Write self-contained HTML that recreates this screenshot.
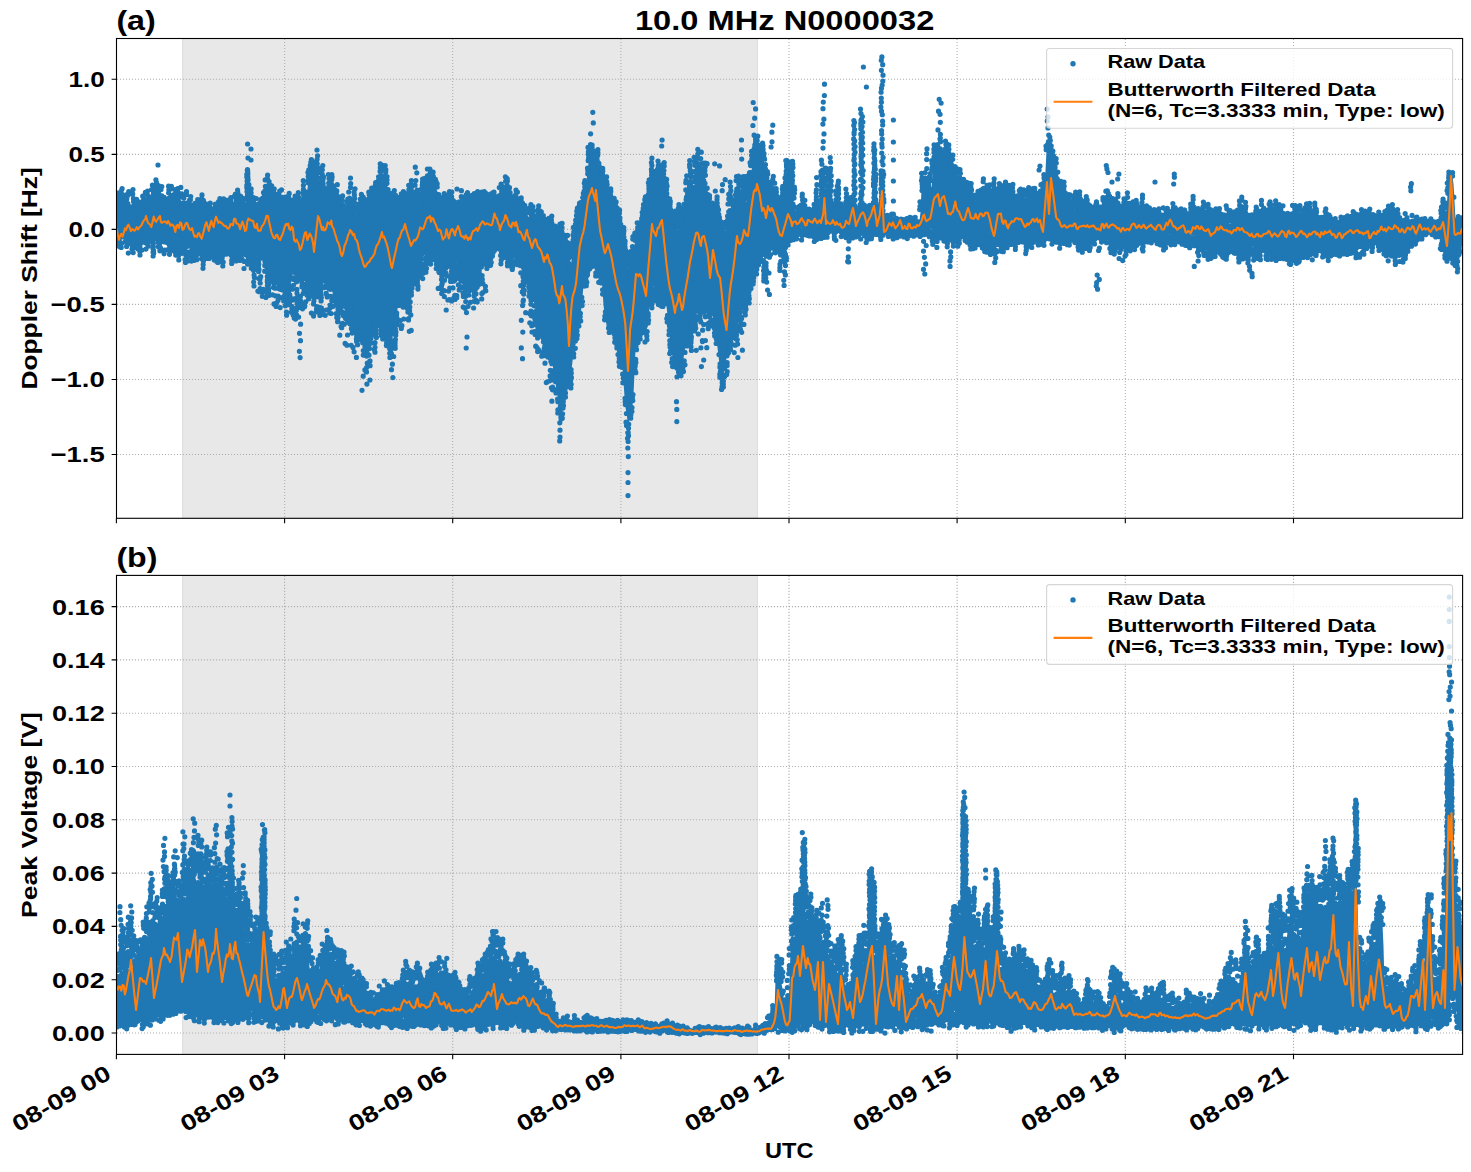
<!DOCTYPE html>
<html lang="en"><head><meta charset="utf-8"><title>10.0 MHz N0000032</title>
<style>html,body{margin:0;padding:0;background:#fff}svg{display:block}svg text{font-family:"Liberation Sans",sans-serif;font-weight:bold;fill:#000}</style>
</head><body>
<svg width="1471" height="1172" viewBox="0 0 1471 1172" font-family="Liberation Sans, sans-serif" font-weight="bold">
<rect width="1471" height="1172" fill="#fff"/>
<defs><clipPath id="c1"><rect x="116.5" y="38.5" width="1346.1" height="479.8"/></clipPath><clipPath id="c2"><rect x="116.5" y="575.4" width="1346.1" height="479"/></clipPath></defs>
<rect x="182.3" y="38.5" width="575.5" height="479.8" fill="#e8e8e8"/>
<path d="M182.7 38.5V518.3M757.4 38.5V518.3" stroke="#dddddd" stroke-width="1" fill="none"/>
<path d="M284.6 38.5V518.3M452.7 38.5V518.3M620.9 38.5V518.3M789 38.5V518.3M957.1 38.5V518.3M1125.3 38.5V518.3M1293.5 38.5V518.3M116.5 79.3H1462.6M116.5 154.4H1462.6M116.5 229.4H1462.6M116.5 304.4H1462.6M116.5 379.5H1462.6M116.5 454.5H1462.6" stroke="#b0b0b0" stroke-width="1.1" stroke-dasharray="1.1 1.9" stroke-dashoffset="-0.45" fill="none"/>
<g clip-path="url(#c1)">
<path d="M116.5 202.2L117.5 203.8L118.5 202.8L119.5 200.6L120.5 200.7L121.5 202L122.5 202.7L123.5 201L124.5 199.4L125.5 202L126.5 204.5L127.5 206.2L128.5 207.6L129.5 207.2L130.5 207.2L131.5 210.4L132.5 211.4L133.5 209.6L134.5 209.9L135.5 211.5L136.5 212.7L137.5 211.6L138.5 210.7L139.5 210.4L140.5 210.2L141.5 210.1L142.5 208.9L143.5 205.7L144.5 205.3L145.5 204.8L146.5 203.2L147.5 202.1L148.5 201.3L149.5 200.9L150.5 200L151.5 202.4L152.5 201.2L153.5 198.2L154.5 196.1L155.5 194.2L156.5 195.8L157.5 197L158.5 197.7L159.5 198.9L160.5 198.8L161.5 200.1L162.5 201.3L163.5 203.4L164.5 204.6L165.5 204.7L166.5 205.5L167.5 205.5L168.5 204.8L169.5 204.6L170.5 204.8L171.5 204.8L172.5 205.3L173.5 204.1L174.5 202.8L175.5 203.1L176.5 204.3L177.5 205.7L178.5 205.5L179.5 205.2L180.5 206.6L181.5 207L182.5 207.3L183.5 207.8L184.5 207.8L185.5 207.4L186.5 207.8L187.5 209.2L188.5 210.7L189.5 211.1L190.5 210.7L191.5 210.5L192.5 210.2L193.5 209.7L194.5 209.8L195.5 211.1L196.5 210.3L197.5 208.5L198.5 210.6L199.5 211.5L200.5 210.9L201.5 211.6L202.5 210.1L203.5 211.6L204.5 214.2L205.5 212.5L206.5 211.9L207.5 212L208.5 210.9L209.5 210.9L210.5 212.1L211.5 213.3L212.5 213.8L213.5 213.1L214.5 213.9L215.5 213.4L216.5 212.8L217.5 214L218.5 212.7L219.5 209.9L220.5 209L221.5 210.2L222.5 211L223.5 211.7L224.5 210.1L225.5 208.4L226.5 209.3L227.5 208.8L228.5 205.9L229.5 206.3L230.5 209.8L231.5 209.6L232.5 206.5L233.5 204.9L234.5 205.4L235.5 207.4L236.5 207.7L237.5 206L238.5 207L239.5 207.1L240.5 207.6L241.5 207.4L242.5 205.7L243.5 207.1L244.5 206.3L245.5 201.2L246.5 195.3L247.5 188.2L248.5 187.4L249.5 193.4L250.5 198.6L251.5 204.5L252.5 207.5L253.5 208.1L254.5 209L255.5 208.5L256.5 208.5L257.5 208.5L258.5 208.4L259.5 207L260.5 205.4L261.5 204L262.5 204.2L263.5 204.5L264.5 201.1L265.5 197.5L266.5 194.6L267.5 193.1L268.5 194.3L269.5 198L270.5 200L271.5 199.6L272.5 198.6L273.5 200.9L274.5 203.6L275.5 201.6L276.5 201.9L277.5 202.1L278.5 205.1L279.5 207.5L280.5 205.3L281.5 204.4L282.5 202.4L283.5 202.6L284.5 203.3L285.5 204.1L286.5 203.8L287.5 202.8L288.5 205.8L289.5 208.1L290.5 206.3L291.5 203.8L292.5 205.8L293.5 207.9L294.5 206.6L295.5 205.5L296.5 205.7L297.5 205.1L298.5 204.9L299.5 206.8L300.5 207.7L301.5 208.2L302.5 207.3L303.5 205.3L304.5 204.4L305.5 204.2L306.5 199.1L307.5 188.4L308.5 180.8L309.5 177.4L310.5 174.9L311.5 172.1L312.5 170.3L313.5 168.6L314.5 168.5L315.5 168.8L316.5 167.8L317.5 166.7L318.5 169.7L319.5 177.8L320.5 185.8L321.5 189.5L322.5 192.2L323.5 194.3L324.5 195.2L325.5 197.7L326.5 196.5L327.5 192.2L328.5 191.8L329.5 191.2L330.5 190L331.5 189.2L332.5 188.9L333.5 190.7L334.5 189.7L335.5 191.1L336.5 194L337.5 194.8L338.5 197L339.5 200.3L340.5 203.4L341.5 205.6L342.5 205.1L343.5 205L344.5 205.7L345.5 207.3L346.5 211L347.5 211.7L348.5 212.7L349.5 214.8L350.5 215.9L351.5 214.8L352.5 213L353.5 212.8L354.5 214.7L355.5 216L356.5 214.2L357.5 213.2L358.5 213L359.5 212.5L360.5 211.7L361.5 210.8L362.5 209.4L363.5 208.7L364.5 210.6L365.5 211.1L366.5 209.1L367.5 207.8L368.5 207L369.5 206.7L370.5 205.4L371.5 204.5L372.5 204.5L373.5 203L374.5 199L375.5 193.3L376.5 187.5L377.5 183.6L378.5 179L379.5 176.6L380.5 176.5L381.5 174.7L382.5 175.1L383.5 177.5L384.5 178.5L385.5 178.4L386.5 181L387.5 186.4L388.5 193L389.5 196.1L390.5 195.7L391.5 196.3L392.5 197.5L393.5 198.4L394.5 201.3L395.5 203.7L396.5 203.6L397.5 205.5L398.5 205.7L399.5 205.1L400.5 206.2L401.5 204.1L402.5 201.9L403.5 202.2L404.5 204.1L405.5 205.7L406.5 203.8L407.5 203.4L408.5 203.9L409.5 202.5L410.5 202.1L411.5 202L412.5 200.7L413.5 200L414.5 200.2L415.5 201.3L416.5 203.8L417.5 205.5L418.5 203.3L419.5 199.4L420.5 197.5L421.5 194.6L422.5 193.1L423.5 190.9L424.5 186.2L425.5 185.2L426.5 184.9L427.5 181.4L428.5 179.2L429.5 179L430.5 179.3L431.5 180.6L432.5 181.3L433.5 182.4L434.5 183.2L435.5 183.3L436.5 188L437.5 194.1L438.5 198.2L439.5 201.5L440.5 203.6L441.5 205.8L442.5 205L443.5 205.4L444.5 206.3L445.5 205.9L446.5 206.3L447.5 206.3L448.5 207.6L449.5 207.2L450.5 207.7L451.5 207.6L452.5 205.6L453.5 206.8L454.5 206.7L455.5 205.8L456.5 207.4L457.5 208.8L458.5 206.5L459.5 205.9L460.5 209L461.5 209.6L462.5 207.8L463.5 206.3L464.5 206.3L465.5 205.8L466.5 205.8L467.5 206.6L468.5 206.6L469.5 207.6L470.5 207.4L471.5 205L472.5 205.9L473.5 206.1L474.5 204.7L475.5 205.3L476.5 205.2L477.5 204.3L478.5 204.2L479.5 206.7L480.5 206.3L481.5 204.4L482.5 205.8L483.5 206.6L484.5 206.3L485.5 206.3L486.5 204.1L487.5 202.7L488.5 204.4L489.5 205.5L490.5 206.5L491.5 206.5L492.5 205.2L493.5 204.8L494.5 204.9L495.5 205L496.5 204.9L497.5 202.8L498.5 199.9L499.5 197.8L500.5 197.7L501.5 197.8L502.5 196.1L503.5 194.3L504.5 192.7L505.5 190.4L506.5 190.3L507.5 190.9L508.5 191.7L509.5 193.5L510.5 195.7L511.5 197.1L512.5 197.8L513.5 199.9L514.5 202.5L515.5 202.8L516.5 202L517.5 204.1L518.5 204.8L519.5 205.4L520.5 206.7L521.5 207L522.5 206.8L523.5 208.3L524.5 210.3L525.5 209.8L526.5 212.7L527.5 214.9L528.5 216.8L529.5 217.2L530.5 214.7L531.5 215.1L532.5 217.4L533.5 218L534.5 217.7L535.5 218.8L536.5 218.3L537.5 218.7L538.5 219.7L539.5 219.2L540.5 221.1L541.5 223.5L542.5 223.7L543.5 223.2L544.5 222.3L545.5 224.3L546.5 226.7L547.5 225.8L548.5 226.6L549.5 227.6L550.5 228.5L551.5 230.7L552.5 231.5L553.5 231.8L554.5 231.9L555.5 231.1L556.5 230.9L557.5 231.6L558.5 232L559.5 232.9L560.5 234.9L561.5 238.4L562.5 238.1L563.5 239.4L564.5 243.7L565.5 247.6L566.5 251.7L567.5 252.4L568.5 259L569.5 269.9L570.5 270.4L571.5 259.9L572.5 249L573.5 241.1L574.5 233.8L575.5 226.1L576.5 218.7L577.5 215.1L578.5 213L579.5 208L580.5 202.4L581.5 199.3L582.5 197.3L583.5 193.7L584.5 189.8L585.5 187.8L586.5 181.2L587.5 171.6L588.5 163L589.5 157.8L590.5 156.8L591.5 154.6L592.5 154L593.5 157.1L594.5 158.3L595.5 157.5L596.5 160.3L597.5 162.4L598.5 162.5L599.5 166.2L600.5 170.6L601.5 175.6L602.5 179.3L603.5 181.5L604.5 184.4L605.5 187.2L606.5 190.1L607.5 192.3L608.5 195.1L609.5 197L610.5 200.6L611.5 204.6L612.5 206.5L613.5 207.6L614.5 209.4L615.5 213L616.5 219L617.5 221.9L618.5 222.7L619.5 226L620.5 229.5L621.5 233.3L622.5 238L623.5 244L624.5 248.2L625.5 250.6L626.5 253.2L627.5 257.8L628.5 263.2L629.5 278L630.5 277.1L631.5 262.1L632.5 257.1L633.5 251.4L634.5 244.7L635.5 237.9L636.5 233.7L637.5 231.5L638.5 230.5L639.5 227.1L640.5 222.4L641.5 221.7L642.5 219.2L643.5 216.6L644.5 214.1L645.5 210.4L646.5 207.5L647.5 203.5L648.5 200.4L649.5 200.7L650.5 199.4L651.5 195.4L652.5 193.7L653.5 192.5L654.5 191.3L655.5 189.4L656.5 187.2L657.5 186.8L658.5 185.1L659.5 181.6L660.5 180.1L661.5 179.2L662.5 181.1L663.5 184.9L664.5 187.5L665.5 191.8L666.5 197.8L667.5 201.5L668.5 203.8L669.5 207.4L670.5 210.8L671.5 214.5L672.5 218.4L673.5 219.3L674.5 221.8L675.5 225.1L676.5 225.7L677.5 229.7L678.5 229.8L679.5 227.5L680.5 226.4L681.5 221.9L682.5 219.1L683.5 217.5L684.5 214L685.5 208.5L686.5 205.8L687.5 205.6L688.5 202.9L689.5 202.6L690.5 202.8L691.5 202L692.5 202.9L693.5 203.6L694.5 204L695.5 205.2L696.5 206.6L697.5 206.6L698.5 206.2L699.5 204.8L700.5 204.6L701.5 204.5L702.5 203.6L703.5 202.8L704.5 202.5L705.5 204.8L706.5 205.5L707.5 208.7L708.5 211L709.5 210.2L710.5 210.8L711.5 213.2L712.5 216L713.5 215.9L714.5 214.8L715.5 215.4L716.5 218.4L717.5 219.8L718.5 219.6L719.5 220.4L720.5 222.1L721.5 224.6L722.5 226.2L723.5 227.7L724.5 230.6L725.5 230.5L726.5 225.9L727.5 223.2L728.5 222.1L729.5 219.2L730.5 217.5L731.5 214.8L732.5 211.5L733.5 209.4L734.5 207.6L735.5 207L736.5 206.7L737.5 204.5L738.5 203.5L739.5 204L740.5 205L741.5 205.9L742.5 205.9L743.5 205.7L744.5 203.4L745.5 203.8L746.5 203.1L747.5 198.1L748.5 191.8L749.5 186.5L750.5 180.2L751.5 170.9L752.5 163.1L753.5 157.6L754.5 152.6L755.5 146.8L756.5 143.8L757.5 145.2L758.5 148.7L759.5 149.6L760.5 148.3L761.5 150.2L762.5 154.9L763.5 159.5L764.5 164.1L765.5 168.5L766.5 173.2L767.5 177.5L768.5 181.2L769.5 184.8L770.5 187.6L771.5 190.9L772.5 193.6L773.5 195.5L774.5 198.6L775.5 200.6L776.5 201.5L777.5 202.3L778.5 202.5L779.5 204.6L780.5 208.4L781.5 209.6L782.5 211.1L783.5 211.6L784.5 210.8L785.5 210.6L786.5 209.2L787.5 211L788.5 210.5L789.5 209L790.5 209.1L791.5 208.5L792.5 208.1L793.5 207.4L794.5 208.7L795.5 210.6L796.5 209L797.5 207.2L798.5 208.6L799.5 207.9L800.5 207.9L801.5 208.2L802.5 208.6L803.5 210.1L804.5 211L805.5 211.4L806.5 209.9L807.5 210.6L808.5 211.1L809.5 211.7L810.5 214.3L811.5 214.6L812.5 213.3L813.5 214.3L814.5 215.1L815.5 213.1L816.5 212.6L817.5 214.8L818.5 214.9L819.5 213.8L820.5 213.7L821.5 212.2L822.5 212L823.5 213.7L824.5 214.3L825.5 213.8L826.5 211.9L827.5 213L828.5 215.4L829.5 215.2L830.5 215.7L831.5 214.4L832.5 212.8L833.5 213.4L834.5 215.3L835.5 213.6L836.5 212L837.5 212.8L838.5 213.5L839.5 215.3L840.5 214.7L841.5 212.5L842.5 212.8L843.5 213.6L844.5 212.3L845.5 213.4L846.5 214.2L847.5 214.1L848.5 213.4L849.5 213.7L850.5 213.5L851.5 213.4L852.5 213L853.5 213.2L854.5 214.3L855.5 211.8L856.5 211.9L857.5 213.3L858.5 212.6L859.5 211.9L860.5 212.8L861.5 213L862.5 210.2L863.5 209.9L864.5 212.7L865.5 213.2L866.5 213.6L867.5 212.7L868.5 213.9L869.5 215.1L870.5 213.1L871.5 213.3L872.5 213.8L873.5 213L874.5 211.7L875.5 212.4L876.5 213.3L877.5 210.9L878.5 209.6L879.5 212.2L880.5 214.5L881.5 215.7L882.5 217.4L883.5 218.7L884.5 220.8L885.5 220.9L886.5 219.3L887.5 220.2L888.5 221.2L889.5 221.7L890.5 222.4L891.5 221.5L892.5 221.3L893.5 222.2L894.5 220.6L895.5 220.2L896.5 222.7L897.5 223.5L898.5 221.7L899.5 219.4L900.5 219.3L901.5 220.5L902.5 221.1L903.5 223.4L904.5 223.9L905.5 222.4L906.5 221.1L907.5 220L908.5 220.6L909.5 221.1L910.5 223.5L911.5 223.5L912.5 220.8L913.5 222L914.5 222.5L915.5 220.7L916.5 221.6L917.5 222.3L918.5 220.4L919.5 220.8L920.5 212.3L921.5 189.1L922.5 189.3L923.5 190.3L924.5 188.9L925.5 186.6L926.5 185.3L927.5 186.9L928.5 189.9L929.5 190.9L930.5 196L931.5 191.7L932.5 170.6L933.5 157.9L934.5 156.6L935.5 156.3L936.5 157.9L937.5 157.2L938.5 156.6L939.5 155.7L940.5 156.2L941.5 158.2L942.5 157.8L943.5 157.1L944.5 156.9L945.5 156.7L946.5 156.4L947.5 156.5L948.5 157.1L949.5 157.1L950.5 160.1L951.5 165.5L952.5 169.8L953.5 175.6L954.5 179.7L955.5 179.5L956.5 179.9L957.5 181.8L958.5 182.6L959.5 181.8L960.5 183L961.5 184.7L962.5 186.6L963.5 189.4L964.5 190.6L965.5 189.4L966.5 191L967.5 195.3L968.5 194.7L969.5 195.3L970.5 196.9L971.5 196.3L972.5 196.1L973.5 195.8L974.5 196.4L975.5 200.2L976.5 201.1L977.5 199.1L978.5 198.3L979.5 197L980.5 196.5L981.5 195.7L982.5 196.3L983.5 196.2L984.5 195.6L985.5 194.3L986.5 193.7L987.5 194L988.5 194L989.5 195L990.5 194.7L991.5 196.8L992.5 198.1L993.5 198L994.5 198L995.5 198.1L996.5 198.2L997.5 198L998.5 198.4L999.5 197.3L1000.5 195.6L1001.5 196.3L1002.5 198.2L1003.5 198.7L1004.5 197.3L1005.5 197.4L1006.5 198.9L1007.5 198.9L1008.5 199.2L1009.5 199L1010.5 199L1011.5 200.3L1012.5 200L1013.5 198.3L1014.5 198.8L1015.5 200.5L1016.5 199.3L1017.5 198.8L1018.5 201L1019.5 201.6L1020.5 201.3L1021.5 200.5L1022.5 201.3L1023.5 203.9L1024.5 203.1L1025.5 201.2L1026.5 200.5L1027.5 202L1028.5 203.1L1029.5 201.9L1030.5 202.9L1031.5 204.3L1032.5 203.9L1033.5 202L1034.5 201.3L1035.5 203.1L1036.5 201.9L1037.5 201.9L1038.5 203.8L1039.5 203.7L1040.5 201.6L1041.5 199.9L1042.5 197.5L1043.5 191.6L1044.5 184.5L1045.5 171L1046.5 149.9L1047.5 144.6L1048.5 142.1L1049.5 145.1L1050.5 150.5L1051.5 155.5L1052.5 163.2L1053.5 170.1L1054.5 172.8L1055.5 173.2L1056.5 174.3L1057.5 176.5L1058.5 181.8L1059.5 186.1L1060.5 189.1L1061.5 195.3L1062.5 199.2L1063.5 200.8L1064.5 202.5L1065.5 202.3L1066.5 202.7L1067.5 205.1L1068.5 206.2L1069.5 209.1L1070.5 208L1071.5 206.4L1072.5 206.9L1073.5 207.6L1074.5 209.8L1075.5 208.4L1076.5 209.1L1077.5 209.7L1078.5 209.2L1079.5 209.5L1080.5 208L1081.5 207.6L1082.5 208L1083.5 209L1084.5 209.3L1085.5 210.8L1086.5 210.6L1087.5 208.4L1088.5 208.4L1089.5 208.9L1090.5 208.9L1091.5 209.3L1092.5 211.8L1093.5 213.3L1094.5 213L1095.5 213.8L1096.5 215.5L1097.5 216.3L1098.5 215.8L1099.5 213.8L1100.5 211.9L1101.5 210.6L1102.5 209.7L1103.5 208.6L1104.5 207L1105.5 205.5L1106.5 203.7L1107.5 201.6L1108.5 201.1L1109.5 203.9L1110.5 205.6L1111.5 205.1L1112.5 206.4L1113.5 206.6L1114.5 205.7L1115.5 206.9L1116.5 206.6L1117.5 204L1118.5 205.9L1119.5 209.6L1120.5 208.2L1121.5 206.8L1122.5 208.9L1123.5 208.2L1124.5 207.3L1125.5 208.2L1126.5 209L1127.5 208.6L1128.5 209.7L1129.5 211.5L1130.5 211.3L1131.5 211.4L1132.5 209.5L1133.5 209.8L1134.5 210.6L1135.5 210.9L1136.5 211.5L1137.5 211.4L1138.5 212.1L1139.5 213.4L1140.5 214.5L1141.5 213.4L1142.5 213L1143.5 215.4L1144.5 216.2L1145.5 214.7L1146.5 214.5L1147.5 215.1L1148.5 216.4L1149.5 217L1150.5 216.9L1151.5 219L1152.5 217.9L1153.5 215.5L1154.5 215.6L1155.5 215.2L1156.5 217.3L1157.5 218.8L1158.5 219.4L1159.5 217.4L1160.5 215.3L1161.5 218.1L1162.5 219.6L1163.5 219.1L1164.5 218.9L1165.5 218.1L1166.5 217.3L1167.5 217.2L1168.5 217.9L1169.5 217.6L1170.5 217.2L1171.5 218.4L1172.5 217.2L1173.5 215.3L1174.5 216.7L1175.5 217.1L1176.5 216.5L1177.5 218.5L1178.5 219L1179.5 216.9L1180.5 217.5L1181.5 219.9L1182.5 218.1L1183.5 215.5L1184.5 216.6L1185.5 216.6L1186.5 218.3L1187.5 219.3L1188.5 217.2L1189.5 217.2L1190.5 215.9L1191.5 213L1192.5 211.8L1193.5 212.3L1194.5 210.4L1195.5 210.9L1196.5 216L1197.5 218.3L1198.5 220L1199.5 220L1200.5 218.8L1201.5 218.6L1202.5 218.1L1203.5 219.8L1204.5 219.8L1205.5 218.6L1206.5 219.5L1207.5 219.2L1208.5 217.9L1209.5 218.3L1210.5 220.2L1211.5 220.7L1212.5 221.3L1213.5 221.1L1214.5 219.9L1215.5 220.3L1216.5 221.4L1217.5 220.4L1218.5 218.6L1219.5 218.5L1220.5 220.7L1221.5 222.4L1222.5 220.8L1223.5 220.1L1224.5 221.5L1225.5 222.5L1226.5 221.3L1227.5 220L1228.5 221.7L1229.5 223.7L1230.5 223.6L1231.5 220.5L1232.5 219.4L1233.5 219.9L1234.5 219.3L1235.5 218.8L1236.5 218.2L1237.5 218.6L1238.5 219.2L1239.5 217.3L1240.5 213.7L1241.5 210.6L1242.5 209.6L1243.5 211.9L1244.5 216.1L1245.5 219.5L1246.5 221.8L1247.5 222.3L1248.5 221.7L1249.5 221.1L1250.5 221.7L1251.5 220.9L1252.5 221.2L1253.5 221.4L1254.5 219.5L1255.5 218.2L1256.5 217.1L1257.5 216.8L1258.5 217.5L1259.5 217.8L1260.5 215.2L1261.5 212.8L1262.5 213.5L1263.5 215.1L1264.5 214.7L1265.5 216L1266.5 217.1L1267.5 217L1268.5 216.8L1269.5 216.3L1270.5 216.5L1271.5 215.7L1272.5 216.7L1273.5 218.5L1274.5 216.7L1275.5 216.5L1276.5 219L1277.5 219.2L1278.5 219.4L1279.5 219.1L1280.5 218.1L1281.5 217.4L1282.5 216.7L1283.5 216.4L1284.5 216.5L1285.5 218.3L1286.5 219.6L1287.5 220.4L1288.5 220L1289.5 218.1L1290.5 218.3L1291.5 218.9L1292.5 219.9L1293.5 221.6L1294.5 220.8L1295.5 218.2L1296.5 216.9L1297.5 217.9L1298.5 217.7L1299.5 217.9L1300.5 219L1301.5 219.1L1302.5 218.7L1303.5 217.2L1304.5 216.2L1305.5 216.8L1306.5 218.5L1307.5 219.8L1308.5 219.5L1309.5 218.4L1310.5 218.1L1311.5 218.4L1312.5 218.8L1313.5 219L1314.5 217.2L1315.5 217.8L1316.5 219.9L1317.5 219.2L1318.5 219.8L1319.5 220.9L1320.5 220.9L1321.5 219.8L1322.5 220.4L1323.5 222.6L1324.5 222.8L1325.5 221.4L1326.5 222.2L1327.5 224.5L1328.5 224.6L1329.5 224.5L1330.5 224.1L1331.5 223.3L1332.5 224L1333.5 224.3L1334.5 224.1L1335.5 227.1L1336.5 227.6L1337.5 225.1L1338.5 223.2L1339.5 223.2L1340.5 225.2L1341.5 224.6L1342.5 223.8L1343.5 222.6L1344.5 223.3L1345.5 224.7L1346.5 224.9L1347.5 226.3L1348.5 225.2L1349.5 224.5L1350.5 224.5L1351.5 223.2L1352.5 222.3L1353.5 221.4L1354.5 222.3L1355.5 223.4L1356.5 221.1L1357.5 220.7L1358.5 220.6L1359.5 218.3L1360.5 219.5L1361.5 219.3L1362.5 218.9L1363.5 220.1L1364.5 220.2L1365.5 220.8L1366.5 221.4L1367.5 221.6L1368.5 221.5L1369.5 221.7L1370.5 222.5L1371.5 222.3L1372.5 222.6L1373.5 224.5L1374.5 223.9L1375.5 223.4L1376.5 223.4L1377.5 222.7L1378.5 223L1379.5 222.6L1380.5 221.3L1381.5 221.2L1382.5 221.7L1383.5 221.6L1384.5 221.7L1385.5 219.6L1386.5 219.8L1387.5 220.5L1388.5 218L1389.5 217.1L1390.5 217.4L1391.5 218.3L1392.5 218.2L1393.5 218.1L1394.5 217.6L1395.5 218.1L1396.5 219.8L1397.5 219.8L1398.5 221.1L1399.5 223.5L1400.5 224.1L1401.5 222.5L1402.5 223.2L1403.5 223.9L1404.5 222.9L1405.5 223L1406.5 223.7L1407.5 225L1408.5 225L1409.5 224.7L1410.5 224.8L1411.5 224.7L1412.5 225.5L1413.5 225.3L1414.5 224.2L1415.5 224.3L1416.5 223.7L1417.5 223.6L1418.5 222.9L1419.5 223.3L1420.5 224.8L1421.5 224.1L1422.5 224.7L1423.5 224.2L1424.5 223.3L1425.5 224.1L1426.5 223.2L1427.5 222.8L1428.5 223.9L1429.5 224.3L1430.5 224.1L1431.5 225.2L1432.5 225.4L1433.5 223.5L1434.5 223.1L1435.5 225L1436.5 225.6L1437.5 224.2L1438.5 222.3L1439.5 222.8L1440.5 220.7L1441.5 210.5L1442.5 202.2L1443.5 203.6L1444.5 205L1445.5 211.3L1446.5 210.5L1447.5 194L1448.5 183.4L1449.5 178.4L1450.5 175.2L1451.5 174.3L1452.5 175.2L1453.5 184.3L1454.5 200.9L1455.5 218.7L1456.5 228.8L1457.5 230.2L1458.5 229.7L1459.5 227.8L1460.5 226.2L1461.5 225.4L1462.5 225.5L1462.5 240.5L1461.5 244.2L1460.5 245.2L1459.5 248.3L1458.5 254.5L1457.5 259.2L1456.5 260.6L1455.5 257.9L1454.5 253.3L1453.5 252.4L1452.5 251.7L1451.5 249L1450.5 249.3L1449.5 249.3L1448.5 247.5L1447.5 247.7L1446.5 248.5L1445.5 245.5L1444.5 245.1L1443.5 245.5L1442.5 242.8L1441.5 238.2L1440.5 237L1439.5 236.7L1438.5 235.3L1437.5 235.4L1436.5 234.8L1435.5 233.3L1434.5 233.9L1433.5 233.4L1432.5 232.9L1431.5 233.2L1430.5 232.6L1429.5 233.3L1428.5 232.9L1427.5 232.1L1426.5 233.9L1425.5 234.9L1424.5 233L1423.5 233.8L1422.5 235.5L1421.5 235.3L1420.5 236.9L1419.5 237.4L1418.5 235.7L1417.5 236.6L1416.5 238.7L1415.5 239L1414.5 239.8L1413.5 240.1L1412.5 238.7L1411.5 240.5L1410.5 243.3L1409.5 243.4L1408.5 244.7L1407.5 244.5L1406.5 244.6L1405.5 246.4L1404.5 248.2L1403.5 249.3L1402.5 248.4L1401.5 248.9L1400.5 248.6L1399.5 247.9L1398.5 249.6L1397.5 250.9L1396.5 251.8L1395.5 250.5L1394.5 248.7L1393.5 247.8L1392.5 248.4L1391.5 247.9L1390.5 247.4L1389.5 248.2L1388.5 248L1387.5 247.3L1386.5 247.7L1385.5 247.1L1384.5 244.2L1383.5 244.9L1382.5 246L1381.5 244.9L1380.5 243.1L1379.5 240.9L1378.5 241.5L1377.5 241.6L1376.5 238.4L1375.5 238.6L1374.5 240.2L1373.5 241L1372.5 242L1371.5 242.7L1370.5 242.7L1369.5 241.6L1368.5 243.6L1367.5 244.9L1366.5 242.9L1365.5 243.2L1364.5 243.3L1363.5 243.3L1362.5 245.6L1361.5 245L1360.5 242.9L1359.5 244.5L1358.5 246.3L1357.5 246.6L1356.5 248L1355.5 247.5L1354.5 247.4L1353.5 244.7L1352.5 242.7L1351.5 244.4L1350.5 244.1L1349.5 244.6L1348.5 245.4L1347.5 246.1L1346.5 247.2L1345.5 245.8L1344.5 244.3L1343.5 242.9L1342.5 245.1L1341.5 247.7L1340.5 246.9L1339.5 245.7L1338.5 244.4L1337.5 245L1336.5 244.1L1335.5 244.7L1334.5 246.1L1333.5 246.6L1332.5 248.1L1331.5 247.3L1330.5 246.5L1329.5 249.2L1328.5 250.7L1327.5 248.1L1326.5 246.4L1325.5 248.4L1324.5 249.4L1323.5 247.9L1322.5 249.1L1321.5 249.8L1320.5 248L1319.5 248.2L1318.5 249.2L1317.5 249.4L1316.5 250.1L1315.5 250.4L1314.5 249.2L1313.5 249.8L1312.5 252.2L1311.5 252.3L1310.5 251.8L1309.5 250.4L1308.5 249.2L1307.5 249.7L1306.5 251.3L1305.5 252.4L1304.5 251.1L1303.5 251.3L1302.5 252.9L1301.5 251.3L1300.5 249.2L1299.5 249L1298.5 248.3L1297.5 250.9L1296.5 251.4L1295.5 249.3L1294.5 249.6L1293.5 250.6L1292.5 250.2L1291.5 249.2L1290.5 249.3L1289.5 249.6L1288.5 249.7L1287.5 250.7L1286.5 249.3L1285.5 247.6L1284.5 249.5L1283.5 249.1L1282.5 247.9L1281.5 247.7L1280.5 249L1279.5 251L1278.5 249.6L1277.5 248.8L1276.5 250L1275.5 251L1274.5 250.7L1273.5 250.4L1272.5 251L1271.5 248.8L1270.5 248.8L1269.5 250.6L1268.5 249.6L1267.5 249.8L1266.5 249.2L1265.5 248.7L1264.5 248.4L1263.5 247.4L1262.5 248.6L1261.5 248.3L1260.5 248.2L1259.5 249.3L1258.5 248.5L1257.5 248.2L1256.5 248.8L1255.5 248.5L1254.5 248.2L1253.5 246.3L1252.5 247L1251.5 250.7L1250.5 249.8L1249.5 247.9L1248.5 247.6L1247.5 248.2L1246.5 249L1245.5 247L1244.5 245.6L1243.5 246.4L1242.5 246.7L1241.5 246.1L1240.5 245.7L1239.5 245.1L1238.5 244.4L1237.5 246.5L1236.5 247.8L1235.5 246.2L1234.5 245.7L1233.5 246.7L1232.5 247.5L1231.5 247.4L1230.5 247.9L1229.5 248.4L1228.5 246.8L1227.5 246.5L1226.5 246.9L1225.5 245.9L1224.5 246.4L1223.5 248.8L1222.5 248.2L1221.5 245.6L1220.5 246.2L1219.5 246.8L1218.5 245.8L1217.5 247.4L1216.5 247.3L1215.5 247L1214.5 246.9L1213.5 246.3L1212.5 248.2L1211.5 246.6L1210.5 243L1209.5 243.1L1208.5 246L1207.5 246.9L1206.5 245.9L1205.5 244.7L1204.5 242.7L1203.5 242.1L1202.5 241.3L1201.5 240.4L1200.5 240.5L1199.5 241L1198.5 241.1L1197.5 240.7L1196.5 240.2L1195.5 238.2L1194.5 236L1193.5 235.6L1192.5 236L1191.5 235.2L1190.5 234.8L1189.5 237.2L1188.5 237.7L1187.5 238.2L1186.5 238.9L1185.5 237.8L1184.5 237.7L1183.5 237.4L1182.5 235.2L1181.5 235.5L1180.5 239L1179.5 239.3L1178.5 237.5L1177.5 237.5L1176.5 239.4L1175.5 240.6L1174.5 239.6L1173.5 238.8L1172.5 237.7L1171.5 237.6L1170.5 236.9L1169.5 234.3L1168.5 236.7L1167.5 237.2L1166.5 236.1L1165.5 237.8L1164.5 239.5L1163.5 238.5L1162.5 235.9L1161.5 236L1160.5 236.1L1159.5 236L1158.5 234.9L1157.5 234.3L1156.5 234.4L1155.5 234.1L1154.5 235.2L1153.5 237.7L1152.5 236.8L1151.5 235.8L1150.5 237.7L1149.5 237.3L1148.5 236.8L1147.5 235.9L1146.5 237.6L1145.5 238L1144.5 236.6L1143.5 236.2L1142.5 235.5L1141.5 234.7L1140.5 235.5L1139.5 236.6L1138.5 238.5L1137.5 239.4L1136.5 236.5L1135.5 237.4L1134.5 238.3L1133.5 237.9L1132.5 238.7L1131.5 238.4L1130.5 238.4L1129.5 239.7L1128.5 240.2L1127.5 238.6L1126.5 239.2L1125.5 241.5L1124.5 240.5L1123.5 239.3L1122.5 241.3L1121.5 241.7L1120.5 240.2L1119.5 240.9L1118.5 240.4L1117.5 238.2L1116.5 237.9L1115.5 236.4L1114.5 236.8L1113.5 237.6L1112.5 237L1111.5 238.3L1110.5 236.9L1109.5 236.1L1108.5 235.6L1107.5 234.3L1106.5 234L1105.5 234.3L1104.5 235.4L1103.5 235.7L1102.5 235.3L1101.5 233.3L1100.5 233.4L1099.5 236.4L1098.5 236.4L1097.5 237.7L1096.5 238L1095.5 237L1094.5 237.5L1093.5 236.3L1092.5 236.6L1091.5 236.4L1090.5 235.2L1089.5 236.9L1088.5 238.4L1087.5 237.4L1086.5 236.9L1085.5 236.1L1084.5 235.3L1083.5 235.9L1082.5 236.6L1081.5 237.8L1080.5 237.7L1079.5 237.8L1078.5 237.8L1077.5 236.6L1076.5 236.5L1075.5 235.8L1074.5 237.3L1073.5 238.7L1072.5 237.4L1071.5 237.2L1070.5 238.2L1069.5 238.8L1068.5 237.8L1067.5 237.3L1066.5 235.7L1065.5 234.7L1064.5 234.9L1063.5 234.5L1062.5 235.7L1061.5 235.7L1060.5 232.5L1059.5 231.7L1058.5 232.1L1057.5 230.4L1056.5 228.4L1055.5 230.4L1054.5 232.7L1053.5 231.9L1052.5 233.2L1051.5 234.6L1050.5 233.9L1049.5 234.8L1048.5 237L1047.5 235.9L1046.5 235L1045.5 235.7L1044.5 235.4L1043.5 235.9L1042.5 235.1L1041.5 235L1040.5 235.9L1039.5 234.9L1038.5 236L1037.5 237.9L1036.5 237.9L1035.5 237.1L1034.5 237L1033.5 237.1L1032.5 237.1L1031.5 237.7L1030.5 239.4L1029.5 238.7L1028.5 237L1027.5 237L1026.5 236.4L1025.5 237.6L1024.5 237L1023.5 237.1L1022.5 238.9L1021.5 238.8L1020.5 237.6L1019.5 237.3L1018.5 238.5L1017.5 239L1016.5 239.8L1015.5 238.2L1014.5 236.4L1013.5 239.5L1012.5 241.9L1011.5 240.7L1010.5 239.1L1009.5 239.3L1008.5 240L1007.5 239.6L1006.5 239.7L1005.5 241.2L1004.5 241.6L1003.5 239.3L1002.5 238.6L1001.5 239.2L1000.5 240.7L999.5 241.6L998.5 242.6L997.5 242.6L996.5 240.2L995.5 241.6L994.5 243.5L993.5 242.8L992.5 240.8L991.5 243L990.5 244.6L989.5 241.5L988.5 241.9L987.5 239.9L986.5 238.8L985.5 240.6L984.5 240.3L983.5 241.1L982.5 239L981.5 237.7L980.5 237L979.5 236.2L978.5 237.7L977.5 237.4L976.5 237L975.5 237.3L974.5 238.2L973.5 237.7L972.5 236.9L971.5 236.6L970.5 236.6L969.5 236.6L968.5 234.5L967.5 234.3L966.5 235.8L965.5 235.4L964.5 234.7L963.5 234.7L962.5 235.8L961.5 235.6L960.5 232.9L959.5 232.1L958.5 232.6L957.5 232L956.5 233L955.5 233.4L954.5 232.2L953.5 233.4L952.5 233.7L951.5 231.6L950.5 230L949.5 230.7L948.5 229.2L947.5 229.4L946.5 231.6L945.5 231.3L944.5 229.8L943.5 229.6L942.5 230.9L941.5 229.8L940.5 228.8L939.5 230.5L938.5 231.6L937.5 231.2L936.5 229.7L935.5 230.9L934.5 232.5L933.5 231.5L932.5 231.1L931.5 228.7L930.5 228.8L929.5 231.2L928.5 230.6L927.5 229.4L926.5 229.4L925.5 229.3L924.5 230.1L923.5 232.1L922.5 230.4L921.5 229.7L920.5 231.3L919.5 233.5L918.5 233.3L917.5 233.5L916.5 235.3L915.5 232.8L914.5 232.3L913.5 233.3L912.5 232.7L911.5 233.2L910.5 233.4L909.5 231.5L908.5 231.5L907.5 232.1L906.5 231.4L905.5 231.4L904.5 232.2L903.5 231.9L902.5 231.8L901.5 231.6L900.5 231.6L899.5 231.8L898.5 231.8L897.5 232L896.5 230.9L895.5 232L894.5 233L893.5 233.3L892.5 233.6L891.5 233.4L890.5 232.9L889.5 231.7L888.5 231.7L887.5 232.1L886.5 232.2L885.5 232.7L884.5 232.4L883.5 231L882.5 230.6L881.5 231L880.5 230.7L879.5 229.9L878.5 231.3L877.5 233.1L876.5 233.9L875.5 232.6L874.5 230.3L873.5 229.5L872.5 229.5L871.5 231.1L870.5 232.5L869.5 230.7L868.5 230.7L867.5 231.8L866.5 232.1L865.5 231.1L864.5 230.7L863.5 233.5L862.5 232.3L861.5 230.6L860.5 229.8L859.5 228.7L858.5 229.3L857.5 230.3L856.5 230.7L855.5 230.1L854.5 229.5L853.5 231.4L852.5 232.4L851.5 231.8L850.5 233.2L849.5 232.7L848.5 232.5L847.5 232.5L846.5 232.4L845.5 233L844.5 232.7L843.5 231.7L842.5 230.8L841.5 230.2L840.5 230.3L839.5 230.8L838.5 229.8L837.5 229.7L836.5 232L835.5 231.7L834.5 229.8L833.5 231.6L832.5 231.3L831.5 229.8L830.5 229.5L829.5 231.4L828.5 231.5L827.5 230.1L826.5 231L825.5 230.6L824.5 232L823.5 232.7L822.5 231.2L821.5 231.1L820.5 231.3L819.5 231.4L818.5 231.4L817.5 232.7L816.5 233.6L815.5 232.1L814.5 231.3L813.5 230.5L812.5 231.2L811.5 233.3L810.5 234.4L809.5 232.4L808.5 230.4L807.5 230.9L806.5 231.2L805.5 230.5L804.5 229.8L803.5 231.1L802.5 230.6L801.5 227.6L800.5 228.8L799.5 229.9L798.5 230.5L797.5 230.8L796.5 230.7L795.5 233.3L794.5 232.5L793.5 230.7L792.5 232.5L791.5 233.2L790.5 231.5L789.5 232.5L788.5 235L787.5 237.9L786.5 240L785.5 240.9L784.5 243.3L783.5 247L782.5 250.9L781.5 250.4L780.5 248.1L779.5 247.1L778.5 247.3L777.5 247.7L776.5 247.1L775.5 246.3L774.5 245.9L773.5 245.5L772.5 244.7L771.5 245.4L770.5 246.5L769.5 245.3L768.5 245.4L767.5 246.3L766.5 245.5L765.5 246.9L764.5 250L763.5 251.3L762.5 252.3L761.5 254.2L760.5 256.6L759.5 259.4L758.5 259.2L757.5 258.6L756.5 262.8L755.5 267.5L754.5 269L753.5 269.9L752.5 275.2L751.5 278.8L750.5 279.8L749.5 283.6L748.5 285.1L747.5 286.8L746.5 291.1L745.5 295.2L744.5 296.3L743.5 297.5L742.5 300.7L741.5 303.6L740.5 305.8L739.5 306.8L738.5 308.1L737.5 311.9L736.5 315.1L735.5 318.6L734.5 322.7L733.5 326.1L732.5 327.5L731.5 330.3L730.5 336.6L729.5 342.6L728.5 348.4L727.5 353.4L726.5 357.9L725.5 364.2L724.5 369.6L723.5 373.3L722.5 377.8L721.5 374.8L720.5 368.3L719.5 363.7L718.5 356.4L717.5 347.8L716.5 336.2L715.5 328.3L714.5 327.1L713.5 322.4L712.5 316.6L711.5 313.8L710.5 312L709.5 309.9L708.5 306.2L707.5 301.4L706.5 298.6L705.5 298.4L704.5 297.2L703.5 297.6L702.5 301.4L701.5 303.5L700.5 305.3L699.5 308L698.5 310L697.5 310.7L696.5 314.3L695.5 317.8L694.5 318.7L693.5 320.7L692.5 324.4L691.5 327.3L690.5 330.1L689.5 332.9L688.5 334.6L687.5 337.2L686.5 342L685.5 347.6L684.5 351.3L683.5 358.4L682.5 366.4L681.5 369.6L680.5 369.9L679.5 368.5L678.5 368.1L677.5 367.4L676.5 365.8L675.5 364.1L674.5 361.3L673.5 358.2L672.5 356.7L671.5 352.3L670.5 342.4L669.5 333.9L668.5 325.5L667.5 314.9L666.5 306.4L665.5 301.6L664.5 300.6L663.5 299.3L662.5 296.5L661.5 295.6L660.5 295.1L659.5 293.1L658.5 291.2L657.5 288.7L656.5 287.3L655.5 289.2L654.5 287.1L653.5 286.3L652.5 292.1L651.5 296.1L650.5 300L649.5 308.6L648.5 317.7L647.5 326.9L646.5 328.5L645.5 322.1L644.5 313.9L643.5 310L642.5 315.8L641.5 318.6L640.5 319.1L639.5 324L638.5 329.7L637.5 334.9L636.5 337.8L635.5 349.6L634.5 372.6L633.5 394.6L632.5 406.1L631.5 409.6L630.5 412.3L629.5 418.2L628.5 424.8L627.5 421L626.5 412.9L625.5 407.5L624.5 396.6L623.5 381.9L622.5 368L621.5 359L620.5 355.3L619.5 350.4L618.5 347.9L617.5 345.2L616.5 340.7L615.5 336.5L614.5 332L613.5 329.5L612.5 328.1L611.5 325.3L610.5 323.6L609.5 322.5L608.5 321L607.5 319.5L606.5 317.7L605.5 314.6L604.5 312.6L603.5 305.6L602.5 289.4L601.5 278.5L600.5 276.4L599.5 275.3L598.5 271.3L597.5 268.9L596.5 266.5L595.5 263.6L594.5 261.5L593.5 258.1L592.5 253.5L591.5 252.4L590.5 257.3L589.5 259.5L588.5 259L587.5 261.6L586.5 268.6L585.5 275.1L584.5 278.8L583.5 285.6L582.5 296.6L581.5 307.2L580.5 317.3L579.5 323.6L578.5 328.7L577.5 332.3L576.5 333.9L575.5 335.7L574.5 338.7L573.5 349.7L572.5 361.6L571.5 369.4L570.5 375.1L569.5 379.7L568.5 383.1L567.5 385.8L566.5 387.8L565.5 391.6L564.5 394L563.5 394.9L562.5 399.6L561.5 403.1L560.5 406.6L559.5 405.5L558.5 399.8L557.5 396L556.5 388.8L555.5 383.3L554.5 377.6L553.5 369.3L552.5 364.7L551.5 359.6L550.5 356.2L549.5 354.9L548.5 352.7L547.5 350.6L546.5 346.2L545.5 341L544.5 337.2L543.5 335.9L542.5 334.9L541.5 330.7L540.5 327.1L539.5 325.4L538.5 323.2L537.5 318.4L536.5 312.6L535.5 307.7L534.5 304.4L533.5 299.4L532.5 293.9L531.5 288.6L530.5 285.7L529.5 284.5L528.5 281.8L527.5 279.6L526.5 276.1L525.5 274L524.5 272.5L523.5 270.9L522.5 268.1L521.5 264.8L520.5 265.2L519.5 263.2L518.5 261.3L517.5 259.3L516.5 256.7L515.5 255.9L514.5 255.3L513.5 253.8L512.5 252.1L511.5 250.2L510.5 250.2L509.5 250.8L508.5 250.4L507.5 249.2L506.5 248.9L505.5 250.3L504.5 249.6L503.5 248L502.5 245.8L501.5 245.4L500.5 245.6L499.5 246.3L498.5 246.2L497.5 244L496.5 242.5L495.5 244.3L494.5 246.2L493.5 246.7L492.5 246.8L491.5 247.4L490.5 249.9L489.5 251.7L488.5 251.8L487.5 252.1L486.5 254.1L485.5 256.4L484.5 259.3L483.5 261.1L482.5 262.3L481.5 264.3L480.5 267.2L479.5 269.7L478.5 270L477.5 272.9L476.5 277.3L475.5 278.9L474.5 281.2L473.5 283.5L472.5 279.5L471.5 274.3L470.5 274.9L469.5 273.3L468.5 270.9L467.5 271.5L466.5 269.5L465.5 269.6L464.5 270.5L463.5 269.7L462.5 269.3L461.5 267.8L460.5 266.5L459.5 266.4L458.5 265.8L457.5 263.5L456.5 262.4L455.5 264.5L454.5 266.6L453.5 265.3L452.5 262.4L451.5 262.2L450.5 263.4L449.5 264L448.5 264.5L447.5 263.2L446.5 261.5L445.5 261.9L444.5 262.4L443.5 260.9L442.5 261.9L441.5 262.8L440.5 260.1L439.5 259.9L438.5 258.9L437.5 256.3L436.5 253.4L435.5 251.3L434.5 249.7L433.5 249.1L432.5 247.2L431.5 244.9L430.5 244.4L429.5 243.7L428.5 247.9L427.5 252.8L426.5 254.5L425.5 254.1L424.5 253.6L423.5 257.8L422.5 262.6L421.5 265.7L420.5 270L419.5 269.5L418.5 270L417.5 274.2L416.5 275L415.5 274.9L414.5 276L413.5 277.5L412.5 279.3L411.5 281L410.5 281.5L409.5 283.7L408.5 289.3L407.5 294.2L406.5 297.6L405.5 299L404.5 297.2L403.5 295.6L402.5 295.9L401.5 295.7L400.5 293L399.5 293.6L398.5 300.3L397.5 309.6L396.5 316.8L395.5 321L394.5 326.8L393.5 332.7L392.5 337.5L391.5 338.6L390.5 336.7L389.5 335.2L388.5 333.4L387.5 330.4L386.5 326.1L385.5 323.1L384.5 321.3L383.5 317.1L382.5 312L381.5 310.6L380.5 312.4L379.5 313.2L378.5 313.8L377.5 313.5L376.5 317.1L375.5 324L374.5 326.7L373.5 327.2L372.5 330.5L371.5 334.5L370.5 335L369.5 335.2L368.5 338.8L367.5 342.8L366.5 345.1L365.5 346.7L364.5 344.6L363.5 340.3L362.5 337.1L361.5 335.3L360.5 331.8L359.5 328.4L358.5 325.1L357.5 322.7L356.5 320.6L355.5 318.1L354.5 316.6L353.5 314.8L352.5 311.5L351.5 308.9L350.5 307.4L349.5 304.6L348.5 303.8L347.5 302.3L346.5 299L345.5 297.8L344.5 298.4L343.5 297.5L342.5 295.5L341.5 294.5L340.5 293.5L339.5 293.1L338.5 291.4L337.5 289.9L336.5 289.1L335.5 289L334.5 288.3L333.5 286.8L332.5 284.6L331.5 283.9L330.5 285.1L329.5 282.2L328.5 279L327.5 279.5L326.5 279.6L325.5 277.2L324.5 277.5L323.5 279.1L322.5 279.2L321.5 279.6L320.5 280.5L319.5 279.6L318.5 279.7L317.5 279.2L316.5 278.3L315.5 279.5L314.5 279.3L313.5 279.6L312.5 279L311.5 278.2L310.5 278.7L309.5 276.8L308.5 273.8L307.5 276.5L306.5 280L305.5 277.4L304.5 273.9L303.5 273.1L302.5 274L301.5 275.1L300.5 273.5L299.5 272.3L298.5 272.6L297.5 271L296.5 272L295.5 272.9L294.5 271.2L293.5 267.5L292.5 267L291.5 269.9L290.5 268.8L289.5 268.5L288.5 268.7L287.5 268L286.5 268L285.5 266.9L284.5 266.9L283.5 267.1L282.5 265.3L281.5 264.3L280.5 264.1L279.5 263.8L278.5 263.7L277.5 263.7L276.5 263.2L275.5 262.2L274.5 261.2L273.5 261.4L272.5 261.3L271.5 260.2L270.5 258.6L269.5 257.8L268.5 256.5L267.5 255.5L266.5 256L265.5 256.9L264.5 255.7L263.5 253.5L262.5 254.9L261.5 255.5L260.5 252.8L259.5 253.2L258.5 254.8L257.5 253.5L256.5 252.4L255.5 251.7L254.5 251.9L253.5 252.6L252.5 252.2L251.5 252.5L250.5 253.6L249.5 252.7L248.5 251.4L247.5 251.6L246.5 251.7L245.5 252.6L244.5 250.9L243.5 251.8L242.5 252L241.5 248.9L240.5 248.5L239.5 248.6L238.5 249.1L237.5 249.7L236.5 248.5L235.5 246.2L234.5 247.3L233.5 248.9L232.5 248.2L231.5 247.7L230.5 248.7L229.5 249.5L228.5 247.5L227.5 247.6L226.5 247.7L225.5 246.5L224.5 247.2L223.5 246.6L222.5 245.6L221.5 247.1L220.5 249.5L219.5 247.9L218.5 245.8L217.5 246.3L216.5 246.3L215.5 246.3L214.5 246.2L213.5 246.7L212.5 248.6L211.5 248.4L210.5 247.3L209.5 247.6L208.5 249.4L207.5 250.1L206.5 247.9L205.5 247.2L204.5 248.9L203.5 249.5L202.5 249.8L201.5 250.3L200.5 249.7L199.5 249.1L198.5 249L197.5 248.4L196.5 249L195.5 248.9L194.5 248.5L193.5 248.2L192.5 245.9L191.5 245.3L190.5 246.2L189.5 245.1L188.5 244.1L187.5 242.9L186.5 243.2L185.5 244.4L184.5 242.7L183.5 243.2L182.5 241.9L181.5 239.6L180.5 241.6L179.5 241.1L178.5 240.9L177.5 240L176.5 238.1L175.5 239.5L174.5 239L173.5 236.7L172.5 236.8L171.5 237.1L170.5 237.4L169.5 237.2L168.5 237.4L167.5 238L166.5 237.6L165.5 239L164.5 238.3L163.5 236.9L162.5 238L161.5 238.3L160.5 237.6L159.5 237.8L158.5 238.5L157.5 237.6L156.5 237.5L155.5 238.4L154.5 237.7L153.5 237.3L152.5 237L151.5 237.5L150.5 239.7L149.5 238.9L148.5 238L147.5 237.6L146.5 236.4L145.5 236.4L144.5 236.8L143.5 239.1L142.5 240.5L141.5 238.6L140.5 236.5L139.5 235.7L138.5 238.1L137.5 240.1L136.5 240.7L135.5 240.2L134.5 237.9L133.5 238.7L132.5 239.2L131.5 239L130.5 239.2L129.5 238L128.5 236.7L127.5 236L126.5 236.6L125.5 238.1L124.5 237.9L123.5 237.6L122.5 237.6L121.5 236L120.5 235.1L119.5 235.5L118.5 234.4L117.5 234L116.5 235.7Z" fill="#1f77b4"/>
<path d="M116 235h0m0.2 2.9h0m0 6.6h0m0.1 -3.6h0m0.4 -40.8h0m0.2 3.9h0m0.4 -10.9h0m0.3 42.3h0m0.5 7.1h0m0 3.4h0m0.3 -7.6h0m0.3 -43.5h0m0.1 7.6h0m0.3 -4.1h0m0.2 0.7h0m0 39.1h0m0.5 8.6h0m0.1 -43.4h0m0.3 31.8h0m0 7.2h0m0.6 -8.1h0m0.3 -43h0m0.1 56.2h0m0.1 -3.6h0m0.1 -6.7h0m0.3 -33.4h0m0.1 -9.7h0m0.1 6h0m0.2 -11.3h0m0 7.9h0m0.3 40.1h0m0.5 -41.5h0m0.1 7h0m0.1 -4h0m1.1 4.6h0m0.6 -4.5h0m0.2 -2.8h0m0 46.5h0m0.1 -6.4h0m0.7 3h0m0.3 -43.8h0m0.2 42.5h0m0.2 -34.3h0m0.1 37.5h0m0 6h0m0.2 -47.4h0m1.1 4.5h0m0.2 -8.3h0m0.2 57.8h0m0.1 -46.6h0m0.2 37.2h0m0.1 -52h0m0.1 45.1h0m0.5 -30.3h0m0.2 31h0m0.2 3.5h0m0.1 -31.6h0m1.3 -1h0m0.9 33.4h0m0 7.2h0m0.2 -10.3h0m0.1 7h0m0.4 -51.8h0m0.3 -4.3h0m0.2 63h0m0.1 -11.6h0m0.1 -42.6h0m0 7.6h0m0 4.6h0m0 34.1h0m0.1 -43.1h0m0.4 36h0m0.7 -31.2h0m0 4.8h0m0.5 -7.6h0m0.2 10.6h0m0.1 25.6h0m0.5 7.9h0m0.1 -10.3h0m0.4 -28.5h0m0.1 35.3h0m0.1 -44.9h0m0.1 12.1h0m0 29.2h0m0.2 -37.2h0m0.1 10.8h0m0.2 -8.1h0m0.5 4.8h0m0.3 38.2h0m0.5 -7.5h0m0.1 -4.3h0m0.2 7.9h0m1 -43.2h0m0.1 9.5h0m0 29.6h0m0 6h0m0 4.4h0m0.1 3.5h0m0.2 -16.5h0m0.1 -29.5h0m0.1 -3.5h0m0.1 38.1h0m0.5 -5.2h0m0.4 3.7h0m0.5 8h0m0.2 -39.6h0m0.1 -4.3h0m0.1 -3.1h0m0.4 -6.9h0m0.2 8h0m0.4 2.5h0m0.2 35.4h0m0.1 -42.1h0m0.7 37.7h0m1.1 -45.3h0m0.1 13.2h0m0 30.8h0m0.3 3.2h0m0.1 -37.1h0m0 46.6h0m0.1 -6h0m0.2 -43.6h0m0.9 39.5h0m0.1 4.2h0m0.1 -44.1h0m0 3.8h0m0.2 -11.9h0m0 3.8h0m0.5 41.3h0m0 10.1h0m0.1 -49.1h0m0.1 41.8h0m0.2 -34.6h0m0.2 37.8h0m0.4 -40.9h0m0.6 35.6h0m0.2 3.7h0m0.6 -40.3h0m0.6 -3.1h0m0.6 -7.6h0m0 7.8h0m0.3 2.6h0m0.5 -14.7h0m0 51.7h0m0.5 3.5h0m0 7.9h0m0.1 -10.6h0m0.1 3.4h0m0 3.9h0m0 7.2h0m0 3.8h0m0.1 -9.1h0m0.1 -3.5h0m0.1 -50.5h0m0.1 4.1h0m0.1 -7.5h0m0 61.1h0m0.1 2.6h0m2 -63.4h0m0.1 2.7h0m0.1 -12.7h0m0.1 58.8h0m0.2 -0.8h0m0.2 -52.5h0m0.1 -2.8h0m0 14.4h0m0.6 -7.2h0m0.1 7h0m0.1 -3.1h0m0.7 -28.6h0m0.3 30.2h0m0.1 44.1h0m0 3.3h0m0 4.1h0m0.2 -61.1h0m0 6.8h0m0.3 43.4h0m0.1 -38.2h0m0.6 40.6h0m0 5.9h0m0.3 -3h0m0 9.7h0m0.1 -15.1h0m0.5 12.1h0m0.5 -58.4h0m0.3 7.2h0m0.2 4.3h0m0 1.4h0m0.2 -3.2h0m0 36.6h0m0 5.6h0m0.1 -54.7h0m0.1 9.3h0m0.2 43h0m1.5 -1.5h0m0.5 4.4h0m0 12h0m0.1 -56.5h0m0.2 3.2h0m0 49.6h0m0.1 -46.1h0m1 -4h0m0.1 41.8h0m0.1 -4.4h0m0.2 -33.4h0m0.5 -1.3h0m0.3 3.5h0m0.5 43.6h0m0.1 -50.6h0m0.1 43.6h0m0.1 -3.4h0m1.1 -53.2h0m0 6.6h0m0 7.8h0m0.3 -11h0m0.2 54.5h0m0.1 -46h0m0 6.6h0m0 34.9h0m0.3 10.6h0m0 4.1h0m0.2 -7.1h0m0.3 -10.5h0m1.3 -41.1h0m0 4.4h0m0.1 -13.7h0m0 52.7h0m0.1 -35.1h0m0.1 -7.5h0m0.1 -7.6h0m0 54.3h0m0.1 -43.5h0m0.2 2.9h0m0.7 37.1h0m0.3 7h0m0.2 4h0m1 -46.9h0m0.4 37.5h0m0.1 -47.4h0m0 42.8h0m0.1 -36.1h0m0.1 -4.3h0m0.2 55.9h0m0.1 -62.5h0m0 57.9h0m0.1 -10.5h0m0.2 -43.2h0m0 55.2h0m0.2 2.5h0m0 3.6h0m0.2 -51.6h0m0 41.3h0m0.2 -3.7h0m0.1 -43.6h0m0.1 3.1h0m1.4 -11.9h0m0.1 11.9h0m0.1 2.9h0m0 38.6h0m0 4.1h0m0.1 -48.1h0m0 52.1h0m0 2.6h0m0.1 -57.7h0m0.1 -2.7h0m0.2 5.8h0m0.3 39.5h0m0 17.7h0m0.1 -61.6h0m0 46.1h0m0 20h0m0.2 -57.7h0m0 3.1h0m0.4 37.8h0m0.1 3.2h0m0.7 -2.7h0m0.4 8.3h0m0.2 -64.5h0m0 52.3h0m0.1 -42.8h0m0.2 6.2h0m0.6 -9.2h0m0 12.5h0m0.5 40.9h0m0.1 6h0m0.5 -3.4h0m0.1 -8.9h0m0 2.9h0m0.3 -36.5h0m0.5 34.5h0m0.1 -43.8h0m0 6.8h0m0.4 42.9h0m0.2 -2.6h0m0.2 -42.1h0m0.4 4h0m0.2 37.4h0m0 15.1h0m0.2 -12h0m0.1 14.8h0m0.2 -53h0m0.3 -5.3h0m0 47.8h0m0 3.4h0m0.2 -48.6h0m0.3 -15.1h0m0 2.8h0m0.4 62.2h0m0.6 4.5h0m0.1 -18.9h0m0 4h0m0.5 -39h0m0.1 -4.5h0m0.7 53.8h0m0.2 -10.9h0m0.2 -42.7h0m0 6h0m0 43.3h0m0.3 -52h0m0.6 7.6h0m0.2 -8h0m0.3 -3.3h0m0.3 8.6h0m0.4 41.2h0m0 14.8h0m0.4 -6.7h0m0.1 2.9h0m0.2 -7.3h0m0.8 -44.8h0m0.3 44.2h0m0.1 3.7h0m0.1 -45.3h0m0 2.7h0m0.2 46.3h0m0.2 -11.2h0m0.1 14.9h0m0.1 -9.1h0m0.1 4.3h0m0.1 -8h0m0.4 -40.7h0m0.1 3.7h0m0.3 -7.3h0m0.7 6.5h0m0.1 -2.9h0m0.5 45.8h0m0 3.4h0m0.3 -7.4h0m0.1 10.9h0m1 -60.1h0m0.3 3.4h0m0.3 2.8h0m0 3.5h0m0.1 44.3h0m0.1 -7.1h0m0 3.4h0m1 -49.6h0m0.3 3.9h0m0 46.4h0m0.1 -41.9h0m0 2.8h0m0.7 35.6h0m1 11.7h0m0.1 -60.1h0m0.1 56.3h0m0.1 -43.1h0m0.1 -17h0m0 9.6h0m0 47.7h0m0.1 -3.3h0m0.3 -47h0m0 6.3h0m0.2 38.2h0m0 2.8h0m0 9.2h0m0.3 -2.5h0m0.1 12.4h0m0.1 -14.9h0m0.1 11.2h0m0.2 -64.2h0m0 60.6h0m0.1 -56h0m0.3 2.9h0m0 3.4h0m0.5 35.7h0m0.2 4.1h0m0.5 -40.9h0m0.3 -2.9h0m0.2 -3.7h0m1.3 6.6h0m0 2.9h0m0.1 35.5h0m0 6.3h0m0.4 3.6h0m0.6 -51.1h0m0.5 48.1h0m0.1 -2.7h0m0.1 -3.6h0m0.1 -37.9h0m0.4 47.2h0m0.4 -12.1h0m0.1 -39.7h0m0.2 43.3h0m0.3 2.4h0m0.1 -49.2h0m0.2 7.3h0m0.7 36.1h0m0.1 9.9h0m0.3 -7.2h0m0.1 2.7h0m0.2 -43h0m0 3.9h0m0.9 -3.7h0m0.7 4h0m0.1 35.2h0m0 2.5h0m0.6 3.7h0m0 2.9h0m0.2 2.4h0m0.3 -10.4h0m0.1 2.9h0m0.2 3.6h0m0.2 -10.5h0m0.1 -38.2h0m0.1 -3.3h0m0.4 7.7h0m0.8 41.9h0m0.3 7.8h0m0.3 -4.2h0m0.1 -48.8h0m0.1 4.1h0m0.1 35.4h0m0.1 2.7h0m0.3 -1.5h0m0 13.3h0m0.3 -16.9h0m0 14.4h0m0.3 -8h0m0 4h0m0.2 -54.2h0m0.3 12.6h0m0.1 -2.6h0m0.2 -7h0m0.2 4.2h0m0.4 4.5h0m0.1 -14.8h0m0.1 11.1h0m0.1 -3.4h0m0.2 41.4h0m0.1 4.2h0m0 7.4h0m0.1 -56.6h0m0.2 52.2h0m0.3 -48.7h0m0.3 -6h0m0 3.2h0m0 6.9h0m0.8 35.8h0m0 11.9h0m0.2 -6.9h0m0.1 -2.4h0m0.1 13.7h0m0.1 -9.6h0m0.1 -6.5h0m0.1 9.3h0m0 10.4h0m0.2 -15.7h0m0.2 11.7h0m0.4 -63.1h0m0 7.2h0m0.1 4.5h0m0.6 -7.9h0m0.1 49h0m0.4 -44.6h0m0.3 -7.3h0m0.1 11.5h0m0.1 -7.4h0m0 43.4h0m1.3 -46.7h0m0 53.5h0m0.2 -47.2h0m0.3 -2.4h0m0.1 5.1h0m0 39.6h0m1.1 3h0m0.3 -52h0m0.1 46.3h0m0.1 -39.1h0m0.1 -3.8h0m0.1 45.7h0m1.5 -1.6h0m0.1 -46.9h0m0 50.4h0m0.2 -47h0m0.1 -6.7h0m0.2 57.5h0m0.2 -47.1h0m0.3 -4.3h0m0 4.2h0m0.1 52.7h0m0 3h0m0.3 -15.6h0m0 7.2h0m0.2 3h0m0.3 -6.4h0m0.3 -2.1h0m0 6.2h0m0.6 -3.3h0m0.4 -48.5h0m0.4 4.1h0m0.2 -11.9h0m1 -2.1h0m0.2 9.3h0m0.2 48.7h0m0 4.6h0m0.2 4.2h0m0.1 -61.5h0m0 48.9h0m0.1 -42.3h0m0.1 -9.1h0m1.1 7.6h0m0 45.1h0m0.2 -59.5h0m0 17.4h0m0.1 -3h0m0.1 -11.9h0m0.1 8.6h0m0 50.9h0m0 4.3h0m0.1 -59.3h0m0.2 4.9h0m0.4 52.3h0m0.3 -3.4h0m0.1 6.5h0m0.7 -9.6h0m0.1 12.7h0m0.1 -10.2h0m0.1 7.6h0m0.1 -4.5h0m0.2 -50.1h0m0.2 -7.1h0m0 2.9h0m0.2 8.6h0m1 -6.3h0m0.1 53.2h0m0.2 -6.1h0m0 3.5h0m0 7.1h0m0.3 -54.3h0m0.1 -6.8h0m0.1 9.3h0m0.5 -4.6h0m0 4.1h0m0.3 -7.1h0m0.5 50.4h0m0.2 18.4h0m0.2 -7.1h0m0.4 -7.5h0m0.6 -55.2h0m0.3 55.9h0m0.4 -4.3h0m0.9 -75.9h0m0 2.7h0m0 8.2h0m0 2.4h0m0.2 3.9h0m0 6.4h0m0.1 -16.9h0m0.1 69.2h0m0.1 -80h0m0.1 19h0m0 6.1h0m0.1 -25.7h0m0 13.3h0m0 6.7h0m0.1 -45.7h0m0 25.9h0m0 28.1h0m0 63.5h0m0 2.7h0m0.1 -77.8h0m0 4.1h0m0 7.5h0m0.1 -25.6h0m0 1.8h0m0 2.7h0m0 16.9h0m0 0.3h0m0 60.5h0m0.1 -76.2h0m0 5.6h0m0 69.8h0m0.1 -95.8h0m0 98.8h0m0.1 -76.7h0m0.2 79.9h0m0.1 -72.2h0m0 62.6h0m0.5 -65.7h0m0.4 5.5h0m0.3 2.6h0m1.1 59.2h0m0.1 -51.7h0m0.1 -3.3h0m0.1 -48h0m0 11h0m0 96.5h0m0 3.8h0m0.1 -71.4h0m0 4h0m0.1 71.4h0m0.1 4h0m0.9 -69.2h0m0.4 2.9h0m0.1 3.9h0m0 53.8h0m0.2 -51.2h0m0.1 44.3h0m0 3.4h0m0.4 -4.7h0m0.1 -53.9h0m0 4.2h0m0.1 62.4h0m0.1 3.6h0m0 2.7h0m0 11.5h0m0.2 -72.8h0m0 46.5h0m0.1 30.3h0m0.1 -11h0m0.1 -69.8h0m0 56.4h0m0.2 -2.7h0m0 18.7h0m0.9 -23.9h0m0.2 -48.8h0m0.1 55.4h0m0.2 -52.6h0m0.5 -9.2h0m0.9 70.6h0m0.6 -5.2h0m0 4.9h0m0.1 -58.6h0m0 80.8h0m0.3 -83.4h0m0 47h0m0.1 -50.8h0m0.1 61.3h0m0 1.8h0m0.1 -14.8h0m0.1 19.4h0m0.2 -11.5h0m0 4.1h0m0 14.4h0m0.1 -73h0m0.1 47.5h0m0 4.2h0m0 12.4h0m0.1 22.1h0m0.2 -83.2h0m0.7 70.6h0m0.1 9.6h0m0.1 -5.6h0m0.4 -81.2h0m0.1 3.1h0m0 71.7h0m0.2 -68.9h0m0.2 -8.5h0m0 54.2h0m0.6 4.3h0m0.2 32h0m0.4 -32.5h0m0 39h0m0.1 -3.7h0m0.3 -94.5h0m0.1 3.1h0m0 88.3h0m0.1 -83.9h0m0.2 48.8h0m0.3 34.9h0m0.1 -96.8h0m1.1 3.1h0m0.1 75.6h0m0.1 -80.2h0m0 74.4h0m0.1 -11.8h0m0.1 7.8h0m0.2 -81.5h0m0.1 110.6h0m0.1 -104.1h0m0 7.8h0m0 63.6h0m0.1 -59.4h0m0.4 -1.8h0m0 100.9h0m0.4 -34.1h0m0.1 -5.3h0m0.2 2.7h0m0.1 -6.3h0m0 35.5h0m0.1 -34.1h0m0.3 -68.4h0m0 7.8h0m0 73.9h0m0 2.9h0m0.2 4.4h0m0 5h0m0 12.4h0m0.1 -102.2h0m0 68.2h0m0 9.2h0m0 10.8h0m0 5.7h0m0.1 -106.8h0m0 85.7h0m0 18h0m0.1 -107.3h0m0.9 80.7h0m0 27h0m0.1 -21.2h0m0 27.1h0m0 2.6h0m0.1 -24.2h0m0 8.4h0m0 9.1h0m0.1 10.7h0m0.2 -36.6h0m0 9.9h0m0.1 -87.2h0m0 87.7h0m0 9.5h0m0 2.6h0m0.1 -97.2h0m0.1 4.5h0m0.1 6.6h0m0.6 85.9h0m0.1 -1.4h0m0.4 2.1h0m0.3 -9.5h0m0.4 -82.2h0m0 8.3h0m0 2.6h0m0.1 76.2h0m0.2 -82.6h0m0.1 72.4h0m0.1 -81.2h0m0 85.3h0m0.2 -12h0m0.1 3.7h0m0.3 6.8h0m0.3 25.2h0m0.1 -91.5h0m0.1 -3.4h0m0 64.8h0m0.2 4.6h0m0.1 -73.1h0m0.1 65.9h0m0.2 1.7h0m0.2 23.6h0m0.1 -96.2h0m0.1 8.4h0m0.1 -2.6h0m0.1 106.9h0m0.1 -33.1h0m0.1 -82h0m0 90.6h0m0.1 -19h0m0 23.2h0m0.1 -16.1h0m0 7.4h0m0.3 -70.8h0m0.3 67.8h0m0.1 16.3h0m0.6 7.7h0m0.1 -92.9h0m0.2 74.5h0m0.1 -83.2h0m0 70.2h0m0 42h0m0.4 -3.5h0m0.2 -24h0m0.9 -84h0m0.1 8.4h0m0.3 97.1h0m0.2 -101.4h0m0 71.7h0m0 5.4h0m0 4.3h0m0 15.7h0m0.2 -13.5h0m0.2 -9.2h0m0 1.7h0m0.1 -11.3h0m0 7.6h0m0 17.1h0m0.1 -15.7h0m0 14.3h0m0.1 -93h0m0 72.3h0m0.5 -60.8h0m0.2 59.7h0m0.1 -74.3h0m0 79.5h0m0.1 -68h0m0 81.1h0m0.2 -21.5h0m0.1 26.9h0m0.1 18.5h0m0.1 -18.3h0m0.1 -21.4h0m0.7 -67.1h0m0 86.2h0m0.1 -89.8h0m0.3 -7.3h0m0 14.5h0m0.4 64.2h0m0.1 29h0m0.1 -20.3h0m0.2 1.9h0m0.1 -13.8h0m0.1 -1.1h0m0.1 25.6h0m0.1 -21.7h0m0 4.5h0m0 4.5h0m0 9.7h0m0.3 -3.4h0m0.4 -77.2h0m0.3 -7.6h0m0 102.3h0m0.2 -98.5h0m0.5 1.7h0m0.3 86.8h0m0 4.3h0m0.2 -98.3h0m0.1 101.3h0m0.2 -32.2h0m0 21.5h0m0 5.5h0m0.1 12.7h0m0.1 -25.4h0m0.1 -10.1h0m0 24.3h0m0.1 -17.8h0m0 7h0m0.3 9.4h0m0.1 6.1h0m0.5 12.8h0m0.1 -28.7h0m0 15h0m0 5.3h0m0 11.5h0m0.1 -38.1h0m0 19.1h0m0.1 3.1h0m0.1 -33.1h0m0 21.2h0m0.1 -86.8h0m0.1 69.7h0m0 9.6h0m0.1 15.3h0m0.1 -90h0m0 68.9h0m0.1 17.6h0m0.9 -17.2h0m0 25.2h0m0.1 -33.3h0m0 17.5h0m0.1 -88h0m0.1 2.7h0m0 71.5h0m0 21h0m0 2.1h0m0.2 -91.8h0m0 3.6h0m0 72.7h0m0 9.2h0m0.3 -16h0m0 9.6h0m0 24.2h0m0.1 -111.3h0m0.2 74.6h0m0.2 34.5h0m0.2 -97.8h0m0 90.2h0m0.2 -20.8h0m1 -5.5h0m0.2 -68.5h0m0 71.8h0m0.2 40.3h0m0.2 -108.5h0m0 96.6h0m0.2 -93h0m0 99h0m0.1 2.7h0m0.2 -19.8h0m0.6 -88.8h0m0 98.4h0m0 1.2h0m0.3 -96.9h0m0.2 4.2h0m0 107.7h0m0.2 -29.7h0m0 23h0m0.1 -30.4h0m0.4 1h0m0.1 0.5h0m0.1 -8.1h0m0.1 46.6h0m0.4 -109.5h0m0.3 60.6h0m0 3.6h0m0.2 -76.5h0m0.1 8h0m0.3 109h0m0 6h0m0.6 -113h0m0.1 -7.9h0m0.1 73h0m0 39.2h0m0.1 -101.3h0m0.1 68.6h0m0.1 -76.2h0m0 80.3h0m0 15.7h0m0.1 17.5h0m0.2 -25.6h0m0 11.6h0m0.1 -7.9h0m0.1 14.7h0m0.1 -34h0m0 30h0m0.9 -99.8h0m0.2 -11.3h0m0 84.5h0m0.2 -80.1h0m0 3.4h0m0 72.3h0m0.1 44.3h0m0.1 -110h0m0.7 70.5h0m0 73.7h0m0.1 -18h0m0.2 -58.2h0m0.2 -2.6h0m0 34.9h0m0.1 -99.8h0m0.1 -8h0m0 158h0m0.1 -153.5h0m0.3 92.2h0m0 44.4h0m0.1 -40.1h0m0 23.6h0m0.7 -20.4h0m0.1 -23.1h0m0.3 -74.5h0m0.1 73.1h0m0.1 -77.6h0m0 85h0m0.1 -3.5h0m0.1 -7.5h0m0.4 33.1h0m0.7 -115.6h0m0 100.1h0m0.1 -112.6h0m0.1 4.6h0m0 4.1h0m0.2 10.3h0m0.1 -4.1h0m0 9.3h0m0.1 -2.6h0m0.1 70.8h0m0 5.4h0m0.2 11.2h0m0.1 -13.6h0m0.3 30.6h0m0.3 -0.9h0m0.3 -108.5h0m0 86.9h0m0.1 2.6h0m0.2 -86.3h0m0.3 2.8h0m0 72.6h0m0 25.9h0m0.1 -95.4h0m0.8 -14.2h0m0.1 83.4h0m0.2 3.2h0m0.1 4.1h0m0.1 -84.3h0m0 96.6h0m0.1 -100.3h0m0.5 96h0m0 0.9h0m0.3 -119.4h0m0.1 10.4h0m0.1 -6.2h0m0.1 3.8h0m0.4 99.1h0m0 19.3h0m0.1 -128.9h0m0 117.5h0m0.1 -3.5h0m0.3 11.6h0m0.2 -19.3h0m0.4 5.9h0m0.2 3.4h0m0.2 -119.9h0m0 112.2h0m0.1 10.9h0m0.1 -0.6h0m0.2 4.4h0m0.2 -130.1h0m0 7.5h0m0 5.9h0m0.1 -2.5h0m0 106.9h0m0.4 3.7h0m0.1 -124.3h0m0 133.9h0m0 19.6h0m0.1 -22.8h0m0.2 -126.3h0m0 3.9h0m0 109.2h0m1 0.4h0m0.2 4h0m0.1 10h0m0.1 -6.9h0m0.1 9.4h0m0.3 9.9h0m0.1 -7.1h0m0 19.3h0m0.1 -28.7h0m0.2 13.6h0m0.2 -138.6h0m0.3 126.6h0m0.2 -123.5h0m0.1 4.4h0m0.4 115h0m0.1 -7.6h0m0 3.6h0m0.6 -113.5h0m0.5 144.4h0m0.2 -2.5h0m0.2 -22.3h0m0 3.1h0m0 1.4h0m0 15.1h0m0.1 -25.4h0m0.2 -131.2h0m0 133.8h0m0 13h0m0.1 -137.5h0m0.1 4.4h0m0 3.7h0m0 109.3h0m0.4 -120.9h0m0 138.3h0m0.1 14.5h0m0.1 3.5h0m0.2 -23.3h0m0.5 -116.4h0m0.1 -4.4h0m0 113.8h0m0.1 -3.5h0m0.2 14.2h0m0.3 18h0m0.1 -1.4h0m0.1 -19.2h0m0.2 17.5h0m0 5.6h0m0.3 2.5h0m0.5 -6.3h0m0.1 -13.3h0m0 1.9h0m0.1 -5.5h0m0.1 -109.4h0m0.1 2.8h0m0.1 96.5h0m0.1 -104.4h0m0 100.9h0m0 6.6h0m0.1 10.2h0m0 5.4h0m0.1 10.5h0m0.1 -13.8h0m0.3 10.5h0m0.2 2.5h0m0.4 -136.6h0m0 114.1h0m0.1 -118.3h0m0 11.2h0m0 100.1h0m0.4 -92.6h0m0.1 -22.9h0m0.1 19.7h0m0 7.1h0m0.1 -12.7h0m0 134.6h0m0.1 -130.6h0m0 94.2h0m0.3 -91.1h0m0 94.1h0m0.1 -104h0m0 16.3h0m0.1 84.8h0m0.1 9.7h0m1.5 27.6h0m0.6 -123.2h0m0.1 93.7h0m0.2 7.5h0m0.2 -103.9h0m0.1 91.9h0m0 12.7h0m0 16h0m0.1 -31.3h0m0.1 -82.7h0m0.2 -5.4h0m0.2 4.5h0m0 88.9h0m0.2 12.9h0m0.2 -17.1h0m0 16.6h0m0.2 -8.8h0m0.7 -94.4h0m0.1 -18.6h0m0 135.2h0m0.2 -120.4h0m0.1 -6.4h0m0.2 3h0m0.1 -7.6h0m0.2 108h0m0.1 2.7h0m0.2 -5.7h0m0.3 29.7h0m0.1 -4.8h0m0.2 -3.3h0m0.3 -117.7h0m0.1 102h0m0 7h0m0.3 -105.2h0m0.1 91.7h0m0.1 30.7h0m0.2 -27.1h0m0.2 -98.5h0m0.3 -8.1h0m0.1 -5.1h0m0 9.6h0m0 116.3h0m0.3 -123.5h0m0 122.2h0m0.4 1.5h0m0.4 -16.7h0m0.1 3.1h0m0.2 19.1h0m0.4 -119.6h0m0 110.2h0m0.1 -104.7h0m0.5 -3h0m0.6 97.3h0m0 4.6h0m0 8.8h0m0.1 -2.5h0m0.2 -3.4h0m0.6 5.8h0m0.4 -108.9h0m0 122.7h0m0.2 -119.8h0m0 109h0m0.1 -15.5h0m0 11.6h0m0.1 -7.8h0m0.1 -96.3h0m0.1 1.7h0m0 101.3h0m0.1 -106.9h0m0 126.7h0m0.5 -132.9h0m0.3 137h0m0.1 -16.1h0m0.2 15.6h0m0.1 -30.8h0m0 18.9h0m0.1 8h0m0.3 -15.8h0m0 9.4h0m0.1 -19.6h0m0 22.5h0m0.1 -9.4h0m0.2 -102.7h0m0 96.9h0m0.2 4.4h0m0.1 -8.2h0m0.1 -97.6h0m0.6 138h0m0.2 -30.6h0m0.5 -101.7h0m0.3 93.4h0m0 7h0m0 6.2h0m0.2 -10.5h0m0.1 -100.2h0m0 127.8h0m0.2 -13.8h0m0.1 -7h0m0.2 -12.3h0m0.1 34.2h0m0.3 -24.5h0m0.1 21.1h0m0.1 -124.2h0m0 8h0m0 88.1h0m0.3 -91.6h0m0.1 -8.7h0m0 117.2h0m0 10.2h0m0.9 -25.9h0m0 18.3h0m0.1 -3h0m0.2 -11.8h0m0 2.8h0m0.4 -97.2h0m0 117.7h0m0.5 -114.7h0m0.4 133.9h0m0.2 -39h0m0.3 14h0m0.1 -11.5h0m0.1 -5.9h0m0.1 -90.7h0m0.2 -3.5h0m0.8 138.4h0m0.1 -143.5h0m0 106.4h0m0.3 7.4h0m0.1 -103.2h0m0.1 122.7h0m0.1 -126.3h0m0 102.9h0m0 10.5h0m0.1 -17.5h0m0.1 -105.6h0m0 6.9h0m0 94.7h0m0.1 18.2h0m0.8 -126.8h0m0.8 6h0m0.2 106.2h0m0 7.1h0m0.2 -110.5h0m0 122.7h0m0 0.2h0m0.1 -15.9h0m0.1 -92.4h0m0 96.9h0m0.1 -3.6h0m0.1 -103.5h0m0 6.7h0m0.2 -33.8h0m0 9.3h0m0 127.8h0m0.2 -131.6h0m0.1 122.2h0m0.4 39.5h0m0.2 -16.6h0m0.1 -118.8h0m0.2 115.3h0m0.3 -112.4h0m0 116.6h0m0.1 3.7h0m0.3 -14.8h0m0 3.5h0m0.2 -9.6h0m0.3 -108.6h0m0 111.6h0m0.1 -108.9h0m0 141.1h0m0.4 -134.2h0m0.3 -4.2h0m0.2 -8h0m0.2 -9h0m0 14.9h0m0 144.9h0m0.1 -138.2h0m0 118.4h0m0.1 -129.7h0m0 7.9h0m0 109.6h0m0 9.1h0m0.1 -134h0m0.1 133.2h0m0.1 -129.7h0m0.4 -9.6h0m0.1 127h0m0 8.1h0m1 -2h0m0.1 3.8h0m0.2 3.7h0m0 9.5h0m0 18.5h0m0.1 -23.7h0m0.1 7.9h0m0.1 -5.3h0m0.1 -123.1h0m0.6 127.1h0m0.2 4.4h0m0.2 -134h0m0 124.8h0m0.1 -127.2h0m0.1 119.2h0m0.1 3.6h0m0.1 -117.9h0m0 111.5h0m0.1 9.9h0m0.2 -130.5h0m1.3 128.9h0m0 3.8h0m0.2 2.8h0m0.2 -128.1h0m0.1 -12.4h0m0 129.4h0m0.1 -125.3h0m0 5.4h0m0.2 -2.4h0m0.1 128.2h0m0.1 5h0m0.3 -7.6h0m0 5.2h0m0.3 -142.6h0m0 17.8h0m0.2 -5.7h0m0.2 -4.5h0m0.2 -4.5h0m0 192.8h0m0.2 -180.8h0m0.1 -1.6h0m0.4 3.1h0m0 131.7h0m0.1 -140.3h0m0 3.1h0m0.3 -5.6h0m0 138.8h0m0.1 -141.6h0m0 179.1h0m0.1 -25.6h0m0 4.5h0m1.6 -8.5h0m0 23.3h0m0.2 -26.1h0m0.2 -136.4h0m0.1 4h0m0.1 -8.4h0m0.1 -3.3h0m0.7 10.9h0m0.2 161.3h0m0.1 -15.8h0m0 11.5h0m0.1 -163.8h0m0.2 -3.8h0m0 6.2h0m0 177.9h0m0.1 -39.1h0m0.1 4.6h0m0.1 3.3h0m0.1 10.3h0m0.5 -23.2h0m0.3 -137.7h0m0.2 145.9h0m0.2 -141.9h0m0.1 137.5h0m0.2 -151.6h0m0 11.8h0m0 140.8h0m0.1 -7.8h0m0.1 18.2h0m0.2 -160.5h0m0.1 3.8h0m0.1 149.9h0m0.1 -147.3h0m0.2 6.7h0m0.2 172.2h0m0.1 -19.1h0m0.1 4.8h0m0.6 -30.4h0m0.2 3.2h0m0.1 -7h0m0.2 11.6h0m0.5 -155.1h0m0.1 7.6h0m0.1 -3.8h0m0 14.9h0m0.3 -2.6h0m0.2 -4.5h0m0.7 128.3h0m0.1 2.7h0m0.3 3.2h0m0.4 -136.6h0m0.1 125.4h0m0.2 -118.5h0m0 130.9h0m0.1 -133.4h0m0 127h0m0 2.4h0m0 18.7h0m0.6 -153.6h0m0.1 -7.6h0m0 154.2h0m0 4.6h0m0 4.9h0m0.2 -166.3h0m0 5.8h0m0.1 7.1h0m0.3 -16.2h0m0.2 148h0m0.1 -9.3h0m0.1 5.6h0m0.2 -9.1h0m0.1 15.5h0m0.1 4.1h0m0.3 -151.8h0m0.2 2.5h0m1.2 124.3h0m0.1 3.6h0m0 4.1h0m0.2 -139.6h0m0.2 -3.7h0m0 146.9h0m1.5 -152.3h0m0.1 -7.6h0m0 146.1h0m0.1 -142.2h0m0.2 10.2h0m0 136.3h0m0 3.9h0m0.1 3.8h0m0.1 -150.5h0m0.1 4.3h0m0 142.3h0m0 8.2h0m0.1 -3.8h0m0 7.6h0m0.1 -14.5h0m0.2 -4.3h0m0.1 -142.9h0m0 167.1h0m0.2 -2.5h0m0.2 -167.7h0m0.8 0.5h0m0.1 10.4h0m0 138.6h0m0 11.4h0m0.1 -8.5h0m0 21.4h0m0.1 -169.9h0m0 163.5h0m0.7 -3.2h0m0 6.1h0m1.2 -16.4h0m0.4 8.7h0m0.1 -162.3h0m0.2 157.9h0m0.1 -147.2h0m0.1 2.6h0m0.1 -6.8h0m0.1 -2.5h0m0.3 155.7h0m0 3.8h0m0.3 16.6h0m0.1 -10h0m0.1 7.2h0m0.1 -10.3h0m0.2 6.6h0m0.1 -162.6h0m0 3.3h0m0 3.5h0m0.9 9.1h0m0.1 139.6h0m0.1 -142.3h0m0.3 145.5h0m1.3 6.6h0m0 7h0m0 4.5h0m0.1 -157.3h0m0.1 149.3h0m0 12.2h0m0.2 -19h0m0.1 -145.1h0m0.9 155.9h0m0.2 -149.8h0m0.1 141.5h0m0 4.1h0m0 8.5h0m0.1 16.1h0m0.1 -174.7h0m0.8 169.2h0m0.5 13.4h0m0.6 -44.1h0m0.2 23h0m0.4 -25.5h0m0.1 -133.3h0m0.1 -7.1h0m0.1 10.9h0m0.4 -3h0m0.3 144h0m0 3.1h0m0.1 2.7h0m0.2 -153.2h0m0 7.3h0m0 126.7h0m0 10.5h0m0.1 -14h0m0.2 9.6h0m0.2 -3.3h0m0.5 -8.6h0m0.1 -123.2h0m0.1 -3h0m0 118.7h0m0.1 -112.8h0m0 110.1h0m0.4 5.6h0m0.8 -115.3h0m0.2 95.3h0m0.6 -100.8h0m0 2.7h0m0 104.8h0m0.1 -2.4h0m0.7 -6h0m0 2.8h0m0.8 25.7h0m0.1 -33h0m0 28h0m0.1 -122.1h0m0.8 -4.5h0m0 10.1h0m0 124.5h0m0.5 -125.3h0m0.1 94.9h0m0 27.6h0m0.2 -127h0m0 102.3h0m0.1 -6.5h0m0.2 -100.3h0m0.7 112.9h0m0.1 -108.3h0m0 2.9h0m0 98h0m0.1 -94.5h0m0 99h0m0.1 -112.7h0m0.1 3.6h0m0 101.6h0m0.3 22.3h0m0.2 -22.6h0m0.2 3.6h0m0.2 4.8h0m0.6 -4.2h0m0.5 4.2h0m0.2 -105.6h0m0.2 99h0m0.1 -94.5h0m0.2 -6.9h0m0.1 99.6h0m0.1 -93.1h0m0.1 101.3h0m0.1 -9.7h0m0.1 -94.4h0m0.1 107.3h0m0.2 -114.1h0m0.1 107.7h0m0.1 -3.2h0m0.5 1.9h0m0.2 12h0m0.2 -2.1h0m0.2 -114.3h0m0.2 122.8h0m0 1.5h0m0.1 -120.5h0m0 103.4h0m0.1 -117.6h0m0 18.3h0m0.2 -14.1h0m0 2.7h0m0 105.6h0m0.4 -11.1h0m0 14.7h0m0 29.9h0m0.1 -41.7h0m0.2 20.9h0m0.2 -3.4h0m0.1 -22h0m0 2.7h0m0 3.5h0m0.2 -8.9h0m0.1 19.5h0m0.6 13h0m0.1 -130.7h0m0.3 146.2h0m0.1 -38.2h0m0.1 -111.6h0m0 10.3h0m0 104.1h0m0.1 -95.9h0m0 3.2h0m0.1 -8.5h0m0 91h0m0.1 -98.1h0m0 17.6h0m0 76.6h0m0.2 -79.3h0m0.2 86.5h0m1.1 -93h0m0.3 8.6h0m0.1 -11.5h0m0.2 6.2h0m0.1 2.6h0m0.9 77.9h0m0.2 -93.7h0m0.1 94.3h0m0.2 -112.3h0m0 116.6h0m0.1 -8.2h0m0.1 -72.1h0m0.1 -11h0m0.2 -12h0m0.3 14.8h0m0.1 4.5h0m0.6 -27h0m0.4 17.4h0m0 83.4h0m0.2 6.8h0m0 3h0m0.4 -86.4h0m0 81h0m0.1 -84.7h0m0 8.1h0m0 87.7h0m0.1 -2.8h0m0.1 -15.1h0m0.5 -76.2h0m0.1 3.9h0m0 3.5h0m0.3 71.8h0m2 1.3h0m0.1 -78.9h0m0.1 -3.3h0m0 79.5h0m0.1 -72.4h0m0.1 68.8h0m0.2 -80.4h0m0.7 -3.9h0m0.2 -3h0m0 5.6h0m0.1 -8.4h0m0.1 99.5h0m0.1 -86.9h0m0.1 76.1h0m0.1 -3.7h0m0.5 9h0m0.3 -88h0m0.1 -2.5h0m0.4 -4.1h0m0.2 10.2h0m0.1 78.2h0m0.2 3.8h0m0.5 -11.5h0m0.6 13h0m0.1 -85.9h0m0.1 78h0m0.2 -11.2h0m0.1 -73.8h0m0 77.8h0m0.1 11.3h0m0.2 -85.3h0m0 75h0m0 3h0m0.5 -5.5h0m0.1 -5.3h0m0.1 -81.3h0m0 6.8h0m0 6.9h0m0 70.1h0m0.1 -74.2h0m1.1 64.8h0m0 8.1h0m0.4 -4h0m0.5 -66.5h0m0.4 -11.8h0m0.2 8.3h0m0.2 -4.6h0m0 80.9h0m0 7.7h0m0.2 -3.9h0m0.1 -12.6h0m0 19.1h0m0.1 -82.9h0m0 61.1h0m0.3 7.1h0m0.1 -70.9h0m1.2 66.8h0m0.4 3.8h0m0 2.8h0m0 6.5h0m0.4 -86.2h0m0 3.8h0m0.1 4.1h0m0.2 -3.4h0m0.6 8.2h0m0.1 -3.8h0m0 75.9h0m0.2 -6.4h0m0 9h0m0.5 -5.8h0m0.6 -74.5h0m0.3 6.7h0m0 72h0m0.3 2.8h0m0.1 -9.8h0m0.1 -69.2h0m0 71.8h0m0 14.9h0m0.2 -3.9h0m0.4 -70.5h0m0.4 -10.3h0m0 3.2h0m1 101.4h0m0.3 -87.2h0m0.1 55.5h0m0.2 -62.1h0m0 76.9h0m0.1 -73.4h0m0.3 71.2h0m0 3.1h0m0.2 -13.1h0m0 7.6h0m0.1 -3.2h0m1.3 -56.7h0m0.2 -4h0m0.2 -4.2h0m0.3 80.7h0m0 6.8h0m0 2.7h0m0.2 -26.1h0m0 30.5h0m0.1 -23.4h0m0 6h0m0.1 -74.3h0m0 3.3h0m0 56.4h0m0 10.6h0m0 12.2h0m0.1 -19.8h0m0 1.9h0m0 6.7h0m0.2 2.3h0m0 8.3h0m0.2 -3.9h0m0.1 -82.1h0m0 70.2h0m0.7 3.8h0m0.7 -0.2h0m0.1 0.5h0m0.2 -75.4h0m0.1 -2.9h0m0 10.7h0m0 86.4h0m0 5.9h0m0.1 -96.5h0m0 7.9h0m0 53.6h0m0.1 2.6h0m0 16h0m1 -81.1h0m0.2 8.1h0m0.3 60.7h0m0 5.3h0m0.1 -13.2h0m0 4.4h0m0.1 45.6h0m0.3 -34.9h0m0.8 -12.6h0m0.1 13.5h0m0.1 -71.9h0m0.2 -2.7h0m0.1 64.2h0m0.1 34.4h0m0.4 -92.1h0m0.3 83.2h0m0.1 -85.6h0m0 3.1h0m0.3 -13.8h0m0.1 2.9h0m0.1 3.6h0m0.2 64.8h0m0.1 -74.6h0m0.2 96.5h0m0 11.5h0m0.1 -36.5h0m0.8 18.4h0m0.1 -1.7h0m0.1 -3.6h0m0.4 -11.9h0m0.3 7.1h0m0.1 -74.8h0m0 3.6h0m0 74.3h0m0 26.6h0m0.1 -96.6h0m0 4.2h0m0 69.8h0m0.1 -86.4h0m0 75.8h0m0.8 13.5h0m0.4 -77.4h0m0 84h0m0.1 -26.3h0m0.2 -61h0m0.1 7.3h0m0 56.9h0m0.2 16.4h0m0.4 -72.4h0m0 88.9h0m0.2 -29.8h0m0.1 3.9h0m0.2 -66.8h0m0 59.5h0m0.1 9.8h0m0 6.1h0m0.1 -78.1h0m0.2 93.1h0m0.1 4.1h0m0.6 -22.2h0m0.5 -12.1h0m0.3 -57.6h0m0.1 -4.6h0m0.2 94.7h0m0.1 -2h0m0.2 -106.7h0m1.4 13h0m0 82.9h0m0.1 -78.3h0m0 63.8h0m0.3 -2.9h0m0.3 7.2h0m0 0.5h0m0.1 3.6h0m0 11.1h0m0.1 -24.2h0m0.4 3.5h0m0.3 17.2h0m0.3 -79h0m0.3 -4.6h0m0.2 73.7h0m0.2 -8.4h0m0.2 -63.5h0m0 72.5h0m0 3.9h0m0.1 -84.3h0m0.1 -6h0m0.2 10.2h0m0 7.4h0m0 63.8h0m0.4 2.6h0m0.2 13h0m0.5 -17h0m0.2 -4h0m0.2 6.8h0m0.1 -68.4h0m0 88.1h0m0 13.8h0m0.2 -12.7h0m0 2.1h0m0.3 -95.4h0m0.2 80.9h0m0.4 12.7h0m0.1 -92.8h0m0.3 3h0m0.1 75.9h0m0.1 -82.8h0m0 87.9h0m0.1 -76.7h0m0 60.2h0m0 7.9h0m0 31h0m0.3 -21.4h0m0 1.7h0m0 1.6h0m0.1 -17.1h0m0.2 8.1h0m0 13h0m0.1 2.2h0m0 5.2h0m0.4 -106.6h0m0.1 2.7h0m0 150.4h0m0.1 -72.1h0m0.1 4.1h0m0.1 -77.8h0m0 110.4h0m0.1 -107.2h0m0.2 2.5h0m0 64.4h0m0.2 -3.8h0m0 68.5h0m0.4 -132.5h0m0 3.6h0m0.1 -15.6h0m0 2.9h0m0.2 86.9h0m0.2 -83.6h0m0.1 2.6h0m0.1 105h0m0.2 -35h0m0 3.2h0m0 3.5h0m0.6 17h0m0.3 -18.4h0m0.3 7.5h0m0.1 -88.6h0m0.1 80.1h0m0 4.2h0m0 10.8h0m0.6 -88.3h0m0 85.6h0m0.1 -89.3h0m0 8.3h0m0 95.4h0m0.6 -99.5h0m0 83.4h0m0.4 -90.7h0m0 11.4h0m0 70.1h0m0.4 -78.6h0m0.4 79.9h0m0.5 4.5h0m0 7.2h0m0.1 -2.6h0m0.8 20.6h0m0.2 -104.9h0m0.1 75.9h0m0 10h0m0.1 -88.3h0m0.1 84.4h0m0 16.2h0m0.1 -107.8h0m0 102.7h0m0.1 -98.3h0m0 83.9h0m0.2 -74.4h0m0 86.2h0m0.8 -8.3h0m0.1 -7.1h0m0.1 -76.3h0m0.1 2.7h0m0.1 3h0m0.2 73.1h0m0 7.7h0m0.1 5.3h0m0 6.6h0m0.3 -28.2h0m0 11.6h0m0.2 -9.1h0m0 6.7h0m0 19.4h0m0.2 -22.6h0m0.2 2.2h0m0.2 -84.2h0m0 2.6h0m0.1 88.3h0m0 14.9h0m0.4 -110.2h0m0.1 14.6h0m0.2 -3.2h0m0.3 1h0m0.2 -9.9h0m0 6h0m0.1 80h0m0.1 -73h0m0.2 70h0m0.2 -4.5h0m0.2 -2.5h0m0 2.3h0m0 6.2h0m0.1 -10.5h0m0 16.1h0m0.4 -2.9h0m0 1.2h0m0.1 -17.3h0m0 10.6h0m0.5 -72.6h0m0.6 -7.5h0m0.5 71.1h0m0.3 -68.1h0m0 83.5h0m0 16.6h0m0.1 -5.3h0m0.1 -101.6h0m0 10.2h0m0 60.9h0m0.2 12.4h0m0.2 3.9h0m0.1 -83.2h0m0.1 9.5h0m0.3 86.8h0m0.2 -8.8h0m0.2 -22.7h0m0.2 2.7h0m0.5 -65h0m0.3 8h0m0.1 -15h0m0 11h0m0.3 -7.9h0m0.3 9.2h0m0.2 54.6h0m0.2 31.6h0m0.1 -88.8h0m0 84.9h0m0.1 -90.9h0m0 60h0m0.1 -62.4h0m0.2 97.8h0m0.3 -87.9h0m0.3 3.3h0m0.1 -12h0m0.2 5.1h0m0 59.5h0m0 6.8h0m0.2 -69h0m0 71.9h0m0.5 -13.7h0m0 7h0m0.8 -7.5h0m0.3 -56.3h0m0 7.8h0m0.1 45.7h0m0.2 -49.2h0m1 0.7h0m0.5 3.5h0m0 48.1h0m0.1 -60.5h0m0.1 71.2h0m0.1 -65.3h0m0.2 -2.8h0m0 53.4h0m0 7.5h0m0.4 4.3h0m1.2 -12.6h0m0 6.2h0m0.2 -63.1h0m0.1 10.2h0m0.1 43.9h0m0.2 5.7h0m0.1 -56.1h0m0 9.9h0m0.9 -14.3h0m0.2 11h0m0.1 -4.6h0m0.1 -2.9h0m0 51.7h0m0 3h0m0.2 -44.1h0m0.9 42.8h0m0.2 -44.3h0m0 40.8h0m0.3 -45.2h0m0.3 41.4h0m0.4 -43.3h0m0.3 3.9h0m0.6 42.2h0m0.3 3.3h0m1.2 -46.5h0m0.1 41.4h0m0.1 -55.2h0m0 10.6h0m0.1 -2.7h0m0.2 51.3h0m0.4 2.4h0m0.6 6.4h0m0.3 -67.5h0m0 60.8h0m0 14.9h0m0.2 -79.7h0m0 60.9h0m0.1 15.1h0m0.2 -8.1h0m0.1 -57.8h0m0 2.4h0m0.2 -5h0m0.4 -1h0m0.2 -4h0m0.1 67h0m0.1 -7.1h0m0 3.8h0m0.2 -55.2h0m0.1 62.9h0m1.1 -12.3h0m0.2 3.5h0m0.1 6.1h0m0.2 -63.4h0m0.1 60h0m0.4 1.1h0m0.2 -3h0m0.3 -73.2h0m0 11.2h0m0.2 -6.7h0m1.5 3.7h0m0 3.3h0m0 59.5h0m0 3.8h0m0.2 -72.9h0m0 79.6h0m0.2 -77.2h0m0 73.4h0m0 8.2h0m0 3.1h0m0.4 -74.9h0m1.4 1.4h0m0 61.2h0m0.2 -65.8h0m0.1 69.8h0m0.1 -7.3h0m0.4 -57.6h0m0.4 3.6h0m0.5 59.5h0m0.4 2.5h0m0 6.3h0m0.3 -66.6h0m0 63.2h0m0 0.3h0m0.1 -8.5h0m0.1 0.1h0m0 2.4h0m0 12.5h0m0.4 1.5h0m0.3 -5h0m0 2.6h0m1.2 -70.4h0m0.1 4.3h0m0.5 54.3h0m1.2 0.8h0m0.2 -61.6h0m0.2 -4.3h0m0.1 7.5h0m0.1 55.9h0m0 10.7h0m0.1 -60.6h0m0.1 56.8h0m0.4 -60.2h0m0.3 4.4h0m0.3 -12.6h0m0 66.7h0m0.2 -60h0m0.1 3.4h0m0.1 62.6h0m0.3 -2.8h0m1.3 -54.4h0m0.3 54.2h0m0.2 3.4h0m0.2 -61.4h0m0.1 -3.8h0m0.1 65.7h0m0.5 7.2h0m0 12.9h0m0.1 -81.1h0m0.2 -4h0m0.1 -2.7h0m0.1 122.4h0m0 27.6h0m0.1 -138.8h0m0.7 1.7h0m0.2 81.1h0m0.2 -88.8h0m0 155.6h0m0.1 -53.3h0m0.2 26.7h0m0.1 -125.2h0m0.1 69.8h0m0.1 24.6h0m0.2 -20.1h0m0.1 18.9h0m0.1 -14.6h0m0 4.1h0m0.2 -21.7h0m0 4.4h0m0 21.8h0m0.6 -3.8h0m0.3 -19.6h0m0.1 -65.4h0m0 67.9h0m0.5 -64.5h0m0 2.7h0m0 70.8h0m0.1 -73.7h0m0.2 3.7h0m0.1 62.7h0m0.1 37.8h0m0.2 -32.2h0m0.7 -2.6h0m0.8 -65.6h0m1 70.1h0m0.1 -3.1h0m0.2 7.5h0m0.3 9.2h0m0.1 0.3h0m0.2 -88.1h0m0 79.9h0m0.1 -4.1h0m0 8h0m0.1 -79.2h0m0.3 100.9h0m0 9.1h0m1.1 -118.1h0m0 86.5h0m0 20h0m0.1 -11h0m0 4h0m0.2 -92.1h0m0.1 75.6h0m0 28.1h0m0.1 7.7h0m0.1 -9.1h0m0.1 -98.7h0m0 81.9h0m0.1 -4h0m0.1 32.1h0m0.1 -12.6h0m0.1 18.9h0m0.1 -17h0m0.2 -18.4h0m0.2 2.8h0m0.3 -84.5h0m0.1 -8.2h0m0.1 11.1h0m0.3 -7h0m0.3 102h0m0.5 -7h0m0.1 -86.3h0m0.2 -3.3h0m0.1 115.5h0m0.1 -19.6h0m0.3 7h0m0 5.6h0m0.2 9.7h0m0.4 -11.7h0m0.2 -1.9h0m0 11h0m0 14.4h0m0.2 -127.9h0m0.3 99.6h0m0 7.2h0m0.2 -11.3h0m0 8.7h0m0.2 -11.8h0m0.4 10.8h0m0 26.1h0m0.2 -22.6h0m0.4 12.9h0m0 13.7h0m0.2 -16.5h0m0.1 -5.1h0m0.1 -8.8h0m0 7.8h0m0 4.4h0m0.1 -123.7h0m0 3.2h0m0 4.4h0m0.4 132.5h0m0.1 -26.4h0m0.1 -117.5h0m0.1 14.8h0m0 130.6h0m0.4 -23.6h0m0.4 -114.1h0m0 4.3h0m0 115.9h0m0.3 -123h0m0 120.3h0m0.1 -6.5h0m0.6 -102.1h0m0.7 -10.7h0m0.4 7.2h0m0 137.2h0m0.1 -134h0m0 107.2h0m0.2 6.9h0m0.1 -4h0m0.2 -117h0m0.2 136.7h0m0.6 -14.3h0m0.2 -122.2h0m0.1 9.1h0m0 117.2h0m0.2 -8h0m0.2 -113.8h0m0.1 135.6h0m0.3 -7h0m0.1 -7h0m0.5 -122.6h0m0 126.9h0m0.1 -120.6h0m0.1 137.9h0m0.5 -141h0m0.4 126.8h0m0.1 3.4h0m0.1 -6.4h0m0.1 -117.7h0m0.1 154.3h0m0.2 -158.3h0m0.4 157.7h0m0.9 -25h0m0.5 -7.3h0m0.1 -127.2h0m0.1 4.4h0m0.1 126.1h0m0.3 -134.7h0m0.2 11.2h0m0.5 -8h0m0 159.3h0m0.4 -151.6h0m0.1 125.9h0m0 20.8h0m0.1 -17.6h0m0.1 12h0m0.6 -8.7h0m0.5 -141.8h0m0 7.2h0m0 160.8h0m0.2 -156.9h0m0.2 -14.9h0m0 7h0m0 157h0m0.1 -16.3h0m0 37.5h0m0.1 -24.4h0m0.5 12.9h0m0.1 -15.7h0m0 13.2h0m0.1 -27.8h0m0 12.1h0m0.1 -143.8h0m0.4 4.4h0m0.4 157.8h0m0.9 -19.8h0m0.3 8h0m0.2 -146.1h0m0.1 -6h0m0.2 3.4h0m0.3 152.3h0m0.4 11.2h0m0.4 -162.9h0m0.2 3.3h0m0 156.2h0m1 9.5h0m0.2 14h0m0.1 -11.3h0m0 8.1h0m0.5 -178.4h0m0.2 -4h0m0.2 6.9h0m0.9 206.6h0m0.1 -209.1h0m0 191h0m0.1 -194.5h0m0.1 -4.3h0m0 206.2h0m0 6.9h0m0.4 -30.9h0m0.1 6.6h0m0.1 -177.9h0m0.1 174.2h0m0.2 8.2h0m0.2 1.6h0m0.1 -3.4h0m0.7 -183.6h0m0.1 -4.4h0m0 172.9h0m0.1 -177.1h0m0.1 15.9h0m0 163.8h0m0.1 15.2h0m0.2 -181.9h0m0 170.7h0m0.1 6.8h0m0.4 -175.2h0m0 3.3h0m0 166.2h0m0.3 -6.3h0m0.1 -2.8h0m0.1 6.5h0m0.4 -11h0m1.1 -159.2h0m0 154.4h0m0.2 -147.4h0m0.1 -2.9h0m0 6.9h0m0.2 146.8h0m0 3.9h0m1 -10.2h0m0.6 -141.5h0m0.1 4.5h0m0.2 3.3h0m0.1 -17.7h0m0 7.1h0m0.6 19.7h0m0.1 121h0m0.1 -136.7h0m0 133.8h0m0.1 -126.5h0m0.5 -10.2h0m0.1 14.2h0m0.1 -8.1h0m0.3 23.3h0m0.1 -8.8h0m0.7 2.9h0m0.1 3.4h0m0.3 110.2h0m0.3 7.3h0m0.2 -18.4h0m0.1 14.7h0m0.1 -11.2h0m0.1 4.3h0m0.7 -127.7h0m0.1 -3.7h0m0 10.2h0m0.3 -3.2h0m0.1 -10.5h0m0.3 108.4h0m0.1 -116h0m0.1 5.2h0m0 103.7h0m0.3 -116.4h0m0.2 10.2h0m0.1 116.2h0m0 3.2h0m0.1 -125.1h0m1.1 106.4h0m0.2 -3.7h0m0.2 13.7h0m0.1 -123.9h0m0 116.6h0m0.3 -120.8h0m0.1 8h0m0.7 -12.8h0m0.3 -4.2h0m0.1 127.4h0m0.1 -7.8h0m0.2 -110.9h0m0.1 115.3h0m0.1 -127h0m0.9 114.5h0m0.6 -111.8h0m0 115.2h0m0.2 -119.7h0m0.4 -3h0m0.7 113.1h0m0.2 -3.2h0m0.1 -110.6h0m0.2 118.2h0m1.1 -23.6h0m0.3 8.3h0m0.4 -4.1h0m0.2 -103.9h0m0.6 -4.3h0m0.9 -2.2h0m0 90.6h0m0.1 -98.7h0m0 103.1h0m0.5 -99.2h0m0.1 -6.4h0m1 99.3h0m0.1 -95.3h0m0.2 2.5h0m0.1 98.7h0m0.1 -13.6h0m0.2 4h0m0.2 6.1h0m0.7 -114.1h0m0 106.6h0m0.1 -7.8h0m0.1 -93.1h0m0.1 -3.2h0m0 91.9h0m0 8.7h0m0.2 -123.8h0m0.2 13.3h0m0.2 -8.9h0m0 2.7h0m0.2 3.5h0m0.7 101.1h0m0 2.5h0m0.4 -109.8h0m0 104.8h0m0 9.2h0m0.1 2.9h0m0.1 -110.6h0m0.3 -2.4h0m0.3 -11h0m0.1 -10.9h0m0.2 125.7h0m0.1 -3.5h0m0.5 6h0m0.3 -105.7h0m0.1 -6.9h0m0 3.3h0m0.3 -7.5h0m0 2.8h0m0.5 109h0m0.1 9.3h0m0.1 -154h0m0.2 142h0m0.3 -131.4h0m0 140.5h0m0.5 -109.3h0m0 107.1h0m0.3 -104.2h0m0 107h0m0.2 -5.7h0m0.2 -107h0m1.2 4.9h0m0 119.8h0m0.1 -123.1h0m0 112.6h0m0 7.4h0m0.2 -113.2h0m0.4 101.8h0m0.6 -102.6h0m0.2 109.7h0m0 7.2h0m0.1 -3h0m0.4 -117.6h0m0.1 6.9h0m0.1 -12.6h0m0 3.1h0m0.8 129.7h0m0.1 -7.5h0m0.1 -111.5h0m0.4 3.3h0m0.1 104.9h0m1.5 8h0m0.3 3.4h0m0.1 -5.9h0m0.4 -105.3h0m0.2 2.5h0m0.1 3.6h0m0 3.4h0m0.5 -7h0m0.1 115.6h0m0 4.3h0m0.1 -125.7h0m0.1 2.6h0m1.1 15.3h0m0.4 -2.5h0m0.2 -3.4h0m0.1 139.4h0m0.3 -3.6h0m0.5 -4.4h0m0.6 1.9h0m0.1 4.3h0m0.4 -131.1h0m0 2.5h0m0.1 -12.5h0m0 18h0m0.1 -13.4h0m0 6.4h0m0.3 -4h0m0.1 0.6h0m0.2 6.7h0m0.7 128.1h0m0.5 2.7h0m0 6h0m0.3 -132h0m0.2 128.9h0m0.1 -5.1h0m0 2.6h0m0.1 10.1h0m0.1 -132.3h0m0.1 -8.6h0m1 10h0m0.2 -6.2h0m0.1 -6.6h0m0 9.3h0m0 132.8h0m0.1 -139.3h0m0.4 132.4h0m0 3.3h0m1 -121.8h0m0.3 -6.9h0m0.1 2.8h0m0.6 127.4h0m0.7 3.5h0m0.2 1.5h0m0.1 -135.4h0m0 7.8h0m0.5 136h0m0.2 -4.5h0m0.1 -134.9h0m0 7.6h0m0.3 -5.7h0m0.1 7.4h0m0 3h0m0.1 -6.9h0m0.6 -6.3h0m0.5 139.9h0m0.1 -3.2h0m0.2 6.7h0m0 2.7h0m0.1 -140.1h0m0 12.3h0m0.4 -2.9h0m0.1 -6.5h0m0.1 12.9h0m0 122.9h0m0.3 -132.5h0m0.1 140.5h0m0.9 -0.4h0m0.1 7.7h0m0.3 -3.6h0m0.1 -145.1h0m0 153.1h0m0.1 -15h0m0.1 -141.1h0m0.1 16.5h0m0.1 -6.2h0m0.1 -2.7h0m0.3 6.4h0m0 5.8h0m0.4 -2h0m0.1 -3.7h0m0 7.3h0m0.5 125.1h0m0 2.6h0m0.2 -123.2h0m0.3 127.3h0m0.3 3.9h0m0.7 6.9h0m0.2 8.6h0m0.3 -141.6h0m0.2 137h0m0.2 -144.8h0m0.2 -5.8h0m0.1 3.3h0m0 6.2h0m1 6.6h0m0.1 3.2h0m0 151.4h0m0.1 -157.1h0m0.1 160.2h0m0.1 3.2h0m0.2 -154.5h0m0.5 172.1h0m0.4 -8.7h0m0.1 12h0m0.1 -173.7h0m0.3 3.9h0m0.6 182.6h0m0.3 -181.7h0m0 176h0m0 15.4h0m0.1 -188.1h0m0.1 212.7h0m0 9.9h0m0 13.1h0m0.1 -54.1h0m0.1 -8.9h0m0.1 24h0m0.1 -203.1h0m0.1 10.2h0m0 164.5h0m0 7.5h0m0.2 -11.5h0m1.2 -138.7h0m0.1 -4.2h0m0.1 -22.7h0m0 14.1h0m0.4 -3.4h0m0.1 -17.6h0m0 13.9h0m0.1 11.3h0m0 141.3h0m0.1 -156.9h0m0 153.7h0m0.9 -153h0m0.2 149.5h0m0.1 -4h0m0.1 -155.7h0m0.1 7h0m0.2 138.5h0m0.1 -150.7h0m0.1 6.7h0m0 2.1h0m0.2 -16.3h0m0 161.5h0m0.1 -164h0m0 12.6h0m0.1 145.4h0m1.4 -157h0m0.4 -4.4h0m0.2 7h0m0.1 130h0m0.1 -4.3h0m0.5 -6.5h0m0.1 13.3h0m0.1 -10.2h0m0.1 -16.3h0m0.2 -10.9h0m0.2 3.3h0m0 3.8h0m0.1 7.3h0m0.7 -126.9h0m0 8.4h0m0.5 -3.8h0m0.2 0.9h0m0.2 114.3h0m0.2 -5.4h0m0.2 -7.9h0m0 10.5h0m0.4 -6.7h0m1.2 -110.6h0m0 4.2h0m0.1 97.7h0m0 10.7h0m0 3.9h0m0.1 -8.3h0m0.3 -2.9h0m0.4 -7.1h0m0.1 7.4h0m0.2 -4.1h0m0.3 -9.8h0m0 2.7h0m0.1 -98.4h0m0.2 102.2h0m0.3 -108.4h0m0.2 3.5h0m0.1 5.5h0m0.2 93.2h0m0.3 -96.7h0m0.2 -9.4h0m0 111.3h0m0.1 -108.4h0m0 111.3h0m0.1 -11.6h0m0 15.4h0m0.1 -121.9h0m0 10.4h0m0.1 102.3h0m0.6 15.4h0m0.1 -12.4h0m0.2 -112h0m0.1 -4.4h0m0 125.8h0m0.2 -129.9h0m0.2 12.7h0m0 129.6h0m0.1 -18.9h0m0 2.6h0m0.3 -128.8h0m1.4 139h0m0.1 3.9h0m0.3 -8.3h0m0.4 -132.7h0m0.1 7.9h0m0.5 106.8h0m0 9.4h0m0.1 -128.2h0m0 121.3h0m0.1 -133.2h0m0.2 137.2h0m0.3 -133.9h0m0 2.8h0m0 12.7h0m0.1 -3.2h0m0.1 -6.8h0m0.1 -11.8h0m0.7 14.9h0m0.1 -15h0m0.2 19.1h0m0 102.9h0m0.3 -118.5h0m0.2 121.3h0m0.1 -114.3h0m0.1 -2.5h0m0.1 104.8h0m0.2 -113.8h0m0 10h0m0.1 109.4h0m0.1 -135.5h0m0 6.7h0m0.1 125.6h0m0.1 -123h0m0 3.2h0m0.1 10.2h0m0 7.5h0m0 111.9h0m0.2 -146.5h0m0 7.2h0m0 142.4h0m1.1 -130.4h0m0.1 6.1h0m0.3 3.7h0m0.3 3.9h0m0 110h0m0.1 -7.3h0m0.1 -113.2h0m0.2 116.1h0m0.3 -7.3h0m0.3 -115.2h0m0.5 -2.9h0m0 7.4h0m0.1 4.4h0m0 4.3h0m0.4 108h0m0.2 4.1h0m0.3 -13.4h0m0 6.5h0m0.1 -3h0m0.7 -103.1h0m0.5 -11.5h0m0 5.9h0m0 116h0m0.2 -115.1h0m0 109h0m0 9h0m0.1 -130.9h0m0 8.6h0m0.2 -16.5h0m0 132.8h0m0 0.3h0m0.1 8.8h0m0.1 -118.4h0m0 115.5h0m0.1 -134.6h0m0 7.7h0m0.1 131.4h0m0.3 -13.1h0m0.1 5.5h0m0.8 2.4h0m0.3 5.7h0m0.1 -10.2h0m0.1 7h0m0.5 -126h0m0.1 -4.1h0m0.1 7h0m0.1 -10.5h0m0.2 13.1h0m0.4 -16.1h0m0.1 141h0m0.1 -160.2h0m0.3 25.1h0m0 124.5h0m0.1 -155.6h0m0.1 34.7h0m0.1 7.4h0m0 117.2h0m0.2 -120.5h0m0 124.4h0m0.4 3.2h0m0.5 -8.9h0m0.2 -123.5h0m0 128h0m0.3 -131.5h0m0.3 -7.8h0m0 3.3h0m0 12h0m0.2 8.5h0m0.5 0.7h0m0.2 6.9h0m0.2 109.6h0m0.2 -119h0m0 6.7h0m0.3 109.5h0m0.6 -117.5h0m0.1 6.3h0m0.1 -10.3h0m0 21.6h0m0.2 -7.5h0m0 3.5h0m0 121.6h0m0.3 -132.5h0m0.1 136h0m0.3 -6.8h0m1.1 -113.9h0m0.1 3h0m0.3 130.3h0m0.2 -4.3h0m0.3 -4.3h0m0.2 -127.3h0m0 154.8h0m0.1 -12.9h0m0.1 -134.3h0m0 138.1h0m0.2 -140.7h0m0 143.2h0m0.2 -145.6h0m0.2 8h0m0 141.6h0m1.2 11.4h0m0.3 -147.8h0m0.2 -2.6h0m0 6.5h0m0 140h0m0.4 8.1h0m1 -154.7h0m0.1 6.3h0m0.4 3.7h0m0 140.9h0m0.1 -147.1h0m0.1 144.6h0m0.9 -149.1h0m0.2 9.9h0m0.2 -6.6h0m0.3 152.5h0m0.1 -141.5h0m0.5 176.2h0m0.1 -39h0m0.2 5.4h0m0 41.3h0m0 12.2h0m0.2 -56.5h0m0 11.7h0m1 -163.8h0m0 6.2h0m0 8h0m0.2 -11.1h0m0.2 -8h0m0.1 12.6h0m0 151.4h0m0.3 -155.5h0m0 152.9h0m0.1 -165h0m0.1 9.4h0m0 12.9h0m0.1 -2.8h0m1.5 148.1h0m0.2 -158.7h0m0.2 162.4h0m0.1 -158.3h0m0 4h0m0.3 -13.4h0m0 161.5h0m0.1 -159h0m0.3 9.4h0m0.2 -3h0m0.8 146.3h0m0 5.7h0m0.5 -3.1h0m0.2 5.7h0m0.1 -161.7h0m0.1 4h0m0.5 -9.9h0m0 156.8h0m0.8 -8.4h0m0 12.4h0m0.8 -182.1h0m0 7.2h0m0 14.1h0m0.3 -23.7h0m0 19.2h0m0 11.6h0m0.3 -3.5h0m0.1 -10.6h0m0.2 -21.2h0m0.3 170.1h0m0.2 -143h0m0.2 -5.9h0m0.2 -3.2h0m0 6.2h0m0.2 3.4h0m0.2 142.3h0m0.2 -139h0m0.1 135.9h0m0.2 -10.5h0m0.1 3.3h0m0.1 4.1h0m0 3.8h0m0.2 -3.9h0m0.4 -150h0m0.1 2.8h0m0.1 -5.8h0m0 12.5h0m0.1 -34.2h0m0.1 -4.1h0m0 6.5h0m0 29.3h0m0.1 -3.7h0m0 9.1h0m0 2.2h0m0.2 -18.3h0m0 12.6h0m0.1 -1.2h0m0.1 -15.2h0m0 10.9h0m0.1 -22.1h0m0 15.4h0m0.2 -15.8h0m0.1 3.6h0m0.1 26.9h0m0.1 -23.9h0m0 5.4h0m0 7.8h0m0 142.8h0m0.1 -139.3h0m0.1 149h0m0 4.1h0m0.1 -147.3h0m0 140h0m0.1 -153.2h0m0 144.1h0m0.1 -140.5h0m0.1 147.1h0m0 13.6h0m0.3 -146.5h0m0.4 121.3h0m0.1 3.3h0m0.6 -127.6h0m0.3 2.7h0m0.2 -12.2h0m0.1 6.4h0m0.7 -40.6h0m0 24h0m0.1 -9.6h0m0 32.3h0m0.2 -42.2h0m0.1 165.7h0m0.1 -128.4h0m0 5.9h0m0 114.5h0m0 11.4h0m0.1 -133.2h0m0.1 -32.5h0m0 36.6h0m0.1 -14.1h0m0 19.7h0m0.1 -30.6h0m0.1 16.7h0m0 130.6h0m0.3 1.1h0m0.1 -132.2h0m0.1 127.7h0m0.1 7.5h0m0.1 -11.7h0m0.2 -117.1h0m0 0.1h0m0.1 -6h0m0 9h0m0.1 147.8h0m0.2 -144.5h0m0.4 -26.1h0m0 3.8h0m0 20.5h0m0.1 -20.1h0m0.1 -9.3h0m0 15h0m0 14.4h0m0.1 -45.7h0m0 15.2h0m0.1 -5.7h0m0.1 -4.5h0m0.1 26.4h0m0 4.3h0m0.1 3.8h0m0.3 -48.4h0m0 4.6h0m0 23.7h0m0.4 20.6h0m0.1 135.7h0m0.2 -148h0m0 10.2h0m0 4.5h0m0 3.2h0m0 2.6h0m0 104.7h0m0.1 -140.8h0m0.2 7.5h0m0 23.4h0m0.2 -27.2h0m0 24.5h0m0.4 -29.9h0m0 21.5h0m0 5.7h0m0 8.9h0m0.1 -31.8h0m0 135.3h0m0.2 -107.9h0m0.1 -21.7h0m0.2 126.9h0m0 7.2h0m0.1 -108.8h0m0 111.2h0m0 3.9h0m0.1 -160.3h0m0.1 5.6h0m0.2 20.2h0m0.1 -4.6h0m0 10.4h0m0 12.6h0m0.1 -44.5h0m0 9.7h0m0.1 31.8h0m0 121.9h0m0.1 -136.4h0m0 162.3h0m0.1 -160.8h0m0 125.7h0m0.1 -123.3h0m0 17.2h0m0.1 -20.3h0m0.1 -34.1h0m0 44.8h0m0 108h0m0.1 -109.1h0m0 4.1h0m0 166.6h0m0.1 -192.2h0m0 19.4h0m0.1 -30h0m0 31.4h0m0 113.9h0m0.3 -118.1h0m0.5 149.7h0m0.1 0.9h0m0.1 -11.4h0m0.6 -127.2h0m0.1 -31h0m0 16.4h0m0 120.8h0m0.1 -110.6h0m0.1 101.3h0m0.2 -123.8h0m0 4.5h0m0 13.9h0m0 108.8h0m0 21.2h0m0 35.5h0m0.1 -196.8h0m0 148.9h0m0.1 -127.3h0m0 121.4h0m0.7 -4.1h0m0.3 -131.4h0m0 29.2h0m0.1 -16.6h0m0 122.6h0m0.1 -7.5h0m0.1 -102.6h0m0 8h0m0 106.3h0m0.1 -143.3h0m0 26.6h0m0.1 -30.2h0m0 12h0m0 141.5h0m0 23.8h0m0.1 -150.6h0m0 6.3h0m0.2 7.8h0m0.6 101.3h0m0.1 -6.8h0m0 3.3h0m0.2 -94.1h0m0.2 140h0m0.3 -184h0m0 37.2h0m0 3.6h0m0.1 -16.3h0m0 9.3h0m0.1 126.7h0m0.2 -124.2h0m0.2 8.3h0m0.3 -13.8h0m0.2 134.2h0m0.4 -25.9h0m0.1 12h0m0.2 -110.5h0m0 108.4h0m0.2 -111.8h0m0 98.7h0m0 7.7h0m0 15.5h0m0.1 -11.3h0m0.1 -1.2h0m0.1 -102.7h0m0 4.6h0m0.1 -16.5h0m0 121.1h0m0.1 -118.5h0m0 108.9h0m1.3 13.7h0m0.3 -7.7h0m0.1 12.1h0m0.1 -1.8h0m0.1 -111.4h0m0.1 113.9h0m0.6 -118.8h0m0 2.5h0m0.2 -6.5h0m0.5 6.9h0m0.1 3h0m0 107.3h0m0.2 -104.2h0m1.1 108.8h0m0.2 3.5h0m0 4.6h0m0.1 -125.1h0m0.1 -44.2h0m0 172.1h0m0.2 -120.2h0m0.2 -4.1h0m0.2 -20.6h0m0.1 14.6h0m0.6 -2h0m0.2 139.8h0m0.2 -4.3h0m0.6 -139.5h0m0.1 -2.8h0m0.1 6.2h0m0 6.9h0m0.1 6.7h0m0.1 -10h0m0.1 12.8h0m0.2 -6h0m0.5 4.3h0m0.3 -8h0m0 10.7h0m0.3 -6.1h0m0.2 140.2h0m0.4 -137.1h0m0.2 -51.5h0m0 54.1h0m0.2 154.3h0m0.1 -7.1h0m0 10h0m0.2 -154.1h0m0 140.8h0m0.3 7.6h0m1.2 -149.5h0m0 4.6h0m0 162.8h0m0.2 -10.7h0m0.3 7.6h0m0.1 -195.6h0m0 192h0m0.3 -198.1h0m0 40.8h0m0.3 149.3h0m0.2 -145.7h0m0.3 154.9h0m0.1 -2.9h0m0 5.9h0m1.1 -22.7h0m0.1 12.4h0m0.1 -8.1h0m0.5 -188.8h0m0.3 44.9h0m0.4 -2.5h0m0 5.6h0m0.8 146.7h0m0.3 -18.6h0m0.1 6.9h0m0 2.7h0m0.1 6.2h0m0.3 -151.3h0m0.1 -4.2h0m0 7.4h0m0 2.9h0m0.4 -22.4h0m0.3 15.5h0m0.1 133.6h0m0.3 -158.8h0m0 17.5h0m0.1 -12.9h0m0.2 16.1h0m0.1 132.2h0m0 3h0m0.2 -126.9h0m0.4 -19.9h0m0 14.8h0m0.2 -24.7h0m0 17.2h0m0.1 3.2h0m0.1 -31.8h0m0 155.7h0m0.3 -141.4h0m0.1 -9.9h0m0.1 17.5h0m0 145.6h0m0.2 -7.7h0m0.1 -151.2h0m0 154.9h0m0.1 -145h0m0.7 10.4h0m0.1 133.4h0m0.1 -130h0m0.2 119.5h0m0.1 -129.9h0m0.3 -4.3h0m0.1 130.5h0m0 7.2h0m0.5 -127.2h0m0.3 -2.6h0m0.4 -4.5h0m0.1 121.4h0m0 4.5h0m0.2 8h0m0.1 15.6h0m0.1 -19.5h0m0.1 -127.7h0m0 113.4h0m0 6.6h0m0.6 1.8h0m0.1 4.5h0m0.1 13.5h0m0.2 -25.7h0m0 14.9h0m0.1 -139.5h0m0 143.7h0m0.1 -15.6h0m0.5 -142.4h0m0 25.4h0m0.3 122.9h0m0.1 -152.3h0m0 15.3h0m0 2.7h0m0 130.8h0m0 9.8h0m0.3 -146.1h0m0 8.1h0m0 2.1h0m0 2.5h0m0 129.6h0m0.1 -19.1h0m0.2 -116.6h0m0 8.3h0m0.1 135.7h0m0.1 -20.9h0m0.1 -2.4h0m0.2 27.7h0m0.3 13.4h0m0.2 -165.2h0m0 10.8h0m0.1 -15h0m0 121.7h0m0.3 -133.8h0m0 30.4h0m0.1 -6.5h0m0 119.9h0m0.1 -6.9h0m0.1 -128.9h0m0 133.3h0m0.2 -137.4h0m0 16.2h0m1 130.1h0m0.3 -22.5h0m0 8.6h0m0 7.3h0m0.2 10.1h0m0.1 -12.9h0m0.3 -112.8h0m0.1 -5.1h0m0 124.2h0m0.1 -14.9h0m0.1 -116.3h0m0 5h0m0 8.4h0m0 0.9h0m0.1 -20.3h0m0 12h0m0.1 2.2h0m0 1.6h0m0.1 -61.7h0m0 9.8h0m0 46.3h0m0.1 122.4h0m0.1 -159.4h0m0 173.2h0m0.1 -129.9h0m0.1 -8.7h0m0.2 113.7h0m0.1 -3.8h0m0.2 46.6h0m0.5 -166.7h0m0 117.4h0m0.3 -107h0m0 11h0m0.1 -28.2h0m0 13.8h0m0.1 -10.4h0m0 10.8h0m0.1 5.4h0m0 6.2h0m0.1 -14.9h0m0 13h0m0.2 -13.4h0m0 9.4h0m0.1 104.6h0m0 23.2h0m0.2 -124.1h0m0.1 3.7h0m0.1 94.6h0m0.9 13.2h0m0.1 -18.6h0m0 9h0m0 12.7h0m0.2 -8.4h0m0.1 -129.9h0m0.2 120.3h0m0.1 -92.5h0m0.1 104.8h0m0.5 -15.1h0m0.4 4h0m0.1 -8.2h0m0.3 -111.1h0m0 12.9h0m0.3 -8.9h0m0 2.4h0m0 3.2h0m0.3 10.3h0m0.1 -22.8h0m0.1 18.9h0m0.2 -1.5h0m0 10.7h0m0.1 -6h0m0.1 -3.3h0m0.1 9.3h0m0.1 -19.9h0m0 4.9h0m0 9.8h0m0.2 -7.3h0m0 104.2h0m0.1 -115h0m0 104.6h0m0 6.4h0m0.1 -104.3h0m0 101h0m0.1 14.6h0m0.1 -4.3h0m0.1 -121.9h0m0.2 -4.1h0m0 6.6h0m0 4.8h0m0 6.3h0m0.1 -5.8h0m0.1 19.4h0m0.1 -23.2h0m0.1 13.7h0m0.1 -31.8h0m0.1 15.2h0m0.1 101.4h0m0.1 -80.2h0m0.2 -33.5h0m0 9.5h0m0.3 -2.5h0m0 112.7h0m0.1 -2.4h0m0 5.7h0m0.3 -125.8h0m0.3 -11.4h0m0 3.9h0m0 10.2h0m0.2 -6.2h0m0.1 121.5h0m0.1 -5h0m0 2.5h0m0.9 -152.8h0m0.2 158.4h0m0.1 -181.4h0m0 169.1h0m0.2 9.7h0m0.3 -3.5h0m0.2 -3h0m0.2 -139.6h0m0.2 13.2h0m0.3 4.3h0m0.1 -34.5h0m0.1 26.9h0m0.1 10.8h0m0.6 -12.9h0m0.1 -34.1h0m0 28.7h0m0 2.5h0m0.2 6.8h0m0.7 112.2h0m0 4h0m0 3.8h0m0.1 7.1h0m0.2 -4.6h0m0.4 -128.8h0m0.2 4.5h0m0 120.6h0m0.4 -129.5h0m0.2 11.7h0m0.6 116.9h0m0.1 -2.7h0m0.1 -112.8h0m0.2 108.2h0m0.2 -112.1h0m1.1 116.1h0m0.1 -7.6h0m0 3.8h0m0.4 -107.3h0m1.7 104.1h0m0.1 -111.3h0m0.2 13.2h0m0.2 -10.7h0m0.1 3.6h0m0 2.9h0m0.3 108.4h0m0.1 -11.6h0m0.1 21.7h0m0.2 -114h0m0 124.2h0m0.1 -13.9h0m0 7.9h0m0 3h0m0.1 -124.3h0m0 98.8h0m0.2 10.9h0m0.4 -104.1h0m0 107.2h0m0.8 -97.5h0m0.1 -4.4h0m0.1 113.2h0m0.2 0.4h0m0.2 -31h0m0 19h0m0 7.9h0m0.1 -10.9h0m0.2 6.6h0m0.1 -13.5h0m0.1 -6.2h0m0.2 2.9h0m0 29.2h0m0.2 -104.4h0m0 76.8h0m0.5 -83h0m0.2 118.6h0m0.2 -116.1h0m0 74.7h0m0.1 -3.2h0m1 -63.3h0m0 67.7h0m0.1 23.1h0m0.3 -26.1h0m0 7.4h0m0.1 2.9h0m0 37.2h0m0.3 -109.8h0m0.4 -1.3h0m0.5 3.4h0m0 67.9h0m0.1 -63.9h0m0 56.2h0m0.4 -99.9h0m0 96.1h0m0.5 4.9h0m0.3 -115.8h0m0.1 9.6h0m0.4 102.7h0m0.4 -119.3h0m0 54.3h0m0.1 15.8h0m0.2 -6.9h0m0 2.6h0m0.2 -14.6h0m1.1 14.1h0m0.3 -7.3h0m0.1 69.4h0m0.1 -7.9h0m0 5h0m0.1 -55.6h0m0 2.5h0m0 49.9h0m0.4 -2.6h0m0.1 8.9h0m0.7 -64.2h0m0.2 3.2h0m0 3.2h0m0.1 4.2h0m0.8 46h0m0.6 3.8h0m0.1 -49.1h0m0.3 4.3h0m0.4 0.5h0m0.2 -6.8h0m0.2 10.3h0m0.1 -7.6h0m0.6 47.2h0m0.1 4.2h0m0 15.5h0m0 2.9h0m0.1 -6.2h0m0.6 -9.2h0m0.2 -6.9h0m0 13.3h0m0.5 -10.1h0m0.3 -44.5h0m0.1 -3.3h0m0.1 -7.2h0m0 14.3h0m0.1 -0.3h0m0.2 -9.9h0m0.2 -11.4h0m0.1 6.7h0m0.2 3.5h0m0.1 -12.8h0m0 6.2h0m0.1 56.1h0m0.8 -6.7h0m0.1 15.1h0m0.1 23.2h0m0.3 -28.9h0m0 34h0m0.1 -39.8h0m0.3 6.3h0m0 20h0m0.1 -13.9h0m0.1 -47.4h0m0.1 51.5h0m0.1 -68.1h0m0.1 -16.1h0m0.1 8.3h0m0.2 4.3h0m0 12h0m0.1 3.5h0m0 68.9h0m0.1 -92.4h0m0 65.1h0m0 6.7h0m0 11.3h0m0.2 -81h0m0 21.2h0m0 6.9h0m0.1 -52.1h0m0 76.5h0m0 7.8h0m0.1 -51.9h0m0 3.1h0m0 0.2h0m0 13.2h0m0.1 -33.2h0m0.1 -1.6h0m0 14.2h0m0 4h0m0 6.7h0m0.1 -28.6h0m0 8.6h0m0 1.4h0m0 14.8h0m0 4h0m0 1.9h0m0.1 -22.1h0m0 8.9h0m0 10.6h0m0 40.8h0m0.1 -75.6h0m0 32h0m0 3h0m0 58.2h0m0 2.6h0m0.1 -93.3h0m0 21.5h0m0.2 -28h0m0 14.2h0m0 16.8h0m0.1 -27.2h0m0 6.4h0m0 12.8h0m0 1.1h0m0 5h0m0 14.6h0m0.1 -26.5h0m0 14.4h0m0 12.1h0m0.1 -35.8h0m0 15h0m0 1.2h0m0.2 14.8h0m0.1 -19.6h0m0 16.7h0m0.2 -19.7h0m0.1 10.2h0m0 13.3h0m0 3.9h0m0.1 -10.5h0m0.1 -21.6h0m0 5.1h0m0 65.2h0m0.1 -51.7h0m0 6.8h0m0 2.9h0m0 3.8h0m0 6.8h0m0 28.9h0m0.1 -48.6h0m0 3.3h0m0.1 -16h0m0 2.6h0m0 4.9h0m0 50.3h0m0 8.7h0m0.3 -62.7h0m0 9h0m0.1 -7.6h0m0 3h0m0 17.7h0m0.1 -8.3h0m0.1 8h0m0.9 -26.8h0m0 4h0m0.2 25.1h0m0.1 -3.3h0m0 7.5h0m0.1 -25.6h0m0 14.7h0m0.1 -11.5h0m0 44.2h0m0.1 -37.1h0m0.1 36.3h0m0.1 -62.3h0m0 31.3h0m0 34.4h0m0.1 -72.7h0m0 12h0m0 17.3h0m0 46h0m0.1 -71.3h0m0 19.5h0m0 7.3h0m0 4.2h0m0.2 -3.7h0m0.2 -16h0m0 3.7h0m0 6.3h0m0 2.8h0m0 50h0m0.1 -39.8h0m0 2.4h0m0.1 -29.3h0m0 62.2h0m0.1 -28.7h0m0 3.3h0m0.1 -19.9h0m0.1 6.6h0m0 6.9h0m0.7 -31.8h0m0 10.7h0m0 16.1h0m0.2 -18.8h0m0.1 -18.9h0m0.1 25.9h0m0 4.1h0m0 43.8h0m0.2 -71h0m0 11.6h0m0 31.6h0m0.1 -3.3h0m0.1 -36.5h0m0 28.8h0m0 7.9h0m0.4 27.6h0m0 7.9h0m0.6 -41.8h0m0.1 33.5h0m0.3 -44.4h0m0 6.3h0m0.1 42.4h0m0.1 -28.5h0m0.1 -17.5h0m1.4 41.7h0m0.6 3.9h0m0 3.5h0m0.4 -31.1h0m0.5 23.4h0m0.2 3.5h0m1.3 -0.9h0m0.2 -27.4h0m0.5 24.9h0m0.6 -22h0m0.4 -3.8h0m0.8 24.9h0m0 9.6h0m0.2 -7.1h0m0.4 -36.3h0m0 39.1h0m0.1 -41.6h0m0.2 12.9h0m0.1 -6.8h0m0.1 10h0m0.3 -8.3h0m0.4 2.4h0m0 2.8h0m0 23.7h0m0.2 -20.1h0m1 1.2h0m0.2 -6.3h0m0.1 -5.2h0m0.4 7.8h0m0.4 26.7h0m0.2 -3.7h0m0.4 -0.4h0m0 3.3h0m0.6 -23.4h0m0.9 21.4h0m0.2 3.6h0m1.1 -26.6h0m0.3 3.7h0m0 19h0m0 4.2h0m0.4 -26.2h0m0.1 2.8h0m2.1 0.7h0m0 22.7h0m0.2 -25.4h0m0 21h0m1.4 -19.4h0m0.5 -7.7h0m0 10.1h0m0 22.6h0m0.1 -28.8h0m0.1 33.2h0m0.2 -8.7h0m0.5 -1.4h0m0.1 -16.3h0m0.2 -8.4h0m0.2 0.6h0m0.1 2.3h0m0.2 2.4h0m0 21.9h0m0.2 -21.5h0m0 20.5h0m0.1 -40.1h0m0.2 7h0m0.1 -9.9h0m0 6.9h0m0 6h0m0.1 32.6h0m0.1 -57.8h0m0.1 33h0m0 29h0m0.2 -54.9h0m0 45h0m0.1 -24.8h0m0 7.1h0m0.2 -9.8h0m0 5.2h0m0.1 6h0m0.4 17.7h0m0.2 2.7h0m0.4 -23.2h0m0 27.1h0m0.3 -24.4h0m0.3 -6.5h0m1.4 25.1h0m0.1 -26h0m0.2 -20.4h0m0.2 28.5h0m0.1 -38.6h0m0 35h0m0 27.3h0m0.1 -66h0m0 28.3h0m0.1 34.7h0m0 3.7h0m0.3 -78.2h0m0 20.2h0m0 2.7h0m0 10.5h0m0 2.1h0m0.1 -5.6h0m0.1 21.9h0m0.1 -38.4h0m0 32.6h0m0.1 -27h0m0 52.4h0m0.1 -67.4h0m0 14.5h0m0 21.3h0m0 7.8h0m0 0.1h0m0 2.7h0m0.2 -23.1h0m0 6h0m0.1 11.5h0m0 7h0m0.1 -24.1h0m0 14.8h0m0 11.4h0m0.1 -16.3h0m0.1 -27.7h0m0 12.8h0m0 17h0m0.1 -25.4h0m0.3 -50.4h0m0.1 -15.4h0m0 39.4h0m0.3 -46h0m0 39.5h0m0.3 71.5h0m0.2 -10.4h0m0 3.5h0m0.1 -87h0m0 71.2h0m0.1 -56.5h0m0 65.6h0m0.2 -20.3h0m0 4.6h0m0 11.5h0m0 9.4h0m0 5.8h0m0.1 1.5h0m0 25.3h0m0.1 -141.8h0m0 135.1h0m0.1 -146.4h0m0 150.2h0m0.2 -5h0m0.4 5.4h0m0.1 -2.6h0m0.2 -22h0m0 2.8h0m0.2 -44.8h0m0.2 4.3h0m0 12.9h0m0.2 6.4h0m0 12.7h0m0.1 -7.1h0m0.2 17.1h0m0.1 -36.4h0m0 33.9h0m0 18.1h0m0 3.1h0m0.1 -32.1h0m0 4.7h0m0.3 -24.7h0m0 30.9h0m0.1 -15.1h0m0.2 13.3h0m0 27h0m0.2 -46.6h0m0.1 -20.7h0m0.1 30.1h0m0.2 -13.7h0m0.1 16h0m0 9.7h0m0.1 -34.9h0m0 30.9h0m0.1 -13h0m0.1 -19.6h0m0 5.4h0m0 5.4h0m0.1 -17.1h0m0 22.5h0m0 0.4h0m0 3.6h0m0 36.8h0m0.1 -46.3h0m0.1 -5.3h0m0.2 -5.8h0m0.1 25h0m0.3 13.7h0m0.1 -5.4h0m0.1 -3.1h0m0.2 6.1h0m0.4 -14.8h0m0.2 11.5h0m0.1 -12.1h0m0.1 -38.3h0m0 44.2h0m0.1 -30.8h0m0.1 5.2h0m0 35.8h0m0 18.9h0m0.1 -47.7h0m0 24h0m0.1 -45h0m0 6.1h0m0 21.7h0m0 10.2h0m0 1.9h0m0 9.9h0m0 1.8h0m0.6 -38.1h0m0 5.4h0m0 4.5h0m0 5.6h0m0 14.8h0m1.3 1.7h0m0.4 3.5h0m0.1 -7.5h0m0 11.1h0m0.1 16.6h0m0.7 -0.6h0m0.2 -14.8h0m0.3 -6.1h0m0 23.5h0m0 3.1h0m0.2 2.5h0m0.3 -25.8h0m0.8 18.8h0m0.3 8.3h0m0.1 -49.5h0m0 3.8h0m0 5h0m0.1 8.4h0m0.1 -2.6h0m0 7.1h0m0.3 18.4h0m0.5 -28.3h0m0.3 -16.6h0m0.3 25.2h0m0.1 -14.5h0m0 4.4h0m0.1 2.2h0m0 0.9h0m0.2 -11.6h0m0.2 -9.4h0m0.2 -2.2h0m0 8.4h0m0 18.6h0m0 7.7h0m0.1 -28.1h0m0 2.7h0m0.1 3.4h0m0 4.7h0m0.4 13.6h0m0.1 -4.1h0m0.1 22.9h0m1.2 -15.2h0m0.1 -9.1h0m0.3 6.6h0m0.2 -9.3h0m0.2 26.2h0m0 6.6h0m0.4 -4.1h0m0.3 -2.3h0m0.9 -14.5h0m0.2 -3.1h0m0.2 -3.5h0m0.3 -2.6h0m0.2 27.6h0m0.1 -4.1h0m0.1 -15.8h0m0.4 -3h0m1 4.8h0m0.1 -3.2h0m0.4 -5.8h0m0.1 -17.9h0m0 13.1h0m0 35.4h0m0.4 -39.9h0m0.2 -4.2h0m0 40.2h0m0.1 -23.7h0m0 19.4h0m0.6 8.1h0m0.1 -7.6h0m0 3.9h0m0.4 27.6h0m0.1 -58.7h0m0 6.8h0m0 2.7h0m0 3.8h0m0.1 -18.3h0m0 8h0m0.1 26.7h0m0.1 -2.7h0m0.2 19.1h0m0 8.1h0m0.1 -56h0m0 9.1h0m0.1 26.7h0m0.1 25.3h0m0.4 -20.9h0m0.4 -30.4h0m0.2 4.5h0m0.3 -5.2h0m0.1 -12.1h0m0 7.8h0m0 1.3h0m0.2 3h0m0.1 -7.3h0m0.1 -0.1h0m0.3 -4.9h0m0.1 32.1h0m0 3.4h0m0.2 -20.2h0m0.8 -0.1h0m0.6 21.7h0m0.1 -2.4h0m0.2 5.8h0m0.7 -38.9h0m0.3 -60.2h0m0 75.5h0m0.1 -89h0m0 59.8h0m0 24.8h0m0 25.7h0m0.1 -115.1h0m0 23.4h0m0 16.4h0m0 34.5h0m0 8.4h0m0 7.4h0m0.2 -78.2h0m0 1.5h0m0 14.9h0m0 32.1h0m0 52.1h0m0.1 -78.5h0m0 4.1h0m0 11.5h0m0 1.2h0m0 5.1h0m0.1 12.8h0m0.1 -24.1h0m0.1 -42.6h0m0.1 6.9h0m0 76.2h0m0.1 -64.8h0m0.1 40.4h0m0.1 -17.4h0m0 29.3h0m0 16.8h0m0.1 -35.4h0m0.1 -28.1h0m0 5.8h0m0 47.8h0m0.1 -12.2h0m0.6 49.1h0m0.4 -26.1h0m0 4.5h0m0 15.6h0m0.3 3.2h0m1.2 -26.4h0m0.1 3.3h0m0.4 2.7h0m0.1 15.7h0m0.3 2.5h0m0 1.7h0m0.1 2h0m0.1 -6.3h0m0.9 -21h0m0.1 4.5h0m0.3 -8.3h0m0.3 6.7h0m0.1 -102.3h0m0 89.8h0m0 30.6h0m0 3.3h0m0.1 -53.3h0m0.1 -7.4h0m0 38h0m0 29h0m0.1 -115.6h0m0 5.4h0m0 5.3h0m0 30.7h0m0.1 -39.1h0m0 8.9h0m0 8.8h0m0 42.6h0m0 7.5h0m0.1 -79.9h0m0 6.7h0m0 36.5h0m0 23.3h0m0 6.1h0m0 13.2h0m0 4.1h0m0.1 -64.4h0m0 8.2h0m0 49.8h0m0 8.1h0m0 4.8h0m0.1 -81h0m0 29.3h0m0 3.5h0m0 43.6h0m0 4.6h0m0.1 -59.9h0m0 4.9h0m0 16.7h0m0.1 -52.3h0m0 17.8h0m0 29.1h0m0 27.8h0m0.1 -42.1h0m0 27.8h0m0.1 -31.9h0m0 43.4h0m0.1 -4.8h0m0.1 -46.6h0m0 22.2h0m0 5.8h0m0 6.3h0m0.2 20.4h0m0.1 -68h0m0.1 76.2h0m0 7.2h0m0.1 -72.8h0m0.1 -20.6h0m0.1 15.7h0m0 30.2h0m0.1 12.4h0m0 37h0m0.1 -68.9h0m0 6.1h0m0.1 6.1h0m0.1 -33.1h0m0 66h0m0 42h0m0.1 -22.4h0m0 7.3h0m0.1 -33.3h0m0.1 -11.2h0m0 62.9h0m0.2 -166.4h0m1 138.1h0m0 26.5h0m0.2 -19.6h0m0 23.7h0m1.1 -29h0m0.5 35.8h0m0.2 -155.5h0m0 123.8h0m0 3.8h0m0.3 17.7h0m0.2 6.2h0m0.1 -9.4h0m0.4 1.8h0m0.6 -18.3h0m0.2 21.7h0m0.4 -24.3h0m0.6 28.9h0m0.2 -29.8h0m0.1 23.1h0m0.1 -26.8h0m0.4 8.2h0m1.4 15h0m0 10.1h0m0.1 -32.7h0m0.1 3.3h0m0.2 3.7h0m0.1 23.1h0m0.2 -3.4h0m0.5 -0.2h0m0.2 -19.3h0m0.6 -10.7h0m0 27.3h0m0.1 -46.4h0m0 2.6h0m0.1 -6.7h0m0 27.6h0m0 2.1h0m0.1 -58.5h0m0.1 26.2h0m0.1 -29.5h0m0 16h0m0 9.1h0m0 25.3h0m0.1 -53.8h0m0.1 49.5h0m0.1 -35.5h0m0.1 -4.9h0m0.1 1h0m0 16h0m0 4.7h0m0 4.7h0m0 11.8h0m0 21.3h0m0.1 -53.8h0m0 9.3h0m0 32.9h0m0 9.2h0m0.1 -47.6h0m0 27.8h0m0 4.8h0m0 15h0m0.1 -22.7h0m0.1 -37.2h0m0 15.3h0m0 0.9h0m0 17.3h0m0 4.6h0m0 7.6h0m0 2.2h0m0 35.8h0m0.1 -73h0m0.2 69.2h0m0.1 -44.9h0m0 20.2h0m0.1 -36.3h0m0 40.2h0m0 0.2h0m0.1 -3.7h0m0.1 -13.3h0m0 10.4h0m0 7.2h0m0.1 -29h0m0.2 -7h0m0 3.9h0m0 21.8h0m0.1 6.6h0m0 5.5h0m0.4 19.7h0m0.1 3h0m0.4 -5.6h0m0.7 -15.5h0m0.5 15.3h0m0.1 -19.6h0m0 24h0m0.7 -26.7h0m0 8.9h0m0.3 -2.6h0m1 19.8h0m0.4 -3.8h0m0 7.8h0m0.3 -47.3h0m0 14h0m0 7.9h0m0 28.3h0m0.1 -132.4h0m0 125.8h0m0.1 -62h0m0 3.7h0m0.1 -82.3h0m0.1 119h0m0.1 -150.9h0m0 37.7h0m0 86.2h0m0 8.5h0m0.1 -122.4h0m0 31.9h0m0 76.8h0m0 2.6h0m0 32.4h0m0.1 -125.8h0m0 23h0m0 60.5h0m0 11.4h0m0 17.6h0m0.1 -70h0m0 43.6h0m0 22.2h0m0 9.7h0m0 23.5h0m0.1 -95.7h0m0 37h0m0 6.3h0m0 3.2h0m0 16.6h0m0 0.8h0m0.1 -54h0m0 9.1h0m0 39.4h0m0 7.6h0m0 4.6h0m0 0.4h0m0 2.8h0m0.1 -150.9h0m0 132.4h0m0 24.7h0m0 1.4h0m0.1 -54.1h0m0 25.3h0m0 23.1h0m0.1 -62.6h0m0 38.9h0m0 4.4h0m0 2.6h0m0.1 -107.9h0m0 54.1h0m0 44.3h0m0.1 -68.8h0m0.1 87.3h0m0.2 -80.8h0m0 92.8h0m0.1 -149.3h0m0 60.3h0m0 56.8h0m0 8.4h0m0 16.1h0m0.1 -125.3h0m0 104.7h0m0 46.4h0m0.2 -156.9h0m0 89.6h0m0 6.6h0m0 39.1h0m0 24.7h0m0.1 -77.8h0m0 19.8h0m0 36.8h0m0.1 -19.1h0m0.5 -20.5h0m0.1 24.8h0m0 18.5h0m0.1 -15.5h0m0.4 14.4h0m0.5 16.2h0m0.1 -12.1h0m1.8 10.6h0m0.1 -11.4h0m0.5 -4.5h0m0.4 15.1h0m0.3 2.4h0m0.3 -12.1h0m0.1 15.6h0m0.5 -19.7h0m0.6 1.1h0m0.1 14.7h0m0.1 -10.3h0m0.4 13.2h0m0.9 -17.1h0m0.4 4h0m0 13.5h0m0.3 -21.8h0m0.2 18.7h0m0.7 -13.7h0m0.2 4h0m0.4 16h0m0.2 -119h0m0 22h0m0 18h0m0 21h0m0 20h0m0 13h0m0.2 17.6h0m0 3.1h0m2.1 -13.5h0m0.1 -3h0m0 12.3h0m0 3.9h0m0.6 0.4h0m0.1 -3.6h0m0.3 -12.5h0m0.1 3.2h0m0 15.8h0m0.7 -3.2h0m0.2 -2.7h0m0.1 -10.4h0m2.2 14.7h0m0.4 -4h0m0.1 -10.2h0m0.4 -2.7h0m0.5 1.6h0m1.3 10.4h0m0.3 -8.2h0m0.1 -3.4h0m0.3 12.9h0m0.5 4.5h0m1.5 -14.6h0m0.3 -2.6h0m0.2 11.6h0m0.5 -9.7h0m0.3 -3.2h0m0.5 20.1h0m0.1 -2.9h0m0.2 -4h0m0.6 -12.3h0m0.1 2.9h0m1 13.2h0m0.4 -3.8h0m0.2 -14.4h0m0 6.5h0m0.1 7.6h0m0.1 -10.1h0m0.7 13.5h0m0.9 -14h0m0.4 -2.8h0m0.4 13.9h0m0.6 3.4h0m0.3 -15.7h0m0.2 16.6h0m0.2 -3.9h0m0.1 -9.9h0m1.3 -5h0m0.2 3h0m0.4 11.7h0m0.2 2.8h0m1.4 -4.4h0m0.2 -8.3h0m0.5 11.9h0m0.8 -12.3h0m0.5 12.1h0m0.3 -24.3h0m0.2 22.9h0m0.1 -30.7h0m0 4.5h0m0.1 30.2h0m0.5 -7.2h0m0.9 -48.8h0m0.1 -7.2h0m0.4 17.2h0m0.1 -13h0m0 6.6h0m0.1 48.7h0m0.1 -45.7h0m0.5 42.3h0m0.7 21.7h0m0 18.2h0m0.1 -28h0m0.1 -56h0m0.2 3.5h0m0.1 45.9h0m0.1 -4.1h0m0.3 26.7h0m0.4 16.7h0m0.3 -101.4h0m0.3 5.6h0m0 9.9h0m0.3 75.8h0m0.1 -29.7h0m0.1 -55h0m0 6h0m0.3 -3.1h0m0 63.5h0m0.1 -15.4h0m0.3 -76.5h0m0.1 5.9h0m0 29.1h0m0.1 -20.2h0m0.2 -19.6h0m0 33.1h0m0.2 2.7h0m0.3 48.2h0m0.1 -3.6h0m0.9 1h0m0.3 -44.8h0m0.1 48h0m0.1 -51.6h0m0.1 -2.7h0m0.2 57.5h0m0.1 -59.9h0m0 13.2h0m0.4 -12.7h0m0 14.2h0m0 3h0m0.1 -5.7h0m0.2 10.3h0m0.1 -25.4h0m0.4 6.9h0m0.4 54.6h0m0.5 -3h0m0.3 -71.6h0m0.1 9.6h0m0.1 -7h0m0.2 4.2h0m0.1 73.6h0m0.3 -6.7h0m0.2 3h0m0 7h0m0.1 -12.7h0m0.9 -2.1h0m0.1 -80.3h0m0.1 3.3h0m0 4.5h0m0.1 -12.2h0m0 89.1h0m0.2 2.7h0m0.2 3.3h0m1.4 -84h0m0 73.3h0m0.3 -77.8h0m0.6 80.9h0m0 1.2h0m0.1 13.9h0m0.2 -6h0m0.2 -11.1h0m0.1 7.8h0m0.3 -89.6h0m0 10.4h0m0.1 -14.4h0m0.1 11.1h0m0.1 -25.7h0m0 17.7h0m0.5 -36.4h0m0.1 41.1h0m0.4 4.6h0m0.2 -57.6h0m0 134.8h0m0.1 -2.8h0m0.1 5.6h0m0.6 -97.8h0m0.1 -24.8h0m0 42.4h0m0.2 -34.4h0m0 15.9h0m0 10.6h0m0.1 -14.5h0m0.2 7.4h0m0.2 11.6h0m0.3 -50.2h0m0 127.6h0m0.1 3h0m0 4.2h0m0.9 -3.2h0m0.1 -82.4h0m0 6.1h0m0.1 -3h0m0.1 74.8h0m0.2 7.6h0m1.3 0.7h0m0.1 -80.6h0m0 83h0m0.1 -86.7h0m0 76.3h0m0.8 4.1h0m0.1 -5.2h0m0 11.8h0m0.4 -92.3h0m0 84.1h0m0.1 -92h0m0.1 14.7h0m0.2 -2.8h0m0.1 -8.6h0m0 93.2h0m0.9 -85.6h0m0.3 2.8h0m0.1 -10.5h0m0 102.6h0m0.2 -14.9h0m0 11.5h0m0.1 -85.7h0m0.1 -10.4h0m0 87.1h0m0.1 -5h0m0.2 10.7h0m0.9 -95.2h0m0 8.2h0m0.1 -3.9h0m0.3 8h0m0.6 82.3h0m0.1 -8.5h0m0.1 29.9h0m0.1 5.5h0m0.4 -31h0m0.1 16.5h0m0.2 5h0m0.2 -100.1h0m0.1 3.6h0m0.1 73.1h0m0.1 -69.5h0m0.1 76.1h0m0.2 -10.1h0m0.5 6.2h0m0.6 -76.9h0m0.2 -4.2h0m0 16h0m0.2 58.6h0m0.2 -61.2h0m0 65.7h0m0 8.3h0m0.1 3.6h0m0.1 -8.1h0m0.9 -65.1h0m0.2 -3.4h0m0.4 -2.9h0m0 64.4h0m0 6.4h0m0 2.6h0m0.3 -64.2h0m0 58.3h0m0.6 -60.1h0m0 4.4h0m0 2.8h0m0.2 -11.5h0m0 67.6h0m0.1 4.2h0m0.4 -8.4h0m1 1.2h0m0.2 11.9h0m0.1 -14.3h0m0.1 -62.8h0m0 72.7h0m0.1 -69.3h0m0.3 66h0m0.1 -59.5h0m0.2 3.3h0m0.5 57.4h0m0.1 3.5h0m0.4 -65.6h0m0.2 54.8h0m0 3.7h0m0.1 -66.6h0m0.3 12.2h0m0.1 -8.4h0m1.2 60.2h0m0.1 -52.1h0m0.4 54.9h0m0.1 -51.4h0m1.2 -0.2h0m0.1 2.6h0m0.1 -8h0m0 2.8h0m0 51.5h0m0.3 2.6h0m0.3 -3.5h0m0.1 3.8h0m0.4 -47.3h0m0.4 51.2h0m0.1 -55.5h0m0.7 1.6h0m0.5 7.3h0m0.4 -11.5h0m0 8.2h0m0.2 43.7h0m0 4.4h0m0.1 0.3h0m0.2 -2.7h0m0 6h0m0.8 -48.4h0m0.6 -6.3h0m0.4 5.3h0m0.1 -7h0m0.2 2.9h0m0.1 -5.3h0m0.2 14h0m0.4 47.9h0m0.1 -7.4h0m0.6 -3.7h0m0 14.8h0m0.1 -61.7h0m0 53.2h0m0 0.6h0m0.1 -3.6h0m0.2 -54h0m0 10.7h0m0 50.4h0m0.4 -54.7h0m0 7h0m1.3 48h0m0 3.8h0m0.2 -50.6h0m0 43.5h0m0.1 -46.4h0m0 44h0m0.4 -3.6h0m1.3 -40.3h0m0 2.7h0m0.2 50h0m0.4 -3.8h0m0.2 -3.8h0m0.1 -3.3h0m0 2.2h0m0.5 -4.1h0m0.7 -37.2h0m1 -6.6h0m0.1 9.1h0m0.2 -6.5h0m0.1 3.5h0m0.3 40.7h0m0.2 3.5h0m0 2.9h0m1.4 -44.6h0m0 43.9h0m0.3 -2.8h0m0.1 -3.9h0m0.2 -39.8h0m0.1 -7.2h0m0 4.3h0m0.8 -0.3h0m0.2 4.2h0m0.3 38.6h0m0 2.8h0m0.1 8.2h0m0.6 -56.3h0m0 4.4h0m0.2 -14.4h0m0.2 -2.9h0m0.2 9.6h0m0 51.3h0m0.4 6h0m0.3 -3.1h0m0.1 -3h0m0.1 -43h0m0.2 55h0m0.4 -58.5h0m0 55.4h0m1.6 -8.2h0m0.2 -51h0m0.2 -4h0m0 58.8h0m0 8.1h0m0.1 -4.3h0m0.1 -54.3h0m0.7 2h0m0.3 46.5h0m0.2 -50.6h0m0.2 -4.5h0m0.1 58.4h0m0.9 -60.6h0m0.1 11.8h0m0.2 43.8h0m0.1 6.7h0m0.3 -56.4h0m0.1 3.3h0m0 60.4h0m0.2 -3.7h0m0.1 -7.3h0m0.6 -48.1h0m0 50.1h0m0 4.5h0m0.1 3h0m0.1 -11.6h0m2.1 -55.6h0m0.2 -2.8h0m0 10.2h0m0.2 7.4h0m0 42.4h0m0 3.1h0m0.1 -67.2h0m0 10.2h0m0.1 8.2h0m0.4 53.2h0m0.1 12h0m0.2 -8.5h0m0.4 -59h0m0.1 48.6h0m0.2 -2.6h0m0 9.3h0m0 7.7h0m0.2 -68.5h0m0 2.7h0m0.1 8.5h0m0.2 -3.3h0m1 54.2h0m0.1 -52.5h0m0.1 41h0m0.4 -50h0m0 6.5h0m0.1 -3.8h0m0 51.8h0m0.5 -4h0m0.6 -43.6h0m0.2 -9.5h0m0 56.2h0m0.2 -60h0m0 6.5h0m0 4.2h0m0.1 5.6h0m0.6 -4.2h0m0.7 47.1h0m0.3 5.7h0m0.1 -9.1h0m0.1 11.9h0m0.2 -5.6h0m0.3 -5.6h0m0.1 8.3h0m0.4 -3.8h0m0.4 -52.6h0m0 2.7h0m0.2 -5.8h0m0 10.2h0m0.2 -13.4h0m0.1 63.1h0m0.1 2.9h0m0.2 -9.6h0m0.1 3.8h0m0.1 -57.8h0m0 51h0m0.1 -47.5h0m0.1 3.8h0m0.1 4.3h0m1.4 39.2h0m0 4.4h0m0.1 -61.1h0m0 6.6h0m0 3.8h0m0 2.8h0m0.2 3h0m0.2 47.9h0m0.2 -61.5h0m0.2 55.6h0m0.1 3.1h0m0.7 4.2h0m0.2 -49.4h0m0.1 -3.7h0m0.9 -1.6h0m0.1 7.7h0m0.3 -11.7h0m0.3 -3.7h0m0 52.5h0m0.2 -41.3h0m0 45.5h0m1 -45.1h0m0.8 3.5h0m0.1 44.1h0m0.2 -3.6h0m0.1 -3.6h0m0.4 2h0m0.7 -51.5h0m0 10.9h0m0.4 -14.3h0m0 7.1h0m0 2.6h0m0 7.5h0m0.4 -5.5h0m0.2 3.7h0m0.8 36.5h0m0.2 3h0m0.2 3.8h0m0.7 6.3h0m0.1 -13.9h0m0 11.2h0m0.1 -46.2h0m0.2 -3.6h0m0 41.3h0m0.2 4.4h0m1.3 -43.3h0m0.2 38.9h0m0.6 -42.7h0m0.3 46.9h0m0.2 -2.5h0m0.2 -3.5h0m0.5 -45.7h0m0 7.4h0m0 3.3h0m0.2 -6.1h0m1.1 -6.2h0m0.1 7.5h0m0 44.5h0m0.1 -47.6h0m0 6.7h0m0.1 38h0m0.1 -3.5h0m0.9 -35h0m0.7 -5.8h0m0 2.7h0m0.1 7.1h0m0.1 38.2h0m0.3 -4.4h0m0.3 0.8h0m0.1 -35.7h0m0.3 -12.7h0m0 51.1h0m0.2 -47.8h0m0.2 6.7h0m1 -5.6h0m0.4 48.8h0m0.1 -40.7h0m0 34.8h0m0 3h0m0 13.4h0m0.5 -6.9h0m0 3.7h0m0.6 -11.9h0m0 9.2h0m0.1 -2.9h0m0.8 -54.1h0m0 2.6h0m0.2 7.5h0m0.1 -4.1h0m0 6.8h0m0.7 -15.8h0m0.4 10.3h0m0.1 47.6h0m0.1 -10.2h0m0.1 4.2h0m0 3h0m0.5 -40.8h0m0.9 -3.9h0m0 2.6h0m0.2 36.6h0m0.4 -43.5h0m0.1 10.3h0m0 39.8h0m0.2 -52.8h0m0 50.1h0m0.1 6.5h0m0.4 -48.6h0m0.2 -3.1h0m0.4 -3.4h0m0 10.2h0m0.2 -14h0m0 53.2h0m0.1 -36.7h0m0.2 33.7h0m0.8 3.3h0m0.1 -43.3h0m0.2 -3.4h0m0 44h0m0.2 -3.5h0m0.1 -44.7h0m0.1 -2.9h0m0 14.1h0m0.3 2.6h0m1 29.5h0m0.6 4.3h0m0.1 -45.5h0m0 11.5h0m0.1 -5.8h0m0.2 -2.5h0m0.1 5.3h0m1 -5.6h0m0.1 48.7h0m0.2 -10.4h0m0.2 2.5h0m0.2 -36.4h0m0.1 40.7h0m0.1 -71.3h0m0.1 64.3h0m0.4 3.5h0m0 3.7h0m0.1 -46.3h0m0 49.2h0m0.3 -78.4h0m0.3 33.8h0m0 3.9h0m0.1 -12.5h0m0 10.4h0m0 38.8h0m0.1 -41.5h0m0.3 -4.1h0m0 43.1h0m0.2 -53.2h0m0 49.1h0m1.5 0.5h0m0 4.2h0m0.3 2.9h0m0.1 -46.2h0m0.1 -7.9h0m0 3.5h0m0.9 -16.1h0m0 8h0m0 50.7h0m0 7.9h0m0.1 -63.2h0m0 58.8h0m0 8.4h0m2 -99.3h0m0.2 3.7h0m0.4 84.5h0m0.4 4.2h0m0.2 -129.4h0m0.1 11.9h0m0.2 23.7h0m0.4 92.3h0m0.1 -120h0m0 11h0m0.5 13.6h0m0 91.2h0m0.2 -97.7h0m0.4 100.7h0m0.6 -88.4h0m0.1 -10.3h0m0.1 7.8h0m0 94.1h0m0.4 -98.5h0m0.3 13.4h0m0.5 -4.5h0m0.1 -3.4h0m0.8 98.2h0m0.3 -10.5h0m0 6.3h0m0.1 -3h0m0.1 -1.9h0m0.4 -83.9h0m0 11h0m0 69.7h0m0.1 -62.1h0m0.1 -10.3h0m0.3 -3.8h0m0 11.1h0m0.4 66.8h0m0.7 3.3h0m0.1 -76.1h0m0.1 10.8h0m0 59.4h0m0.3 -56.7h0m0.1 -6.6h0m0.1 -4h0m0.9 -4.9h0m0 14.9h0m0.1 3.7h0m0.1 -14.2h0m0 73.9h0m0 2.5h0m0.3 -9.5h0m0.1 12.2h0m0.4 -8.1h0m0.3 -55h0m0 3.1h0m0.1 58.3h0m0.3 -68.5h0m0.2 57.8h0m0 4.2h0m0.3 3.7h0m1.2 -0.1h0m0.2 10.6h0m0.1 -18.1h0m0.1 10.2h0m0.3 -52.1h0m0 45.7h0m0.1 9.8h0m0.2 -59h0m0.3 3.8h0m0.1 -7.1h0m0.1 10.4h0m0.1 -6.8h0m0.4 9.4h0m0.2 43.3h0m0.3 3.5h0m0.2 -6.9h0m1.1 -35h0m0.4 -6h0m0 39.3h0m0 6.8h0m0.1 -49.8h0m0.2 -7.5h0m0.1 14.3h0m0 40.1h0m0.1 -50.4h0m0.1 57.3h0m0.6 -46.9h0m0 38.8h0m0.2 -34.3h0m0.3 -7.9h0m0.3 49.9h0m1.6 -45.5h0m0 43.5h0m0 3.7h0m0.1 -44.8h0m0 4.3h0m0.1 -9.7h0m0 42.5h0m0.9 -36.1h0m0 4.5h0m0.1 -7.8h0m0.1 11.2h0m0.3 28.8h0m0.1 3.9h0m0.1 -47h0m0.2 11.6h0m0 36.2h0m0 2.8h0m0.4 -41.6h0m0 34.4h0m0.4 -43.1h0m1.4 12.9h0m0.1 32.2h0m0.4 -35.6h0m0 32.7h0m0.9 1.3h0m0.1 -38.3h0m0.2 -4h0m0 11h0m0 27.9h0m0.1 -32.5h0m1.5 33.6h0m0.1 6.6h0m0.1 -4h0m0.2 -39.5h0m0.4 8.1h0m0.1 -15h0m0.1 2.6h0m0.1 9.2h0m0.1 -2.5h0m1.1 6h0m0.1 -3.2h0m0.1 -4.4h0m0.5 5.2h0m0.1 31.7h0m0.1 3.2h0m0.1 7h0m0.1 -52.2h0m0 45.7h0m0.2 -3.8h0m0.1 -38.7h0m0 46.5h0m0.1 -42.1h0m0 5.7h0m0 42h0m1 -54.9h0m0.1 -3.4h0m0 18.3h0m0.3 -4.2h0m0.3 32.3h0m0.1 -35.1h0m0.1 -4h0m0.4 41.7h0m0.9 -30.1h0m0.1 -3.2h0m0.1 33.7h0m0.2 -3.2h0m0 10.6h0m0.1 -4.3h0m0 7.9h0m1.6 -12.5h0m0.4 -38.5h0m0 3.1h0m0 31.6h0m0.1 -27.5h0m0.1 35.4h0m0.8 -8.3h0m0.2 6h0m0 6.9h0m0.1 -40.9h0m0.4 30.9h0m0 6.9h0m0.3 -48.7h0m0.6 38.7h0m0 3.9h0m0 3.4h0m0.1 -32.6h0m0.1 -7.4h0m0.1 -2.7h0m0 7h0m0.9 31.4h0m0.3 -3.3h0m0.1 -30.4h0m0.5 6.8h0m0.4 -2.8h0m0.1 41.8h0m0.4 -44.9h0m0 30.8h0m0.3 3.4h0m0 7.7h0m0.1 -4.5h0m0.2 -34.2h0m1.6 1.6h0m0.2 -3.2h0m0.2 29.3h0m0.2 -23.6h0m0.1 27.5h0m0.8 -32h0m0.2 28.8h0m0.2 -25.1h0m0.5 31.9h0m0.1 -4.3h0m0.5 -1.6h0m0.3 -2.7h0m0.2 -19.3h0m0.1 -2.8h0m0.2 -8.5h0m0.1 4.4h0m0.3 0.8h0m0 76.1h0m0.2 -84.1h0m0.2 80.8h0m0.1 -78.1h0m0 2.8h0m0 6.8h0m0.4 60.9h0m0.4 -37.5h0m0 51.6h0m1 -38.7h0m0.6 -14.8h0m0.1 43.7h0m0.1 -66.6h0m0 35.2h0m0.4 -39.2h0m0.6 5.3h0m0.1 -7.1h0m0 3.7h0m0.5 28.1h0m0.1 -3.6h0m0.5 -0.6h0m0 7.5h0m0.7 -3.3h0m0.1 -27.9h0m0.2 -3h0m0.4 -10.3h0m0 2.4h0m1.2 1.9h0m0 3h0m0 34.2h0m0.4 -4.6h0m0.2 -26.6h0m0 2.6h0m0.5 -7.4h0m0.4 -2.5h0m0.2 -9.4h0m0 6.5h0m0.2 8.3h0m0.2 -40.4h0m0 68.9h0m0 3.6h0m0.3 4.6h0m0.3 -73.8h0m0.5 21.9h0m0.3 46.2h0m0.2 -36.5h0m0.1 -28h0m0.2 61.3h0m0.1 -40.5h0m0 3.6h0m0.9 39h0m0.3 -39.8h0m0.1 2.5h0m0.2 4.4h0m0.1 45.4h0m0.6 -6.6h0m0.2 -5.2h0m0 2.4h0m0.2 10.7h0m0.1 3h0m0.1 -6.8h0m0.3 -39.2h0m0.5 -3.5h0m0.1 -21.2h0m0 55.9h0m0.1 10.4h0m0.4 -4.4h0m0.2 -38.6h0m0.1 -6.6h0m0.6 10.6h0m0.1 -8.2h0m0.7 41.6h0m0.1 -33.4h0m0 44.8h0m0.1 -48.6h0m0.2 -6.1h0m0.1 3.2h0m0.1 36.3h0m0.1 11.9h0m0.8 -9.3h0m0.1 -31.5h0m0.1 27.9h0m0.1 -36.9h0m0.3 4.4h0m0 38.5h0m0.1 4h0m1 -41.7h0m0 36.2h0m0.1 -2.8h0m0.2 -60.6h0m0.2 14.6h0m0 9.6h0m0.1 -6.6h0m0 12.8h0m0.1 36.3h0m0.8 -71.7h0m0.2 84.5h0m0.6 -15.8h0m0 3h0m0 6.8h0m0.7 -44.7h0m0 31.4h0m0.1 -32.8h0m0.3 2.9h0m0.3 39.9h0m0.9 -8.1h0m0.7 19.5h0m0.1 -14.1h0m0.1 -3.6h0m0.2 -33.2h0m0.1 29.2h0m0.1 -33.1h0m0.6 -3.3h0m0.1 -3.7h0m0.1 8.6h0m0 2.9h0m0.1 -5.3h0m0.1 33.7h0m0.5 3.3h0m0.2 14.1h0m0.5 -54h0m0 44.3h0m0.1 -37.2h0m0.1 30.8h0m0.3 -34.2h0m0 48.7h0m0.1 -10.8h0m0 7.3h0m1.1 -39.3h0m0.2 -18.9h0m0 46.7h0m0.2 -42.2h0m0 10h0m0 40.9h0m0.3 -4.5h0m1 -36.2h0m0.1 2.8h0m0.1 -7h0m1.1 47.5h0m0.2 -5.9h0m0.2 -39.3h0m0 33h0m0.1 2.9h0m0 6.6h0m0.2 -39.1h0m0.3 2.9h0m0.2 33.9h0m0.1 -3.7h0m0.1 -4h0m0.8 -33.1h0m0.3 2.9h0m0.2 4h0m0.1 -10.1h0m0.5 37.3h0m0.2 3.9h0m0.2 -6.7h0m0.3 -28.2h0m0.1 2.6h0m0.1 29.1h0m0.2 -3.2h0m0 13h0m0.1 -4.3h0m1.4 -34.7h0m0.1 -10.3h0m0.4 7.7h0m0.1 28.6h0m0.1 -32.9h0m0 9.8h0m0.1 25.6h0m0 6.2h0m0.2 -3h0m0 2.5h0m0.2 -2.6h0m0.3 -2.3h0m0.3 -4h0m0.5 -25.1h0m0.9 25.9h0m0.5 6.1h0m0.1 -35.6h0m0 32.3h0m0.4 -25.5h0m0.3 -4.2h0m1.1 -1.9h0m0.2 35.6h0m0.1 -41.2h0m0.1 3h0m0.2 6h0m0 4.6h0m0 20.8h0m0 2.8h0m0 9.4h0m0.1 -13.3h0m0.1 -40.4h0m0 3.1h0m0 41h0m0.3 -27.1h0m0 3.1h0m0.2 35.7h0m0.1 -4.3h0m0.9 -33.4h0m0.4 -2.8h0m0 25.3h0m0.3 2.8h0m0.2 3.3h0m1.2 -33.2h0m0.1 3.9h0m0 3.6h0m0.4 -10.3h0m0 28.6h0m0.2 4.3h0m1.3 3.1h0m0.1 -3.2h0m0.1 -3.8h0m0.5 -22.7h0m0.4 3.9h0m0.1 -2.7h0m0.1 -5.6h0m0.5 27h0m0.1 -17h0m0 19.9h0m0.1 -28.1h0m0.4 32.3h0m0.8 0.9h0m0.2 -6.3h0m0.1 -22.4h0m0 26h0m0.2 -28.6h0m0.5 5.9h0m0.2 16.8h0m0.8 4.5h0m0.3 -20.4h0m0.6 -8.8h0m0 4.2h0m0.1 1.2h0m0 25.2h0m0.4 -4.4h0m0.1 -16.7h0m0.2 -37h0m1.3 35.5h0m0.2 23.4h0m0.6 2.7h0m0.1 -30.6h0m0.2 24.4h0m1 -22.1h0m0.3 23.3h0m0 2.4h0m0.2 -32.2h0m0.1 3.7h0m0.2 6.9h0m0.2 -1.4h0m0 17.1h0m0.1 -20.6h0m0.4 23.5h0m0 3.7h0m0.2 3.1h0m1.8 -25.7h0m0.4 -3.7h0m0.6 0h0m0 19.1h0m0.1 3.5h0m0.3 -30.1h0m0 11.6h0m0 20.8h0m0 3.1h0m0.1 -5.9h0m0.2 8.7h0m0 3.7h0m1.5 -13.8h0m0.5 3.6h0m0 8.1h0m0.3 -37.9h0m0.1 3.8h0m0 3.4h0m0.9 26h0m0.3 -3h0m0.2 -31.8h0m0 3.4h0m0.3 3.9h0m0 21.5h0m0.6 0.6h0m0.7 2.7h0m0.1 -27.9h0m0 6.3h0m0.7 -3.3h0m0.9 25.1h0m0.1 -25.4h0m0.2 29.6h0m0.3 -30.4h0m0 22.3h0m0.3 -25.4h0m0.1 6.6h0m0.8 16.8h0m0.1 3.1h0m0 4.3h0m0.3 -38.5h0m0.1 14.6h0m0.1 -2.5h0m0.3 -7.8h0m0.3 -23.9h0m0.1 27.7h0m0.4 27.2h0m0.1 -64.9h0m0.1 3.2h0m0.4 67.4h0m0.2 -4.2h0m0.1 -32.9h0m0.2 7.1h0m0.1 -3.5h0m0 6.1h0m0.3 20.6h0m1.4 -0.6h0m0.1 -24.3h0m0.2 4h0m0.1 23.9h0m0.8 -30.8h0m0 2.7h0m0.3 3.9h0m0.5 19.8h0m0.1 2.9h0m0.3 2.6h0m1.1 -6.1h0m0.1 -19.9h0m0 2.9h0m0.1 20.8h0m0.2 -26.8h0m0.2 -4h0m0.1 32.1h0m0.4 -4h0m0.3 -20.6h0m0.1 27.9h0m0.3 -32.2h0m1.7 0.9h0m0 28.3h0m0.1 -3.8h0m0.1 6.2h0m0.2 -26.7h0m0.2 -6.8h0m0.1 -0.1h0m0.2 7h0m0.2 22.6h0m0.2 5.7h0m0.4 -2.5h0m0.9 -1.7h0m0.3 -27.4h0m0 23.1h0m0 8.6h0m0.2 -28.7h0m2.1 19.8h0m0.4 -21.2h0m0 32.4h0m0.1 -3.9h0m0.3 -3.9h0m0.6 -35.9h0m0.1 3.7h0m0.2 2.6h0m0.1 3.2h0m0.1 3.1h0m0.2 23.2h0m1.1 -27h0m0 25h0m0.2 -34.3h0m0 2.6h0m0.4 -9.7h0m0.1 3.2h0m0.1 9.4h0m0.4 29.1h0m0.3 -31.1h0m0.2 35.6h0m0.1 3.1h0m0 20.7h0m0.3 -56h0m1.3 1h0m0.4 2.8h0m0.1 25.6h0m0.2 5.9h0m1 6.6h0m0.1 -9.5h0m0.1 -29.9h0m0.2 3.7h0m0.1 44.4h0m0.1 -52.5h0m0.3 36.8h0m0.1 -6.7h0m0 10.8h0m0.2 6.2h0m0.6 -42.4h0m0.4 33.6h0m0.1 -5.7h0m0.1 -23.8h0m0 2.7h0m0.1 29.7h0m0.4 -32h0m0 26h0m0 0.3h0m0 2.4h0m0.1 -35.8h0m0.3 9.9h0m0.2 19.7h0m0.3 -26.7h0m1.6 -4.5h0m0 41.1h0m0.1 -43.5h0m0 10.8h0m0 25.8h0m0.3 -41.1h0m0.2 11.3h0m0 7.5h0m0.1 31.9h0m0.1 -41.2h0m0.1 6h0m0.1 -3.2h0m0.1 38.1h0m0.1 -45.4h0m0 37.4h0m0.1 -40h0m0 51h0m0.1 -7.2h0m0.2 -6.6h0m0.9 -23.6h0m0.3 26.7h0m0.3 -22.9h0m0.2 26.1h0m1.3 -25.9h0m0.1 -10.2h0m0 2.7h0m0.2 3.1h0m0.2 -13.3h0m0 48.1h0m0 6.8h0m0.2 -14.2h0m0 3.3h0m0.1 -40.4h0m0.1 48.1h0m0.6 -42.6h0m0.1 7.8h0m0.3 -3.9h0m0 26.8h0m0 7.5h0m0.2 -4.5h0m0.9 11.3h0m0.1 -45.3h0m0 4.3h0m0 3.8h0m0 32.2h0m0.2 -8.1h0m0 10.5h0m0.1 -46.1h0m0.1 39.7h0m1.3 7.6h0m0.3 -4.5h0m0.3 -7.3h0m0 2.9h0m0.7 -35.2h0m0 9.2h0m0.1 -3h0m0.1 -5.8h0m0.4 33.3h0m0.2 -26h0m0.1 -2.8h0m0.3 32.9h0m0 3h0m0.2 2.6h0m0.1 -44h0m0.5 10.2h0m0.1 -4.2h0m0.1 -9.5h0m0.2 6.3h0m0 31.7h0m0.1 4.3h0m1.6 -39.8h0m0.1 34.4h0m0.2 -26.8h0m0 2.4h0m0 27.3h0m0.9 -26.7h0m0.1 -10.5h0m0.1 35.7h0m0.3 -38.6h0m0.2 6.7h0m0 3h0m0.4 31.4h0m0 3.7h0m1.6 -38.7h0m0 40.2h0m0.5 -33.3h0m0 27.8h0m0 3.1h0m0.1 -6.9h0m0.2 -26.6h0m0 2.8h0m0.3 35.2h0m0.1 -7.3h0m0.1 -34.8h0m0.1 31.7h0m0.1 -28.9h0m0.7 0.2h0m0.1 4.4h0m0.4 26.9h0m0 8.8h0m0.1 -13.4h0m0.2 7.3h0m0.1 -36.9h0m1.4 -9.2h0m0.1 53.4h0m0.3 -36.5h0m0 33.1h0m0.1 -4.1h0m0.1 -42.9h0m0.1 10.9h0m0.1 27.6h0m1.4 -27.1h0m0 26.1h0m0 2.7h0m0.1 3.6h0m0.2 -37.8h0m0.4 -3.2h0m0.6 9.2h0m0.5 -10.3h0m0 7.7h0m0.1 -3.7h0m0.3 33h0m0 4h0m0.5 -4.5h0m0.8 -26.8h0m0.3 -2.6h0m0.5 0.1h0m0.3 -3.8h0m0.5 35.7h0m0.4 -3.5h0m0.3 6.9h0m0.2 -34.7h0m0.2 -6.5h0m0.1 2.4h0m0.1 39.1h0m0.3 -4.1h0m0.6 -2.9h0m0.2 -25.7h0m0.2 -7.3h0m0 2.7h0m0.1 29.5h0m0 4.1h0m1.3 -39.4h0m0.4 6.3h0m0.8 32h0m0 2.8h0m0 7h0m0.1 -13.4h0m0.1 10.3h0m0 6.7h0m0.6 -61h0m0.2 4.3h0m0 7.3h0m0.4 -3.7h0m0 40.7h0m0.2 -5.4h0m0.2 2.7h0m1.2 -40.3h0m0.1 -9.4h0m0 13.9h0m0.1 -10.8h0m0.5 52.9h0m0.3 5.8h0m0.1 -10.2h0m0.1 -2.4h0m0.2 -1.6h0m0 11.1h0m0.3 -40.7h0m0.4 -4.2h0m0.9 35.4h0m0.2 7.7h0m0 4.1h0m0.4 -7.2h0m0.1 -38.5h0m0.1 -10.1h0m0 6.5h0m0.3 9.9h0m0.1 -12.4h0m0 9.2h0m0.3 41.8h0m0.3 -3h0m0.1 -4h0m0.3 -29.5h0m0.1 -2.8h0m0.3 -2.9h0m0.6 48h0m0.3 -13.8h0m0.1 7.9h0m0 3h0m0.4 -7.3h0m0.2 -32.1h0m0.1 -5.4h0m0.5 51h0m0.2 3.8h0m0.5 -16h0m0.1 -33.2h0m0.2 -3.8h0m0.2 6.4h0m0.1 27.3h0m0.4 -28.5h0m0.7 -7.5h0m0.1 58.5h0m0.1 -54.9h0m0.1 33.6h0m0 24.6h0m0.7 -27.2h0m0.5 -34.7h0m0.1 3h0m0.2 3.1h0m0 39.2h0m0.1 -5.4h0m0.2 -5.3h0m0.1 2.8h0m0.1 5.2h0m0.5 -8.7h0m0 3.1h0m0.8 -33h0m0.2 -3.9h0m0.1 -3.8h0m0 10.2h0m0.4 -14.2h0m0.4 1.6h0m0.2 8h0m0.4 -4.1h0m0 42.2h0m0.1 -6.7h0m0.2 4.1h0m0.4 6.2h0m0.7 -5.7h0m0.4 -4.5h0m0.5 -30h0m0.2 29.8h0m0.1 3.9h0m0.1 -38.1h0m0.3 41.8h0m0.2 4.1h0m0.3 -45.6h0m0.4 -3h0m0.2 6.1h0m0.2 -16.8h0m0 4.2h0m0.3 41.3h0m0.1 4.6h0m0.1 -38.1h0m0.8 3.3h0m1 -7.6h0m0.2 4.5h0m0.2 35.8h0m0.2 -31.7h0m1.3 -6.7h0m0.1 41.3h0m0.2 4.5h0m0.1 -37.1h0m0.1 -2.5h0m0 42.6h0m0.1 -10.5h0m0.2 -35.1h0m0.6 41.9h0m0.1 -43.7h0m0 3.5h0m0.3 4.3h0m0 32.1h0m0.1 -2.4h0m0 10.5h0m1.6 -55.2h0m0.4 6.8h0m0.2 2.5h0m0.1 -5.4h0m0 40.8h0m0 3h0m0.1 -34.5h0m0.1 -15.6h0m0.4 9h0m0.1 -6.5h0m0.2 46.6h0m0.2 -32.5h0m0.1 -10.6h0m0.3 6.1h0m0 41.3h0m0.1 4.1h0m0.4 -39.9h0m0.1 -3.8h0m0.2 38.4h0m0.2 -3.4h0m0.2 7.2h0m1.7 -47.6h0m0.1 42.8h0m0.2 -35.9h0m0.1 33.1h0m0.5 -36.1h0m0 41.1h0m0 0.9h0m0.2 -51.6h0m0.1 3.9h0m0.2 -7.6h0m0 14.7h0m0.2 2.5h0m0 33.4h0m0.2 6.3h0m0 2.7h0m1 -42.1h0m0.1 -3h0m0.2 34.4h0m0.2 -40.2h0m0.1 43.7h0m0.1 -41.2h0m0.8 1.1h0m0.1 -4.1h0m0.2 7.2h0m0.3 -11.5h0m0.2 14h0m0.5 39.8h0m0.2 -10.6h0m0 4.2h0m0 2.5h0m0.4 -5.7h0m0.3 -39.5h0m0.1 9.5h0m0.1 33.7h0m0.7 -36.1h0m1.1 33.4h0m0.2 -44.1h0m0 10.4h0m0.3 30.9h0m0.1 -33.7h0m0.2 5.9h0m0.3 39.4h0m0.4 -44.3h0m0 34.7h0m0.1 6.8h0m0.3 -2.6h0m0.2 -36h0m0.7 0.3h0m0.1 2.8h0m0.5 33.5h0m0.4 -2.7h0m0.1 -3h0m0.5 11.2h0m0.2 -43.2h0m0.1 4.4h0m0.2 -7.3h0m0.1 34.3h0m0 3.2h0m0.2 4.2h0m1 -39.8h0m0 3h0m0.4 45.6h0m0.1 -16.8h0m0.4 13.1h0m0.3 -9.6h0m0 3.7h0m0.1 3.2h0m0.1 0.5h0m0.1 6.6h0m0.2 -16.8h0m0 5.9h0m0.3 -33.6h0m0 31.1h0m0.5 -37.1h0m0 2.6h0m0.3 0.8h0m0.4 -3.5h0m0.2 38.2h0m0.2 -46.7h0m0.5 42.3h0m0.9 7.3h0m0.1 3.4h0m0.3 2.5h0m0.1 -12.5h0m0.3 -39.8h0m0 3.3h0m0 40.5h0m0.1 -33h0m0.3 -4.6h0m0.1 -9.2h0m0.5 54.4h0m0.5 -7.6h0m0.2 -44.4h0m0 40.5h0m0 7.8h0m0.1 7h0m0.3 -49h0m0.1 -2.5h0m0.1 5.1h0m0 2.8h0m0.2 -9.4h0m0.4 6.9h0m0.1 -2.6h0m0.8 40.4h0m0.1 3.5h0m0 3.6h0m0.1 -11.4h0m0.2 3.2h0m0.3 7.2h0m0.1 -10.5h0m0.2 6.4h0m0.3 -51.4h0m0.5 11.8h0m0.2 -7.8h0m0.4 43.9h0m0.3 -4.4h0m0.2 -31h0m0.2 -2.8h0m0.6 -3.2h0m0.9 45.3h0m0.3 -2.6h0m0.1 -5.9h0m0.3 3.1h0m0.2 -38.3h0m0 4h0m0 36.1h0m0.2 -4.6h0m0.5 -29.7h0m0.2 -11.7h0m0 7.2h0m0.3 -3.4h0m1.3 -7.7h0m0.3 46.5h0m0.2 -34.9h0m0 2.7h0m0 36.7h0m0.1 -47.1h0m0 4.5h0m0.3 45.3h0m0.1 -2.6h0m0.4 -3.5h0m0.8 -39h0m0.1 2.7h0m0.1 2.6h0m0.5 -10.9h0m0.1 -3.6h0m0 6.3h0m0.1 42.1h0m0.2 -35.2h0m0.2 38.3h0m0.5 -6.3h0m0.4 -30.1h0m0.6 -6.5h0m0 3.1h0m0.1 38.1h0m0.6 6.7h0m0.3 -45h0m0 34.9h0m0.3 -31.2h0m0.2 31h0m0 4.3h0m0.3 -41.5h0m1.4 -9.1h0m0 2.4h0m0 3.4h0m0 7.4h0m0.2 3.4h0m0.2 -6.6h0m0.5 39.5h0m0.2 -34h0m0.1 29.5h0m0 7.3h0m0.2 -1.3h0m0.1 -44.8h0m0 6.2h0m0.2 -3.7h0m0 38.7h0m1.4 -33h0m0.7 3.7h0m0.1 29.1h0m0.3 -3.1h0m1 -29.7h0m0.4 3.7h0m0.5 29.4h0m0.1 -3.1h0m0.7 -30.3h0m0.1 6.1h0m0.2 26.2h0m0.2 -28.9h0m0.4 -0.9h0m0 29.1h0m0.1 8h0m0.2 -33.3h0m0.2 29.1h0m2.1 -41.1h0m0.3 12.7h0m0.1 -8.5h0m0 36.1h0m0.1 -32.2h0m0 28.4h0m0.1 -39.2h0m0.5 4.5h0m0.1 8.8h0m0 3h0m0.4 -5.5h0m0.3 36.6h0m0.1 -7.1h0m0.4 3.2h0m0.7 8.2h0m0.1 -37.2h0m0 28.8h0m0.2 -3h0m0.5 -34.2h0m0.1 4.2h0m0.3 1.8h0m0.5 -4.4h0m0.3 8.8h0m0.1 21.9h0m0.3 8.7h0m0.1 -4.1h0m1.3 -27h0m0.2 23.3h0m0.2 -25.9h0m0.1 -2.6h0m0.2 34.7h0m0.2 -3.8h0m0.4 0.8h0m0.4 -27.7h0m0 21.4h0m0 2.5h0m0.7 0.7h0m0.8 -29.7h0m0 3h0m0.1 4.4h0m0 19h0m1.2 9.6h0m0.1 -8.3h0m0.1 -19.7h0m0.1 -4.2h0m0.2 28.1h0m1.3 -26.3h0m0.5 24.8h0m0.2 -3.1h0m0.5 10h0m0.6 -34.3h0m0 25.3h0m0.2 -22h0m0 26.5h0m0.6 -34.2h0m0.5 1.5h0m0.1 6.9h0m0.2 22.2h0m0.2 2.8h0m0.3 -28.8h0m0.2 23h0m0.4 -0.2h0m0.4 9.4h0m0.1 -6.8h0m0 2.9h0m0.7 -30.1h0m0.4 -2.4h0m0.1 5.8h0m0.1 25.1h0m0.2 -4.1h0m0 6.6h0m1 -28.5h0m0.1 2.7h0m0.3 -6.2h0m0.6 3.2h0m0.1 -2.6h0m0.2 24.1h0m0 10.7h0m0.1 -29.2h0m0.1 21.4h0m0.1 -30.8h0m0.1 34.9h0m0.9 0.4h0m0.1 -3.8h0m0.2 6.3h0m0.2 -9h0m0.4 -28.1h0m0.5 3.8h0m0 2.7h0m0.1 2.6h0m0.1 19.6h0m0.4 -25.3h0m0.2 29.3h0m0.2 4.2h0m0.1 -29.7h0m0.4 -7.3h0m0.1 2.7h0m0 3.3h0m0.3 2.5h0m0.1 24.5h0m0.1 3.6h0m0.1 -7.8h0m1.1 -33.5h0m0.4 4.4h0m0.2 27.8h0m0.1 -20.3h0m0.2 -3h0m0 25.9h0m1.6 -29h0m0 34.5h0m0.1 -30.6h0m0.1 -7.4h0m0.1 43.7h0m0.3 -2.9h0m0.1 -11h0m0 3.9h0m1 -33h0m0.2 32.2h0m0.1 -23.9h0m0.1 -4.2h0m0 24.7h0m0.8 -21.1h0m0.2 -6.4h0m0 3.4h0m0.8 37.8h0m0.7 -10.8h0m0 7.6h0m0.5 -35h0m0.3 -2.4h0m0.4 -7h0m0.1 4h0m0.2 30.6h0m0.1 0.8h0m0.6 7.4h0m0.7 -37.7h0m0.1 3.3h0m0.6 36.2h0m0.1 -4.1h0m0.4 -28.7h0m0 24.6h0m0.1 -2.6h0m0.4 -25.6h0m0.2 -6.6h0m0 3h0m0.8 6.6h0m0 23.3h0m0.2 -27.5h0m0.6 31.8h0m0.8 -29.8h0m0.2 -4.2h0m0.3 27.7h0m0.4 4.1h0m0.3 -3.7h0m0 2.4h0m0.4 -32.7h0m0.4 7.4h0m0.3 -10.6h0m1.1 7h0m0 7.5h0m0.6 -4.2h0m0 25.1h0m0.1 -3.2h0m0.5 6.1h0m0 4.1h0m0.4 -3.7h0m0.2 -6.5h0m0.1 -23.9h0m0.1 26.8h0m0.2 -29.6h0m0.3 7.4h0m1 -3.3h0m0 4.3h0m0.8 17.7h0m0.2 -24.8h0m0.5 5.2h0m0.3 -2.8h0m0.1 5.9h0m0.1 18.2h0m0.5 -3.8h0m0.4 0.7h0m0.4 4.4h0m0.2 -19.2h0m0.2 -4.3h0m0.4 26.3h0m0.1 -5.3h0m0.2 -29h0m0.2 7.1h0m0 31.3h0m0.1 -35.7h0m0.1 29.1h0m0.5 -21.9h0m1.7 25.9h0m0.1 -25.8h0m0.3 19.6h0m0.1 3.8h0m0.2 -23.1h0m0.4 -7h0m0.2 4.2h0m0.8 23.1h0m0.4 7.7h0m0.1 3.6h0m0.1 -7.1h0m0.1 -0.6h0m0.2 4.1h0m0.2 -27.3h0m0.3 -11.6h0m0 8.1h0m0.3 -5.3h0m0 2.7h0m1 31.5h0m0 7.2h0m0.4 -10h0m0.2 6.4h0m0.1 -41.7h0m0.3 6h0m0.3 -2.9h0m0 6.9h0m0.4 26.7h0m0.2 6.4h0m0.1 -2.7h0m0 10h0m0.2 -47.3h0m0.1 -7.4h0m0.2 2.8h0m0.1 8.5h0m0.5 -5.3h0m0.1 4.2h0m0.6 33.3h0m0 5.5h0m0.5 -2.6h0m1.1 -40.4h0m0 43.9h0m0.1 -47.3h0m0.4 42h0m0.1 -34.5h0m0.2 -11.7h0m0 48.7h0m0.2 -44.7h0m0 45h0m0.2 -34.3h0m0.2 30h0m0.2 -32.9h0m0.4 -4.3h0m1.2 6.8h0m0.1 -3.2h0m0.2 38.5h0m0 3.4h0m0.1 3.2h0m0.2 3.7h0m0.2 -14.1h0m0 3.7h0m0.1 -35.1h0m0.3 2.7h0m0.4 29.3h0m0.9 -34.3h0m0.3 -7h0m0.4 3.9h0m0.1 7.3h0m0.1 28.9h0m0.6 3.6h0m0.2 -31.3h0m0 27h0m0.2 6.3h0m0.4 6.2h0m0.1 -43.8h0m2 36.3h0m0.5 -3.1h0m0.2 -28.8h0m0 26h0m0.1 6.5h0m0.1 -3.1h0m0.3 -2.6h0m0.1 13.2h0m0.4 -3h0m0.6 -38.8h0m0.1 3.9h0m0.7 -4.2h0m0.4 -6.5h0m0 9.4h0m0.1 35.5h0m0.2 -3.3h0m0.6 -4.6h0m0.1 -3h0m0.5 -1.2h0m0.3 -28.6h0m0.3 25.6h0m0.2 -22.1h0m0.2 2.6h0m0.2 27.5h0m0.3 -4.1h0m0.4 -22.9h0m0.5 -2.8h0m0.2 24h0m0.6 -2.5h0m0.1 -2.5h0m0.3 -18.2h0m0.3 -35.2h0m0.3 3.7h0m0.1 34.7h0m0.3 15h0m0.1 -56.8h0m0.1 62.5h0m0.3 -2.8h0m0.3 -28h0m0.2 9h0m0.2 -3.2h0m1 4h0m0.2 -4h0m0.1 17.6h0m0.2 3.1h0m1.4 2.2h0m0.2 -17.2h0m0.2 13h0m0.2 -17h0m0 13.8h0m0.2 -17.9h0m0.2 2.5h0m0.1 19.3h0m0.3 -16h0m0.1 -7.6h0m0.1 19.1h0m1.9 -13h0m0.3 2.9h0m0.1 10.8h0m0.1 -16.9h0m0.6 19.1h0m0.1 -4.5h0m1.1 -12.6h0m0 3.6h0m0.2 -0.1h0m0.1 -6h0m0.2 15.6h0m0.2 3.9h0m0.1 -16.4h0m0.1 -3.4h0m1.8 2.6h0m0 12.2h0m0.3 -9.5h0m0.4 -1.5h0m0.3 -4.4h0m0.6 16.2h0m0.3 -2.6h0m0.5 -1.4h0m0.2 2.7h0m0.3 -9.7h0m1.2 2.2h0m0.6 -4.6h0m0.3 10.8h0m1.1 0.1h0m0.9 -13.3h0m0.2 3.4h0m0.2 2.6h0m0.8 9.7h0m0.8 -12.8h0m0.1 3.4h0m0.2 -3.5h0m0.6 3.6h0m0.6 9.6h0m0.1 -2.6h0m1.2 -10.3h0m0.1 14.9h0m0.2 -4.3h0m0.4 -6.6h0m0.7 -1.7h0m0.5 9.9h0m0.6 -9.3h0m0.2 -3.6h0m1.1 15.4h0m0.9 11.8h0m0.2 -13.6h0m0.3 -24.3h0m0.2 7.2h0m0.1 -4.4h0m0 31.8h0m0.1 1.2h0m0.2 -39.3h0m0.1 36.6h0m0 5.7h0m0.7 -8.5h0m0.6 -39.2h0m0.1 3.6h0m0.1 -6.2h0m1.3 46.5h0m0.1 -42.9h0m0.4 44.6h0m0 8h0m0.1 -49h0m0 51.8h0m0.6 -43.4h0m0 36.8h0m0.3 -43.5h0m0.1 -5h0m0.1 2.4h0m0.1 11.9h0m0.6 37.4h0m0.2 6.5h0m0.1 -70.8h0m0.1 61.3h0m0.1 -68.6h0m0.1 64.7h0m0 9.8h0m0.5 -70h0m0 5.7h0m0.8 -15.7h0m0 2.9h0m0.2 -8.3h0m0 2.8h0m0.1 79.7h0m0.3 -3.9h0m0.2 -3.1h0m1.2 -71.2h0m0.6 -3.4h0m0.2 85.5h0m0.6 -7.4h0m0.1 -2.6h0m0.4 -75.9h0m0 3.3h0m0.2 87.1h0m0.2 -8.9h0m0.2 -4h0m0 8.6h0m0.7 -61.6h0m0.7 57.3h0m0.4 3.4h0m0.2 7.6h0m0.2 -3.5h0m0.2 -3.1h0m0.7 -38.7h0m0.1 7.3h0m0.2 2.9h0m0.1 -7.3h0m0.4 42.7h0m0.1 -8.7h0m0.2 14.7h0m0.2 -10.4h0m0.1 -6.9h0m0 14h0m0.4 -40.8h0m0.2 -11h0m0.1 4h0m0.3 2.4h0m0.1 21.9h0m0.2 9.5h0m0.3 -7h0m0.6 -27.4h0m0 3.7h0m0.1 3.5h0m1.2 16.3h0m0.1 -18.7h0m0 26.6h0m0.2 -30.9h0m0.1 -2.8h0" fill="none" stroke="#1f77b4" stroke-width="5.2" stroke-linecap="round"/>
<path d="M116.5 228.7L117.7 234L118.9 239.7L120.1 235.8L121.3 233.8L122.5 236.7L123.7 232.9L124.9 228.4L126.1 230.2L127.3 226.1L128.5 224.7L129.7 227.5L130.9 231.2L132.1 229.1L133.3 229.9L134.5 230.7L135.7 229.3L136.9 227.1L138.1 229.5L139.3 227.5L140.5 226.3L141.7 224.9L142.9 222L144.1 220.2L145.3 219L146 216L147.7 222.2L148.9 223.7L150.1 224.5L151.3 227L152.5 222.2L153.7 216.6L154.9 220.2L156.1 221.8L157.3 219.8L158.5 217.9L160 216L160.9 222.1L162.1 222.8L163.3 221.9L164.5 221.4L165.7 221.8L166.9 223.5L168.1 221L169.3 223.1L170.5 225.9L171.7 224.4L172.9 225L174.1 227.1L175.3 232L176.5 225.6L177.7 224.9L178.9 228L180.1 222.4L181.3 223.2L182.5 229.8L183.7 229.1L184.9 225.7L186.1 222.9L187.3 223.2L188.5 227.3L189.7 229.5L190.9 230L192.1 228.2L193.3 232.7L194.5 236.7L195.7 235.8L196.9 237.1L198.1 233.2L199.3 233.3L200 236L201.7 238.6L202.9 234.3L204.1 229.9L205.3 224.6L206.5 222.2L207.7 226.7L208.9 230.9L210.1 225L211.3 220.7L212.5 224.7L213.7 227.1L214.9 220.3L216.1 216.7L217.3 220L218.5 222.8L219.7 221.5L220.9 222.8L222.1 223.3L223.3 225L224.5 226L225.7 225.8L226.9 227.6L228.1 228.8L229.3 227.8L230.5 224.1L231.7 224.2L232.9 225.3L234.1 218.7L235.3 218.8L236.5 223.5L237.7 223.5L238.9 224.8L240.1 229.3L241.3 225.1L242.5 221.7L243.7 225.4L244.9 230.9L246.1 230.3L247.3 221.6L248.5 218.5L250 220L250.9 220.2L252.1 220.8L253.3 221.3L254.5 227.1L256 228L256.9 223.9L258.1 230.6L259.3 230.5L260.5 230.8L261.7 226.6L262.9 225.3L264.1 223.4L265.3 220.1L266.5 215.9L268 216L268.9 220.9L270.1 226.2L271.3 232L272.5 235.3L273.7 237.8L274.9 238.3L276.1 235L277.3 234.8L278.5 238.7L280 240L280.9 237.7L282.1 235.3L283.3 232L284.5 227.4L286 224L286.9 225L288.1 223.6L289.3 228.7L290.5 230.1L291.7 226.6L292.9 228.3L294.1 240L295.3 241.6L296.5 239.7L297.7 241.9L298.9 244.7L300 250L301.3 248.1L302.5 243.6L303.7 237.5L304.9 232.8L306 232L307.3 240L308.5 237.2L309.7 233.6L310.9 235.6L312.1 238.8L313.3 244.9L314 252L315.7 236.7L316.9 225.8L318 216L319.3 218.6L320.5 223.9L322 230L322.9 226.8L324.1 230.4L325.3 230.1L326.5 227.1L327.7 222.4L328.9 223.1L330.1 224.1L331.3 220.6L332 226L333.7 228.8L334.9 233.2L336.1 237L337.3 241.1L338.5 243.3L339.7 247.3L340.9 253.8L342 256L343.3 252.4L344.5 245.8L345.7 243.2L346.9 239.8L348.1 235L349.3 233.2L350 230L351.7 231.8L352.9 235.2L354.1 233.8L355.3 239.1L356.5 240L357.7 242.9L358.9 249.2L360.1 253.7L361.3 256.9L362.5 260.8L364 266L364.9 266.9L366.1 265.7L367.3 263.1L368.5 262.5L369.7 261.3L370.9 258.5L372.1 257.8L373.3 255.8L374.5 253.8L375.7 248.5L376.9 245.2L378.1 244L379.3 240.8L380.5 237.2L382 232L382.9 237.4L384.1 236.5L385.3 240.2L386.5 243.4L387.7 247.6L388.9 253.4L390.1 259.8L391.3 266.2L392 268L393.7 259.7L394.9 254.4L396.1 249.3L397.3 243.5L398.5 238.9L399.7 237.9L400.9 233.4L402.1 230.4L403.3 229.7L405 224L406.9 231.8L408.1 235.8L409.3 239.5L411 246L412.9 242.3L414.1 240L415.3 240.6L416.5 238.9L417.7 236.8L418.9 233.1L420.1 227.5L421.3 228.1L422.5 229.4L423.7 227.9L424.9 224.1L426.1 220.3L427.3 217.5L428.5 217.8L430 216L430.9 221.8L432.1 217.9L433.3 218.6L434.5 222.4L435.7 224.3L436.9 227.7L438.1 231.1L439.3 229.7L440.5 230.6L441.7 235.3L442.9 239.6L444 238L445.3 236.9L446.5 229.2L447.7 234.2L448.9 238.4L450.1 233L451.3 229.7L452.5 229L453.7 231.7L454.9 235.4L456.1 230.2L457.3 228.3L458 226L459.7 230.4L460.9 235.7L462.1 236.8L463.3 236.4L464.5 238.7L465.7 235.3L466.9 237.3L468 240L469.3 237.5L470.5 239.4L471.7 234.3L472.9 231.3L474.1 230.7L475.3 229.6L476.5 228.2L477.7 231L478.9 228.7L480.1 224.7L481.3 223.3L482.5 221.4L483.7 222.3L484.9 224.6L486.1 223.7L487.3 223.4L488.5 224.1L489.7 224.7L490.9 225.3L492.1 224.8L493.3 219.2L494.5 213.5L496 218L496.9 218.5L498.1 223.3L499.3 225.6L500 230L501.7 224.1L502.9 222.2L504.1 220.7L505.3 215.1L506 216L507.7 220.1L508.9 225.1L510 226L511.3 227.4L512.5 222.7L513.7 222.9L514.9 225.9L516 222L517.3 226.1L518.5 232.1L519.7 231.3L520.9 232.8L522.1 235.6L523.3 238.8L524.5 240.3L525.7 233.8L526.9 229.9L528 236L529.3 238.4L530.5 242.6L532 248L532.9 244.9L534.1 240.8L535.3 239L536 240L537.7 246.6L538.9 248L540.1 249.5L541.3 251.7L542.5 255.9L544 262L544.9 257.4L546.1 258.5L547.3 254.4L548 256L549.7 262.9L550.9 264.3L552.1 268.3L553.3 275.3L554.5 282.7L555.7 291.4L556.9 295.5L558.1 296.2L559.3 303.3L560 300L562 286L562.9 294.3L564.1 296.3L565.3 298.7L566.5 308.8L567.7 321.8L569 346L570.1 325.5L571.3 308.2L572.5 297.1L573.7 293.1L574.9 289.4L576.1 282.8L577.3 270.7L578.5 258.4L579.7 246.3L580.9 240.7L582.1 236L583.3 232.3L584.5 226.4L585.7 217.2L586.9 208.5L588.1 199.7L589.3 195.2L590.5 193L592 188L592.9 192.1L594 196L595.3 200.9L596 190L597.7 207.1L598.9 219.5L600.1 231L601.3 236.3L602.5 242.2L604 250L604.9 253.3L606.1 250.5L608 244L609.7 250.2L610.9 254.6L612.1 260.2L613.3 267.3L614.5 273.6L615.7 280L616.9 285.2L618.1 289.5L619.3 292.4L620.5 296.4L621.7 301.6L622.9 307.9L624.1 314.7L625.3 324.4L626.5 343.8L628 371L628.9 353.9L630.1 329.3L631.3 321.3L632.5 313.5L633.7 301.5L634.9 287.1L636 274L637.3 274.4L638.5 276.3L639.7 274.1L640.9 275.6L642.1 280L643.3 285L644.5 289.6L646 296L646.9 285L648.1 270.6L649.3 256.2L650.5 241.8L652 224L652.9 230.1L654.1 232.1L656 236L657.7 227.9L658.9 227.9L660.1 223.8L662 220L663.7 236.9L664.9 248.5L666.1 260.5L667.3 270.4L668.5 279.7L669.7 287.6L670.9 292.1L672.1 296.8L673.3 303.2L675 313L675.7 306.9L676.9 304.5L678.1 300.2L679 294L680.5 302.2L682 310L682.9 307.6L684.1 298.6L685.3 290.9L686.5 283.9L687.7 277.5L688.9 269.4L690.1 261.2L691.3 255.9L692.5 250.1L693.7 243.1L694.9 238.1L696.1 233L697.3 232.6L698.5 234.6L699.7 241.6L700.9 246L702.1 236.9L704 236L705.7 243.2L706.9 248.5L708.1 256.1L710 278L711.7 262.6L713 250L714.1 255.9L715.3 262.1L716.5 268.8L717.7 274L718.9 276.1L720.1 278L721.3 288.9L722.5 301.1L723.7 313.4L724.9 321L726.5 330L727.3 320.6L728.5 306.4L729.7 293.1L730.9 283.6L732.1 276.7L733.3 268.7L734.5 259.2L735.7 247.8L737 236L738.1 242.3L740 244L741.7 240.6L742.9 236.2L744 230L745.3 232.8L746.5 235.5L748 236L748.9 229.2L750.1 218.4L751.3 208.2L752.5 200.2L753.7 192.2L754.9 189.8L756.1 190.8L757 184L758.5 189.7L759.7 194.2L760.9 202.7L762.1 210.8L763.3 208L764.5 210.3L766 218L766.9 212.7L768 206L769.3 209.5L770.5 211.1L771.7 208L772.9 209.9L774.1 213.7L775.3 216.3L776.5 220.3L777.7 226.9L778.9 231.9L780.1 234.8L782 236L783.7 229.2L784.9 225.4L786.1 220.9L788 214L789.7 217.7L790.9 220.5L792 226L793.3 221.8L794.5 221.8L795.7 221.3L796.9 224.1L798.1 223.6L799.3 222.5L800.5 219.8L801.7 218.1L802.9 220.6L804.1 222L805.3 225.4L806.5 225.3L807.7 220.1L808.9 220.1L810.1 221.7L811.3 221.7L812.5 222.8L813.7 219.8L814.9 218.6L816.1 221.3L817.3 223.2L818.5 221.3L819.7 220.3L820.9 223L822.1 218.2L823.3 213.5L824.4 198L826 224L826.9 221L828.1 223L829.3 223.6L830.5 223.6L831.7 223L832.9 220.1L834.1 222.8L835.3 224.9L836.5 222L837.7 224.2L838.9 224.9L840.1 223.7L841.3 227L842.5 227.8L843.7 227.1L844.9 225.6L846.1 220.8L847.3 222.8L849 224L849.7 221.2L850.9 215.7L852.1 210.8L853 208L854.5 216.7L856 226L856.9 222.9L858.1 220.6L859.3 218.1L860.5 215.1L861.7 213.4L862.9 212.3L864 214L865.3 218.1L867 226L867.7 221.5L868.9 219.3L870.1 217.1L871.3 214.3L872.5 210L874 206L874.9 211.4L876.1 218.7L877 226L878.5 219.6L879.7 215.2L880.9 203.6L882 191L884 232L885.7 230.9L886.9 229L888.1 225.7L889.3 223.2L890.5 224.6L891.7 225.8L892.9 222.4L894.1 225.2L895.3 228.4L896.5 226.8L897.7 225.7L898.9 222.9L900.1 220.2L901.3 224L902.5 228.9L903.7 228.1L904.9 225.9L906.1 228.7L907.3 229.1L908.5 223.9L909.7 224.1L910.9 228.1L912.1 228.6L913.3 227.4L914.5 226.8L915.7 227.6L916.9 225L918.1 226L919.3 225.4L920.5 223.3L921.7 220.6L922.9 216.2L924.1 214.6L925.3 219.3L926.5 221.1L927.7 220.3L928.9 219.2L930.1 218.9L931.3 213.4L932.5 206.6L933.7 200L934.9 197.3L936.1 196.4L938 194L940 206L940.9 201.5L942.1 197.8L944 196L945.7 202.9L946.9 208L948 214L949.3 213.4L950.5 214.6L951.7 212.4L952.9 212L954.1 206.4L955.3 201.5L956.5 208.1L957.7 210.6L958.9 211.4L960.1 214.7L961.3 218L962.5 220.1L964 220L964.9 218.7L966.1 214.4L968 208L969.7 212.9L970.9 218.2L972 218L973.3 218.9L974.5 217.7L975.7 213.9L976.9 217.7L978.1 219.1L979.3 215.3L980.5 213.4L981.7 213.9L982.9 216.2L984.1 215.5L985.3 212.8L986.5 212.8L987.7 212.7L988.9 216L990.1 220.6L991.3 226.9L992.5 231.3L994 236L994.9 232.2L996.1 224.6L998 214L999.7 213.9L1000.9 213.5L1002.1 221.5L1003.3 223.8L1004.5 220.4L1005.7 220.9L1006.9 226.1L1008.1 228.3L1009.3 224.4L1010.5 223.5L1011.7 221.2L1012.9 221.7L1014.1 221.4L1015.3 218.8L1016.5 218.3L1017.7 218.6L1018.9 219.4L1020.1 219.1L1021.3 219.3L1022.5 222.1L1023.7 224.7L1024.9 226.9L1026.1 225.9L1027.3 223.5L1028.5 224.8L1029.7 223.2L1030.9 222.2L1032.1 219.6L1033.3 218.8L1034.5 221.6L1035.7 220.6L1036.9 218.5L1038.1 222.2L1040 220L1041.7 228.4L1043 232L1044.1 217.8L1045.3 202.5L1047 182L1047.7 193.3L1049 214L1050.1 194.2L1051 178L1052.5 189.3L1053.7 198L1054.9 207.5L1056.1 217L1057.3 219.4L1058.5 219.5L1059.7 222L1060.9 225.7L1062.1 226.9L1063.3 225.8L1064.5 225L1065.7 226.7L1066.9 227.6L1068.1 227.1L1069.3 225.8L1070.5 225.4L1071.7 226.2L1072.9 226L1074.1 223.5L1075.3 223.7L1076.5 228.3L1077.7 229.2L1078.9 226.9L1080.1 226.5L1081.3 226.3L1082.5 226.1L1083.7 225.5L1084.9 226.3L1086.1 226.7L1087.3 225.2L1088.5 226.9L1089.7 227.1L1090.9 225.9L1092.1 226.4L1093.3 225.4L1094.5 226.7L1095.7 228.2L1096.9 229.5L1098.1 228.6L1099.3 229.8L1100.5 230.3L1101.7 224.2L1102.9 224L1104.1 228.1L1105.3 225.4L1106.5 223.5L1107.7 227L1108.9 227.7L1110.1 225.5L1111.3 225.1L1112.5 224.4L1113.7 225L1114.9 225.9L1116.1 226.9L1117.3 228.7L1118.5 228L1119.7 229.5L1120.9 231.7L1122.1 228.3L1123.3 228.1L1124.5 230.3L1125.7 230.2L1126.9 229L1128.1 228.9L1129.3 230.2L1130.5 227.9L1131.7 224.9L1132.9 223.7L1134.1 223.5L1135.3 225.8L1136.5 227.9L1137.7 226.9L1138.9 225L1140.1 226.7L1141.3 228L1142.5 226.2L1143.7 224.7L1144.9 227L1146.1 228.6L1147.3 227.6L1148.5 226.5L1149.7 226L1150.9 224.7L1152.1 226.5L1153.3 227.6L1154.5 229.2L1155.7 230L1156.9 226.4L1158.1 225.1L1159.3 224.9L1160.5 225.9L1161.7 229.3L1162.9 229.6L1164.1 229.2L1165.3 225.7L1166.5 222.9L1167.7 225.4L1168.9 221.6L1170.1 219.7L1171.3 221.3L1172.5 224.9L1173.7 226.6L1174.9 226.5L1176.1 228.3L1177.3 229.8L1178.5 228L1179.7 228.1L1180.9 226.7L1182.1 225.7L1183.3 225.4L1184.5 228L1185.7 232.4L1186.9 232.6L1188.1 230.9L1189.3 231.4L1190.5 233.4L1191.7 231.1L1192.9 227.2L1194.1 227.7L1195.3 229L1196.5 226L1197.7 226L1198.9 228.8L1200.1 229L1201.3 226.4L1202.5 228.1L1203.7 230.1L1204.9 230.7L1206.1 231.1L1207.3 229.5L1208.5 229.2L1209.7 233L1210.9 235.8L1212.1 234.2L1213.3 233.2L1214.5 232.9L1215.7 230.5L1216.9 227.2L1218.1 229.7L1219.3 229.3L1220.5 226.4L1221.7 227.2L1222.9 229.3L1224.1 229.9L1225.3 230.2L1226.5 230L1227.7 231.5L1228.9 231.3L1230.1 231.4L1231.3 233.4L1232.5 232.4L1233.7 230L1234.9 230L1236.1 230.7L1237.3 227.8L1238.5 228L1239.7 230.2L1240.9 229.3L1242 228L1243.3 230.5L1244.5 232L1245.7 232.3L1246.9 232.5L1248.1 233.8L1250 236L1251.7 233.6L1252.9 236.6L1254.1 237.1L1255.3 236.1L1256.5 234.3L1257.7 233.8L1258.9 236.3L1260.1 235.8L1261.3 236.7L1262.5 235.6L1263.7 234L1264.9 233.8L1266.1 233.4L1267.3 233.3L1268.5 231.1L1269.7 231.5L1270.9 234.9L1272.1 236.7L1273.3 234.6L1274.5 233.3L1275.7 234.5L1276.9 235.9L1278.1 236.5L1279.3 234.9L1280.5 232.9L1281.7 231L1282.9 231.5L1284.1 232.6L1285.3 236.2L1286.5 237.2L1287.7 232.2L1288.9 230.6L1290.1 234.1L1291.3 232.5L1292.5 232.8L1293.7 233.1L1294.9 234.6L1296.1 237.1L1297.3 235.9L1298.5 234.2L1299.7 232.7L1300.9 230.9L1302.1 231.7L1303.3 234L1304.5 233.5L1305.7 235.1L1306.9 237.2L1308.1 235.9L1309.3 233.6L1310.5 234.7L1311.7 233.8L1312.9 232.1L1314.1 231.6L1315.3 231.6L1316.5 234.5L1317.7 233.2L1318.9 235.3L1320.1 237.2L1321.3 232.1L1322.5 234L1323.7 234.6L1324.9 231.4L1326.1 232.9L1327.3 232.5L1328.5 232.1L1329.7 230.7L1330.9 232.5L1332.1 235.1L1333.3 233.9L1334.5 234.9L1335.7 237.8L1336.9 237.3L1338.1 234.3L1339.3 232.8L1340.5 233.9L1341.7 238.2L1342.9 237.2L1344.1 234.3L1345.3 234.2L1346.5 232.9L1347.7 232.2L1348.9 231.3L1350.1 230.3L1351.3 230.6L1352.5 232.8L1353.7 233.2L1354.9 231.2L1356.1 230.9L1357.3 230.1L1358.5 231.1L1359.7 233L1360.9 232.3L1362.1 232.8L1363.3 234.4L1364.5 232.8L1365.7 233.2L1366.9 231.6L1368.1 231.2L1369.3 238.1L1370.5 237.9L1371.7 234.8L1372.9 233.5L1374.1 231.9L1375.3 234L1376.5 234.2L1377.7 230.9L1378.9 231.8L1380.1 229.5L1381.3 226.5L1382.5 229.6L1383.7 230.3L1384.9 228.6L1386.1 231.4L1387.3 229.7L1388.5 227.1L1389.7 228L1390.9 229L1392.1 229.1L1393.3 228.5L1394.5 225.3L1395.7 226L1396.9 228.1L1398.1 227.9L1399.3 231.6L1400.5 231.8L1401.7 228.9L1402.9 229.8L1404.1 232.6L1405.3 232.2L1406.5 229.1L1407.7 227.5L1408.9 228.3L1410.1 229.7L1411.3 228.7L1412.5 226.2L1413.7 227L1414.9 231.6L1416.1 233.6L1417.3 230.5L1418.5 227.2L1419.7 224.4L1420.9 227L1422.1 229.9L1423.3 229L1424.5 228.2L1425.7 229.7L1426.9 228.8L1428.1 228.2L1429.3 231L1430.5 231.9L1431.7 229.8L1432.9 228.4L1434.1 225.8L1435.3 227L1436.5 230.4L1437.7 229.7L1438.9 228.2L1440.1 229.2L1441.3 226.7L1443 222L1443.7 225.3L1444.9 233.6L1446.1 241.6L1447 246L1448.5 226.5L1449.7 204.6L1451 176L1452.1 194.7L1453.3 214.8L1454.5 233.9L1455.7 235L1456.9 234.2L1458.1 232.8L1459.3 233.5L1460.5 233.6L1461.7 229.1L1462.6 229" fill="none" stroke="#ff7f0e" stroke-width="2.1" stroke-linejoin="round"/>
</g>
<rect x="1046.6" y="48.5" width="406" height="79.8" rx="3" ry="3" fill="#fff" fill-opacity="0.8" stroke="#ccc" stroke-opacity="0.8" stroke-width="1.1"/>
<circle cx="1073" cy="63.8" r="2.7" fill="#1f77b4"/>
<path d="M1053.6 101.8h38.8" stroke="#ff7f0e" stroke-width="2.1" fill="none"/>
<text x="1107.5" y="68.4" font-size="18.6" text-anchor="start" textLength="97.6" lengthAdjust="spacingAndGlyphs" >Raw Data</text>
<text x="1107.5" y="96" font-size="18.6" text-anchor="start" textLength="268.2" lengthAdjust="spacingAndGlyphs" >Butterworth Filtered Data</text>
<text x="1107.5" y="117" font-size="18.6" text-anchor="start" textLength="337.2" lengthAdjust="spacingAndGlyphs" >(N=6, Tc=3.3333 min, Type: low)</text>
<path d="M116.4 518.3v4.9M284.6 518.3v4.9M452.7 518.3v4.9M620.9 518.3v4.9M789 518.3v4.9M957.1 518.3v4.9M1125.3 518.3v4.9M1293.5 518.3v4.9M116.5 79.3h-4.9M116.5 154.4h-4.9M116.5 229.4h-4.9M116.5 304.4h-4.9M116.5 379.5h-4.9M116.5 454.5h-4.9" stroke="#000" stroke-width="1.1" fill="none"/>
<rect x="116.5" y="38.5" width="1346.1" height="479.8" fill="none" stroke="#000" stroke-width="1.1"/>
<text x="104.7" y="87.2" font-size="22.4" text-anchor="end" textLength="36.2" lengthAdjust="spacingAndGlyphs" >1.0</text>
<text x="104.7" y="162.3" font-size="22.4" text-anchor="end" textLength="36.2" lengthAdjust="spacingAndGlyphs" >0.5</text>
<text x="104.7" y="237.3" font-size="22.4" text-anchor="end" textLength="36.2" lengthAdjust="spacingAndGlyphs" >0.0</text>
<text x="104.7" y="312.3" font-size="22.4" text-anchor="end" textLength="54.2" lengthAdjust="spacingAndGlyphs" >−0.5</text>
<text x="104.7" y="387.4" font-size="22.4" text-anchor="end" textLength="54.2" lengthAdjust="spacingAndGlyphs" >−1.0</text>
<text x="104.7" y="462.4" font-size="22.4" text-anchor="end" textLength="54.2" lengthAdjust="spacingAndGlyphs" >−1.5</text>
<rect x="182.3" y="575.4" width="575.5" height="479" fill="#e8e8e8"/>
<path d="M182.7 575.4V1054.4M757.4 575.4V1054.4" stroke="#dddddd" stroke-width="1" fill="none"/>
<path d="M284.6 575.4V1054.4M452.7 575.4V1054.4M620.9 575.4V1054.4M789 575.4V1054.4M957.1 575.4V1054.4M1125.3 575.4V1054.4M1293.5 575.4V1054.4M116.5 606.6H1462.6M116.5 659.9H1462.6M116.5 713.2H1462.6M116.5 766.5H1462.6M116.5 819.8H1462.6M116.5 873.1H1462.6M116.5 926.4H1462.6M116.5 979.7H1462.6M116.5 1033H1462.6" stroke="#b0b0b0" stroke-width="1.1" stroke-dasharray="1.1 1.9" stroke-dashoffset="-0.45" fill="none"/>
<g clip-path="url(#c2)">
<path d="M116.5 979.3L117.5 977.3L118.5 977.6L119.5 972L120.5 961.8L121.5 962.1L122.5 972.5L123.5 977.6L124.5 978.6L125.5 978.4L126.5 978.5L127.5 978.6L128.5 973.9L129.5 964.3L130.5 962.2L131.5 967.7L132.5 975L133.5 977.1L134.5 974L135.5 970.5L136.5 967.1L137.5 966.2L138.5 966.4L139.5 967.8L140.5 967.1L141.5 963.4L142.5 959.7L143.5 955.6L144.5 952.8L145.5 950.8L146.5 948.8L147.5 944.8L148.5 941.9L149.5 939.6L150.5 936.1L151.5 934.8L152.5 934L153.5 933.9L154.5 934.2L155.5 933.3L156.5 931.2L157.5 930.3L158.5 930L159.5 929.4L160.5 928.3L161.5 925.2L162.5 923.4L163.5 923.4L164.5 923.3L165.5 921.5L166.5 919.5L167.5 917.9L168.5 914.1L169.5 911.9L170.5 911.4L171.5 909.7L172.5 906.5L173.5 905.5L174.5 905.2L175.5 902.1L176.5 902.6L177.5 904.7L178.5 906.1L179.5 911L180.5 915.9L181.5 917.1L182.5 916.9L183.5 919.1L184.5 917.5L185.5 910.6L186.5 903.7L187.5 900.8L188.5 897.5L189.5 891.8L190.5 890.7L191.5 890.6L192.5 888.9L193.5 889L194.5 889L195.5 887.8L196.5 887.8L197.5 886.8L198.5 886.2L199.5 888.2L200.5 887.3L201.5 886L202.5 887.7L203.5 887.6L204.5 887.9L205.5 887.9L206.5 888.6L207.5 891.1L208.5 893.4L209.5 895.1L210.5 894.7L211.5 894L212.5 896.5L213.5 898.2L214.5 895L215.5 894L216.5 894.8L217.5 895L218.5 895.1L219.5 896.1L220.5 897.9L221.5 898.9L222.5 900.6L223.5 901L224.5 899.1L225.5 897.4L226.5 898.5L227.5 901.9L228.5 904.2L229.5 903.7L230.5 905.1L231.5 907.3L232.5 907.1L233.5 908.4L234.5 910.2L235.5 910.2L236.5 912.1L237.5 916.2L238.5 920.7L239.5 922.7L240.5 924.8L241.5 928.7L242.5 931.4L243.5 933.4L244.5 936.8L245.5 940.6L246.5 942.6L247.5 943.5L248.5 945.1L249.5 946.8L250.5 948.1L251.5 949L252.5 950L253.5 951.7L254.5 952.3L255.5 953.8L256.5 954.6L257.5 954L258.5 954.7L259.5 955.1L260.5 957.3L261.5 959.7L262.5 959.1L263.5 958.6L264.5 957.2L265.5 957L266.5 956.8L267.5 959.2L268.5 966L269.5 972.2L270.5 977.5L271.5 981.1L272.5 984.3L273.5 984.4L274.5 983L275.5 981.9L276.5 981.8L277.5 981.9L278.5 981.1L279.5 981.9L280.5 982.3L281.5 982.6L282.5 982L283.5 981.1L284.5 981.9L285.5 980.7L286.5 978L287.5 976.9L288.5 975.9L289.5 974.4L290.5 972.9L291.5 972.8L292.5 970.7L293.5 968.3L294.5 965.9L295.5 964.3L296.5 962.3L297.5 962.2L298.5 964.3L299.5 964.3L300.5 966.3L301.5 969L302.5 968.6L303.5 965.5L304.5 961.6L305.5 957.1L306.5 955.8L307.5 955.4L308.5 958.2L309.5 967.4L310.5 973.8L311.5 978.1L312.5 984.1L313.5 986.7L314.5 987.7L315.5 991.8L316.5 992.6L317.5 989.8L318.5 988.1L319.5 983.3L320.5 979.6L321.5 976.1L322.5 971.8L323.5 970.9L324.5 968.5L325.5 965.3L326.5 965.7L327.5 968.1L328.5 970.3L329.5 971.9L330.5 972.3L331.5 971.9L332.5 973.3L333.5 973.9L334.5 973.5L335.5 975.5L336.5 976.2L337.5 975.7L338.5 978.2L339.5 979.8L340.5 977.8L341.5 978L342.5 982.4L343.5 986.3L344.5 985.2L345.5 984.1L346.5 985.8L347.5 986.3L348.5 984.9L349.5 986.3L350.5 988.8L351.5 988.4L352.5 987.4L353.5 987.7L354.5 989.6L355.5 990.6L356.5 991.6L357.5 992.2L358.5 993.6L359.5 995.2L360.5 994.1L361.5 993.8L362.5 996.2L363.5 997.6L364.5 999.9L365.5 1001.2L366.5 1001.6L367.5 1004L368.5 1004.2L369.5 1006.1L370.5 1007.4L371.5 1005.2L372.5 1004.3L373.5 1003L374.5 1001.9L375.5 1004.2L376.5 1004.8L377.5 1002.8L378.5 1002.6L379.5 1002.9L380.5 1001.6L381.5 1000.5L382.5 1001L383.5 1001.6L384.5 1001.5L385.5 1002.3L386.5 1002.1L387.5 1000.6L388.5 999.8L389.5 1000.3L390.5 1001.9L391.5 1001.3L392.5 1000.2L393.5 999.1L394.5 998.3L395.5 998.4L396.5 997.9L397.5 998L398.5 997.2L399.5 995.8L400.5 994.9L401.5 992.1L402.5 990.7L403.5 989.5L404.5 986L405.5 984.4L406.5 984.5L407.5 982.8L408.5 985L409.5 987.5L410.5 987.6L411.5 987.8L412.5 987.9L413.5 989.5L414.5 989L415.5 989.3L416.5 990.2L417.5 990.6L418.5 989.9L419.5 990.3L420.5 991.5L421.5 991L422.5 990L423.5 991.3L424.5 993.5L425.5 996.3L426.5 995.4L427.5 993.6L428.5 994.7L429.5 992.7L430.5 990.8L431.5 989.8L432.5 987.2L433.5 986.7L434.5 986.5L435.5 983.4L436.5 983.3L437.5 982.3L438.5 981.8L439.5 983.8L440.5 984.2L441.5 986.2L442.5 989.5L443.5 989.5L444.5 988.4L445.5 989.2L446.5 989.7L447.5 990.1L448.5 991.5L449.5 991.8L450.5 991.6L451.5 992.5L452.5 993.5L453.5 994.6L454.5 993.9L455.5 993.1L456.5 994.6L457.5 996.7L458.5 996.7L459.5 998L460.5 1001.1L461.5 1000.1L462.5 1000.6L463.5 1000.1L464.5 999.1L465.5 999L466.5 999.5L467.5 1001.1L468.5 1000L469.5 998.3L470.5 996.4L471.5 996.8L472.5 996.9L473.5 996.3L474.5 994.1L475.5 992.6L476.5 993.1L477.5 989.5L478.5 986.7L479.5 986.8L480.5 985.4L481.5 982L482.5 979.9L483.5 977.9L484.5 976L485.5 974L486.5 971.5L487.5 972.2L488.5 970L489.5 967.3L490.5 968L491.5 967.1L492.5 963.4L493.5 963.3L494.5 964.5L495.5 965.9L496.5 969.7L497.5 971.1L498.5 972.8L499.5 972.3L500.5 973.3L501.5 977.3L502.5 978L503.5 979.3L504.5 981.8L505.5 983.7L506.5 983.2L507.5 983.8L508.5 985.9L509.5 986L510.5 986L511.5 984.4L512.5 982.9L513.5 985.1L514.5 985L515.5 985.2L516.5 987.2L517.5 985.5L518.5 983.4L519.5 984L520.5 985.2L521.5 986.2L522.5 985.8L523.5 985.2L524.5 984.9L525.5 985.8L526.5 986.7L527.5 988L528.5 989.9L529.5 988.4L530.5 988.9L531.5 990.4L532.5 991.9L533.5 993L534.5 994.1L535.5 996.6L536.5 997.8L537.5 997.9L538.5 996.9L539.5 998.4L540.5 998.2L541.5 998.1L542.5 999.9L543.5 1000.9L544.5 1000.8L545.5 1000.4L546.5 1001.3L547.5 1005L548.5 1007.3L549.5 1007.9L550.5 1009.5L551.5 1010L552.5 1012.6L553.5 1012.1L554.5 1012.6L555.5 1016.2L556.5 1017.9L557.5 1019.5L558.5 1020.1L559.5 1020.5L560.5 1022.7L561.5 1023.1L562.5 1021.8L563.5 1022.2L564.5 1023.1L565.5 1024.1L566.5 1023.8L567.5 1022.9L568.5 1023.1L569.5 1022.4L570.5 1022.2L571.5 1024.3L572.5 1023.5L573.5 1021.3L574.5 1020.6L575.5 1021.3L576.5 1023.2L577.5 1022.7L578.5 1021.9L579.5 1023.3L580.5 1023.6L581.5 1023.2L582.5 1022.9L583.5 1023.5L584.5 1024.6L585.5 1023.4L586.5 1022.1L587.5 1024.5L588.5 1024.1L589.5 1021.1L590.5 1020L591.5 1021.4L592.5 1023.6L593.5 1023L594.5 1021.7L595.5 1021.8L596.5 1022.5L597.5 1021.5L598.5 1022L599.5 1023.3L600.5 1023.4L601.5 1022.9L602.5 1023.8L603.5 1024.6L604.5 1023.8L605.5 1024.2L606.5 1024.9L607.5 1025.3L608.5 1025.9L609.5 1025.9L610.5 1024.8L611.5 1025.5L612.5 1027L613.5 1025.5L614.5 1025.9L615.5 1026.6L616.5 1024.8L617.5 1024.8L618.5 1024.6L619.5 1025.4L620.5 1025.3L621.5 1025.4L622.5 1025.6L623.5 1024.1L624.5 1025.8L625.5 1026L626.5 1023.4L627.5 1022.8L628.5 1022.5L629.5 1023.1L630.5 1023.6L631.5 1022.8L632.5 1023.5L633.5 1022.5L634.5 1023L635.5 1026L636.5 1025.1L637.5 1023.3L638.5 1024.5L639.5 1026.2L640.5 1025.3L641.5 1024.6L642.5 1025.8L643.5 1026.7L644.5 1025.8L645.5 1027.2L646.5 1029.7L647.5 1026.7L648.5 1024.4L649.5 1026L650.5 1026.3L651.5 1025.8L652.5 1026.3L653.5 1026.1L654.5 1025.5L655.5 1026.2L656.5 1026.3L657.5 1026.3L658.5 1027.5L659.5 1028L660.5 1027.2L661.5 1027.9L662.5 1027.4L663.5 1026.3L664.5 1028.1L665.5 1027.4L666.5 1026.5L667.5 1025.9L668.5 1024.8L669.5 1025.7L670.5 1026.9L671.5 1027.3L672.5 1027.8L673.5 1028L674.5 1027.7L675.5 1027.2L676.5 1027.5L677.5 1028.4L678.5 1028.7L679.5 1028.2L680.5 1029.3L681.5 1030.8L682.5 1030.2L683.5 1029.2L684.5 1029.9L685.5 1030.1L686.5 1029.2L687.5 1029.9L688.5 1029.7L689.5 1029.5L690.5 1029.6L691.5 1030L692.5 1030.6L693.5 1030.7L694.5 1030.8L695.5 1030.5L696.5 1030.5L697.5 1030.8L698.5 1029.9L699.5 1028.6L700.5 1029.2L701.5 1030.1L702.5 1029.9L703.5 1030.7L704.5 1031.2L705.5 1031L706.5 1030.8L707.5 1029L708.5 1028L709.5 1029.6L710.5 1030.6L711.5 1029.5L712.5 1030.3L713.5 1031.6L714.5 1031.2L715.5 1030.9L716.5 1030.4L717.5 1028.9L718.5 1028L719.5 1029.3L720.5 1029.4L721.5 1028.4L722.5 1029.4L723.5 1030.1L724.5 1028.8L725.5 1028.2L726.5 1028.9L727.5 1030.1L728.5 1030.5L729.5 1029L730.5 1030.3L731.5 1030.9L732.5 1030.2L733.5 1030.3L734.5 1029.7L735.5 1030L736.5 1029.6L737.5 1028.1L738.5 1028.1L739.5 1029.5L740.5 1029.7L741.5 1030L742.5 1030.7L743.5 1030.1L744.5 1030.4L745.5 1030.5L746.5 1029.9L747.5 1029.5L748.5 1029.2L749.5 1029.3L750.5 1030.1L751.5 1031.2L752.5 1031.2L753.5 1030.3L754.5 1029.5L755.5 1029.5L756.5 1029.1L757.5 1028.9L758.5 1028.9L759.5 1028.6L760.5 1026.9L761.5 1026.6L762.5 1028.5L763.5 1027.4L764.5 1027.7L765.5 1028L766.5 1025.4L767.5 1025.7L768.5 1024.7L769.5 1025.1L770.5 1024.5L771.5 1022.4L772.5 1021.7L773.5 1017.3L774.5 1012.1L775.5 979.6L776.5 979.8L777.5 980.9L778.5 982.1L779.5 980.4L780.5 980.4L781.5 984.1L782.5 988.3L783.5 996.6L784.5 1006.2L785.5 1012.7L786.5 1013.8L787.5 1012.1L788.5 1007.2L789.5 982.6L790.5 950.1L791.5 946.2L792.5 943.6L793.5 943.5L794.5 936.7L795.5 925.2L796.5 922.2L797.5 923.8L798.5 920.4L799.5 918.2L800.5 919L801.5 919.4L802.5 920L803.5 919L804.5 918.7L805.5 920.5L806.5 922.4L807.5 926.4L808.5 932.3L809.5 937.2L810.5 939.7L811.5 941.2L812.5 941.9L813.5 942.9L814.5 945.8L815.5 946.9L816.5 947.8L817.5 948.1L818.5 948.7L819.5 949.9L820.5 949.5L821.5 949.9L822.5 952.1L823.5 953.7L824.5 953.3L825.5 953.3L826.5 956.7L827.5 961.2L828.5 966.2L829.5 970.8L830.5 972.7L831.5 975.7L832.5 977.7L833.5 978.5L834.5 979.9L835.5 981.4L836.5 980.3L837.5 975L838.5 969.4L839.5 966.2L840.5 962.6L841.5 961.4L842.5 969.3L843.5 976.8L844.5 982L845.5 988.5L846.5 994.8L847.5 998.7L848.5 1000.3L849.5 1001.4L850.5 1000L851.5 995.3L852.5 991L853.5 984.2L854.5 981.6L855.5 979.2L856.5 970.4L857.5 968.6L858.5 969.8L859.5 970.2L860.5 971.1L861.5 968.3L862.5 965.9L863.5 963L864.5 957.8L865.5 956.2L866.5 956.2L867.5 953.5L868.5 953.6L869.5 957.4L870.5 960.3L871.5 962.2L872.5 964.4L873.5 967.7L874.5 969.7L875.5 970.7L876.5 969.8L877.5 969.2L878.5 965L879.5 958.9L880.5 954.1L881.5 949.4L882.5 946.1L883.5 943.5L884.5 943.8L885.5 944.6L886.5 943.6L887.5 945.2L888.5 951.9L889.5 959.9L890.5 965.1L891.5 968.5L892.5 973.1L893.5 976.8L894.5 979.3L895.5 976.8L896.5 974.2L897.5 975.4L898.5 973.9L899.5 971.6L900.5 974.3L901.5 976.5L902.5 978.5L903.5 983L904.5 985.9L905.5 987.4L906.5 992.1L907.5 995.7L908.5 995.6L909.5 998L910.5 1001.6L911.5 1000.1L912.5 996.7L913.5 995L914.5 995.5L915.5 996.6L916.5 995.2L917.5 993.5L918.5 992.4L919.5 991L920.5 990.1L921.5 991.4L922.5 991.9L923.5 991.6L924.5 990.5L925.5 990L926.5 993.1L927.5 994.7L928.5 994.9L929.5 993.2L930.5 992.5L931.5 994.1L932.5 995.6L933.5 997.6L934.5 998.8L935.5 1000.4L936.5 1002.9L937.5 1006.6L938.5 1005.4L939.5 1001.4L940.5 998.9L941.5 996.1L942.5 994.4L943.5 991.2L944.5 986.2L945.5 983.6L946.5 980.6L947.5 975.6L948.5 968.8L949.5 961.1L950.5 954.8L951.5 948.1L952.5 940.9L953.5 938.6L954.5 940L955.5 940.4L956.5 939.5L957.5 936.2L958.5 933.6L959.5 933.2L960.5 930.7L961.5 925.8L962.5 924.6L963.5 925.3L964.5 923.6L965.5 924.9L966.5 927.5L967.5 932L968.5 935.8L969.5 940.6L970.5 945.7L971.5 947.4L972.5 948.4L973.5 950.4L974.5 952.4L975.5 953.9L976.5 954.3L977.5 952.5L978.5 954.5L979.5 955.6L980.5 955.1L981.5 957.1L982.5 959.2L983.5 959.6L984.5 959.8L985.5 961L986.5 962L987.5 963.3L988.5 964.8L989.5 965.5L990.5 966.7L991.5 968.6L992.5 967.6L993.5 965.5L994.5 965L995.5 964.7L996.5 965.5L997.5 969.7L998.5 972.1L999.5 972.5L1000.5 973.5L1001.5 974.3L1002.5 975.2L1003.5 977.1L1004.5 980.4L1005.5 981.6L1006.5 981.5L1007.5 980.7L1008.5 979.5L1009.5 979.4L1010.5 981.3L1011.5 980.9L1012.5 977.5L1013.5 978L1014.5 978.5L1015.5 978L1016.5 977.8L1017.5 979.1L1018.5 980.2L1019.5 980.8L1020.5 982.1L1021.5 977.8L1022.5 973.9L1023.5 974.8L1024.5 972.7L1025.5 972.9L1026.5 986.5L1027.5 986.3L1028.5 986L1029.5 986.3L1030.5 986.4L1031.5 986.1L1032.5 986.8L1033.5 988.3L1034.5 988L1035.5 989.2L1036.5 991.4L1037.5 993.2L1038.5 996.6L1039.5 998.2L1040.5 998.9L1041.5 999.9L1042.5 1001.6L1043.5 1001.6L1044.5 998.7L1045.5 996.7L1046.5 996.5L1047.5 994.4L1048.5 988.6L1049.5 982.9L1050.5 981.7L1051.5 983L1052.5 985.3L1053.5 993.2L1054.5 999.4L1055.5 998.8L1056.5 997.6L1057.5 998.1L1058.5 998.8L1059.5 996.5L1060.5 995.3L1061.5 994.3L1062.5 995.1L1063.5 996.9L1064.5 997.3L1065.5 997.1L1066.5 997.7L1067.5 999.3L1068.5 999.8L1069.5 997.3L1070.5 998L1071.5 1001.6L1072.5 1002.6L1073.5 1003.5L1074.5 1006.3L1075.5 1006.2L1076.5 1006.8L1077.5 1008.8L1078.5 1010.4L1079.5 1012.5L1080.5 1011.7L1081.5 1009L1082.5 1008.5L1083.5 1009.4L1084.5 1008.8L1085.5 1008.6L1086.5 1002.9L1087.5 998L1088.5 999.6L1089.5 1000.8L1090.5 1005.2L1091.5 1009.5L1092.5 1008.9L1093.5 1007.3L1094.5 1007.1L1095.5 1007.5L1096.5 1006.9L1097.5 1005.4L1098.5 1008.2L1099.5 1009.3L1100.5 1007.8L1101.5 1009.1L1102.5 1009.6L1103.5 1010.1L1104.5 1012.3L1105.5 1013.5L1106.5 1013.5L1107.5 1011.3L1108.5 1009.9L1109.5 1009.2L1110.5 998.3L1111.5 990.7L1112.5 992.1L1113.5 992.2L1114.5 992.7L1115.5 990.7L1116.5 990.7L1117.5 994L1118.5 993.9L1119.5 993.2L1120.5 994.4L1121.5 1002.2L1122.5 1005.6L1123.5 1003.2L1124.5 1004.3L1125.5 1003.6L1126.5 1003.9L1127.5 1003.2L1128.5 1001.3L1129.5 1003.6L1130.5 1006.4L1131.5 1008.1L1132.5 1009.9L1133.5 1009.8L1134.5 1010.4L1135.5 1009.5L1136.5 1008.8L1137.5 1009.2L1138.5 1010.7L1139.5 1010.9L1140.5 1009.5L1141.5 1009.5L1142.5 1008.7L1143.5 1008.5L1144.5 1008.1L1145.5 1007.1L1146.5 1005.5L1147.5 1004.7L1148.5 1002.9L1149.5 1002.1L1150.5 1005.4L1151.5 1007.1L1152.5 1005.3L1153.5 1004.4L1154.5 1004.5L1155.5 1004.6L1156.5 1005.6L1157.5 1005.3L1158.5 1004.7L1159.5 1003.3L1160.5 1002.2L1161.5 1003L1162.5 1003L1163.5 1003.8L1164.5 1004.4L1165.5 1005.4L1166.5 1007.2L1167.5 1007.8L1168.5 1006.6L1169.5 1006.3L1170.5 1007.3L1171.5 1009.7L1172.5 1011.5L1173.5 1010.6L1174.5 1009.7L1175.5 1009.4L1176.5 1011.4L1177.5 1011.6L1178.5 1009.5L1179.5 1008.6L1180.5 1009.2L1181.5 1007.9L1182.5 1006.4L1183.5 1008L1184.5 1008.6L1185.5 1008L1186.5 1006.6L1187.5 1006.3L1188.5 1008.1L1189.5 1007.7L1190.5 1006.6L1191.5 1008L1192.5 1009.1L1193.5 1008.9L1194.5 1008.1L1195.5 1006.6L1196.5 1007.7L1197.5 1008.7L1198.5 1008.2L1199.5 1008.8L1200.5 1009.5L1201.5 1009.1L1202.5 1007.8L1203.5 1009.1L1204.5 1010.2L1205.5 1010L1206.5 1010.4L1207.5 1010.3L1208.5 1009.2L1209.5 1008.2L1210.5 1008.1L1211.5 1009.4L1212.5 1008.8L1213.5 1007.6L1214.5 1008.1L1215.5 1007.4L1216.5 1005.8L1217.5 1005.8L1218.5 1006.6L1219.5 1004.6L1220.5 1001.5L1221.5 1000.4L1222.5 998.4L1223.5 995.9L1224.5 995L1225.5 991.7L1226.5 988.8L1227.5 989.4L1228.5 989L1229.5 987.5L1230.5 985.9L1231.5 983.9L1232.5 980.5L1233.5 980.1L1234.5 985.1L1235.5 988.7L1236.5 991.7L1237.5 994.3L1238.5 994.5L1239.5 992.5L1240.5 988.9L1241.5 984.3L1242.5 980.3L1243.5 977.2L1244.5 973.4L1245.5 970.4L1246.5 976.7L1247.5 982.2L1248.5 984.8L1249.5 985.3L1250.5 985.8L1251.5 986.3L1252.5 986.3L1253.5 982.3L1254.5 977.6L1255.5 970.8L1256.5 966.4L1257.5 967.7L1258.5 971.8L1259.5 977L1260.5 979.1L1261.5 978.3L1262.5 979.3L1263.5 981.9L1264.5 982.8L1265.5 978.1L1266.5 970.1L1267.5 963.2L1268.5 956.9L1269.5 948.7L1270.5 940.2L1271.5 939.7L1272.5 944.4L1273.5 947.1L1274.5 943L1275.5 933.7L1276.5 925.9L1277.5 923.5L1278.5 922L1279.5 925.8L1280.5 934.2L1281.5 940.8L1282.5 943.9L1283.5 946.1L1284.5 949.2L1285.5 948.5L1286.5 940.4L1287.5 932.3L1288.5 926.2L1289.5 922.2L1290.5 917.4L1291.5 916.4L1292.5 924.3L1293.5 928.9L1294.5 934.4L1295.5 937.6L1296.5 939.2L1297.5 944.4L1298.5 947.7L1299.5 942.1L1300.5 935.9L1301.5 931.5L1302.5 926.3L1303.5 922.4L1304.5 918.9L1305.5 915.9L1306.5 911.2L1307.5 908.4L1308.5 911.7L1309.5 914.9L1310.5 915.8L1311.5 916.4L1312.5 918.1L1313.5 918.3L1314.5 917.5L1315.5 917.1L1316.5 915.8L1317.5 915.1L1318.5 915.8L1319.5 916.7L1320.5 916.5L1321.5 916.8L1322.5 917.1L1323.5 915.9L1324.5 913.3L1325.5 911.4L1326.5 913.4L1327.5 915.1L1328.5 913.9L1329.5 911.4L1330.5 911L1331.5 909.6L1332.5 909.6L1333.5 909.6L1334.5 909.7L1335.5 909.4L1336.5 910L1337.5 912.3L1338.5 910.9L1339.5 912.3L1340.5 913.6L1341.5 913.1L1342.5 914.4L1343.5 915.7L1344.5 918L1345.5 915.4L1346.5 908.2L1347.5 901.5L1348.5 898.2L1349.5 897.3L1350.5 898.2L1351.5 899.3L1352.5 895.4L1353.5 892.3L1354.5 886.1L1355.5 874.5L1356.5 882.7L1357.5 901.2L1358.5 939.5L1359.5 963.6L1360.5 970.2L1361.5 976.9L1362.5 982.9L1363.5 982.6L1364.5 980.3L1365.5 979.9L1366.5 976.4L1367.5 971.8L1368.5 967.6L1369.5 965.2L1370.5 962L1371.5 958L1372.5 954.5L1373.5 951.1L1374.5 947.8L1375.5 939.9L1376.5 929.9L1377.5 923.3L1378.5 921.1L1379.5 920.7L1380.5 921.5L1381.5 922.5L1382.5 924.4L1383.5 946.2L1384.5 984.5L1385.5 989.5L1386.5 993.2L1387.5 995.2L1388.5 995.6L1389.5 993.9L1390.5 995.4L1391.5 995.6L1392.5 995.2L1393.5 996.2L1394.5 993.4L1395.5 993L1396.5 993.2L1397.5 995.2L1398.5 997.8L1399.5 1001L1400.5 1002.5L1401.5 1000.7L1402.5 1002.8L1403.5 1007L1404.5 1006.4L1405.5 1003L1406.5 1002L1407.5 1000.1L1408.5 998L1409.5 998.8L1410.5 998.9L1411.5 997L1412.5 994.7L1413.5 993.4L1414.5 990.2L1415.5 988.3L1416.5 986.6L1417.5 982.7L1418.5 982.3L1419.5 980L1420.5 977.7L1421.5 975.6L1422.5 972.7L1423.5 967L1424.5 958.9L1425.5 951.4L1426.5 936.9L1427.5 915.6L1428.5 914.6L1429.5 914.5L1430.5 917.3L1431.5 919L1432.5 955.6L1433.5 976.6L1434.5 979.8L1435.5 980.9L1436.5 985.1L1437.5 983.5L1438.5 979.4L1439.5 978.6L1440.5 969L1441.5 950.4L1442.5 938.8L1443.5 938L1444.5 935.5L1445.5 896.7L1446.5 827.8L1447.5 799.3L1448.5 783.1L1449.5 781.1L1450.5 779.5L1451.5 781.9L1452.5 818.4L1453.5 887.4L1454.5 905.2L1455.5 913.1L1456.5 913.3L1457.5 915.7L1458.5 923.1L1459.5 930.6L1460.5 932.2L1461.5 931.3L1462.5 930.2L1462.5 1020L1461.5 1017L1460.5 1017.2L1459.5 1019.7L1458.5 1019L1457.5 1016.6L1456.5 1012.2L1455.5 1000.8L1454.5 993.4L1453.5 993.4L1452.5 994L1451.5 995.2L1450.5 999.4L1449.5 1005.1L1448.5 1010.7L1447.5 1016L1446.5 1017.5L1445.5 1017.7L1444.5 1019.2L1443.5 1018.7L1442.5 1018.2L1441.5 1018.1L1440.5 1018.7L1439.5 1021L1438.5 1020.4L1437.5 1020.9L1436.5 1021.3L1435.5 1021.1L1434.5 1021.6L1433.5 1021.2L1432.5 1019.7L1431.5 1019.6L1430.5 1020.8L1429.5 1020.3L1428.5 1021.4L1427.5 1024.1L1426.5 1025.4L1425.5 1022.3L1424.5 1020.7L1423.5 1022.4L1422.5 1021.9L1421.5 1020.3L1420.5 1020.7L1419.5 1022.8L1418.5 1023.2L1417.5 1021.6L1416.5 1021.1L1415.5 1020.9L1414.5 1022.4L1413.5 1025L1412.5 1023.9L1411.5 1023L1410.5 1024.6L1409.5 1025L1408.5 1023.7L1407.5 1023.9L1406.5 1023.9L1405.5 1025.1L1404.5 1026.3L1403.5 1024.3L1402.5 1024.1L1401.5 1025.5L1400.5 1025L1399.5 1026.3L1398.5 1025.6L1397.5 1025.3L1396.5 1026.5L1395.5 1023.2L1394.5 1023L1393.5 1025.6L1392.5 1026.6L1391.5 1027.2L1390.5 1026.3L1389.5 1023.4L1388.5 1022.4L1387.5 1026.8L1386.5 1026L1385.5 1020.6L1384.5 1020.8L1383.5 1021.8L1382.5 1022.9L1381.5 1022.8L1380.5 1022L1379.5 1020.8L1378.5 1019.1L1377.5 1021L1376.5 1021.6L1375.5 1021.1L1374.5 1020.8L1373.5 1020.4L1372.5 1021.5L1371.5 1023.1L1370.5 1022.2L1369.5 1021.3L1368.5 1022L1367.5 1021.2L1366.5 1020.4L1365.5 1020.7L1364.5 1021.8L1363.5 1021.8L1362.5 1021.4L1361.5 1021.6L1360.5 1020.7L1359.5 1021.1L1358.5 1023.6L1357.5 1023.8L1356.5 1022.8L1355.5 1023.8L1354.5 1022.2L1353.5 1020.9L1352.5 1021.2L1351.5 1020.9L1350.5 1021.5L1349.5 1021.3L1348.5 1021.2L1347.5 1021.3L1346.5 1021.3L1345.5 1021.3L1344.5 1022.3L1343.5 1021L1342.5 1019.4L1341.5 1021.4L1340.5 1022.8L1339.5 1021.2L1338.5 1020.2L1337.5 1020.9L1336.5 1019.1L1335.5 1019.5L1334.5 1021.4L1333.5 1020L1332.5 1021.1L1331.5 1022.4L1330.5 1023.6L1329.5 1023.1L1328.5 1021.6L1327.5 1022.3L1326.5 1021.8L1325.5 1020.9L1324.5 1020.7L1323.5 1021.4L1322.5 1021.7L1321.5 1020.7L1320.5 1019.7L1319.5 1021.6L1318.5 1021.4L1317.5 1020.7L1316.5 1021L1315.5 1023.4L1314.5 1024.8L1313.5 1022.9L1312.5 1021.7L1311.5 1021.8L1310.5 1021.4L1309.5 1020L1308.5 1021.1L1307.5 1021.6L1306.5 1021.3L1305.5 1021.8L1304.5 1022.3L1303.5 1021.2L1302.5 1020.2L1301.5 1019.2L1300.5 1019.9L1299.5 1020.4L1298.5 1021.1L1297.5 1022.2L1296.5 1021.8L1295.5 1022L1294.5 1022L1293.5 1021.7L1292.5 1022.8L1291.5 1021.4L1290.5 1019.8L1289.5 1021.4L1288.5 1020.8L1287.5 1019.7L1286.5 1021.5L1285.5 1021.9L1284.5 1021.1L1283.5 1020.2L1282.5 1020.1L1281.5 1021L1280.5 1022.2L1279.5 1021.6L1278.5 1020.6L1277.5 1022.8L1276.5 1023.2L1275.5 1021.3L1274.5 1021.8L1273.5 1023.2L1272.5 1023.1L1271.5 1022.9L1270.5 1021.4L1269.5 1021.4L1268.5 1022.3L1267.5 1021.2L1266.5 1021.6L1265.5 1021.4L1264.5 1022.3L1263.5 1023.7L1262.5 1023.1L1261.5 1022.1L1260.5 1020.7L1259.5 1021.2L1258.5 1023.1L1257.5 1024.8L1256.5 1025L1255.5 1023.5L1254.5 1024.9L1253.5 1024.1L1252.5 1021L1251.5 1021.9L1250.5 1023.1L1249.5 1024.4L1248.5 1024.3L1247.5 1022.7L1246.5 1022.5L1245.5 1021.9L1244.5 1020L1243.5 1021L1242.5 1022.9L1241.5 1023L1240.5 1023.6L1239.5 1025L1238.5 1023.2L1237.5 1023.4L1236.5 1024.6L1235.5 1021.3L1234.5 1021.1L1233.5 1023.6L1232.5 1024.8L1231.5 1024.6L1230.5 1023.9L1229.5 1021.5L1228.5 1020.6L1227.5 1023.3L1226.5 1023.2L1225.5 1022.8L1224.5 1025.3L1223.5 1025.6L1222.5 1026L1221.5 1027.3L1220.5 1026.5L1219.5 1026.6L1218.5 1025.9L1217.5 1025.9L1216.5 1026.5L1215.5 1024.8L1214.5 1024.7L1213.5 1025.2L1212.5 1025.9L1211.5 1027L1210.5 1026.8L1209.5 1025.8L1208.5 1025.9L1207.5 1025.7L1206.5 1026.3L1205.5 1026.3L1204.5 1024.8L1203.5 1025.4L1202.5 1027.1L1201.5 1027.4L1200.5 1025.4L1199.5 1025.9L1198.5 1026.5L1197.5 1024.7L1196.5 1025.6L1195.5 1026.3L1194.5 1025.7L1193.5 1026.3L1192.5 1027L1191.5 1026.9L1190.5 1025.9L1189.5 1025.4L1188.5 1026.4L1187.5 1027.3L1186.5 1027.1L1185.5 1026.4L1184.5 1026.7L1183.5 1028.3L1182.5 1029L1181.5 1027.3L1180.5 1026.4L1179.5 1027.4L1178.5 1027.7L1177.5 1027.6L1176.5 1027.5L1175.5 1028L1174.5 1028L1173.5 1027L1172.5 1026.8L1171.5 1026.9L1170.5 1026.5L1169.5 1027.2L1168.5 1026.6L1167.5 1025.9L1166.5 1026.3L1165.5 1027L1164.5 1025.7L1163.5 1024.6L1162.5 1027.2L1161.5 1028.2L1160.5 1025.5L1159.5 1024.4L1158.5 1025L1157.5 1025L1156.5 1025.7L1155.5 1026L1154.5 1026.1L1153.5 1025.5L1152.5 1026.3L1151.5 1025.4L1150.5 1026L1149.5 1027.5L1148.5 1027.9L1147.5 1027.7L1146.5 1024.5L1145.5 1023.5L1144.5 1026.5L1143.5 1027.7L1142.5 1025.9L1141.5 1025.6L1140.5 1025.9L1139.5 1027.2L1138.5 1026.8L1137.5 1026.8L1136.5 1027.5L1135.5 1025.9L1134.5 1026.1L1133.5 1025.6L1132.5 1025.5L1131.5 1026.4L1130.5 1025.5L1129.5 1024.4L1128.5 1023.7L1127.5 1023.9L1126.5 1024.2L1125.5 1025.6L1124.5 1026L1123.5 1025L1122.5 1026L1121.5 1025.7L1120.5 1024.4L1119.5 1025.5L1118.5 1024.5L1117.5 1023.4L1116.5 1024L1115.5 1024L1114.5 1023.5L1113.5 1023.6L1112.5 1023.5L1111.5 1022.8L1110.5 1024.7L1109.5 1026.7L1108.5 1026.9L1107.5 1026L1106.5 1026.4L1105.5 1026.6L1104.5 1025.9L1103.5 1025.5L1102.5 1025.9L1101.5 1026.1L1100.5 1025.3L1099.5 1024.7L1098.5 1024.5L1097.5 1025.6L1096.5 1025.4L1095.5 1025.8L1094.5 1025.6L1093.5 1024.9L1092.5 1025.9L1091.5 1025.3L1090.5 1023.1L1089.5 1023.3L1088.5 1023.9L1087.5 1025.2L1086.5 1026.5L1085.5 1024.9L1084.5 1025.4L1083.5 1027.2L1082.5 1026.9L1081.5 1026.4L1080.5 1026.5L1079.5 1025.6L1078.5 1024.4L1077.5 1025.3L1076.5 1025.6L1075.5 1024.6L1074.5 1024.8L1073.5 1024.5L1072.5 1023.1L1071.5 1022.7L1070.5 1023.2L1069.5 1020.7L1068.5 1020.7L1067.5 1023.8L1066.5 1024.2L1065.5 1023.4L1064.5 1023L1063.5 1021.9L1062.5 1021.9L1061.5 1022.6L1060.5 1023.2L1059.5 1024L1058.5 1021.7L1057.5 1021.9L1056.5 1025.8L1055.5 1024.3L1054.5 1022.7L1053.5 1023.2L1052.5 1021.1L1051.5 1019.9L1050.5 1019.2L1049.5 1020L1048.5 1021.5L1047.5 1022.1L1046.5 1023.2L1045.5 1024.3L1044.5 1024.4L1043.5 1022.4L1042.5 1021.4L1041.5 1022.2L1040.5 1023.4L1039.5 1023.6L1038.5 1022.6L1037.5 1022.5L1036.5 1022.2L1035.5 1021.9L1034.5 1021.3L1033.5 1020.8L1032.5 1019.2L1031.5 1018.3L1030.5 1021.6L1029.5 1022L1028.5 1022.1L1027.5 1022.6L1026.5 1021.6L1025.5 1021.2L1024.5 1020.7L1023.5 1020.9L1022.5 1021.5L1021.5 1021.5L1020.5 1022.2L1019.5 1023.3L1018.5 1021.3L1017.5 1019.7L1016.5 1019.2L1015.5 1020.3L1014.5 1020.2L1013.5 1018.1L1012.5 1018.2L1011.5 1020.2L1010.5 1022.1L1009.5 1021.6L1008.5 1020.2L1007.5 1020.8L1006.5 1021.6L1005.5 1020.7L1004.5 1021L1003.5 1020.5L1002.5 1019.8L1001.5 1021.3L1000.5 1022.4L999.5 1020.3L998.5 1018.4L997.5 1019.1L996.5 1019.2L995.5 1019.5L994.5 1018.7L993.5 1019.5L992.5 1021.4L991.5 1021.3L990.5 1021.1L989.5 1019.7L988.5 1019.1L987.5 1019.2L986.5 1017.7L985.5 1017.5L984.5 1019.3L983.5 1019.6L982.5 1019.8L981.5 1019.4L980.5 1017.8L979.5 1017.9L978.5 1019.5L977.5 1018.8L976.5 1017.2L975.5 1018.2L974.5 1019.6L973.5 1018.3L972.5 1017.4L971.5 1019.3L970.5 1019.8L969.5 1017.6L968.5 1018.1L967.5 1018.8L966.5 1018.3L965.5 1018.3L964.5 1018.6L963.5 1017.6L962.5 1016.1L961.5 1017.6L960.5 1019.2L959.5 1016.6L958.5 1014.4L957.5 1016.6L956.5 1018.1L955.5 1014L954.5 1010.5L953.5 1013.5L952.5 1014.8L951.5 1014.7L950.5 1015.9L949.5 1017.7L948.5 1018.9L947.5 1018.6L946.5 1018.4L945.5 1019L944.5 1019.7L943.5 1019.2L942.5 1019.1L941.5 1021.1L940.5 1023.3L939.5 1024.3L938.5 1024.2L937.5 1023.4L936.5 1022.4L935.5 1022.1L934.5 1021.8L933.5 1022.4L932.5 1023.8L931.5 1024.1L930.5 1022.8L929.5 1022.2L928.5 1023.2L927.5 1021.4L926.5 1020.2L925.5 1020.7L924.5 1020.7L923.5 1021.9L922.5 1021.9L921.5 1020L920.5 1018.7L919.5 1018.7L918.5 1020.3L917.5 1020.6L916.5 1018L915.5 1018.7L914.5 1020.9L913.5 1022.6L912.5 1025.6L911.5 1025.2L910.5 1024.4L909.5 1023.3L908.5 1022L907.5 1021.7L906.5 1021.9L905.5 1021.8L904.5 1020.3L903.5 1022.1L902.5 1022L901.5 1019.7L900.5 1020.7L899.5 1022.6L898.5 1023.6L897.5 1023.8L896.5 1025L895.5 1026.5L894.5 1025.4L893.5 1023.3L892.5 1023.6L891.5 1023.4L890.5 1022.7L889.5 1023.5L888.5 1023.3L887.5 1023.2L886.5 1023.4L885.5 1022.7L884.5 1022.9L883.5 1022.1L882.5 1022.1L881.5 1025.7L880.5 1025.7L879.5 1024.2L878.5 1024.5L877.5 1025.1L876.5 1025.2L875.5 1026.1L874.5 1026L873.5 1023L872.5 1022.7L871.5 1024.9L870.5 1025L869.5 1023.1L868.5 1022.7L867.5 1023.7L866.5 1023.1L865.5 1021.8L864.5 1021.8L863.5 1021.6L862.5 1023.2L861.5 1024.1L860.5 1023.3L859.5 1024.2L858.5 1026.4L857.5 1027.4L856.5 1025.4L855.5 1023.6L854.5 1023.6L853.5 1024.8L852.5 1025.7L851.5 1026.3L850.5 1027.2L849.5 1028.3L848.5 1026.8L847.5 1025L846.5 1024.7L845.5 1024.7L844.5 1023.7L843.5 1022.6L842.5 1024.4L841.5 1025.2L840.5 1024L839.5 1024.6L838.5 1024.5L837.5 1023.6L836.5 1024.2L835.5 1025.6L834.5 1025.6L833.5 1024.2L832.5 1025.5L831.5 1026.1L830.5 1023.9L829.5 1023.3L828.5 1025.8L827.5 1025L826.5 1021.4L825.5 1020.7L824.5 1021.9L823.5 1023.1L822.5 1024L821.5 1024.8L820.5 1023.7L819.5 1022.4L818.5 1021.4L817.5 1021.6L816.5 1023.4L815.5 1022.2L814.5 1020.3L813.5 1018.8L812.5 1018.9L811.5 1020.5L810.5 1020.1L809.5 1020.2L808.5 1021.8L807.5 1021.8L806.5 1021.1L805.5 1022.5L804.5 1021.7L803.5 1021.6L802.5 1022.3L801.5 1022.1L800.5 1023.6L799.5 1022.3L798.5 1021.9L797.5 1023.7L796.5 1022.9L795.5 1023.8L794.5 1024.2L793.5 1023.5L792.5 1025L791.5 1025.9L790.5 1025.7L789.5 1026.7L788.5 1030.4L787.5 1032.1L786.5 1031.5L785.5 1030L784.5 1029.6L783.5 1028.3L782.5 1027.2L781.5 1027.3L780.5 1027.3L779.5 1024.5L778.5 1023.7L777.5 1023.8L776.5 1024.8L775.5 1027L774.5 1029.4L773.5 1030L772.5 1030.9L771.5 1031.1L770.5 1031.2L769.5 1031.4L768.5 1030.9L767.5 1030.5L766.5 1030.9L765.5 1031.6L764.5 1031.9L763.5 1032.2L762.5 1032.3L761.5 1031.9L760.5 1032.8L759.5 1033.7L758.5 1032.6L757.5 1032.8L756.5 1032.8L755.5 1031.9L754.5 1032.8L753.5 1033.5L752.5 1032.3L751.5 1032.3L750.5 1033.3L749.5 1033.1L748.5 1032.3L747.5 1031.5L746.5 1032.2L745.5 1033.4L744.5 1033.4L743.5 1032.6L742.5 1031.8L741.5 1032.6L740.5 1032.8L739.5 1032.5L738.5 1033.1L737.5 1032.3L736.5 1032.3L735.5 1032.6L734.5 1033.2L733.5 1034.2L732.5 1034.1L731.5 1032.5L730.5 1032L729.5 1032.7L728.5 1032.3L727.5 1033.1L726.5 1033.7L725.5 1033.2L724.5 1034.4L723.5 1034.4L722.5 1033.5L721.5 1034L720.5 1034.2L719.5 1033.1L718.5 1031.8L717.5 1032.9L716.5 1033.5L715.5 1032.7L714.5 1032.5L713.5 1032.6L712.5 1032.3L711.5 1032.3L710.5 1032.5L709.5 1032.7L708.5 1033L707.5 1033.3L706.5 1033.8L705.5 1034.2L704.5 1033.4L703.5 1033.7L702.5 1033.8L701.5 1033.2L700.5 1033.6L699.5 1032.7L698.5 1032.5L697.5 1033.7L696.5 1033.8L695.5 1033.2L694.5 1032.8L693.5 1033.1L692.5 1032.2L691.5 1032.4L690.5 1033.7L689.5 1032.4L688.5 1032L687.5 1033L686.5 1033.7L685.5 1032.9L684.5 1032.5L683.5 1033.2L682.5 1033.2L681.5 1031.9L680.5 1031.3L679.5 1032.1L678.5 1032.7L677.5 1032.4L676.5 1031.9L675.5 1032.4L674.5 1032.9L673.5 1032.5L672.5 1031.2L671.5 1032.1L670.5 1032.9L669.5 1031.3L668.5 1030.3L667.5 1030.4L666.5 1031.3L665.5 1032.2L664.5 1032.1L663.5 1030.5L662.5 1030.1L661.5 1031.5L660.5 1031.5L659.5 1030.7L658.5 1031.7L657.5 1031.7L656.5 1032L655.5 1032.2L654.5 1031.5L653.5 1031.6L652.5 1030.7L651.5 1030L650.5 1031.2L649.5 1031.6L648.5 1031.7L647.5 1031.8L646.5 1032L645.5 1031.5L644.5 1029.6L643.5 1030.8L642.5 1031.5L641.5 1030.9L640.5 1030.2L639.5 1030L638.5 1031L637.5 1031L636.5 1031.1L635.5 1031.1L634.5 1030.6L633.5 1031.8L632.5 1031.7L631.5 1029.4L630.5 1030L629.5 1031.3L628.5 1030.2L627.5 1029.5L626.5 1030L625.5 1030L624.5 1030.6L623.5 1030.6L622.5 1030.2L621.5 1030.9L620.5 1031.1L619.5 1031.8L618.5 1031.3L617.5 1029.9L616.5 1029.5L615.5 1029.7L614.5 1028.9L613.5 1028.7L612.5 1030.2L611.5 1031.9L610.5 1031.9L609.5 1031.5L608.5 1031.3L607.5 1029.8L606.5 1028.7L605.5 1029.7L604.5 1029.7L603.5 1028.9L602.5 1028.2L601.5 1029.1L600.5 1029.9L599.5 1030.2L598.5 1030.2L597.5 1029.8L596.5 1030.2L595.5 1030.4L594.5 1030.5L593.5 1030.3L592.5 1030.9L591.5 1030.4L590.5 1029.1L589.5 1029.1L588.5 1029.8L587.5 1030.8L586.5 1031.4L585.5 1030.6L584.5 1030.1L583.5 1030.8L582.5 1030.6L581.5 1030.8L580.5 1031.2L579.5 1030.4L578.5 1030.4L577.5 1031.4L576.5 1031.4L575.5 1030L574.5 1029.1L573.5 1029.2L572.5 1029.5L571.5 1030.7L570.5 1031.1L569.5 1030.3L568.5 1030.2L567.5 1029.7L566.5 1028.7L565.5 1028.6L564.5 1028.7L563.5 1028.6L562.5 1029.9L561.5 1031.1L560.5 1030.9L559.5 1029.9L558.5 1029.7L557.5 1030L556.5 1028.9L555.5 1028.8L554.5 1028.6L553.5 1027.9L552.5 1028.1L551.5 1027.1L550.5 1026.7L549.5 1027.9L548.5 1028.6L547.5 1027.4L546.5 1024.8L545.5 1025.9L544.5 1027.6L543.5 1026.7L542.5 1025L541.5 1024.2L540.5 1026L539.5 1025.8L538.5 1024.7L537.5 1026L536.5 1025L535.5 1023.1L534.5 1022.9L533.5 1023.7L532.5 1023.4L531.5 1022.7L530.5 1023.2L529.5 1023.3L528.5 1023.3L527.5 1021.4L526.5 1021.1L525.5 1021.8L524.5 1021.6L523.5 1022.9L522.5 1022.3L521.5 1022.3L520.5 1022.1L519.5 1020.4L518.5 1020.9L517.5 1020.5L516.5 1021.8L515.5 1021.7L514.5 1019L513.5 1019.9L512.5 1022.3L511.5 1023.1L510.5 1022.5L509.5 1022.4L508.5 1023L507.5 1022.7L506.5 1021L505.5 1021L504.5 1022.6L503.5 1021.2L502.5 1020.4L501.5 1021L500.5 1021.9L499.5 1022L498.5 1023.4L497.5 1022.2L496.5 1018.8L495.5 1019.4L494.5 1021.3L493.5 1021.4L492.5 1021.5L491.5 1021.7L490.5 1020.1L489.5 1020.2L488.5 1019.9L487.5 1021.1L486.5 1021.9L485.5 1020.7L484.5 1020.9L483.5 1022.3L482.5 1022.4L481.5 1021.4L480.5 1020.6L479.5 1020L478.5 1019.6L477.5 1021.9L476.5 1024.2L475.5 1021.5L474.5 1022.1L473.5 1023.6L472.5 1021L471.5 1021.4L470.5 1024.1L469.5 1023.1L468.5 1021.6L467.5 1021.9L466.5 1022.3L465.5 1023.7L464.5 1025.5L463.5 1025.3L462.5 1023.9L461.5 1023.1L460.5 1022.6L459.5 1021.8L458.5 1021.1L457.5 1022.2L456.5 1023.9L455.5 1022.7L454.5 1021.4L453.5 1023.2L452.5 1024.2L451.5 1022.6L450.5 1021.7L449.5 1022.2L448.5 1021.9L447.5 1020L446.5 1020.2L445.5 1020.6L444.5 1020.4L443.5 1020.4L442.5 1019.3L441.5 1020.8L440.5 1022.2L439.5 1020.9L438.5 1020.6L437.5 1021.4L436.5 1020.9L435.5 1021.2L434.5 1023L433.5 1021.2L432.5 1019.1L431.5 1021.5L430.5 1022.4L429.5 1022.3L428.5 1023.1L427.5 1021.4L426.5 1018.3L425.5 1019.7L424.5 1021.1L423.5 1020L422.5 1020.9L421.5 1021.6L420.5 1019.5L419.5 1018.7L418.5 1021L417.5 1019.8L416.5 1019.4L415.5 1020.3L414.5 1018.1L413.5 1018.6L412.5 1021.7L411.5 1022.1L410.5 1022.5L409.5 1021.7L408.5 1020L407.5 1019.8L406.5 1019.3L405.5 1019.7L404.5 1019.8L403.5 1017.7L402.5 1017.9L401.5 1020.8L400.5 1022.6L399.5 1021L398.5 1021L397.5 1021.6L396.5 1019.7L395.5 1020.4L394.5 1021.2L393.5 1020.7L392.5 1020.1L391.5 1022.6L390.5 1023.1L389.5 1021.4L388.5 1021.5L387.5 1022.2L386.5 1023.4L385.5 1023.8L384.5 1024.5L383.5 1023.7L382.5 1022.5L381.5 1022.5L380.5 1023.2L379.5 1023.4L378.5 1022.9L377.5 1022.5L376.5 1023.8L375.5 1023.5L374.5 1022.8L373.5 1023.7L372.5 1024.3L371.5 1024.6L370.5 1024L369.5 1022.9L368.5 1022.1L367.5 1023L366.5 1021.7L365.5 1019.9L364.5 1020.4L363.5 1019.7L362.5 1019.3L361.5 1018.9L360.5 1018.3L359.5 1018.6L358.5 1018.5L357.5 1017.4L356.5 1017.5L355.5 1016.3L354.5 1017.4L353.5 1018.6L352.5 1017.5L351.5 1017.7L350.5 1016.5L349.5 1016.9L348.5 1016.7L347.5 1015.4L346.5 1015.1L345.5 1014.9L344.5 1015.9L343.5 1017.6L342.5 1018L341.5 1017L340.5 1016.1L339.5 1015.9L338.5 1014.9L337.5 1015.2L336.5 1017.5L335.5 1016L334.5 1014.5L333.5 1015.2L332.5 1016.5L331.5 1017.2L330.5 1017.4L329.5 1015.9L328.5 1015.2L327.5 1016.5L326.5 1016.7L325.5 1015.6L324.5 1014.6L323.5 1015.4L322.5 1015.4L321.5 1015.1L320.5 1017.5L319.5 1016.7L318.5 1014L317.5 1015.2L316.5 1017.2L315.5 1017.5L314.5 1016.9L313.5 1017.8L312.5 1015.8L311.5 1016.1L310.5 1017.9L309.5 1016.2L308.5 1015.2L307.5 1016.1L306.5 1018L305.5 1015.2L304.5 1014L303.5 1015.6L302.5 1014.8L301.5 1015.2L300.5 1016.9L299.5 1017.1L298.5 1016.7L297.5 1017.1L296.5 1016.4L295.5 1014.9L294.5 1015.3L293.5 1017.1L292.5 1016.6L291.5 1015.6L290.5 1016.7L289.5 1016.8L288.5 1016.8L287.5 1017.6L286.5 1018.2L285.5 1017.8L284.5 1019.2L283.5 1020L282.5 1019.4L281.5 1019.4L280.5 1016.6L279.5 1017.9L278.5 1020L277.5 1018.9L276.5 1019.4L275.5 1018.6L274.5 1017.3L273.5 1018.4L272.5 1018.8L271.5 1017.9L270.5 1018.7L269.5 1019.2L268.5 1018.9L267.5 1018.4L266.5 1017.1L265.5 1015.4L264.5 1015.9L263.5 1017.4L262.5 1014.9L261.5 1014.7L260.5 1016.4L259.5 1016.3L258.5 1016.5L257.5 1015.8L256.5 1014.6L255.5 1014.4L254.5 1015.5L253.5 1015.6L252.5 1012.7L251.5 1011.3L250.5 1013.3L249.5 1014.3L248.5 1014.3L247.5 1014.9L246.5 1015.2L245.5 1014.8L244.5 1016.2L243.5 1014.6L242.5 1012.4L241.5 1013L240.5 1013.3L239.5 1013.9L238.5 1014.6L237.5 1014.5L236.5 1013L235.5 1013.2L234.5 1014L233.5 1013.6L232.5 1013.7L231.5 1013L230.5 1012.7L229.5 1013.4L228.5 1013.3L227.5 1012.9L226.5 1013.7L225.5 1014L224.5 1013.6L223.5 1013.1L222.5 1012.9L221.5 1013.6L220.5 1015.8L219.5 1015.3L218.5 1013.9L217.5 1013.7L216.5 1012.8L215.5 1013.9L214.5 1015.5L213.5 1015.3L212.5 1014.4L211.5 1013.3L210.5 1013L209.5 1012.9L208.5 1011.5L207.5 1012.4L206.5 1013.1L205.5 1013.3L204.5 1014.1L203.5 1012.5L202.5 1014.2L201.5 1015.2L200.5 1014.1L199.5 1014.5L198.5 1013L197.5 1011.7L196.5 1012.6L195.5 1012.4L194.5 1013.5L193.5 1015.1L192.5 1013.1L191.5 1011.9L190.5 1010.8L189.5 1009.9L188.5 1010.3L187.5 1008.7L186.5 1008.1L185.5 1011.7L184.5 1011.5L183.5 1007.9L182.5 1007.6L181.5 1008L180.5 1007.8L179.5 1008.6L178.5 1009.2L177.5 1009.4L176.5 1009L175.5 1009.4L174.5 1011.6L173.5 1010.8L172.5 1009.6L171.5 1010.1L170.5 1009.5L169.5 1008.6L168.5 1010.3L167.5 1010.4L166.5 1010.3L165.5 1010.7L164.5 1011.7L163.5 1012.7L162.5 1009.8L161.5 1009.9L160.5 1012.1L159.5 1011.9L158.5 1012.3L157.5 1012.8L156.5 1012.1L155.5 1012.7L154.5 1015.5L153.5 1015.7L152.5 1015.7L151.5 1016.9L150.5 1016.6L149.5 1017.4L148.5 1017.5L147.5 1018L146.5 1019.7L145.5 1020.4L144.5 1020.6L143.5 1020.9L142.5 1021.1L141.5 1021.6L140.5 1020.2L139.5 1021.4L138.5 1021.4L137.5 1020.2L136.5 1023.1L135.5 1022.1L134.5 1020.3L133.5 1020.8L132.5 1021.4L131.5 1020.4L130.5 1020.6L129.5 1020.8L128.5 1021.4L127.5 1022.1L126.5 1020.6L125.5 1022.2L124.5 1022.2L123.5 1021.6L122.5 1021L121.5 1019.3L120.5 1019.1L119.5 1019.1L118.5 1019.2L117.5 1018.6L116.5 1020Z" fill="#1f77b4"/>
<path d="M115.7 968.1h0m0.1 -13.6h0m0 3h0m0.2 3.3h0m0.1 10.1h0m0 5.4h0m0 3.6h0m0.8 47.1h0m0.3 -5.6h0m0 3h0m0.1 -6h0m0.3 1.9h0m0.2 -50h0m0.6 -16.3h0m0.1 22.7h0m0.1 -13.1h0m0.1 -6.6h0m0.6 68.9h0m0.5 -7.5h0m0 3h0m0.1 -108.8h0m0 55.8h0m0.1 -61.7h0m0.2 49.9h0m0.1 3.6h0m0 4.2h0m0.2 -28h0m0.2 -16.7h0m0 20.4h0m0 4.4h0m0.1 8.3h0m0.4 -27.5h0m0 38.4h0m0.1 -13.9h0m0.2 -14.2h0m0 10.3h0m0.1 10.5h0m0 65.4h0m0.1 -68.8h0m0.1 -12.8h0m0 2.5h0m0 7.8h0m0 68.1h0m0.3 -88.3h0m1 1.4h0m0 3.6h0m0.1 42.5h0m0.3 -39h0m0.1 87.3h0m0.1 -78.3h0m0.1 -6h0m0 76.8h0m0.1 -90.1h0m0 25.3h0m0 9.8h0m0 4.2h0m0 7.4h0m0.1 -2.4h0m0.1 2.9h0m0 2.4h0m0.3 -17.5h0m0 61.3h0m0 5.1h0m0.1 -8.8h0m0.1 -49.8h0m0.1 -15.9h0m0.1 70h0m1.4 -53.3h0m0 48.5h0m0.1 -59.5h0m0 17.5h0m0.1 -21h0m0 67.1h0m0 4.4h0m0.3 2.6h0m0.1 -83.1h0m0 16.5h0m0 4.1h0m0.1 6.3h0m0 5.9h0m0.1 -37.3h0m0.6 78.4h0m0.1 2.7h0m0.2 -85.6h0m0 21.3h0m0 18.6h0m0.1 -52.3h0m0.2 27.4h0m0 73.6h0m0.1 -108.1h0m0.1 25.5h0m0 21.7h0m0.1 -31.7h0m0.1 6.9h0m0 14.7h0m0.1 -25.6h0m0.1 43.6h0m0.7 46.4h0m0.4 3.2h0m0.4 -92.2h0m0.3 -8h0m0 23.8h0m0.1 -39.7h0m0 14h0m0.1 33.3h0m0 4h0m0 4.3h0m0.1 -35.1h0m0.2 8.4h0m0 5.4h0m0.1 -17.6h0m0.4 -4.6h0m0 29.7h0m0.2 -35.6h0m0 106.6h0m0.1 3.2h0m0.1 2.6h0m0.1 -79.2h0m0.1 -14.9h0m0 20.7h0m0.1 -8.7h0m0.2 28.1h0m0.3 -17h0m0.9 -17.6h0m0 85h0m0.1 -65.6h0m0 7.6h0m0.2 8.8h0m0.1 -31.6h0m0 7h0m0.2 29.2h0m0 2.8h0m0 45.8h0m0.1 -75.2h0m0.1 14.7h0m0 8.9h0m0.2 -3.1h0m0.2 49h0m0.1 -79.1h0m0 20.7h0m0 6.1h0m0.1 57.7h0m0.1 -80.9h0m0.1 3.3h0m0 74.9h0m1.4 -79.1h0m0 18.9h0m0 7.5h0m0.2 -22.4h0m0 10.5h0m0 64.3h0m0.3 -71.4h0m0.1 68.3h0m0.2 -53.2h0m0.3 55.7h0m0.4 -80.1h0m0.2 77h0m0.1 -59.2h0m0 8.4h0m0.1 -14.8h0m0.2 10.5h0m0.1 -7.3h0m0.8 10h0m0.2 -7.4h0m0.6 -4.4h0m0.1 -13.7h0m0 9.3h0m0 70.1h0m0.6 -63h0m0.1 6.2h0m0.2 -20.2h0m0.2 6.7h0m0.1 10.3h0m0.2 -6.2h0m0.1 75.5h0m0.1 -83.2h0m0.2 78.9h0m0.2 -4.6h0m0.6 -97.7h0m0 20.7h0m0 16.3h0m0.1 -33.7h0m0 94.1h0m0 7.4h0m0.1 -73.9h0m0.2 2.6h0m0.1 -27.2h0m0 20.7h0m0.1 -3.9h0m0 77.8h0m0.3 -84.4h0m0.3 2.1h0m0.2 -3.3h0m0.1 16.8h0m0.1 -2.7h0m0.2 -25.4h0m0 3.1h0m0.2 18.1h0m0.2 73h0m0.7 -71h0m0.1 -25.3h0m0.1 -6h0m0 9h0m0.1 -13.4h0m0 31.3h0m0.1 -13.4h0m0.1 -10.2h0m0 18h0m0.2 -32.4h0m0 34.9h0m0.7 79.2h0m0.2 -3.2h0m0.1 6.3h0m0.2 -2.1h0m0.6 -4.4h0m0.4 -114.5h0m0 39.2h0m0.1 -30.2h0m0 18.5h0m0 2.9h0m0.1 -27.9h0m0 2.8h0m0 18.8h0m0.4 10.5h0m0.5 -37h0m0.1 -11h0m0 13.6h0m0 29.7h0m0 2.8h0m0.2 -29.4h0m0 118.9h0m0.2 -128.8h0m0 2.7h0m0.2 -16.4h0m0 9.3h0m0 37.6h0m0.1 -7.6h0m0 3.1h0m0 92.8h0m0.1 -131.2h0m0 20.3h0m0 108.4h0m0.1 -142.1h0m0.9 12.9h0m0.2 50.4h0m0 83.3h0m0.1 -140.5h0m0 137.5h0m0.1 -124.7h0m0 39.9h0m0.4 -19.6h0m0 15.8h0m0.1 -7.7h0m0.2 90.9h0m0.6 2.9h0m0 4.4h0m0.4 -84.2h0m0.1 -6.9h0m0.2 2.9h0m0.4 -27h0m0.1 14h0m0 6.5h0m0.1 -9.9h0m0.2 97.9h0m0 6.9h0m0.2 -111.5h0m0.1 107.5h0m0.1 -86.1h0m0.2 -24.3h0m0 9.1h0m0 11.3h0m0.5 7.2h0m0.1 -16h0m0.1 11.2h0m0 3.1h0m0.3 -29.4h0m0 12.1h0m0.3 -5.8h0m0.1 -9.7h0m0 12.2h0m0.3 105.2h0m0.2 -4.4h0m1.2 -1h0m0 10.6h0m0.3 -102.4h0m0.1 -8h0m0.2 15.4h0m0.1 88.7h0m0.2 -100.1h0m0.2 14.5h0m0.1 -6.3h0m0 4.5h0m0.1 -8.9h0m0.1 91.9h0m0.1 -89.1h0m0.2 100.8h0m0.1 -110.7h0m0.2 -2.9h0m0.1 109.2h0m0.1 -3.5h0m1.1 -104.7h0m0 17.9h0m0.1 -33.1h0m0 121.6h0m0.1 -125h0m0 21.1h0m0.1 -14.8h0m0 7.8h0m0.1 18.7h0m0.4 -62.8h0m0.1 151.2h0m0 7.6h0m0.3 -152.3h0m0.1 -21.2h0m0.2 167.6h0m0.4 -141.3h0m0 17.5h0m0 121.2h0m0.1 -115.7h0m0 1.8h0m0.1 -3.3h0m0.2 -41.3h0m0 4.5h0m0.1 22.6h0m0 9.7h0m0 24.9h0m0 9.4h0m0.3 -84.7h0m0 30.3h0m0 8.6h0m0 6h0m0 26.6h0m0.1 9.3h0m0.1 -47.2h0m0 34.6h0m0 9.9h0m0.5 94h0m0.2 4.4h0m0.3 -147.6h0m0 6.9h0m0 37.4h0m0.1 -41.3h0m0.1 37.1h0m0.1 -12h0m0 23.2h0m0.1 -4.2h0m0.1 -36.4h0m0 44.2h0m0.1 -34.8h0m0.7 28.5h0m0.1 -36.5h0m0 2.6h0m0 3.2h0m0 130.4h0m0.5 -116.8h0m0 112.4h0m0.1 -92.8h0m0.1 -42.8h0m0 26.4h0m0.1 -14.4h0m0.3 17h0m0.1 -13.2h0m0 16.6h0m0.4 4.4h0m0 2.9h0m0.1 -13.2h0m0.1 -2.7h0m0.2 111.2h0m0 2.5h0m0.2 2.5h0m0.9 -120.1h0m0.2 -6.3h0m0 21.8h0m0.2 -18.9h0m0.1 6h0m0 2.7h0m0.2 109.4h0m0.1 -102.1h0m0.8 -2.5h0m0.1 -21.3h0m0.1 -7.8h0m0 4.6h0m0 6.7h0m0 9.8h0m0.1 113.7h0m0.1 -3.7h0m0.2 -117.1h0m0.2 -17.7h0m0 141.5h0m0.1 -105.4h0m0.5 -29.1h0m0.1 -22.8h0m0 19.5h0m0.1 -3.9h0m0.3 16.9h0m0 15.2h0m0.1 -7.6h0m0.2 -32.8h0m0 145.5h0m0.1 -140.5h0m0 13.6h0m0 10.2h0m0 7.3h0m0 112.8h0m0.1 -147.8h0m0.1 9.7h0m0.1 -6.6h0m0.3 24.7h0m0.1 -42.3h0m0 21.1h0m0 12.3h0m0 15.4h0m0.3 -18.3h0m0.1 9.3h0m0 11.5h0m0.2 111.4h0m0.8 -3.8h0m0.7 -152.1h0m0.2 50h0m0.1 -24.5h0m0.1 127.8h0m0.2 -110.7h0m0.1 2.9h0m0.2 104.4h0m0.1 -121.3h0m0.4 21.2h0m0.2 -15.8h0m0.1 -10.7h0m0 23.6h0m0.1 -3.6h0m0.1 -5.6h0m0 16.5h0m0.6 98.9h0m0.2 -3h0m0.5 0.7h0m0.2 2.8h0m0.1 -106.4h0m0.1 -19.6h0m0.3 10.1h0m0.1 15.8h0m0.2 -3.5h0m0.1 -18.5h0m0 12.5h0m0 11.9h0m0.1 -21.6h0m0.6 -19.5h0m0 38.2h0m0.1 -20.4h0m0 24.3h0m0.1 -15.5h0m0.1 19h0m0.1 -11.5h0m0.1 -55.7h0m0 14.1h0m0.1 -33.1h0m0.1 12.3h0m0.1 58.2h0m0.1 -25.6h0m0 3.4h0m0.1 126h0m0.2 3.9h0m0.2 -146.5h0m0 22.5h0m0 17.6h0m0.1 -55.1h0m0 40.7h0m0 17.1h0m0.1 6.5h0m0 3.3h0m0.1 -72h0m0 41h0m0.1 -15.3h0m0 1.9h0m0 3.7h0m0 0.6h0m0.1 -16.6h0m0 22.9h0m0 10.7h0m0.3 -36.9h0m0 13.2h0m0.1 30.5h0m0.2 -63h0m0.1 171.9h0m0.6 -117.5h0m0.1 18.1h0m0.1 -15.4h0m0 117.6h0m0.2 -128h0m0 23.2h0m0.2 100.8h0m0 10.1h0m0.1 -139.5h0m0.1 11.8h0m0 10.6h0m0.1 -14.4h0m0.1 17.4h0m1.1 -34.4h0m0 16.3h0m0.1 -24.2h0m0.2 12.1h0m0 18.5h0m0.2 -3.7h0m0.1 -12.1h0m0 22.6h0m0 2.8h0m0.1 -35.8h0m0.1 17.3h0m0.2 133.6h0m0.2 -6.3h0m0.2 2.7h0m0.8 -116.6h0m0.1 118.1h0m0.1 -137.4h0m0 4h0m0 130.2h0m0.3 -158h0m0.1 17.4h0m0 19.6h0m0.1 -30.6h0m0 14h0m0.1 -10.5h0m0 23.5h0m0 6.4h0m0.5 -39h0m0.3 6.8h0m0 16.6h0m0 4h0m0.1 -31.9h0m0.2 40.5h0m0 122h0m0 4.5h0m0.1 -153h0m0.1 -5.9h0m0.6 153.2h0m0 5.9h0m0.1 -166.7h0m0.4 36.6h0m0.1 -9.3h0m0 136h0m0.1 -194.5h0m0.1 64.9h0m0 5.7h0m0.1 -46.7h0m0 23.9h0m0.1 -15.4h0m0 11.2h0m0 18h0m0.1 -22.2h0m0 160h0m0.2 -143.6h0m0.1 -3.9h0m0.1 -33.3h0m0 177.3h0m0.3 -140.4h0m0 12.8h0m0.1 -24.4h0m0 148.5h0m0 9.5h0m0.1 -189.8h0m0.1 39.2h0m0.1 -46.9h0m0 43.8h0m0 22.6h0m0.2 -36.1h0m0.2 6.3h0m0.2 154.3h0m1.3 -143.5h0m0.2 -14.5h0m0.1 33h0m0.2 -27.3h0m0 4.4h0m0.4 20.4h0m0.4 -3.9h0m0.1 -47.4h0m0.1 18.6h0m0.1 13.2h0m0.1 -27.9h0m0 6.3h0m0.1 170.1h0m0.1 -152.4h0m0.1 7.7h0m0.1 15.7h0m0.1 -43.9h0m0.3 179h0m0.2 -9.6h0m0.2 2.4h0m0 3.7h0m0.4 -151.8h0m0.1 10.9h0m0.1 -14.6h0m0 11.8h0m0 8.7h0m0.2 -24h0m0.1 27.4h0m0.4 -43.4h0m0 10.7h0m0 30.8h0m0.1 -24.5h0m0.3 -5.4h0m0.3 8.9h0m0 10.1h0m0 15.2h0m0.1 -7.2h0m0.1 -41.6h0m0 6.7h0m0 10.3h0m0 157.8h0m0.1 -137h0m0.3 -12h0m0.1 3.4h0m0 17.8h0m0.3 125.1h0m0.1 -132.8h0m0.3 -7.6h0m1 142h0m0.4 5.5h0m0 3.7h0m0.2 -154.8h0m0 146.6h0m0.2 -132.9h0m0 5.7h0m0.3 -22.8h0m0.1 -2.9h0m0 17.5h0m0.2 -7.4h0m0.7 6.9h0m0.1 -21.1h0m0.2 10.5h0m0 17.9h0m0.1 -32.1h0m0.1 36.2h0m0 122.7h0m0.2 -162.9h0m0 15.1h0m0.1 -18.3h0m1.2 170.1h0m0.2 -151.9h0m0 9.9h0m0 3.6h0m0.2 -10.1h0m0 14.1h0m0 10.9h0m0.1 -3.3h0m0.1 -3h0m0 126.7h0m0.1 -152.7h0m0.7 155.7h0m0.2 -3.2h0m0.3 -145.9h0m0.2 11.3h0m0.1 8.6h0m0.1 -27.2h0m0 30h0m0.1 -38.8h0m0.1 42.2h0m0.1 -38.9h0m0.3 30.6h0m0 10.4h0m0.3 116.6h0m0.2 -140.1h0m0 20.3h0m0.1 -17.1h0m0.1 12.9h0m0.1 -19.3h0m0.2 146.3h0m0.8 -147.8h0m0.2 3.7h0m0.3 25.2h0m0.1 -19.1h0m0.1 136.6h0m0.1 -132.8h0m0 4h0m0.1 3.1h0m0.1 129.6h0m0.3 -122.3h0m0 126.7h0m0.1 -150h0m0 14.3h0m0 6.4h0m0.2 118.4h0m0.1 -164h0m0 30.5h0m0 141.6h0m0.4 -166.1h0m0 27.2h0m0 3.5h0m0.1 -22.2h0m0 13.3h0m0.3 138.2h0m0.1 -184.5h0m0.3 13.9h0m0.7 -17.7h0m0.2 42h0m0.1 -32.6h0m0.2 32.4h0m0 6.8h0m0 21.4h0m0.3 123.2h0m0.1 -160.1h0m0 27.1h0m0.4 -14.4h0m0 20.2h0m0.2 131.2h0m0.1 -7h0m0.2 -128.8h0m0.1 -27.8h0m0.3 20.3h0m0.2 19.6h0m0.1 -2.7h0m0 124.5h0m0.1 -6.6h0m0.2 2.9h0m0.4 -131.4h0m0 15.2h0m0.2 -18.6h0m0.2 5.9h0m0.1 -23.9h0m0 27.8h0m0 4.4h0m0.1 -18.4h0m0.2 142.3h0m0.1 -4.6h0m0.7 -120.4h0m0.2 -25.7h0m0 15.3h0m0 7h0m0.1 7.3h0m0.2 -22.9h0m0.2 5.5h0m0 137.9h0m0.1 -140.4h0m0.1 -5.5h0m0 14.8h0m0.2 127.9h0m0.1 -4.3h0m1 4.4h0m0.3 -146.3h0m0 2.7h0m0 16.9h0m0.3 133h0m0.1 -10.8h0m0.1 -134.7h0m0 5.8h0m0 18.9h0m0.1 -34.5h0m0 31.2h0m0.4 -4.2h0m0.1 -2.9h0m0.3 -8h0m0.1 15.2h0m0 3.3h0m0.1 -25.3h0m0.1 -7.1h0m0 147.6h0m0.2 -3.2h0m0.8 -1.1h0m0.7 -161.4h0m0 36.1h0m0.1 -32.6h0m0.1 -22.3h0m0.1 50.4h0m0.1 -22.1h0m0 38.7h0m0.1 -63.2h0m0.1 39.4h0m0 14.3h0m0.1 -32.7h0m0 36.4h0m0.2 -25.9h0m0 148.9h0m0.1 -168.2h0m0.1 2.3h0m0 162.8h0m0.3 6.8h0m0.1 -193.5h0m0 64.9h0m0.2 -30.2h0m0.1 -4.4h0m0.1 11.9h0m0.1 29.1h0m0.1 -3h0m0.1 -21.5h0m0 28.7h0m0.1 -17.4h0m0.4 11.7h0m0.1 -18.5h0m0.1 -7.2h0m0 33.1h0m0.1 -109.5h0m0 11h0m0 49.4h0m0 33.4h0m0.1 -56.9h0m0.1 43.9h0m0.1 7h0m0.1 -17.6h0m0.1 28.1h0m0.1 -30.1h0m0.2 152.1h0m0.2 -140.9h0m0.3 -27.3h0m0 172.6h0m0 3.9h0m0.4 -188.1h0m0.1 5.4h0m0 25.6h0m0 32.3h0m0.1 -81.3h0m0 34.7h0m0.1 -26.2h0m0 81h0m0 111.4h0m0.1 -196.9h0m0.1 49.2h0m0 4.2h0m0 137.8h0m0.1 -127.7h0m0 130.4h0m0.1 -132.9h0m0.1 -39.3h0m0 16.2h0m0 18.6h0m0 10.7h0m0 7.5h0m0.1 -67.2h0m0 193.5h0m0.1 -131.9h0m0.5 11.5h0m0 3.1h0m0 3.1h0m0.1 112.3h0m0.2 -142.5h0m0.2 17.1h0m0 121h0m0.8 -118.2h0m0 3.1h0m0.8 -12.6h0m0 124.9h0m0.2 -103h0m0.4 107h0m0.1 2.6h0m1 -4.4h0m0.1 -111.1h0m0 10.9h0m0.1 -4.4h0m0.1 -17.4h0m0 2.8h0m0.3 3.8h0m0.3 122.2h0m0.7 -142.1h0m0.1 39h0m0 93.9h0m0.1 -117.6h0m0 20.1h0m0 103.9h0m0.2 -134.4h0m0 15h0m0.1 -17.4h0m0 40.2h0m0 92.8h0m0.1 -127h0m0.2 20.3h0m0 4.2h0m0.9 0.7h0m0 100.8h0m0.1 -117.4h0m0 114.3h0m0.1 -107.8h0m0.1 6.4h0m0.1 -3.2h0m0.2 -13.8h0m0.1 32.8h0m0.2 -8.3h0m0.5 6.5h0m0.4 -20.6h0m0 3.2h0m0.2 3.9h0m0 19.2h0m0.1 -10.2h0m0.1 -41.7h0m0.4 136.2h0m0 5h0m0.3 -7.4h0m0.1 -146.3h0m0 7.3h0m0.2 142.1h0m0.1 -127.4h0m0 22.6h0m0.1 5.7h0m0.2 -2.9h0m0 22.1h0m0.1 -2.5h0m0.1 -23.7h0m0 9.8h0m0.1 19.5h0m0.2 -30.6h0m0.6 19.2h0m0.2 -33.9h0m0 1.3h0m0 11h0m0 35.1h0m0.1 -6.9h0m0.1 -31.6h0m0 12.7h0m0.1 4.2h0m0 4.3h0m0 14.1h0m0.2 -38.8h0m0.3 118.4h0m0.1 -2.7h0m0.6 3.8h0m0.1 -4.1h0m0.5 -80.6h0m0.3 -32.7h0m0 14.4h0m0 7h0m0 7.2h0m0 11.1h0m0.1 -36.4h0m0.1 7.8h0m0.1 -4.6h0m0 29.4h0m0.2 75.4h0m0.3 3.7h0m0.2 -100.5h0m0 6.5h0m0.1 14.3h0m0 87h0m0.1 -77.5h0m0.1 -20.3h0m0 8.3h0m0 85h0m0.1 -79.8h0m0.9 7.7h0m0.1 -34.4h0m0.3 7.8h0m0 17.1h0m0 2.8h0m0.1 -16.7h0m0.2 26h0m0.1 -32.7h0m0.5 98.5h0m0.6 -67.5h0m0.2 67.5h0m0.1 -89.1h0m0 18.7h0m0.2 -6.9h0m0.1 -3.3h0m0 7.4h0m0.3 9.3h0m0.8 64.3h0m0.4 7.4h0m0.3 -4h0m0.1 -70.4h0m0.4 -19.9h0m0 22.8h0m0.3 -21.9h0m0 0.5h0m0 7.3h0m0.1 17.7h0m0.1 -21.1h0m0.1 -9.7h0m0.1 17.1h0m0 3.1h0m0 4h0m0.2 6.8h0m0.1 -3.6h0m0.1 -34h0m0.3 104.3h0m0.4 -3.4h0m0.2 -3.8h0m0.9 -1.7h0m0.2 -94.5h0m0 2.6h0m0 96.4h0m0.1 -72.1h0m0.2 -13.2h0m0 18.7h0m0 4.2h0m0.3 -6.6h0m0.2 -9.5h0m0.1 3.7h0m0.1 75.4h0m0.2 3.5h0m0.1 -7.4h0m0.1 -79.5h0m0.1 6.8h0m0 3.3h0m0 13.7h0m0.1 -27.2h0m0.1 17.4h0m0 2.9h0m0.1 -27h0m0.2 31.2h0m0.1 -17.2h0m0.1 -10.9h0m0.2 6.5h0m0 21.1h0m0.1 58.5h0m0.2 -54.6h0m0.1 58.2h0m0.1 -66.7h0m0.2 -11h0m0.1 7.4h0m0.1 -59.4h0m0.1 -37.7h0m0 41.2h0m0.2 17.1h0m0.1 -36.2h0m0 59.6h0m0.1 -51.8h0m0 38.9h0m0.1 -66.2h0m0 22.9h0m0 2.4h0m0 19.1h0m0 26.8h0m0 3.8h0m0 9.4h0m0 3.6h0m0.1 -73.5h0m0 1.3h0m0 8.1h0m0 16.4h0m0 5.3h0m0 0.1h0m0 7.7h0m0 18.6h0m0 6.6h0m0 18.4h0m0 73.6h0m0.1 -171.8h0m0 51.7h0m0 8.5h0m0 4.1h0m0.1 -67.3h0m0 11.6h0m0 3.3h0m0 34.5h0m0 6.2h0m0 5.8h0m0 0.2h0m0 10.9h0m0 13.7h0m0.1 -89.5h0m0 19.7h0m0 12.8h0m0 8.2h0m0 14.9h0m0 18.8h0m0 3.2h0m0 0.3h0m0 3.9h0m0 31.7h0m0 58.3h0m0.1 -153h0m0 8h0m0 12.6h0m0 5.8h0m0 3.9h0m0 0.2h0m0 0.3h0m0 19.3h0m0 17.3h0m0.1 -91h0m0 15h0m0 3.1h0m0 9.5h0m0 21.6h0m0 45.1h0m0.1 -62.1h0m0 9.9h0m0 4.8h0m0 14.5h0m0 4.6h0m0 22.6h0m0 3.7h0m0.1 -107.4h0m0 50.1h0m0 3.3h0m0 11.6h0m0 10.9h0m0 12.1h0m0 32h0m0 8.9h0m0.1 -71.7h0m0 2.9h0m0 42.1h0m0.1 -57.5h0m0 5.5h0m0 38.8h0m0.1 -41.1h0m0 45h0m0.1 -62.1h0m0.2 62.4h0m0.1 -47.6h0m0 6.9h0m0 11.4h0m0 4.2h0m0 7.3h0m0.1 -63h0m0 2.7h0m0 87.5h0m0.1 -68.2h0m0.1 25.7h0m0 12.1h0m0.2 33.5h0m0.1 -78.4h0m0 17.2h0m0 11.8h0m0.1 -10.3h0m0 2.3h0m0 4h0m0 4.6h0m0 52.5h0m0.1 -88.8h0m0 28.1h0m0 38.5h0m0.1 -75h0m0 2.6h0m0 7.3h0m0 19.4h0m0 22.3h0m0 25.5h0m0 8.6h0m0.1 -79.9h0m0 62.1h0m0 3.9h0m0 2.7h0m0.1 -55.7h0m0 5.9h0m0 31.7h0m0 16.4h0m0 4.2h0m0.1 -83.7h0m0 24h0m0 21.2h0m0 24.4h0m0 115.1h0m0 2.7h0m0.1 -95.6h0m0 12.5h0m0 4.3h0m0.1 -73.8h0m0 4.7h0m0 26.4h0m0 7.1h0m0.1 -73.5h0m0 89.5h0m0 5.7h0m0 17.1h0m0 10.8h0m0 6.5h0m0.1 -50.5h0m0.1 -76h0m0 17.2h0m0 34.7h0m0 17.6h0m0 3.7h0m0 0.6h0m0 22.2h0m0 2.7h0m0 2.6h0m0.1 -76.3h0m0 6.7h0m0 15.1h0m0 3.9h0m0 14.6h0m0 20.3h0m0.1 -38.1h0m0 36h0m0 7.6h0m0 31.9h0m0 64.4h0m0.1 -133.1h0m0 6.9h0m0 55.1h0m0.1 -59h0m0 41.5h0m0.8 -1.5h0m0.1 -6.9h0m0 3.3h0m0 8.6h0m0.2 -2.4h0m0 83h0m0.1 3.9h0m0.4 -91.3h0m0 17.1h0m0 4.2h0m0 7.2h0m0 7.5h0m0.2 -15.7h0m0.2 -14.4h0m0.1 7.3h0m0 3h0m0 15.9h0m0.1 -23.3h0m0 14.3h0m0 5.9h0m0.1 61.7h0m0.2 -2.7h0m1.1 9.9h0m0.1 -7.1h0m0.3 -3.6h0m0.1 -73.5h0m0.1 26.5h0m0.1 -22.6h0m0.1 28.9h0m0.3 -20.4h0m0 6.8h0m0 3.2h0m0.1 -29.9h0m0.1 22.7h0m0 62.7h0m0 2.9h0m0.1 -90.8h0m0 18.1h0m0 21.3h0m0.6 44.7h0m0.7 -38.3h0m0.1 -18.7h0m0.1 14.4h0m0.1 7.5h0m0.2 -17.3h0m0.9 54.9h0m0.1 4.3h0m0.1 4.2h0m0.1 -58.7h0m0.1 -10.9h0m0.3 -3.4h0m0 25.9h0m0.1 -19.8h0m0 11.3h0m0.1 -6.9h0m0 18.3h0m0.1 -7.3h0m0.2 -6.7h0m0 52.4h0m0.1 -59.1h0m0.3 -2.6h0m0 58.4h0m0.2 -35.5h0m0.4 38h0m0.2 -39.7h0m0.1 -17.3h0m0.4 -3h0m0.2 56.9h0m0.1 -61.1h0m1.7 5.6h0m0 58.9h0m0.3 -56.2h0m0.2 53.2h0m0 11.2h0m0.1 -46.7h0m0.3 -6.9h0m0 2.7h0m0.3 -16.8h0m0 7.7h0m0.1 -14.6h0m0.1 11.1h0m0.5 13.6h0m0 41.5h0m0 2.7h0m0.1 -40.7h0m0.1 34.9h0m1.4 -63.4h0m0 21.1h0m0 6.1h0m0 37.7h0m0.4 -67.9h0m0.1 7.2h0m0 10.1h0m0 54.5h0m0.3 -61h0m0.1 16.9h0m0.1 41.9h0m0 5.3h0m0.5 -63.3h0m0 10.4h0m0.3 55.1h0m0.1 -69.8h0m0.1 22.3h0m0.1 -4.4h0m1 3h0m0.3 40.8h0m0.1 -37.9h0m0.3 -5.9h0m0.1 -25.8h0m0.1 17.7h0m0.9 -26h0m0 31.2h0m0 49.7h0m0.1 -72.3h0m0.1 3.9h0m0 4h0m0 11.6h0m0 9.5h0m0 40.6h0m0.1 -43.2h0m0.2 -14.5h0m0.1 55.1h0m0.1 8.7h0m0.5 1.3h0m0.3 -11.6h0m0.1 7h0m0.1 -2.9h0m0.3 -53.1h0m0 7.6h0m0.3 -26h0m0.1 -2.8h0m0 10.2h0m0 21h0m0.1 -14.3h0m0.2 9.5h0m0 4.4h0m0.1 -18h0m0.1 -7.1h0m0 2.7h0m0.4 13.4h0m0.3 -9.8h0m0 2.8h0m0.2 58.7h0m0.3 3.6h0m0.2 -7.3h0m0.1 -56.7h0m0.1 -20h0m0.1 35h0m0.1 -10.5h0m0.1 6.6h0m0 47h0m0.3 -60.9h0m0 11.3h0m1.6 -19h0m0.1 17.3h0m0 59.3h0m0.4 -68.3h0m0 2.8h0m0 55h0m0.1 -45.5h0m0.2 49.4h0m0.1 -87.8h0m0 15.2h0m0 10.2h0m0 10h0m0 55.2h0m0.1 -94.8h0m0 21.7h0m0 15h0m0.2 -44.2h0m0 24.6h0m0.2 -20.3h0m0.2 28.7h0m1 63.6h0m0.3 3.5h0m0.1 -108.9h0m0.6 17.6h0m0.1 -29.3h0m0.1 35.6h0m0 7.9h0m0 15.4h0m0 58.4h0m0.1 2.8h0m0.3 -65.1h0m0.2 -4.5h0m0.1 -26.3h0m0 37.8h0m0.3 59.6h0m0.5 -83.6h0m0 80.3h0m0.1 -70.2h0m0.5 2.8h0m0.1 10.1h0m0 3.4h0m0.1 -15.4h0m0.1 6.5h0m0.1 -13.5h0m0.1 26.1h0m0.1 -9.4h0m0.2 -3.3h0m0 10h0m0.1 -27.1h0m0.2 13.1h0m0.5 65.7h0m0 4.4h0m0 5.7h0m0.1 -3.2h0m0.9 -6.8h0m0.1 -62.2h0m0.2 3.8h0m0.1 61.3h0m0.2 -55h0m0.1 -16.1h0m0.1 3.5h0m0.2 15.6h0m0.1 -12.8h0m0 66.6h0m0.1 -74.3h0m0 17h0m0.2 52.9h0m0.2 -92.2h0m0 11.4h0m0 3.2h0m0.1 4.4h0m0.3 17h0m0.1 -9.8h0m0 7.1h0m0.9 -13.7h0m0 3.4h0m0 75.5h0m0.2 -85.7h0m0.2 88.4h0m0.3 -6.7h0m0.1 -91.4h0m0 31.9h0m0.1 -25.1h0m0 5.5h0m0 11.7h0m0 64.3h0m1.4 -69.2h0m0.1 -9.4h0m0.2 79.1h0m0.1 -87.4h0m0 12.7h0m0 15.6h0m0.1 -2.7h0m0 72.6h0m0.1 -102.7h0m0 26.7h0m0.2 72.1h0m0.1 -101.7h0m0.4 29.8h0m0.1 -11.3h0m0.3 7h0m0 7.7h0m0 65.1h0m0.1 -82.8h0m0.5 20.9h0m0 57.3h0m0.3 8.9h0m0.8 -8.7h0m0.2 -54.2h0m0.2 -9.9h0m0.2 71.1h0m0.2 -64.2h0m0 13h0m0.3 2.4h0m0.2 8.5h0m0.2 -5.6h0m0.2 39.4h0m0.1 -51.9h0m0 9.7h0m0.1 5.5h0m0.4 -20.7h0m0.4 20.7h0m0.1 -3.3h0m0.1 8.9h0m0 32.2h0m0.1 -44.4h0m0.2 -3.9h0m0.1 51h0m0.9 -49.3h0m0 11.6h0m0 4.5h0m0.1 2.7h0m0.1 4.3h0m0.4 -13.9h0m0.1 -5.4h0m0.9 44.1h0m0.7 0.6h0m0.1 -51.1h0m0 21h0m0 33.5h0m0.1 -50.9h0m0.1 14.7h0m0.1 -8.5h0m0.2 14.9h0m0.1 -18.5h0m0.7 -13.7h0m0.1 62.8h0m0.1 -59.2h0m0.1 14.1h0m0 7.7h0m0.3 32h0m0.2 -35.3h0m0.1 37.8h0m1.1 -55.5h0m0.1 -8.7h0m0 26.7h0m0.1 -11h0m0.2 45.2h0m0.2 -56.7h0m0 63.9h0m0.1 -45.2h0m1 36.7h0m0.3 -55.5h0m0 15.8h0m0.1 -31.3h0m0 73.7h0m0.1 -49.6h0m0.2 4.5h0m0.3 -22.2h0m1.1 2h0m0 18.4h0m0.1 -21h0m0.1 10h0m0 3.5h0m0.1 3.2h0m0.1 -10.7h0m0.2 63.7h0m0.1 -73.9h0m0 70.1h0m0.4 -0.1h0m0.7 3.4h0m0.2 -73.7h0m0.1 22.7h0m0.2 -13.7h0m0.1 2.5h0m0.1 -8.6h0m0.1 72.6h0m0.2 -61.2h0m0.1 -29.1h0m0 87.2h0m0.1 -66.6h0m0 4.6h0m0 3.2h0m0 10.9h0m0.4 -28.7h0m0.1 3h0m0 2.4h0m0 19.9h0m0.1 -29h0m0.1 25.3h0m0.5 51.7h0m0.2 4h0m0.1 -50.7h0m0.4 -5.7h0m0.2 -5.4h0m0 2.7h0m0.1 5.6h0m0.2 -16.2h0m0 22.3h0m1.1 -31.6h0m0 32.8h0m0.5 -30.1h0m0 76.6h0m0.1 -70.7h0m0 20.7h0m0.1 -14.3h0m0 2.8h0m0 58.9h0m0.5 4.7h0m0.2 -2.9h0m0.4 -72.5h0m0 16.3h0m0 12.4h0m0.2 -8.1h0m0.1 -17.9h0m0 7.1h0m0 15.1h0m0 44.8h0m0.1 -56.8h0m1.1 -4.5h0m0.1 9.9h0m0 10.6h0m0 40.9h0m0.1 -57.4h0m0 12.3h0m0.2 -22.6h0m0.2 19.9h0m0.3 -16.1h0m0.5 65.6h0m0.1 -65h0m0 13.9h0m0 8.3h0m0 2.9h0m0.1 47.7h0m0.8 -61.5h0m0.8 55.4h0m0.4 -3.9h0m0.1 -51.1h0m0.2 -10.9h0m0 20.7h0m0.1 50.5h0m0.1 -74.1h0m0.1 28h0m0.2 -21.5h0m0.1 67.6h0m0.1 -47.7h0m0.1 -11.3h0m0 55.8h0m0.1 -59.9h0m0.1 -3.3h0m0 15h0m0.2 -3.2h0m0 45.6h0m0.1 -35.7h0m0.1 38.3h0m0.1 -63.5h0m1.8 15.5h0m0 11.5h0m0.3 38.8h0m0.1 -69.2h0m0 27.2h0m0.1 -18.4h0m0.1 -6.1h0m0 2.7h0m0 6.3h0m0.1 2.9h0m0 8.2h0m0.3 43.2h0m0.6 -50.1h0m0.1 13h0m0.1 -3h0m0.1 6.1h0m0.3 -9.4h0m0 42.7h0m0.1 -52.1h0m0.1 -4.5h0m0.1 59.8h0m0.1 -47.1h0m0.2 50.1h0m0.1 -59.1h0m0.1 12.1h0m0.1 -22.9h0m0 26.6h0m0.1 3.2h0m0.1 -12.8h0m0.1 -13.3h0m0.4 60h0m0 6.2h0m0.7 -3.8h0m0.5 -40.5h0m0.1 -3.3h0m0.2 -2.7h0m0 12.5h0m0.2 -15.6h0m0.1 48.8h0m0.1 -50.6h0m0.2 19.6h0m0.2 -7.1h0m0.5 -7.1h0m0 11.6h0m0.2 32.8h0m0.8 4.1h0m0.2 -3.7h0m1 -46.7h0m0 12.8h0m0.1 -9.8h0m0.2 3.1h0m0.1 -9.6h0m0 20.4h0m1 30.4h0m0.2 -51.6h0m0 15.1h0m0.1 3.2h0m0.4 35.1h0m0.1 -46.8h0m0.2 14.2h0m0.5 29.8h0m0.1 -28.3h0m0 34.3h0m0.4 -50.9h0m0.1 8h0m0 2.5h0m0.7 34.6h0m0.7 -35.5h0m0.3 -3.2h0m0 6h0m0.4 4h0m0 2.8h0m0.4 29.3h0m0.2 -2.5h0m0.1 7h0m0.4 -39.9h0m0.1 8.3h0m0.2 -4.1h0m0.2 -6.8h0m0.5 10.8h0m0.2 -18.6h0m0.5 7.7h0m0.2 -10.3h0m0 48.8h0m0.1 -34.3h0m0.2 32.4h0m0 4.4h0m0.4 -6h0m0 4.4h0m0.2 -46.9h0m0.1 13.6h0m0 7.8h0m0.1 -3.9h0m0 33.3h0m0.4 -48.4h0m0.2 7.2h0m0.1 -3.6h0m0.9 0.1h0m0.6 11.3h0m0.1 -4.3h0m0.1 8.2h0m0 24.5h0m0.1 -42.3h0m0.9 15.3h0m0.1 25.8h0m0.1 -32.5h0m0.1 -7.2h0m0 2.8h0m0 15.6h0m0.9 -9.1h0m0.2 -3h0m0 8.6h0m0.1 -3.1h0m0.2 -8.3h0m0 15.7h0m0.6 22h0m0.2 2.7h0m0.2 -26.4h0m0.4 24.7h0m0.1 -20.8h0m0.2 -7.4h0m0.2 -6.9h0m0.1 -3.1h0m0.3 41.4h0m0.3 -31.7h0m0.1 3.8h0m0.1 5.7h0m0.1 3.2h0m0.1 -6.4h0m0.8 22.9h0m1.6 -16.4h0m0.1 -5.6h0m0.1 3.1h0m0.3 18.2h0m0.1 -17.4h0m0 21.7h0m0.2 -26.9h0m0.2 -6.9h0m0 2.9h0m0.2 12.3h0m0.1 -5.8h0m1.1 21.8h0m0.7 0.4h0m0.4 -31.1h0m0 12.2h0m1.6 1.3h0m0.1 18.5h0m0.2 -22.7h0m0.2 -3.6h0m0.3 22.3h0m0.6 2.9h0m0.5 -26.4h0m0 3.9h0m0 25h0m0.4 -31.7h0m0 9.9h0m1 22.7h0m0.2 -2.4h0m0.6 -22.3h0m0.2 -16.4h0m1 11.8h0m0 24.1h0m0.1 -17.6h0m0.3 -10.5h0m0 1.8h0m0.1 7.2h0m0.1 -2.2h0m1.2 22.1h0m0.3 -32.8h0m0.5 11h0m0.1 -8.2h0m1 28.6h0m0.4 -40.4h0m0.3 8.9h0m0 6.8h0m0.1 -2.6h0m0.2 6.1h0m0.7 23h0m1.2 -0.2h0m0.5 -38.3h0m0 10.8h0m0.1 -3.4h0m0.1 -3.3h0m0 3.1h0m0 7.9h0m0.1 0.2h0m0.5 -14h0m0 8.9h0m0.6 29.4h0m1.2 1.4h0m0.3 -35.3h0m0 6.7h0m0 3.6h0m0.2 21.8h0m0.1 -19.1h0m0.5 18.6h0m0.4 2.5h0m0 3.2h0m0.4 -40.8h0m0.1 14.9h0m0.3 -8.5h0m0.1 4.3h0m1.2 28.1h0m0.3 -3.6h0m0.1 -29.9h0m0 7h0m0.4 2.4h0m0.1 -13.3h0m1 -1.1h0m0.4 38.1h0m0.2 -33.7h0m0 7.7h0m0 22.5h0m0.1 -26.8h0m0.1 -11.6h0m0.3 39.2h0m0.2 -35.9h0m0 6.8h0m0.1 6.1h0m0.6 -2.5h0m0.6 23h0m0.3 -33h0m0.1 36.5h0m0.1 -30.2h0m0.2 -10.7h0m0 14.1h0m0.6 26.4h0m0 3.2h0m0.1 -40.7h0m0.1 -2.7h0m0.2 8.8h0m0.3 -3.3h0m1.7 35.1h0m0.1 -2.9h0m0.3 -30.7h0m0.2 -11.5h0m0 48.9h0m0.3 -41.2h0m0.1 -11.3h0m0.2 7.8h0m0.3 -12.4h0m0.2 10.9h0m0 41.5h0m0.4 -48.9h0m0 13.5h0m0 38h0m0.1 -40.7h0m0.9 39h0m0.1 -2.7h0m0 6.4h0m0.3 -50.9h0m0.2 12h0m0.1 -4.5h0m0.1 -22.5h0m0.2 3.1h0m0 8.1h0m0.4 5.2h0m0.3 8.1h0m0.1 33.8h0m0.1 -45.5h0m0.1 -7.8h0m0.3 62.1h0m0.3 -2.8h0m0.1 -3.5h0m0.9 0.2h0m0.2 -3.9h0m0.3 -41.5h0m0.1 49.1h0m0.2 -55.9h0m0.1 14.1h0m0.3 -10.7h0m0.2 -2.3h0m0.1 2.9h0m0.4 4.1h0m0.3 4.4h0m0 4.5h0m0.2 33.9h0m1 -42.8h0m0.2 8.2h0m0.2 4.5h0m0 35.4h0m0.1 -54.5h0m0.1 10.2h0m0 37.3h0m0 3.6h0m0.8 -43.3h0m0.1 7.2h0m0.2 35.3h0m0.1 4.3h0m0.3 -49.8h0m0 14.2h0m0.3 27.6h0m0.7 3.6h0m0.1 3.2h0m0.3 -34.3h0m0.1 -13h0m0 8.9h0m0 32.3h0m0.2 -45.4h0m0.6 -6.8h0m0.5 7h0m0.1 -7.1h0m0.1 4.4h0m0.2 5.9h0m0 46.8h0m0.1 -35.3h0m0.1 -25.4h0m0.2 29.3h0m0.1 27.3h0m1 1.2h0m0.2 3.2h0m0.1 -52.6h0m0.3 14.2h0m0.2 -7.4h0m0.2 -10.2h0m0.1 21.4h0m0.2 -15.2h0m0.1 10.1h0m0.1 7.2h0m0.3 -10.8h0m0.2 44.1h0m0.1 -48.1h0m0.4 41.1h0m0.3 4h0m0.6 0.3h0m0.2 -3.8h0m0.2 -38.9h0m0 7h0m0.1 4.5h0m0.1 -9.1h0m1.1 36.8h0m0.3 -31.7h0m0.1 35.1h0m0 3.4h0m0.1 -35.1h0m0 4.1h0m0.2 -11.1h0m0.6 3.1h0m0.1 -6.2h0m0.1 16.7h0m0.4 28.2h0m0.1 -31.6h0m0 28.6h0m0.5 -3h0m1.3 -43.1h0m0 46.7h0m0.1 -50.8h0m0 7.1h0m0 4.3h0m0.1 10.4h0m0.1 26.6h0m0.3 -32.6h0m0.1 3h0m0.1 34.9h0m0.5 -47.5h0m0.3 3h0m0.1 -6.6h0m0 9.2h0m0.1 34.7h0m0.1 -31.7h0m0 5.5h0m0.1 -2.5h0m0.2 32.2h0m0.8 -43.4h0m0.1 12.2h0m0 31.2h0m0.2 -52h0m0 16.3h0m0.3 39.2h0m0.1 2.4h0m0.1 -63.8h0m0.5 20.9h0m0.2 -16.8h0m0.6 3.7h0m0 10.2h0m0.1 6.8h0m0.2 33.3h0m0.8 3.8h0m0.2 -57h0m0 5.3h0m0.1 49.1h0m0.1 -44.9h0m0 7.1h0m0.1 -3.3h0m0 36.8h0m0.1 -47.5h0m1.2 0.6h0m0 7.6h0m0.2 41.3h0m0.1 -55.5h0m0 3.3h0m0 14.9h0m0.1 -20.7h0m0.1 61.6h0m0.2 -49.3h0m0.8 8.4h0m0.1 3.1h0m0.4 -22.1h0m0 14.6h0m0.1 -11h0m0.5 50.5h0m0.2 2.7h0m0.4 -1.2h0m0.1 -45.4h0m0.2 -17.6h0m0.1 21.7h0m0 6.8h0m0.2 -25h0m0 7h0m0.1 14.9h0m0.9 3.4h0m0.1 -9.6h0m0.2 6.9h0m0.4 -10.5h0m0.1 -11.4h0m0 57h0m0.5 3h0m0 3.9h0m0.8 -44.9h0m0 4.2h0m0.4 -11.8h0m0 15.7h0m0.4 39.7h0m0.2 -7.7h0m0.2 -33.6h0m0.1 -4.3h0m0.1 -9.7h0m0 2.5h0m0.3 4h0m0.4 -16.8h0m0 3.5h0m0.1 53h0m0.2 3.3h0m0.2 3h0m0.8 -5h0m0 7.4h0m0.1 -58.3h0m0.1 4.1h0m0.1 10.5h0m0 4.2h0m0.5 35h0m0.1 -65.3h0m0.5 32.6h0m0.4 -9.3h0m0.2 6.4h0m0 33.3h0m0.1 -43.7h0m0.8 -2.3h0m0.2 15.7h0m0.2 -11.5h0m0.3 6.2h0m0 37.4h0m0.5 -3h0m0.8 4.8h0m0.7 -3.8h0m0.1 -37.5h0m0.1 -2.7h0m0.2 6h0m0 6.2h0m0.1 -16.1h0m0 12.5h0m0.8 31.7h0m0.2 -38.3h0m0.1 -7.8h0m0.3 3.7h0m0 13.4h0m0.2 3.7h0m1.1 -6.7h0m0.1 32.8h0m0.2 -49.7h0m0 20h0m0.1 -5.6h0m0.1 39.7h0m0.1 -42.7h0m0.1 -7.2h0m0 19.8h0m0.6 -18h0m0.1 3h0m0.1 8h0m0.1 4.2h0m0.1 35.9h0m0.1 -3.2h0m0.1 -41.3h0m0.2 13h0m0.3 25.3h0m1.3 -33.5h0m0.2 3.3h0m0 30.2h0m0 4.3h0m0.3 -45.2h0m0 16.3h0m0.2 -2.6h0m0.1 -7.3h0m0.2 6.1h0m0.2 -2.6h0m0.2 -6.4h0m0.6 38.2h0m0.6 3.4h0m0.3 -35.1h0m0.1 33.1h0m0.1 -36h0m0.2 10.2h0m0.2 22.3h0m0.6 -20.1h0m0.2 -4.2h0m0.3 -3.5h0m0 27.9h0m0.1 -30.6h0m0.8 34.7h0m0.8 -4.2h0m0.1 -32.2h0m0.1 39.2h0m0.2 -26.9h0m0.1 -7h0m0.3 -2.7h0m0 5.8h0m1.2 -2.6h0m0 2.8h0m0 2.4h0m0.5 22.1h0m0.3 -32.4h0m0 35.2h0m0.7 0h0m0.3 -34.5h0m0.1 31.7h0m0.1 -34.6h0m0.4 11.5h0m0.3 -20.3h0m0.3 7.5h0m0 10.2h0m0.2 -20.5h0m0.1 7.6h0m1.1 38.5h0m0 2.6h0m0.7 -39.3h0m0.1 7.7h0m0.1 29.2h0m0.4 -25.1h0m0.1 23.2h0m0 3.8h0m0.5 -44.2h0m0 3.1h0m0.1 11.7h0m0.6 -3.7h0m1.1 -13.5h0m0 2.9h0m0.1 40.5h0m0.1 -32.4h0m0 3.2h0m0.1 3.5h0m0.1 -10.4h0m1.8 7.2h0m0.1 -16.9h0m0 12.5h0m0.1 -18.8h0m0.1 57.1h0m0.1 -45.4h0m0 42.2h0m0.3 -50h0m0.1 55.9h0m0.1 -66.3h0m0 9.3h0m0 11.5h0m0.1 2.3h0m0.1 -16.4h0m0.2 13.3h0m0.1 -7.2h0m0.1 -9.7h0m0 24.3h0m0.3 30.1h0m0.3 2.9h0m0 4h0m0.9 -51.2h0m0.1 -3.9h0m0 10.9h0m0.1 38.7h0m0.2 -42.6h0m0 45.4h0m0.1 -38h0m0.1 44.5h0m0.2 -42.1h0m0.8 -21.9h0m0.2 17.9h0m0.1 -4.6h0m0.1 -4h0m0.1 44.6h0m0 7.3h0m0.1 -64h0m0 5.4h0m0.2 -9.9h0m0.4 63.4h0m0.7 -4.4h0m0.5 -60.5h0m0 20.1h0m0.2 -2.9h0m0.3 -9.7h0m0.6 59.8h0m0.1 -71.7h0m0 3.6h0m0 64.3h0m0.2 -53.7h0m0 7.2h0m0.2 43.4h0m0.1 -57.1h0m0.3 10.6h0m0.2 50.1h0m0 7.5h0m0.6 -57h0m0.3 -17.3h0m0.1 -3.2h0m0 16.4h0m0.8 51.4h0m0.2 -59.5h0m0.1 63.6h0m0.1 -74.7h0m0 4.5h0m0 18.3h0m0.2 -3.8h0m0.5 -4.4h0m0.5 56.7h0m0.8 -70.3h0m0 12.1h0m0 4.5h0m0.1 -21.2h0m0 9.1h0m0.5 -16.2h0m0.3 19.9h0m0.6 -17.7h0m0 10.3h0m0 12.3h0m0.1 -16.4h0m0.5 -15.8h0m0 88.6h0m0.1 -75.1h0m0.3 80.4h0m0.1 -90.9h0m0.1 94.1h0m0.2 -93.4h0m0 7.8h0m0 3.4h0m0 2.9h0m0 10.8h0m0.2 -28.6h0m0 90.4h0m0.4 -58.7h0m1.6 -6.2h0m0 4.3h0m0 3.9h0m0.2 -11.5h0m0.1 -2.3h0m0.1 -9.8h0m0 77.3h0m0.1 -87.3h0m0.2 7h0m0.2 83.8h0m0.3 -0.4h0m0.3 -79.9h0m0 3h0m0 27.2h0m0.2 -17.2h0m0.1 -3h0m0.2 -14.4h0m0 27.7h0m0.1 3.2h0m0.5 -5.4h0m0.5 7.7h0m0.1 -32.1h0m0 3.7h0m0 14.3h0m0 16.7h0m0.1 -19.7h0m0.1 13.5h0m1.1 54.1h0m0.1 -60.1h0m0.1 -7.5h0m0.3 -4.4h0m0 74.3h0m0.1 -56.5h0m0 60.8h0m0.1 -50.5h0m0 42.1h0m0.1 -55.7h0m0.2 9.6h0m0.1 -27.3h0m1.2 81h0m0.1 -77.2h0m0 68.7h0m0.2 -50.3h0m0.2 -29.2h0m0 3.8h0m0.1 80.2h0m0.2 -48.7h0m0.1 -3.1h0m0.1 56h0m0.1 -48.8h0m0.4 43.1h0m0 2.7h0m0.5 -72.6h0m0.2 16.8h0m0.1 3.6h0m0.2 -17.5h0m0.1 26h0m0.2 -18.2h0m0 3.3h0m0 10.7h0m0.2 -5.7h0m0.1 -10.5h0m0.1 -3.6h0m0 20.6h0m0.1 -13.3h0m0 17.4h0m0.4 42.1h0m0.1 -49.6h0m0.5 46.7h0m0.1 -57.9h0m0 7.3h0m0 58.4h0m0.1 -48.4h0m0 42.5h0m0.1 -64.3h0m0 60.6h0m0.1 -41.6h0m0.2 5.5h0m0.1 -16.9h0m1.1 0.7h0m0 6.7h0m0.5 10h0m0.1 -6.9h0m0.5 44.7h0m0.1 3h0m0.3 -60h0m0 22.1h0m0.2 -16.5h0m0.6 5.3h0m0.1 -2.4h0m0.2 49.2h0m0.2 -2.6h0m0.3 6.1h0m0.3 -4.3h0m0.8 2.9h0m0.5 -37.7h0m0.3 -21.4h0m0.1 23.9h0m0.1 -17.5h0m0.1 7.1h0m0 4.3h0m0.2 39h0m0.2 -57.8h0m0 18.5h0m0 3.5h0m0.2 -10.5h0m0.2 -8.3h0m0.7 4h0m0 49.9h0m0.5 -33.1h0m0.1 -28.1h0m0 21.1h0m0 2.4h0m0.1 -19.6h0m1.3 -2.5h0m0 18.4h0m0.1 41.5h0m0.1 -34.1h0m0.2 -3.3h0m0.1 -26.4h0m0 7.5h0m0.1 11h0m0.3 -21.5h0m0 69.7h0m1 -4.8h0m0.1 7.3h0m0.2 -3.8h0m0.1 -42h0m0.3 2.7h0m0.1 -8.9h0m0.1 3.1h0m0.1 47.1h0m0.1 -62.2h0m0.1 23.8h0m0.6 35.8h0m0.4 -37h0m0.1 -10.9h0m0.1 -8.6h0m0.1 -7.4h0m0.1 11.7h0m0.1 11.3h0m0.3 -26h0m0.7 7.2h0m0.2 57.7h0m0 6.6h0m0.1 -53.9h0m0.2 -6.2h0m0 3.5h0m0 12.8h0m0 40.7h0m0.1 -36.2h0m0.1 38.8h0m0.2 -72h0m0 3.6h0m0.1 72.6h0m0.1 -6.8h0m0.1 -61.4h0m0.8 1.3h0m0.2 14.1h0m0 10.4h0m0.1 -17.4h0m0.1 11.4h0m0.1 3.2h0m0.2 39.3h0m0.3 -42.1h0m0 39.2h0m0.1 -32.6h0m0.1 -23.2h0m0.2 61.3h0m0.1 -41h0m0.1 -11.1h0m0.1 -13.6h0m0.5 64.2h0m0.4 -3.8h0m0.3 -39.5h0m0.1 -4.5h0m0.3 -4.2h0m0 14.6h0m0.8 -5.3h0m0.2 -10.1h0m0.1 18.8h0m0.1 -23h0m0.2 18.5h0m0.1 36.2h0m0.1 -47.1h0m0.1 2.5h0m0.3 49.1h0m0.5 -55.7h0m0.2 -4.3h0m0.1 22.4h0m0 2.8h0m0.3 30.5h0m0.3 -48.7h0m0.5 55.8h0m0.1 -3h0m0.2 -51.5h0m0 9h0m0.1 -4.4h0m0.1 -7.8h0m0.4 19.3h0m0.1 35.1h0m0.4 -4.4h0m0.7 4.4h0m0.3 3.1h0m0.2 -44h0m0.1 37.4h0m0.1 -30.1h0m0.1 -15.8h0m0.2 12.2h0m0.2 35.4h0m1 -54.9h0m0.2 21.4h0m0 4.4h0m0.2 -11.7h0m0.1 3.8h0m0.2 -15.5h0m0.2 14h0m0.1 5.3h0m0.1 34.3h0m0.1 -50.2h0m0.2 47.2h0m0.2 -26.7h0m1.2 0h0m0.2 -16.1h0m0 42.9h0m0.2 -23.6h0m0.2 26h0m1.3 -33.7h0m0 3.6h0m0.1 2.4h0m0.1 2.6h0m0.1 24.6h0m0.3 -42.5h0m1.7 17.3h0m0.1 27.8h0m0.2 -25h0m0.2 -11.3h0m0.1 -0.9h0m0 5h0m0.1 29.1h0m0.2 -36.7h0m0.4 -0.2h0m0.1 13.7h0m0.2 25.7h0m0.4 -2.8h0m1.2 2.2h0m0.1 3.3h0m0.1 -25.1h0m0.2 -13.3h0m0 8.8h0m0.7 27.4h0m0.9 -26.6h0m0.6 -10.2h0m0 7.3h0m0.2 -3h0m0.1 8.5h0m0.1 4.2h0m0.2 1.7h0m0.1 -17.3h0m0.1 11.3h0m0.4 -4.4h0m0.2 7.6h0m0.2 20.7h0m1.1 -18.1h0m0.4 16.9h0m0.4 -20.5h0m0 24.8h0m0.3 -24.2h0m0.1 2.6h0m0.3 -5.8h0m0.4 10.4h0m0.6 15.1h0m0.3 -13.1h0m1 12.5h0m0.2 2.5h0m0.3 -16.8h0m0.1 3.8h0m0.8 4h0m0.1 5.8h0m0.8 -4.3h0m0.3 5.1h0m1.6 -7h0m0.1 7.9h0m0.3 -5.5h0m0.7 -2.4h0m0.3 2.5h0m0.2 5.6h0m2 -11.7h0m0.2 11h0m0.4 -8.5h0m0.3 3.4h0m0.7 -5.6h0m0.1 3.3h0m0.3 8.5h0m1.1 -0.2h0m0.2 -6.4h0m0.3 -2.8h0m0.4 -4.5h0m1.3 5.6h0m0.8 7.3h0m0.1 1h0m0.6 -7.8h0m1.6 7.6h0m0.3 -6.8h0m1.9 5.4h0m0.2 2.6h0m0.2 -15.4h0m0.2 3.4h0m0 4.4h0m0.7 0.1h0m0 7h0m0.6 -9.9h0m1.4 10.4h0m0.2 -10.9h0m0.1 4h0m1 5.1h0m0.1 -7h0m0 3h0m1.7 5.7h0m0.4 -8.1h0m0.4 6.3h0m0.3 -6.3h0m2.4 2.3h0m0.1 -7.2h0m0 11.8h0m0.3 -7.5h0m1.2 8.4h0m0.1 -14h0m0.7 3.7h0m0 2.9h0m0.7 8.8h0m0.2 -16.6h0m0.7 7.1h0m0.1 -2.6h0m1.3 2.7h0m0.2 6h0m0.9 -6.8h0m0.4 -3.9h0m0.3 13.8h0m1.2 0.3h0m0.5 -7.6h0m0.3 3.6h0m0.2 -8.9h0m0.5 6.5h0m0.1 -3.8h0m0.1 7.9h0m1.6 0h0m0.3 -9.6h0m0.8 3.8h0m0.1 -5.3h0m0.3 4.2h0m0.6 8.7h0m1.6 -7.2h0m0.8 5.1h0m0.1 -0.5h0m0.1 2.4h0m0.4 -9.9h0m0 3.6h0m1.4 -0.2h0m1.5 6.2h0m0.2 -1.8h0m0.2 -7.9h0m0 4.1h0m1.2 -1h0m0.7 -3.9h0m0.3 9.9h0m1.1 -2.3h0m0.6 -4.5h0m0.1 8.5h0m1.3 -7.9h0m0.1 -4.5h0m0.3 10.5h0m1.3 1.1h0m0.9 -7.2h0m0.2 -3.6h0m0.4 10.8h0m0.2 -4h0m0.4 -3.6h0m1.2 7.5h0m0.1 -10h0m0.2 2.8h0m0.3 3.2h0m0.8 4.4h0m0.9 -2.9h0m0.5 -3.9h0m0.1 3.2h0m0.3 -4.3h0m0.1 -3.2h0m0.2 5.6h0m0.2 2.5h0m0 3.3h0m0.9 -3.8h0m0.6 -2.6h0m0.3 3.2h0m0.1 2.9h0m1.2 -6.2h0m0.7 -3.9h0m0.2 8.8h0m0.2 0.7h0m0.4 -2.4h0m0.5 -8.6h0m0 4.1h0m0.6 3.2h0m1.3 -0.2h0m0.2 4.4h0m0.4 -6.9h0m0.6 -0.6h0m0.7 -4h0m0 11.5h0m1.3 -10.9h0m0 9h0m0.3 -4.8h0m0.5 -4h0m0.7 2.5h0m1.2 6h0m0.5 -8.6h0m0.3 9.9h0m0.1 -7.1h0m0.3 4.2h0m0.5 0.7h0m1.2 -3.3h0m2 -3h0m0 3.8h0m0 3.7h0m0.1 -0.6h0m1.5 -3.7h0m0.6 -2h0m0.3 -3.4h0m0.4 11.1h0m0.5 -1.4h0m1.2 -3.7h0m0.7 5.4h0m0.7 -9.7h0m0.3 3.9h0m1.9 5.3h0m0.2 -6.8h0m0.2 3.6h0m0 0.1h0m0.6 -2.8h0m0.5 7.5h0m0.8 -5.2h0m0.2 -4.6h0m1.2 7.7h0m1.1 0.9h0m0.3 -3.3h0m0.9 4.3h0m0.6 -6h0m0.2 2.5h0m0.2 -5.3h0m0.3 2.5h0m0.5 3.2h0m0.6 1.7h0m1.8 -6.2h0m0.1 5.5h0m0.3 -1.3h0m0.8 -4.9h0m0 3.2h0m0.2 4.7h0m1.9 0.2h0m0.2 -4.5h0m1 -1.1h0m0.5 3.6h0m0.6 3.3h0m0.3 -7.1h0m0.3 3.5h0m1.5 -5.8h0m0 7.2h0m0.4 -4.2h0m0.5 3.1h0m0.9 -6.8h0m0.1 2.5h0m1 4.6h0m0.8 -5.3h0m1.5 -4.1h0m0 5.6h0m0.3 5.6h0m0.2 -8.1h0m0.6 0.6h0m0.3 8h0m0.6 -5.5h0m1.1 3.2h0m0.3 -2.5h0m0.1 -3.7h0m1.4 8.3h0m0.4 -5.5h0m0.1 -3.7h0m0.9 2.7h0m0 3.2h0m1.3 3.5h0m1 -2.8h0m0 0.5h0m0.5 -3.7h0m0.4 6.7h0m0.7 -8.2h0m0 6.9h0m0.4 -4.2h0m1 3h0m0.1 -4.8h0m0.1 3.7h0m0.3 4.2h0m2 -5h0m0.5 2.8h0m0.8 -1.4h0m0 2.1h0m0.6 -6.1h0m0.9 5.4h0m0.5 -3.5h0m0.4 4.9h0m0.9 -4.3h0m0 3h0m0.8 -0.5h0m0.2 -0.4h0m0.3 -0.2h0m0.1 -2.7h0m0 5.6h0m2.8 -3.1h0m0.2 2.6h0m0.2 -1.8h0m1.3 -0.1h0m0.7 2.2h0m0.1 -2h0m1.7 1.2h0m0.6 -0.6h0m0.3 -3.6h0m1.7 0.2h0m0.3 3.9h0m0.3 -0.9h0m0.5 -0.6h0m0.6 -3.7h0m1 -0.6h0m0 3.3h0m0.6 1.8h0m0.1 2.9h0m1.1 -4.8h0m0.7 1.4h0m1.1 0.1h0m0.1 -3.8h0m0.1 5.7h0m0.7 -0.5h0m1.4 -4.6h0m0.1 2.6h0m0.9 0.7h0m0.1 0.8h0m0.1 -4.3h0m1.2 1.4h0m0.2 3.4h0m0.5 -6.2h0m1 5.5h0m0.5 -0.4h0m1.1 -2.9h0m0.8 4.2h0m1 -3.6h0m0.6 2.5h0m1.6 -4.1h0m0.2 3.3h0m0.1 0.4h0m0.3 0.7h0m0.3 -2.1h0m0.1 -2.9h0m1.4 1h0m0.5 3.6h0m1.3 1h0m0.4 0h0m0.5 -5.1h0m0.7 3.3h0m1.5 -1.3h0m0.2 3.2h0m0.2 -1.3h0m0.3 -2.7h0m1.4 1.3h0m0.2 3h0m1.1 -1.4h0m0.3 -3.4h0m1.1 5.4h0m1.4 -2.7h0m0.1 1.6h0m0.5 -4.6h0m0.8 2.8h0m0.3 0.6h0m2.3 -0.7h0m0 1.3h0m0.5 0.1h0m0.6 -3.7h0m0.4 3.2h0m0.8 -3.8h0m0 4.5h0m1.7 0.2h0m0.6 -3.5h0m1.1 -2.5h0m0.1 2.4h0m1 4.9h0m0.7 -4.9h0m0.7 5.7h0m1.3 -6.4h0m0.7 5.3h0m0.9 -1.9h0m0.3 -1.6h0m1.1 3.8h0m0.4 -2.6h0m0.1 -2.6h0m1.3 1.4h0m0.3 4.2h0m0.1 -2.7h0m0.3 -5.5h0m1.3 5h0m0 3.2h0m0.1 -6.9h0m0.3 3.5h0m0.8 -0.6h0m0.7 1.5h0m0.9 -0.8h0m0.1 3.1h0m1 -3.5h0m1.4 2.5h0m0.2 -2.9h0m0.6 -1.2h0m0.6 -3.8h0m0.1 6.9h0m1.2 1.5h0m0.5 -2.7h0m0.2 -0.7h0m1.1 2.8h0m0.7 -2.6h0m0.7 -3h0m0 3.4h0m0.1 1.2h0m0.6 -2.1h0m1.9 -1.3h0m0.1 -3.1h0m0.3 5.9h0m0.6 -4.3h0m0 2.7h0m0.5 3.5h0m1.1 -9.6h0m0.3 4.5h0m0.1 2.9h0m1.2 -1.1h0m0.6 -12.4h0m0.3 6.2h0m0.1 2.5h0m0.3 3.3h0m0.5 -13.5h0m0.2 9.5h0m0.2 -2.9h0m1.9 -0.5h0m0.2 7.6h0m0.3 -11.3h0m0.2 6.4h0m0.2 -10.4h0m0.6 15h0m0.2 -23.7h0m0.1 5.4h0m0 3.3h0m0.1 -6h0m0.2 8.7h0m1.5 11.3h0m0.7 -21.1h0m0.1 3.1h0m0.9 -35.1h0m0.1 50.2h0m0.1 -44.8h0m0.1 -8.3h0m0.3 -16h0m0 9.4h0m0 0.7h0m0 2.7h0m0.1 -7.5h0m0 16.4h0m0.1 -1.6h0m0.3 -4.2h0m0 7h0m0.2 46.4h0m0.6 6.5h0m0.5 -52h0m0.3 -3.3h0m0.1 -10.1h0m0.3 -7.8h0m0 3.5h0m0.1 64.1h0m0.8 -2.7h0m0.8 -54.8h0m0 10h0m0 2.5h0m0.3 -9.1h0m0.1 52.4h0m0 2.6h0m0.1 -64.6h0m0.1 -3.4h0m0 16.2h0m0.1 54.7h0m0.6 -36.8h0m0.2 -16.8h0m0.1 48.9h0m0.1 -53.5h0m0.5 18.8h0m1.2 18.9h0m0.1 -2.8h0m0.1 -7.2h0m0.2 3.3h0m0 24h0m0.1 3.7h0m1.2 -1h0m0.2 -15.2h0m0.4 -2.6h0m0.1 -8.1h0m0.1 4.3h0m0.2 -27.9h0m0.1 19.7h0m0.1 -12.5h0m0.1 19.3h0m0 2.5h0m0.1 -10.8h0m0.1 -3h0m0 16.8h0m0 16.9h0m1 -55.6h0m0.4 -18.8h0m0.2 -6.4h0m0 17.2h0m0 3.5h0m0.2 54.8h0m0.3 7h0m0.4 -4.2h0m1.1 -97h0m0.1 -2.9h0m0.1 14.1h0m0.2 -7.1h0m0.1 -13.9h0m0.2 29.1h0m0 75.6h0m0.1 -79.8h0m0 83.2h0m0.1 4.2h0m0.3 -3.6h0m0.1 -6.5h0m0.2 2.9h0m0.1 -93.2h0m0.1 9.4h0m0.1 -2.5h0m0.3 -13.1h0m0.3 -8h0m0.1 11.1h0m0.3 94.7h0m0.7 7.3h0m0.1 -4.2h0m0.2 -109.5h0m0.2 -13h0m0.2 8.6h0m0 20.3h0m0.1 -35.9h0m0 3.2h0m0 25.8h0m0.1 -25h0m0 7.4h0m0 13h0m0.2 -26.1h0m0 2.6h0m0 23.9h0m0.1 -4.2h0m0 105.5h0m0.6 2.9h0m0.9 -121.9h0m0.1 -6.3h0m0 3.2h0m0.1 20.7h0m0.2 100.3h0m0.1 -127.7h0m0.1 131.8h0m0.1 -111.8h0m0.1 -3.9h0m0 8.4h0m1.5 109.9h0m0.4 -107.3h0m0.2 -26.1h0m0 7.8h0m0 14.6h0m0 104.6h0m0.3 -115.3h0m0.1 -18h0m0 2.6h0m0.2 128.3h0m0.3 2.9h0m0.2 6.9h0m0.3 -161h0m0.1 8h0m0 31.7h0m0 4.3h0m0.1 -7h0m0.1 -45.6h0m0 12.7h0m0 22.5h0m0 3.7h0m0.1 17.7h0m0.1 -84.2h0m0 48.7h0m0.1 -13.2h0m0.1 47.7h0m0.1 -23.5h0m0 1.7h0m0.1 -6.4h0m0 5.1h0m0 28.2h0m0.1 -73.6h0m0 28.1h0m0 44.9h0m0.1 -26.5h0m0 6.2h0m0 5.7h0m0.1 -55.7h0m0.1 19.2h0m0 7.3h0m0 6.6h0m0 5h0m0 8h0m0 5.8h0m0 125.8h0m0.1 -166.1h0m0 12.2h0m0.1 -31.4h0m0 11.3h0m0 12.8h0m0 18.4h0m0 24.2h0m0 115.3h0m0.1 -181.6h0m0 14.2h0m0 23.2h0m0 17.5h0m0 15.7h0m0.1 -55.6h0m0.1 -11.4h0m0 15.5h0m0.2 24.9h0m0.1 -20h0m0.1 2.7h0m0 9.3h0m0.1 -3.4h0m0 20.7h0m0 125.4h0m0.1 -173.6h0m0.1 6.7h0m0.1 -3.2h0m0 4.1h0m0 6.4h0m0 10.5h0m0 14.4h0m0 13.2h0m0.1 -41.2h0m0 23.8h0m0 8.6h0m0 5.2h0m0.1 -37.7h0m0.1 -15.6h0m0 29.8h0m0 3h0m0.1 -36.6h0m0 22.9h0m0 8h0m0 16.3h0m0.1 -37.2h0m0 16.4h0m0.1 -13.1h0m0 38.8h0m0 26.9h0m0 104.2h0m0 2.6h0m0.1 -145.9h0m0 35.5h0m0.1 -17.2h0m0 2.5h0m0.1 -16.1h0m0.1 7.1h0m0 3.6h0m0 26.8h0m0.1 -43.9h0m0.1 26.6h0m0.2 -3.4h0m0 127.4h0m0.2 -141.7h0m0.3 4.6h0m0 13.5h0m0 2.5h0m0 8.2h0m0.3 -17.8h0m0 26h0m0.1 98.6h0m0.2 7.7h0m0.2 -2.7h0m0.4 -8.6h0m0.6 -91.6h0m0.1 -14.7h0m0.2 -7.4h0m0 116.5h0m0.2 -104.5h0m0 12.7h0m0 3.9h0m0.8 88.7h0m0.1 2.7h0m0.5 -124.1h0m0.1 118.6h0m0.1 -94.4h0m0.1 -4.6h0m0.1 12.2h0m0 4h0m0.2 -29.5h0m0.1 5.8h0m0.1 -18.7h0m0.1 3.2h0m0 12.9h0m0.7 4.9h0m0.1 -3.7h0m0.1 7.5h0m0 13.8h0m0 7.5h0m0.1 -32.3h0m0.3 34.8h0m0.1 77.8h0m0.2 -93.6h0m0 3.2h0m0 5.7h0m1.1 -0.1h0m0.1 -16.7h0m0 7.1h0m0.2 19.7h0m0.2 73.3h0m0 2.9h0m0.2 -80.7h0m0.1 -19.1h0m0 6.3h0m0 4.4h0m0.3 13.8h0m0.2 -7.5h0m0.1 -8.3h0m0.2 90.6h0m0 4h0m0.1 -103.5h0m0.2 20.7h0m0.1 -16.2h0m0.6 -8.9h0m0.1 12h0m0 7.9h0m0.2 -4h0m0.1 -19.4h0m0 10.9h0m0.1 14.9h0m0.1 -29.5h0m0 32.6h0m0.2 4.5h0m0.4 72.6h0m0.3 3.8h0m0.3 3.3h0m0.8 -1.5h0m0.1 -112.5h0m0 27h0m0 7.7h0m0.1 73.6h0m0.1 -97.2h0m0.2 11.7h0m0.1 -7.7h0m0.1 -7.3h0m0.3 30.9h0m0.3 -27.4h0m0 2.5h0m0 11.2h0m0 6.4h0m0 75.7h0m0 2.6h0m0.2 -73.9h0m0 78.3h0m0.1 -96h0m0.9 -23.3h0m0 12.3h0m0 2.8h0m0 8.4h0m0.1 93.3h0m0.2 -77.7h0m0.2 3.4h0m0 71.5h0m0.2 -106.7h0m0 113.9h0m0.5 -125.8h0m0.2 20.4h0m0.3 2.6h0m0 23.4h0m0.2 -27.5h0m0.1 8.2h0m0.2 11.9h0m0.1 3.9h0m0.1 7.2h0m0.3 72.2h0m0.3 -3.9h0m0.9 3.6h0m0.1 -89.5h0m0 11.5h0m0.1 -5.2h0m0.2 13.2h0m0.5 -28.7h0m0 25h0m0.1 -10.8h0m0.1 -7.1h0m0 27.3h0m0.1 -12.2h0m0.1 -11.3h0m0 86.7h0m0.2 -79.8h0m0.1 -7.4h0m0.1 -20.9h0m0 42.1h0m0.3 -58.3h0m0.1 44.5h0m0.2 -12h0m0.1 26.8h0m0.2 -33.7h0m0 25.2h0m0.1 -45.3h0m0.1 3.9h0m0.2 54.7h0m0.2 -21.9h0m0 2.9h0m0.1 -17h0m0.2 7.3h0m0.2 87h0m0.1 -65.6h0m0 4.6h0m0 5.3h0m0.4 58.7h0m0.1 6.5h0m0.1 -3.7h0m0.8 -4h0m0.3 -54.3h0m0 3.7h0m0 55.1h0m0.3 -85.1h0m0 7.5h0m0.2 3.2h0m0.3 11.3h0m0.9 60.1h0m0 3.4h0m0.1 -51.2h0m0.1 -23.8h0m0 12.4h0m0.1 4.2h0m0.2 -9.3h0m0.1 13.5h0m0.1 -18h0m0 23.8h0m0 50.8h0m0.1 -8.5h0m1 0.5h0m0 7.5h0m0.2 -73.3h0m0.2 69.4h0m0.1 -72.5h0m0 2.9h0m0 13.8h0m0.1 -25.2h0m0 15.1h0m0 17.4h0m0.2 -30h0m0 3.4h0m0 16h0m0 13.1h0m0 43.7h0m0.1 6.2h0m0.1 -84.9h0m0 34.2h0m0.1 -20h0m0.1 -11.8h0m0 34.5h0m1.5 -14.1h0m0.1 -12h0m0.1 68.5h0m0.2 -2.9h0m0.1 -61.4h0m0.1 14.2h0m0.1 -26.6h0m0 15.8h0m0 13.8h0m0.6 -38.7h0m0 17.9h0m0.1 6.4h0m0.1 59.9h0m0.1 -70.2h0m0 74h0m0.2 3.6h0m0.2 -87.6h0m0 23.4h0m1.6 -6.5h0m0.2 -10.6h0m0.1 -7.6h0m0.2 21.2h0m0 67.6h0m0.1 -92.7h0m0 7.2h0m0.1 11.9h0m0 65.4h0m0.1 -87.1h0m0.3 90.8h0m0.4 -72.1h0m0.1 -9.7h0m0.4 24.5h0m0.1 56.1h0m0.1 -84.1h0m0 7h0m0 3.6h0m0.4 18h0m0.1 -16.6h0m0.1 7.5h0m0.2 63.3h0m0.1 2.9h0m0 3.6h0m0 2h0m0.1 -69.3h0m0 14.3h0m0.1 -28.8h0m0 31.8h0m0.1 -23.5h0m1.7 22.6h0m0.4 7.9h0m0.1 -20.1h0m0 7.6h0m0.1 -4.6h0m0 20.9h0m0.2 -27.3h0m0.1 60h0m0.7 0.7h0m0.1 -33.1h0m0.1 -2.5h0m0.1 5h0m0.4 4.6h0m0.1 -14.1h0m1.2 41h0m0.2 -37.4h0m0.3 4.4h0m0.4 5.9h0m0.3 -4h0m0 34.8h0m0.1 -38.3h0m0.2 -4.4h0m0.1 38.1h0m0.3 -41.6h0m0.1 15.6h0m0.4 28.8h0m0.3 5.5h0m0.2 -2.5h0m0.1 -5.4h0m0.4 -57.8h0m0.2 -6.7h0m0.1 14.3h0m0 8.6h0m0.2 -20h0m0 28.1h0m0.1 -12.7h0m0.1 9h0m0.5 39.7h0m0.1 -3.1h0m0 6.1h0m0.4 -57.5h0m0.1 -6.3h0m0.5 -2.5h0m0.1 6.4h0m0.1 -14.4h0m0 27.5h0m0.8 38.6h0m0.1 -75.7h0m0 3.9h0m0.1 4.4h0m0.1 21.9h0m0 48.7h0m0.1 -52.5h0m0.2 -12.3h0m0.1 -2.7h0m0.1 11.7h0m0.1 -2.8h0m0.3 57.1h0m0.3 -57.3h0m0.2 -19.6h0m0.1 16.8h0m1.1 -21h0m0 17.3h0m0.1 -21.3h0m0.2 -3.5h0m0 11.1h0m0 5.7h0m0 2.6h0m0 68.2h0m0.1 -52.2h0m0.1 55.9h0m0 4.5h0m0.1 -82h0m0 8h0m0.1 10.7h0m2 -20.9h0m0 76.9h0m0.2 -88.8h0m0 33.3h0m0.1 -20.6h0m0 3.6h0m0 8.2h0m0 5.4h0m0.1 -4.3h0m0 4.5h0m0.1 -25.9h0m0 12h0m0.1 2.9h0m0.1 -16.2h0m0 6.5h0m0 12.6h0m0 15.8h0m0.7 58.3h0m0.1 -9.9h0m0.1 2.7h0m0.7 -98.8h0m0 31h0m0.1 3.1h0m0.2 -22.1h0m0.1 -4.1h0m0 6.8h0m0 12.1h0m0 71h0m1.5 -89.9h0m0 17.5h0m0.1 -13.4h0m0 16.6h0m0.5 74.4h0m0.1 -4h0m0.1 -80.1h0m1.3 78.9h0m0.3 -80.5h0m0.1 7.9h0m0.5 -24.5h0m0.3 -17.1h0m0 18.2h0m0.1 -53.1h0m0 10.6h0m0 61.4h0m0.1 -65h0m0 41.1h0m0.1 15.4h0m0.1 -45h0m0 22.5h0m0 30.2h0m0.1 -40.7h0m0 29.5h0m0 7.6h0m0 7.2h0m0.1 -77.5h0m0 18.1h0m0 6.6h0m0 21.3h0m0 4.2h0m0 34.4h0m0.1 -50.8h0m0 6.5h0m0 13.5h0m0 16.5h0m0.2 -64.2h0m0 53.4h0m0 93.1h0m0.1 -123.9h0m0 9.3h0m0.1 8.9h0m0.1 -35.4h0m0 3.8h0m0 11.9h0m0 34h0m0 20.3h0m0.1 -72.8h0m0 55h0m0 3.4h0m0 2.7h0m0.1 -20.4h0m0 17.7h0m0.2 -41.5h0m0 4h0m0 8.9h0m0 118.3h0m0 3.3h0m0.1 -128.3h0m0 14h0m0 17.4h0m0.1 -20.3h0m0 13.7h0m0 18.1h0m0 78.8h0m0.1 -135.3h0m0 34.7h0m0.1 -15.9h0m0 3.4h0m0 3.2h0m0 2.9h0m0 13.3h0m0.1 -5.5h0m0.1 -31.4h0m0 25.7h0m0 26.1h0m0.1 -39.4h0m0 23.7h0m0.1 -38.3h0m0 11.8h0m0 38.4h0m0.1 -70h0m0 12.9h0m0 34.7h0m0 20.2h0m0 15.1h0m0.1 -86.3h0m0 40.5h0m0 0.3h0m0 9.9h0m0 17h0m0 15.7h0m0.1 -38h0m0 1.3h0m0 12.3h0m0.1 -48.4h0m0 37.6h0m0 42.4h0m0.1 -62.2h0m0 6.4h0m0.1 -27.5h0m0 19.6h0m0 10.3h0m0 26.7h0m0 17h0m0.1 -14.4h0m0 6.9h0m0.1 -40.3h0m0 21.5h0m0 19.8h0m0.1 -66.4h0m0 12.5h0m0 11.9h0m0 11.3h0m0 33.5h0m0 11.7h0m0.1 -35.6h0m0 16.7h0m0.1 -20.7h0m0 44.7h0m0.2 -55.2h0m0 36.4h0m0 16.1h0m0 5.5h0m0.1 -50.9h0m0 32.1h0m0.1 -21.7h0m0 106.2h0m0.1 -126.2h0m0 23.5h0m0 11.6h0m0 9.7h0m0 74.8h0m0.1 -114.6h0m1 -27.7h0m0 57h0m0.1 -45h0m0 20.2h0m0 109.8h0m0 2.7h0m0.1 -105.2h0m0.2 -14.8h0m0 3.7h0m0 25.8h0m0.1 -49.4h0m0 3.9h0m0.1 6.6h0m0 4.6h0m0 16.8h0m0.1 26.9h0m0 4.8h0m0 8.9h0m0.1 -30.5h0m0 3.5h0m0.1 -6.7h0m0.2 16h0m0 15h0m0 9.2h0m0.2 -20.5h0m0.1 2.5h0m0 14.5h0m0.1 7.5h0m0.5 -1.8h0m0.2 -19.4h0m0.1 23.6h0m0.3 -15.7h0m0.1 7.3h0m0 61.3h0m0.3 -1.5h0m0 5.2h0m0.4 -74.2h0m0.1 -21.2h0m0 2.8h0m0.3 13.9h0m0 6.9h0m0 3h0m0 3.8h0m1.2 -19.5h0m0.1 3.2h0m0 8.4h0m0.1 4.4h0m0.1 -23.3h0m0.2 85.3h0m0 3.8h0m0.2 -86.1h0m1.1 90.5h0m0.3 -86h0m0 80.9h0m0 2.5h0m0.1 -76.3h0m0.2 -32.7h0m0 18.3h0m0.1 -2.6h0m0.2 87.9h0m0.1 -94.4h0m0 12.2h0m0 7.5h0m0.1 -16h0m0.5 -11.9h0m0.1 7.9h0m0.1 9.1h0m0.3 5.8h0m0 79.6h0m0.3 -91h0m0.1 -6.9h0m0 9.8h0m0.1 5.2h0m1.3 -0.1h0m0.1 -5.3h0m0.1 -10.1h0m0 108.8h0m0.1 -114.3h0m0.1 107.3h0m0.1 -104.9h0m0 101.4h0m0.1 -85.6h0m0 6.7h0m0.1 -12.9h0m0.1 -15.7h0m0.5 111.4h0m0.4 -3.8h0m0.6 -97.5h0m0 13.9h0m0.1 -20.6h0m0.1 9.7h0m0 93.1h0m0.1 -79.5h0m0.5 82.8h0m0.1 2.4h0m0.8 -102.3h0m0 6.1h0m0.1 7.8h0m0.2 -3.3h0m0 11.4h0m0.1 3.6h0m0.1 -8.1h0m0 10.6h0m0.1 -24.7h0m0 18.5h0m0.1 -8.7h0m0.2 20.5h0m0 7.3h0m0.1 -3.9h0m0 60.9h0m0.3 -88.3h0m0.2 15.7h0m0 76h0m1.7 -78.4h0m0.1 20.8h0m0.1 -23.3h0m0.1 10.7h0m0 69.1h0m0.1 -65.3h0m0 67.1h0m0.2 -61.1h0m0.1 -15.4h0m0 11.9h0m0.2 60.8h0m0.1 -52.3h0m0.4 -8.7h0m0.1 -2.9h0m0 18.6h0m0.1 -2.5h0m0.2 -29.6h0m0 10.6h0m0.2 8.7h0m0.3 -22.4h0m0.4 18.8h0m0 9h0m0.2 53.2h0m0 6.9h0m0.1 -57.6h0m0 2.9h0m1 48.3h0m0.3 -2.6h0m0.5 -69.5h0m0.4 10.2h0m0.1 7.1h0m0.1 -21.5h0m0 28.2h0m0.2 -21.1h0m0 18.7h0m0.2 -7.9h0m0.5 0h0m0.2 2.9h0m0.1 -19.8h0m0.1 3h0m0 24.5h0m0 48.8h0m0.1 -3.4h0m0.1 -75.9h0m0 26.1h0m0.1 -17.4h0m0 3.2h0m0.4 62.7h0m0 6.9h0m0.4 -67.5h0m0.1 -5.1h0m0 7.5h0m0.1 9.8h0m0.2 52.6h0m0.1 -78.1h0m0.2 10.8h0m0.2 8.3h0m0.1 9.8h0m0.4 -21h0m0 77.5h0m0.1 -4.5h0m0.2 -53.8h0m0.1 -29.8h0m0 77.1h0m0.2 -70.4h0m0 8.2h0m0 65.6h0m1.4 -0.2h0m0 3.4h0m0.4 -55.2h0m0 48h0m0.1 -38h0m0.1 -17.2h0m0.2 -8.2h0m0.1 18.4h0m0.1 -25.2h0m0.3 18.3h0m0.1 -14.2h0m0.8 11.9h0m0.3 7.4h0m0.1 4.1h0m0.2 10.5h0m0.2 -5.8h0m0 4.5h0m0 32.9h0m0 3h0m0.2 -43.2h0m0 42.4h0m0.1 7.2h0m0.2 -35.9h0m0.3 -2.7h0m0.1 34.4h0m1.3 -35.7h0m0.1 6h0m0.3 2.6h0m0 24.2h0m0.1 -36.3h0m0 39.7h0m0.8 -23.4h0m0.4 -6.3h0m0.1 3.8h0m0 24.4h0m0.2 -38.9h0m0.1 41.8h0m0.9 -28.2h0m0.2 -3.5h0m0.2 -4h0m0 10.1h0m0.1 22.3h0m0.8 4.1h0m1 -41h0m0 37.5h0m0.1 -48h0m0.7 18h0m0 3.9h0m0.3 -7h0m0.2 3.2h0m0.1 2.6h0m0.1 -17.7h0m0.1 5.4h0m0.1 3.8h0m0.9 32.8h0m0.1 2.9h0m0.2 -41.6h0m0 12.3h0m0.1 -17.3h0m0.1 14.6h0m0.3 -3.2h0m0.1 -8.9h0m0 5.8h0m0 38.5h0m0.4 -3.7h0m0.1 6.3h0m0.3 -5h0m1.1 -37.1h0m0.2 2.5h0m0.1 3.1h0m0.2 -22h0m0 13.1h0m0.2 -5.6h0m0 18h0m0.1 -22.5h0m0.2 49h0m0.1 -38.2h0m0.1 7.3h0m0.1 34.8h0m1.2 -48.5h0m0.3 8.1h0m0 3.2h0m0.1 6.5h0m0.2 -13.7h0m0 45.9h0m0 4h0m0.2 -39.3h0m0.3 31h0m0.6 -31.5h0m0.1 -10.2h0m0.1 3.3h0m0.3 39.5h0m0.2 3.8h0m1.4 -42.5h0m0.3 4.4h0m0.1 2.9h0m0.3 -16.2h0m0.1 19.4h0m0.2 29.6h0m0.2 -3.9h0m0.5 -44h0m0 12.5h0m0 3.7h0m0.1 37.8h0m0.1 -8.7h0m0 3.2h0m0.2 -54.7h0m0 3.1h0m0 11.8h0m0.2 10.6h0m1.5 25.2h0m0.3 -30.7h0m0 33.4h0m0.2 -40.6h0m0.2 2.6h0m0 9.1h0m0.1 -20.2h0m0 5.2h0m0 0.8h0m0.2 -9.5h0m0 4.2h0m0.1 16.8h0m0.1 -17.5h0m0.1 6.8h0m0.2 6.6h0m0.1 -9.2h0m0.3 46.1h0m0 6.8h0m0.4 -11.3h0m0.1 0.5h0m0.2 3.9h0m0.8 -36.9h0m0.3 6.4h0m0 4.5h0m0.3 -13.8h0m1.2 11.7h0m0 26.7h0m0.6 -30.8h0m0.1 6.4h0m0 1h0m0.1 1.7h0m0.2 -5.5h0m0.6 8.1h0m0.4 18.9h0m1.2 -22.6h0m0.1 3.3h0m0 3.7h0m0.3 14h0m0.4 3.1h0m0.6 0.8h0m0.1 -4.5h0m0.3 -21.9h0m0.3 3.9h0m0.1 -15.8h0m0.1 18.8h0m0.1 -9.9h0m0.1 -3.4h0m0.5 5.5h0m0.1 -4h0m0.1 30.8h0m0.2 -38.7h0m0.2 35h0m1.2 -53.4h0m0.1 4.2h0m0.4 2.5h0m0.2 20.5h0m0 27.3h0m0 3.9h0m0.1 -35.5h0m0.1 -9.1h0m0.6 -12.3h0m0 57.1h0m0.2 -42h0m0 36.4h0m0.1 -47.7h0m0.1 7.7h0m0.3 -3.8h0m0 11.1h0m0.6 -24.3h0m0.1 18.4h0m0.1 -11.5h0m0.1 3.1h0m0.4 5.8h0m0.1 -18.4h0m0 15.8h0m0.1 -19.1h0m0.1 61.5h0m1.4 0.8h0m0.3 -53h0m0 4.5h0m0 2.6h0m0.3 -17.9h0m0.3 -10.2h0m0.1 -2.5h0m0 9.3h0m0.1 9.7h0m0.5 54.3h0m0 2.7h0m0.2 8.6h0m0.3 -77.6h0m0.1 73.9h0m0.2 -81.4h0m0.1 -3.3h0m0.1 -2.7h0m0.1 24.9h0m0.3 -14.6h0m0.2 70.4h0m0.2 -85.6h0m0.3 -3.2h0m0 11h0m0 83.7h0m0.1 -97.6h0m0 10.2h0m0 8.2h0m0.1 5.9h0m0.1 64.7h0m0.2 -96.2h0m0 29h0m1.2 66.7h0m0 10.6h0m0.1 -114.3h0m0 107.5h0m0.1 -82.8h0m0.1 -20.9h0m0 6h0m0.1 100.4h0m0.1 -90.1h0m0.2 -23.8h0m0.2 32.2h0m0.1 -21.3h0m0.5 13.9h0m0 4.1h0m0.1 5.5h0m0.3 -31h0m0.1 -3.7h0m0 18.4h0m0.2 -7.4h0m0 21.2h0m0.2 -17.7h0m0 6.4h0m0.1 90.9h0m0.1 -3.8h0m0.8 1.8h0m0.1 -102h0m0 13.1h0m0.2 -16.4h0m0 108.3h0m0 3.3h0m0.3 -105.8h0m0 19.7h0m0 3.3h0m0.1 -7.8h0m0 93.5h0m0.1 -101.6h0m0.2 -9.1h0m0.3 4.2h0m0.3 17.4h0m0.1 -11.9h0m0.1 -13.9h0m0.3 103h0m0.1 8.8h0m0.2 -5.1h0m0.2 2.7h0m0.4 -3h0m0.1 2.5h0m0 2.5h0m0.1 -94.1h0m0.1 -20.6h0m0 3.1h0m0 14.5h0m0 6.9h0m0.2 -13.9h0m0.3 -14.9h0m0.1 14.6h0m0 9.5h0m0.2 -25.1h0m0.4 18.7h0m0 9h0m0 91.6h0m0.2 -111.6h0m0 107.5h0m0.1 -110.6h0m1.3 -91.7h0m0 20.5h0m0 20.5h0m0 4.1h0m0 31.7h0m0 25.2h0m0.1 -23.1h0m0 28.7h0m0 4.1h0m0.1 -75.6h0m0 33.3h0m0 2.9h0m0 14.7h0m0 11.6h0m0.1 -103h0m0 22.2h0m0 11.4h0m0 2.4h0m0 15.5h0m0 5.7h0m0 10.4h0m0 20.1h0m0.1 -76h0m0 1.3h0m0 5.9h0m0 13.4h0m0 34.6h0m0 3.2h0m0 9.6h0m0.1 -71.1h0m0 20.1h0m0 30.1h0m0 26.8h0m0.1 -69.3h0m0 1.7h0m0 11h0m0 17.7h0m0 17h0m0.1 -56.3h0m0 47.4h0m0 9.5h0m0.1 -72.9h0m0 5.5h0m0 3.1h0m0 21.7h0m0 15.2h0m0 17h0m0 6h0m0 14.2h0m0 3.4h0m0 12h0m0.1 -50.3h0m0.1 3.7h0m0 40h0m0.1 -11.5h0m0 14.2h0m0 3.9h0m0.1 -95.3h0m0 10.4h0m0 203.4h0m0.1 -132.9h0m0.1 -49.5h0m0 179.5h0m0.1 -179.5h0m0 5.1h0m0 181.5h0m0.1 -230.7h0m0.2 57.4h0m0 29.1h0m0 9.3h0m0.2 -28.7h0m0 50.9h0m0 4.2h0m0.1 -41.9h0m0 45.5h0m0.1 -120.4h0m0 21.1h0m0 79.4h0m0.1 5.5h0m0.1 -74.9h0m0.1 -20.8h0m0 114.7h0m0 98.7h0m0.2 -96h0m0.1 -29h0m0 3.9h0m0.1 -61.1h0m0 178.3h0m0.1 -166.7h0m0.1 -34h0m0 19.5h0m0 29.6h0m0 42.3h0m0 7.1h0m0.1 -37.7h0m0 6h0m0 4.4h0m0 9.4h0m0.1 -37.6h0m0 31h0m0.1 -44.4h0m0 33.8h0m0 25.3h0m0 114.8h0m0.1 -118.4h0m0.1 -81.1h0m0 4.8h0m0 7.4h0m0 29.7h0m0.1 -33.1h0m0 197.8h0m0.1 -185.4h0m0 13.2h0m0 14.8h0m0 23.7h0m0 18.9h0m0 6.3h0m0 6.7h0m0.1 -51h0m0.3 142.1h0m0.9 5.7h0m0.1 -3.3h0m0.2 -86.9h0m0.1 -19.7h0m0.1 112.9h0m0.1 -135.7h0m0 33.5h0m0 4.6h0m0.1 -18.8h0m0.1 -10.8h0m0 36.5h0m0.1 -42.5h0m0 3.3h0m0 20.1h0m0.1 -10.6h0m0.6 -1.6h0m0 14.4h0m0 2.8h0m0.2 15h0m0.1 -7.8h0m0.1 -31.6h0m0 4.5h0m0 13.5h0m0.1 -7.3h0m0 25.2h0m0 14h0m0.1 -3.6h0m0.2 -18.3h0m0.1 96.1h0m0.1 -2.9h0m0.9 1.1h0m0 4.5h0m0.1 -112.4h0m0 19.7h0m0.1 -33.4h0m0.1 45.8h0m0.1 -23.8h0m0 20.3h0m0.2 10.1h0m0.1 -49.5h0m0.1 33.2h0m0 13.6h0m0.1 -24.2h0m0 3.7h0m0 10.1h0m1.5 -35.9h0m0 16.5h0m0 100.8h0m0 6.7h0m0.1 -114.3h0m0 23.9h0m0.1 -38.1h0m0 45.3h0m0.1 9h0m0 2.9h0m0.3 -61h0m0 14.6h0m0 13.9h0m0 10h0m0.1 -28.2h0m0 34.6h0m0.1 -13h0m0 97.1h0m0.1 -121.8h0m0.1 -10.9h0m0.7 58.9h0m0.2 76.6h0m0.2 -73.1h0m0.2 2.7h0m0.1 -28.1h0m0.1 94.1h0m0 2.8h0m0.1 -93.4h0m0 4.5h0m0.2 5.1h0m0.1 -9.4h0m0.2 -4.2h0m0 9.5h0m0 18.9h0m0.1 65.3h0m0.1 -96.2h0m0.1 24h0m0 3.1h0m0.8 -22.3h0m0 23.4h0m0.1 -30.1h0m0 10.5h0m0 23.4h0m0 70.1h0m0.4 -100.8h0m0.1 10.1h0m0 86.2h0m0.1 -76.6h0m0 84h0m0.1 -112.9h0m0 22.1h0m0.1 10.8h0m1.3 77h0m0.1 -85h0m0.2 15h0m0 3h0m0.1 -7h0m0.2 70h0m0.1 -87.5h0m0.1 10.7h0m0.1 -13.8h0m0 17.1h0m0.1 -11.3h0m0.4 12.2h0m0 4.1h0m0.1 67.5h0m0.1 7.2h0m0.2 -71h0m0.2 3.6h0m0 64.6h0m0.2 -86.1h0m0 6.7h0m1 80.5h0m0.1 -3.2h0m0.1 5.7h0m0.2 -9.9h0m0.2 -65.9h0m0.1 -21.4h0m0.1 2.6h0m0 6.2h0m0.2 -18.9h0m0.2 4h0m0.1 -7.2h0m0.1 9.8h0m0 7.5h0m0 20.6h0m0.1 3.1h0m0 0.9h0m0.1 -16h0m0.2 -22.5h0m0 41.2h0m0.1 -34.6h0m0 23.1h0m0 3.4h0m0 67.1h0m0 3h0m0.1 -84.9h0m0.3 -24.3h0m0.2 -43.9h0m0 39.3h0m0.1 -31.3h0m0 47.3h0m0 6.5h0m0.1 -14.7h0m0 4.9h0m0 13.4h0m0.2 2.6h0m0.1 -9.8h0m0.6 6.9h0m0 2.9h0m0.1 -27h0m0.1 -3.1h0m0 48.4h0m0.1 -37.8h0m0 10.3h0m0 2.8h0m0 6.4h0m0 4.6h0m0.1 -18.5h0m0 7.7h0m0 28.7h0m0 62h0m0.1 -107.4h0m0 9.7h0m0 9h0m0 12.6h0m0 71.6h0m0 8.6h0m0.1 -109h0m0 1.8h0m0 31h0m0 3.1h0m0.1 -47.2h0m0 4h0m0.1 4.7h0m0 5.5h0m0.1 0.7h0m0 8h0m0 35h0m0.1 -58.9h0m0 29.9h0m0.1 -30.4h0m0 33.2h0m0.9 80.4h0m0.1 2.7h0m0.2 -80.9h0m0 12.6h0m0.4 -25.4h0m0 3.7h0m0 6.4h0m0.1 8h0m0 4.1h0m0 6.7h0m0 6.2h0m0.1 -23.5h0m0 17.9h0m0.1 8.4h0m0.2 -29.1h0m0.3 26.9h0m0.1 57.4h0m0.1 -54.3h0m0.8 -26.8h0m0.1 7.1h0m0.1 11h0m0 6.5h0m0 4.3h0m0.1 -15h0m0.3 8.3h0m0.1 -19.5h0m0 7.1h0m0 77.4h0m0.1 -7.2h0m0.5 3h0m0.2 -62.8h0m0.1 -29h0m0 26.2h0m0.2 -29.5h0m0 6.7h0m0 14.2h0m0.1 -27.5h0m0 42.9h0m0.1 -46.8h0m0 105.8h0m0.1 -77.7h0m0.1 72.6h0m0.1 -79.5h0m0 82.1h0m0.2 -68.7h0m0 74.7h0m1.1 -110.9h0m0 13.6h0m0 90.1h0m0.1 -74h0m0.2 -60.9h0m0 13.3h0m0 10.6h0m0 3.3h0m0 14.2h0m0 20.6h0m0 2.4h0m0.1 -29h0m0 14.9h0m0 3h0m0.1 -50.2h0m0 0.9h0m0 4.3h0m0 8.1h0m0 4.8h0m0 10.8h0m0 30h0m0 15.1h0m0.1 -33.7h0m0 8.9h0m0 4.8h0m0.1 -45.5h0m0 8.1h0m0 53.1h0m0.1 -34.6h0m0 30.5h0m0 11.1h0m0.1 -45.7h0m0.1 -48.2h0m0 13.1h0m0 6.8h0m0 10.6h0m0 31.2h0m0 0.7h0m0 6.7h0m0 0.6h0m0 2.3h0m0 4.1h0m0.1 -52.9h0m0 15.3h0m0.1 -29.1h0m0 33.7h0m0.1 -1.7h0m0 7.9h0m0 23.4h0m0.1 -50.7h0m0 32h0m0.1 -49.1h0m0 11.5h0m0 10.3h0m0 35.8h0m0.1 -16.9h0m0 19.8h0m0.2 -55.8h0m0 21.3h0m0 118.6h0m0.1 -147.6h0m0 32h0m0 28.3h0m0 18h0m0.1 -27.1h0m0 4.9h0m0 1.7h0m0.1 -54.4h0m0 31.8h0m0 46.6h0m0 10.2h0m0 59.2h0m0.1 -56.7h0m0.1 -26h0m0.1 6.6h0m0.2 -65.2h0m0 87.7h0m0.1 -74.1h0m0.1 33.3h0m0 15.2h0m0.1 -58.7h0m0 31.3h0m0 25.9h0m0.2 -53.5h0m0 13.8h0m0 18.2h0m0.1 -28.2h0m0 14.6h0m0 4.8h0m0 20.9h0m0 5h0m0 8.1h0m0.2 -46.4h0m0.4 24.8h0m0.4 45.1h0m0 51.6h0m0.2 -84.1h0m0.3 2.5h0m0.2 23.2h0m0.1 -20.1h0m0.3 -5.8h0m0 11.4h0m0 76.6h0m0.1 -73h0m0.1 70h0m0.1 -76.8h0m0.1 -26.1h0m0 7.4h0m0 47.1h0m0.1 -31.1h0m0 14h0m0.1 3.5h0m0.1 -20.6h0m0.1 30.3h0m0.2 -57.4h0m0.8 58.2h0m0.1 49.8h0m0.1 3.9h0m0.1 -77.5h0m0 16.8h0m0.3 -9.4h0m0.1 24.6h0m0.1 -20.7h0m0 16.1h0m0.1 51.5h0m0.1 -65.1h0m0.4 17.5h0m0 45.1h0m0.1 -2.5h0m0.1 -60.2h0m0 11h0m0.1 -15.3h0m0.1 -8.6h0m0 20.8h0m0.8 53.8h0m0.2 -65.6h0m0 14.4h0m0.1 -4.1h0m0 14.7h0m0.1 38.1h0m0.2 -59h0m0 2.9h0m0.1 11.7h0m0.2 3.3h0m0.1 -25.5h0m1.7 14.9h0m0 52.2h0m0.1 7.5h0m0.1 -52.9h0m0.1 48.8h0m0.1 -41.7h0m0.3 -11h0m0.1 7.2h0m0.1 -13h0m0.1 -3.4h0m0.9 15.1h0m0.2 -17.4h0m0 14.4h0m0 52.9h0m0.2 -46.7h0m0 44h0m0.1 -60.3h0m0.1 57.7h0m0.1 -50.1h0m0.8 47.9h0m0 4.1h0m0.1 -62.7h0m0.1 18.2h0m0.3 52.7h0m0.1 -5.4h0m0.2 -58.9h0m0 7.7h0m1 -7.3h0m0.1 7.5h0m0.1 4.3h0m0.1 -7.6h0m0.2 47.1h0m0.2 -57.4h0m0.1 -7.5h0m0 68.5h0m0.2 -60.5h0m0.2 -13h0m0 2.7h0m0.1 25.1h0m0 2.7h0m0.3 -14.1h0m0.1 -6.4h0m0.2 63.9h0m0.1 5.6h0m0.2 -2.6h0m0.2 -5.6h0m1.1 -64.1h0m0 64.1h0m0.2 -57.5h0m0 11h0m0 49.9h0m0.3 -57.4h0m0.1 -7.4h0m0 69.1h0m0.1 -61.5h0m0 4h0m0 5.9h0m0.1 1.3h0m0.1 -4.5h0m0.1 -11h0m0 18.7h0m0.2 -26h0m0.3 3.1h0m0.7 66h0m0.2 -3.4h0m0.5 -62.4h0m0 68.5h0m0.1 -80.1h0m0.2 2.7h0m0 2.5h0m0 68.5h0m0.1 -48.4h0m0.1 -17.1h0m0 9.5h0m0.2 12.4h0m0 47.5h0m0.1 -62.8h0m0 5.9h0m0 7h0m0 6.8h0m0.8 -9.3h0m0 12.8h0m0.3 42.7h0m0.2 -6.5h0m0.1 -45.6h0m0.1 -7.7h0m0 55.8h0m0.1 -63.6h0m0 18.4h0m0 3.1h0m1.2 -13.3h0m0.4 -16.4h0m0.1 3.8h0m0 15.3h0m0 49.2h0m0.1 -45.3h0m0.2 -16h0m0.2 6.9h0m0 57.3h0m0.1 -0.3h0m0.3 -62.4h0m0 13.2h0m0.1 -18.7h0m0 63.9h0m0.1 -49.2h0m0.1 -19.1h0m1 16.3h0m0 14h0m0.2 -5.5h0m0.1 -11.2h0m0 13.8h0m0.4 7.3h0m0 2.8h0m0 31.3h0m0.1 4.2h0m1.1 -57.4h0m0.1 9.4h0m0.1 11.1h0m0.1 -3.2h0m0.1 -23.8h0m0 19.7h0m0.2 -6.3h0m0 47.9h0m0.3 5.6h0m0.4 -3.2h0m0.7 -52.3h0m0 7.3h0m0 6.5h0m0.2 -22.1h0m0.1 25.9h0m0 31.6h0m0.1 -45h0m0.2 49.6h0m0.2 -57.6h0m0.1 14.7h0m0.4 7h0m0.1 -4.1h0m0.3 -20.1h0m0 4.4h0m0.2 7h0m0.2 -15.1h0m0.5 59.9h0m0.1 3h0m0.1 4.5h0m0.6 -47.8h0m0.1 -15h0m0 8h0m0.1 54.3h0m0.1 -58.3h0m0 55.5h0m0.1 -41h0m0.1 4.2h0m0 33h0m0.1 -43.8h0m1.3 49.5h0m0.1 -7h0m0.3 -31.6h0m0 35.2h0m0 7h0m0.1 -45.1h0m0.2 -5.9h0m0.2 -4.1h0m0 6.6h0m0.1 -9.4h0m1 14.3h0m0.1 -18.6h0m0 6.6h0m0 16h0m0.4 -19.4h0m0 25.6h0m0.1 -5.3h0m0.1 28.1h0m0.1 -41h0m0 9.5h0m0.1 35.4h0m0.2 -42.9h0m0.4 13.5h0m0.1 27h0m0.2 3.7h0m1.4 -33.8h0m0 34.1h0m0.1 -3.6h0m0.1 -41h0m0.2 7h0m0.1 7.5h0m0.1 3.4h0m1.1 28.9h0m0.1 -29.4h0m0.3 -3.3h0m0.1 -3.2h0m0.1 33.4h0m0.1 -22.7h0m0 19.7h0m0.2 -39.2h0m0.1 5.2h0m0.2 -0.8h0m0.1 4.1h0m0.1 7.1h0m0.2 25.5h0m1.1 -36.1h0m0 10.6h0m0.2 -14.7h0m0.2 38.9h0m0.1 -32.2h0m0 36.4h0m1 -47.1h0m0.1 9.5h0m0.1 -5.7h0m0.2 8.8h0m0.2 3.1h0m0.1 29.3h0m0.1 4.3h0m0.3 -7.7h0m0.7 -54.3h0m0 2.9h0m0 50h0m0 10h0m0.2 -38.5h0m0.2 -14.9h0m0.2 49.6h0m0.1 -46.5h0m0 7.5h0m0 36.2h0m0.1 -59h0m0.1 9.4h0m0 8.8h0m0.6 -14.9h0m0.2 13.1h0m0.1 2.4h0m0.2 -18.9h0m0.2 -4h0m0 13.3h0m0.1 -2.8h0m0.3 54.9h0m0.1 -3.2h0m0.2 5.9h0m0.7 -4.3h0m0.1 -60.5h0m0 56.1h0m0.6 -35.3h0m0 43.8h0m0.6 -45.6h0m0.5 -11.4h0m0.1 3.2h0m0 51.2h0m0.2 -39.5h0m0.1 -7.7h0m0.2 43h0m0.4 7.5h0m0.9 -5.7h0m0.3 -38.2h0m0 10.6h0m0 31.7h0m0.2 -38.9h0m0 9.9h0m0.3 -21.6h0m0.1 4.3h0m0.7 3.1h0m0 13.3h0m0.2 25.8h0m0.5 -47.1h0m0 11.8h0m0.1 6.5h0m0.2 5.5h0m1.3 -12.8h0m0.1 3h0m0.3 32.1h0m0.1 -24.4h0m0 3.6h0m0.3 24h0m0.5 2.9h0m0.3 -49.4h0m0 17.9h0m0.1 -13.7h0m0.1 9.3h0m0.1 -17.8h0m0 15.3h0m0 35.3h0m0.1 -25.6h0m0.4 28.2h0m0.5 -54.4h0m0 7h0m0.2 -14.4h0m0 14.4h0m0 17h0m0 26.3h0m0.1 -29.6h0m0.3 -7.8h0m0.1 -22.7h0m0 4.3h0m0 1.9h0m0.2 13.4h0m1.3 41.6h0m0.2 -38.9h0m0.1 3h0m0.1 4.3h0m0.2 -9.4h0m0 14h0m0.1 29.5h0m0.1 -28.1h0m0.5 -18h0m0 14.7h0m0.1 -2.6h0m0.1 -14.5h0m1 20.9h0m0 22.5h0m0.1 -35.2h0m0.1 -2.6h0m0.4 39.3h0m1.2 -2.1h0m0 6.4h0m0.6 -48h0m0 44.3h0m0.3 -31.9h0m0.1 7.2h0m0.1 -4.3h0m0.1 -19.2h0m0.1 11.9h0m1.3 -5h0m0 3.6h0m0 9.5h0m0 26.5h0m0.2 -42.5h0m0 19.8h0m0.2 27h0m1.4 -23.9h0m0 21.9h0m0.3 -32h0m0.3 6.6h0m0.2 27.5h0m0.2 -3.6h0m0.2 -17.7h0m0.1 -2.6h0m0.1 -3h0m0.3 -8.4h0m0 3.3h0m0.4 2.5h0m0.7 6.8h0m0.4 -4.3h0m0 25.9h0m0 2.4h0m0.1 -20.5h0m1 20.2h0m0.1 -33.9h0m0.2 14.6h0m0.1 14.7h0m0.2 -24.4h0m0.1 6h0m0.2 -3.5h0m0.7 22.8h0m0.1 3.5h0m0.1 -27.5h0m0 12h0m0.1 -6.8h0m0.5 3.9h0m0.6 18.4h0m0.2 -4.3h0m0.6 -11.7h0m0.2 -3.6h0m0.4 -3.2h0m0.6 20.7h0m0.4 -17.1h0m0.1 3.7h0m0.4 -8h0m1.6 2.9h0m0.1 21.6h0m0.1 -3.8h0m0.2 -14.8h0m0.1 -10.4h0m0 3.1h0m0.6 8.6h0m0.2 16.5h0m0.1 -21.9h0m0 18.2h0m0.2 -29.6h0m0 14.2h0m0.3 -18h0m1.1 -2.1h0m0.2 7.1h0m0.2 -10.2h0m0 42.8h0m0.1 -48.4h0m0.1 19.5h0m0.5 -18h0m0.1 44.5h0m0.1 -26.8h0m0.2 -4.3h0m0.4 -5.6h0m0.2 35h0m0.6 -0.5h0m0 2.9h0m0.4 -19.6h0m0.1 -16.5h0m0.3 13.5h0m0.2 -6.5h0m0.1 -3.3h0m0.1 6.1h0m0.6 6.8h0m0.2 -12.6h0m0.1 3.1h0m0.1 7.1h0m0 19.8h0m0.1 -14.7h0m0 18.3h0m1.5 -31.1h0m0.1 12.4h0m0.7 -16.9h0m0.2 35.5h0m0.2 -4h0m0.6 -18.2h0m0.2 21.3h0m0.4 -24.5h0m0.2 -2.7h0m0 9.3h0m1.4 0.8h0m0.1 -17.9h0m0.6 35.3h0m0.1 -31.1h0m0 4.2h0m0 5.5h0m0 0.2h0m0.4 -2.6h0m0.2 -3h0m0 23.6h0m0 4.1h0m0.2 -34.9h0m1.4 31.3h0m0.2 -26.8h0m0.1 7h0m0.1 4.5h0m0.2 -6.9h0m1.1 23.6h0m0.2 4.6h0m0.3 -23.3h0m0.4 3.4h0m0.1 -6.7h0m0.2 6h0m0.2 17.8h0m0.2 -15h0m2.1 16.5h0m0.1 -22.7h0m0.1 7h0m0.1 11.6h0m0.2 -16.1h0m0.5 -1.5h0m0.3 3.9h0m0.8 13.9h0m1.1 0.5h0m0.4 -22.7h0m0.1 -6.4h0m0.3 -3.5h0m0 15.9h0m0.7 -31.5h0m0 7.3h0m0.5 4.3h0m0.3 -17.6h0m0 3.5h0m0.4 50.8h0m0 0.9h0m0.2 -4.3h0m0.2 6.6h0m0.1 -5.8h0m0.4 -55.7h0m0.2 7.2h0m0.3 12.3h0m0 3.5h0m1 -21.6h0m0 11.5h0m0 52.1h0m0.1 -55.3h0m0.1 7h0m0 7.7h0m0.1 31.7h0m1.6 -49.7h0m0.2 51h0m0.1 -33.8h0m0 31.4h0m0 5.4h0m0.2 -43.4h0m0.1 -13.4h0m0 2.2h0m0 7.1h0m0 7.4h0m0.2 -10.7h0m0 7.3h0m0 40.2h0m0.2 -42.9h0m0.2 9.1h0m2.2 -14.4h0m0 10.6h0m0.2 35.2h0m0.1 8.1h0m0.1 -3.9h0m0.1 -43.4h0m0 7h0m0.1 -10h0m0.1 -6.1h0m0.1 19h0m0.6 38h0m0.1 -8h0m0.4 -39.7h0m0.1 2.6h0m0.2 41.4h0m0.4 -32.6h0m0.2 32.1h0m0.1 -43.6h0m0 10.3h0m0.2 4.4h0m0 8.5h0m0.2 17.9h0m0.2 -38h0m1.5 38.6h0m0.3 -20.9h0m0.3 -4.6h0m0.4 -2.8h0m0.4 28.5h0m0.1 -27.4h0m0.1 -10.2h0m0.6 -3.6h0m0.1 7.8h0m0.1 10.4h0m0.9 -12.5h0m0.2 14.8h0m0.1 -3.3h0m0.3 -7.1h0m0 2.7h0m0.1 28.2h0m0.7 2.9h0m0.9 -31.1h0m0.1 3.9h0m0 6.5h0m0.2 -2.9h0m0.1 -11.6h0m0.3 33.5h0m0.4 -23.2h0m0 4.1h0m0.1 -7.8h0m0.3 29.8h0m1.3 -22h0m0.1 -2.8h0m0.1 -7.2h0m0.1 4.4h0m0 9.2h0m0 17.9h0m0.2 -2.9h0m0.4 0.2h0m1.4 -33.8h0m0.1 16.8h0m1.3 16.8h0m0.1 -17.9h0m0.2 -4.2h0m0.2 8h0m0.3 -4.9h0m0.1 22.9h0m0.1 -30.9h0m0.2 27h0m0.3 -14.8h0m2.2 -1.3h0m0 16.3h0m0.2 3.2h0m0.3 -26.8h0m0 4.4h0m0.4 1.7h0m0.1 -3h0m1 20.9h0m0.9 0.5h0m0.1 -24.5h0m0 27.3h0m0.7 -24.2h0m0.1 2.5h0m0.1 -8.3h0m0.8 2.8h0m0.1 -8h0m0 31.5h0m0.1 -19.8h0m0.4 23.6h0m0.4 -41.6h0m0 9.4h0m0.3 3.4h0m0.1 -9.7h0m0.4 13.2h0m0.1 25.1h0m0.2 -3.3h0m1.1 -21.4h0m0.1 19.2h0m0 4h0m0.3 -27.3h0m0.1 -3h0m0.9 27.4h0m0.3 -24.6h0m0.4 -9.8h0m0.2 12.7h0m0.1 3.6h0m0.6 23.3h0m0.3 -2.8h0m0.2 -39.1h0m0.6 4.2h0m0 13.8h0m0.1 -11.4h0m0.7 5.3h0m0 28.2h0m0.2 -19.8h0m0.2 16.2h0m0.1 -28.2h0m0.3 7.9h0m1.3 2.3h0m0.1 -8.5h0m0.2 -2.7h0m0 32.3h0m1.2 1.7h0m0.2 -27.2h0m0.2 4.3h0m0.2 -10.3h0m0.1 -4.2h0m0.1 11.3h0m0.1 22.1h0m0.5 -19.1h0m0.1 17.8h0m0.2 -35.4h0m0 7.7h0m0 31h0m0.1 -27.8h0m1.1 5.6h0m0.6 -20.5h0m0.1 17.1h0m0.2 -10.4h0m0.6 32.7h0m0 2.4h0m0.5 -1.3h0m0 4.2h0m0.2 -40.8h0m0.1 -5.6h0m0.1 19.4h0m0.1 -9.5h0m0.1 7.1h0m1 3.2h0m0.2 -20.9h0m0.2 2.9h0m0.1 4.2h0m0 39.4h0m0.1 -35.3h0m0.1 6.8h0m0.3 24.7h0m0.3 -20.5h0m0 23.9h0m0.4 -26.6h0m0.2 -4.4h0m0 28.5h0m1.5 -29h0m0 9.5h0m0.1 -7h0m0.5 26.2h0m1.3 -29.5h0m0 30.3h0m0.1 -18.7h0m0 22.7h0m0.2 -25.4h0m0.2 -5.7h0m1.6 -4.8h0m0.3 2.8h0m0.1 10.5h0m0.2 -7.8h0m0.1 26.7h0m0.5 -0.5h0m0.3 -15.4h0m0.3 -17.7h0m0.2 3.7h0m0.2 2.8h0m0 2.8h0m1.2 -1.8h0m0.1 28.6h0m0.2 -20.7h0m0.1 3.3h0m0.5 13.1h0m0 1.4h0m0.4 -26.2h0m0 27.4h0m0 2.6h0m0.4 -22.8h0m0.5 4h0m0.7 16.7h0m0.8 -23.7h0m0.4 6.6h0m0.2 -3.1h0m0.4 -4.6h0m0.1 3.4h0m0.1 -8.6h0m0.1 13h0m0.5 14.4h0m0.2 3.3h0m0.5 -18.4h0m0 15.3h0m0.6 -19h0m0.1 -2.7h0m0.9 23.6h0m1.3 -22.2h0m0.4 4.2h0m0.5 18.8h0m0.1 -22.4h0m0.1 -3.9h0m0.6 23.7h0m1.2 -21.7h0m0.2 2.7h0m0.1 -16.6h0m0.1 3.2h0m0 32.6h0m0.2 4.1h0m0.6 -31.6h0m0.3 7.9h0m0.4 -3.3h0m0.2 24.6h0m0.3 -22.3h0m0.4 -8.3h0m0.2 11h0m0 17.3h0m0.3 -32.3h0m1.1 2.8h0m0 13.9h0m0.3 -9.9h0m0 7.4h0m1 -9.3h0m0 28.8h0m0.1 -21.2h0m0 3.2h0m0.4 17h0m0.6 3.4h0m0.6 -24.7h0m0.5 -3.2h0m0 6.9h0m0.4 -11h0m0.1 28.6h0m0.2 3h0m0.9 -2.7h0m0.1 -25.2h0m0 5.9h0m0.2 23.1h0m0.5 -20.6h0m0.2 -5.4h0m0.5 4.9h0m0.3 -6.4h0m0.3 -3.8h0m0.1 7.1h0m0.1 22.9h0m0.3 -2.5h0m1.4 -17h0m0.5 -7h0m0 24.1h0m0.6 -32.6h0m0 5.4h0m0.3 8.7h0m0.5 -5.1h0m0 2.6h0m0.2 20.9h0m0.7 -25.1h0m0.4 10.4h0m0.1 -7.6h0m0.3 3.1h0m0.9 -8.4h0m0 28.5h0m0.1 -14.8h0m0.3 -6.6h0m0.1 21.7h0m0.3 -19.3h0m1.3 3.9h0m0.1 -4.2h0m0.4 21.5h0m0.1 -3.6h0m0.7 -18.1h0m0.3 4.3h0m0.2 15.8h0m0.2 -3.1h0m0.9 -20.3h0m0 3.6h0m0.2 3.6h0m0 17h0m0.1 -27.2h0m0.2 -5.9h0m1 14.4h0m0.5 -6.9h0m0.5 26.3h0m0.3 -3.9h0m1.3 0.9h0m0 3.2h0m0.2 -21h0m0.4 -3.7h0m0.7 -3.6h0m0 25.6h0m0.1 -21.4h0m0 3.6h0m0.3 20.4h0m0.9 -28.5h0m0.2 26.3h0m0.2 -19.4h0m0.2 -9.7h0m0.8 8.7h0m0.5 -11.9h0m0.2 31h0m0.1 -23.6h0m1 27.4h0m0.2 -41.1h0m0.4 11.9h0m0 26.1h0m0.2 -28.7h0m0.2 -13.3h0m0 18.7h0m1.2 -5.6h0m0 3.7h0m0.1 -20h0m0 7.8h0m0 4.2h0m0.3 -8.2h0m0 41.1h0m1.1 -0.1h0m0.1 -3.1h0m0.1 -26.1h0m0.1 -3.3h0m0.6 -9.5h0m0 2.7h0m1 41.4h0m0.2 -40.3h0m0.1 36.5h0m0.1 -50.3h0m0.1 -3.4h0m0.2 20.5h0m0.3 3.9h0m0.1 -17h0m0 2.6h0m0 46.3h0m0.2 -58.6h0m0 20.2h0m0.2 -3.5h0m0.1 -14h0m0.2 5.9h0m0 14.7h0m0 32.6h0m0.3 -43.1h0m1.4 -17.5h0m0.2 24.6h0m0.1 -6.7h0m0.2 3.5h0m0.2 -7.8h0m0.1 49.5h0m0.6 -4.5h0m0.3 -57.3h0m0 14.1h0m0.1 -6.8h0m0.1 -2.8h0m0.1 13.4h0m0.2 3.4h0m0.2 -28.4h0m0.1 64.9h0m0.8 -70.2h0m0.1 8.2h0m0.1 21.3h0m0.2 41.5h0m1.2 -54.2h0m0.2 10.3h0m0 43.9h0m0.4 -40.6h0m0.3 -20.5h0m1 58.7h0m0.1 3.2h0m0.4 -40.8h0m0.2 3.2h0m0.3 -26.8h0m0.1 5.4h0m0.1 59.5h0m0.1 -62.3h0m0 5.8h0m0.7 59.1h0m0.1 -58.9h0m0 19.7h0m0.1 3.3h0m0.5 0.2h0m0 2.5h0m0.1 -18h0m0.5 45.4h0m0.5 3.3h0m0.9 -4h0m0.3 -51.5h0m0.2 15.9h0m0 4h0m0 34.3h0m0 4.4h0m1.4 -60.8h0m0.1 -4.5h0m0 21.7h0m0.1 39.7h0m0.1 -65h0m0 18.1h0m0.2 4.1h0m1 41.6h0m0.4 -49.8h0m0 4.3h0m0.2 -15.4h0m0.5 -18.9h0m0.1 -2.6h0m0 25.2h0m0.1 58h0m0.2 -2.9h0m0.2 -68.3h0m0 6.9h0m0.1 -9.5h0m0.3 5.5h0m0 14.6h0m0.1 59h0m0.1 -82.3h0m0.1 -7.6h0m0.1 -17.6h0m0 41.5h0m0.2 -28.5h0m0.1 -7h0m0.8 101.8h0m0.3 -6.5h0m0.4 -72.6h0m0 3.3h0m0.1 3.1h0m0 18.4h0m0.4 -44.5h0m0.1 47.9h0m0 4.3h0m0.1 -44.2h0m0.2 9.1h0m0 14.6h0m0 6.4h0m0 56.2h0m0.1 -48h0m0.1 -7.3h0m0.3 13.9h0m0.1 -10.6h0m0.1 -14.7h0m0.1 7.5h0m0 55.5h0m0.8 -50.2h0m0.1 10.1h0m0.1 7.9h0m0.4 -15.5h0m0.2 11h0m0 46.4h0m0.1 -63.7h0m0 53.8h0m0.5 3.5h0m0.9 1.6h0m0.1 -3.5h0m0.2 -45.5h0m0.2 -2.5h0m0.1 -18.6h0m0.1 24.4h0m0.1 -9.4h0m0.1 12.1h0m0 4.2h0m0.2 -25.4h0m0.1 -9.2h0m0.2 25.3h0m0 3.1h0m0.1 -10.5h0m0 3.3h0m0 49.8h0m0.1 -57.4h0m0 54.3h0m1.7 2.9h0m0.4 -71.6h0m0.1 -9.6h0m0.3 16.9h0m0 11.6h0m0.1 -25.4h0m0.1 -7.4h0m0 28.4h0m0.1 -3.5h0m0.1 -25.5h0m0.4 7.2h0m0 10.4h0m0.4 10.6h0m0.2 -22.6h0m0.2 14.6h0m0 65.2h0m0.2 -68.7h0m0.1 4h0m0.3 -13.3h0m0 22.3h0m0.2 -18.3h0m0.1 -8.3h0m0.1 10.7h0m0.1 23.2h0m0.1 54.7h0m0.4 -6.5h0m0 3.2h0m0.8 -69.4h0m0.1 21.4h0m0.1 -6.9h0m0.2 50.8h0m0.2 -56.9h0m0.1 -4.6h0m0 64.4h0m0.6 -42.3h0m0.4 -20.1h0m0.1 12.4h0m0 48.4h0m0.2 -56.8h0m0.2 4h0m0 7.9h0m1.2 2.8h0m0.2 44.3h0m0.3 -47.2h0m0.1 -7h0m0.1 -17.4h0m0.1 10.8h0m0.1 -7.5h0m0 11h0m0.1 6.5h0m0 47.2h0m0 6h0m0.7 -69.4h0m0.2 6.9h0m0.3 6.3h0m0 8.5h0m0.3 -17.6h0m0 61.5h0m0.1 -55h0m0.3 61.4h0m0.1 -9.7h0m0.2 6.5h0m0.4 -5.1h0m0.9 -67.4h0m0.2 -3.2h0m0.1 -23.2h0m0.1 16.2h0m0 18.4h0m0.1 -26.1h0m0 3.2h0m0 18.8h0m0.2 -10.6h0m0.4 74.2h0m1.3 -2h0m0 4h0m0.5 -113.2h0m0.1 10.4h0m0.1 3.4h0m0 15h0m0.1 -8.6h0m0.1 -12.5h0m0.2 -10.1h0m0 7h0m0.1 11.8h0m0.1 -21.8h0m0.2 122.9h0m0.1 -4.5h0m0.3 -4h0m0.3 -98.1h0m0.1 2.9h0m0.1 3.6h0m0.2 -18.8h0m0 29.5h0m0.1 -6.7h0m0 3.1h0m0.1 6.4h0m0.3 -27.9h0m0.7 -1.4h0m0 27.8h0m0.2 -24.4h0m0.1 21.8h0m0.1 88.3h0m0.1 -3.4h0m0.1 -100.8h0m0.1 -2.7h0m0 5.3h0m0 10.3h0m0.2 -7.7h0m0 16.9h0m0 4.5h0m0.7 -23.2h0m0.1 -21.2h0m0 119.6h0m0.1 -111.9h0m0.1 108.5h0m0.1 -104.8h0m0 14h0m0 97.4h0m0.3 -104.3h0m0.4 0.5h0m0.1 -10.6h0m0 6.6h0m0.3 -15.8h0m0 3.2h0m0 19.3h0m0.1 -10h0m0.7 106.4h0m0.1 3.6h0m0.9 -100.6h0m0.2 -28.6h0m0.1 2.7h0m0 15.8h0m0 6.2h0m0 101.8h0m0.1 -95.3h0m0.1 -25.1h0m0.3 7.9h0m0.2 -3.6h0m0.7 9h0m0 20.9h0m0.1 -14.5h0m0.1 10.8h0m0.1 -4h0m0.2 93.1h0m0.4 -95.8h0m0.3 -1.4h0m0.2 17.2h0m0.3 3.1h0m0.2 -16.1h0m0.1 -14.9h0m0.1 3.4h0m0 3.1h0m0.3 105.4h0m0.1 -4.3h0m0.6 -2.3h0m0.3 7.2h0m0.5 -96.4h0m0.1 -14.7h0m0 108.1h0m0.3 -97.8h0m0 2h0m0 11.3h0m0.2 -14.9h0m0 15.4h0m0 10.9h0m0.5 -29.2h0m0 21.7h0m0.3 78.8h0m1.3 4.3h0m0.2 -4h0m0.2 -91.9h0m0.2 -19.1h0m0.1 7.6h0m0.5 -15.2h0m0 22.8h0m0.8 93.9h0m0.1 8.1h0m0.2 -138.4h0m0 6.4h0m0.3 128h0m0.3 -124.5h0m0 4.5h0m0 3h0m0.1 14.2h0m0.2 -10.1h0m0.4 111h0m0.3 -126.6h0m0.2 10.6h0m0.1 -2.8h0m0.1 -12.3h0m0.2 8.4h0m0.2 -11.1h0m0.1 28.2h0m0 9.1h0m0 94.9h0m0.1 -109.1h0m0.1 3h0m0.3 3.3h0m0.1 3.5h0m0.1 -12.9h0m0.1 -3.8h0m0.4 3.3h0m0.2 8.7h0m0.1 -18.9h0m0.1 36.7h0m0.1 -33.2h0m0.1 128.8h0m0.2 -109.4h0m0.1 -7.3h0m0 14.7h0m0 91.5h0m0 3.7h0m1.8 -115.1h0m0 112.2h0m0.1 -94.4h0m0.1 2.7h0m0.2 10.9h0m0 84.8h0m0.2 -87.7h0m0.1 -21.4h0m0.1 -13.3h0m0.1 9.8h0m0 11.8h0m0.4 0.6h0m0.2 20.7h0m0.1 -33.6h0m0.1 26.1h0m0 89.5h0m0.1 -111.2h0m0 25.6h0m0.1 82.5h0m0.1 -3.9h0m0.1 -99.8h0m0.6 2.5h0m0.1 3h0m0.3 -8.1h0m0 22h0m0.1 -7h0m0 11h0m0.5 77.2h0m0.7 4.6h0m0.4 -3.9h0m0.3 -99.1h0m0.1 3h0m0.5 -13.1h0m0.2 2.8h0m0 16.8h0m0.3 88.3h0m1.3 -113.4h0m0 12.5h0m0 3.3h0m0.2 -24.7h0m0.1 -2.8h0m0 6.4h0m0.1 11.8h0m0.1 -25.5h0m0 23.2h0m0 4.1h0m0.3 -6.4h0m0 8.4h0m0.1 -10.9h0m0.1 -15.2h0m0.1 6.9h0m0.7 124.8h0m1.1 -137.5h0m0 12h0m0.3 -17.6h0m0 28.4h0m0.1 -4h0m0.1 -30.2h0m0.2 26.5h0m0 122.3h0m0.1 -133.3h0m0 21.2h0m0 111.7h0m0.1 -3.5h0m0.1 1.3h0m0.1 -153.6h0m0.4 34h0m0.1 -13.5h0m0.1 7.5h0m0 16.3h0m0.2 -12.9h0m0 10.4h0m0.3 -32.5h0m0.1 29.3h0m0.6 3.1h0m0.2 5.8h0m0.1 108.6h0m0.1 -129.1h0m0 17.6h0m0.1 -26h0m0 140h0m0.1 -125.5h0m0.2 -10h0m0.6 140.7h0m0.4 -10.7h0m0.1 7.6h0m0.1 -4.4h0m0.4 -130.5h0m0 4.6h0m0 3.3h0m0.1 -24.8h0m0.1 27.6h0m0.1 -22.4h0m0 35.3h0m0.1 -10.4h0m0.1 -20.6h0m0.2 23.3h0m0 10.9h0m0.5 -27.6h0m0 13.8h0m0.2 117.6h0m0.1 -128.2h0m0 16.4h0m0.4 3.1h0m0.1 -25.6h0m0 9.1h0m0 19h0m0.5 106h0m0.2 -129.9h0m0 22.8h0m0.3 -16.4h0m0 6.8h0m0 7h0m0 107h0m0.1 -123.9h0m0.2 14h0m0.5 119.3h0m0.1 -2.8h0m0.1 -114h0m0.1 -25.3h0m0.1 3.9h0m0 3.7h0m0 6.9h0m0.1 -3.1h0m0.1 121.6h0m0.1 -115h0m0.1 10.8h0m0.1 107.9h0m0.9 -0.9h0m0.7 -3.8h0m0.5 -119.8h0m0.4 7.1h0m0.1 -17.2h0m0 3.8h0m0 16.2h0m0.2 4.1h0m0.4 -36.9h0m0 22.8h0m0.3 -14.6h0m0.3 137.9h0m0.2 -127.3h0m0 17.1h0m0.1 -6.2h0m0 9.2h0m0 3.7h0m1.1 -2.3h0m0.2 -7.6h0m0.2 3.5h0m0.2 -20.5h0m0.3 7.8h0m0 121.2h0m0.6 -125.2h0m0 3.2h0m0.1 -27h0m0 36h0m0 7.5h0m0.1 -31.7h0m0.3 -6.5h0m0.1 34.2h0m0.1 -23.2h0m0.2 3.7h0m0.1 131.5h0m0 0.7h0m0.1 -5.7h0m0 9.2h0m0.1 -7.4h0m0.1 1.4h0m0.2 -163.3h0m0 7.7h0m0.1 3.9h0m0.5 15.1h0m0 4.2h0m0.1 -49.1h0m0.1 44.7h0m0.1 -38.7h0m0 31.5h0m0.1 15.3h0m0 4.3h0m0 9.8h0m0.2 -31.4h0m0 36h0m0.1 -60.6h0m0 30h0m0.3 -1.7h0m0.3 34.1h0m0.1 -6h0m0.1 -24.7h0m0 11.1h0m0 16.3h0m0.2 -24.5h0m0.2 134.9h0m0.5 2.7h0m0.1 -3.1h0m0 8.7h0m0.3 -2.9h0m0.1 -115.8h0m0.2 -3.8h0m0.1 -17.6h0m0 24.5h0m0.1 -15.6h0m0.1 -5.8h0m0 2.9h0m0.1 9h0m0.6 -30.5h0m0.3 22.9h0m0.1 -16.6h0m0 19.5h0m0 11.8h0m0.1 -51.6h0m0 10.3h0m0.1 6.8h0m0 6.9h0m0.2 -21h0m0 28h0m0 17.3h0m0.1 -41h0m0.9 158.6h0m0.1 -5.9h0m0.1 3.4h0m0.1 7h0m0.4 -120.3h0m0.1 -44.8h0m0.1 28.6h0m0.1 -16.8h0m0.1 -8.6h0m0 12.3h0m0 4.2h0m0 16.5h0m0 120.5h0m0.1 -165.3h0m0.1 49.3h0m0.1 -46.4h0m0 2.7h0m0 12.7h0m0 16h0m0.1 -17.2h0m0.2 -23.8h0m0.1 -11.4h0m0 7.8h0m0 56.6h0m0.2 -22h0m0.1 0.3h0m0 2.7h0m0 3.7h0m0 11h0m0 7.1h0m0.1 -34.6h0m0.1 -11.1h0m0.1 -6.5h0m0 40.6h0m0 15.3h0m0.1 -68.3h0m0 26h0m0.1 24.2h0m0 131.4h0m0.1 -151.1h0m0.4 148.1h0m0.1 -157.1h0m0.1 166.7h0m0.1 -119.4h0m0 116.8h0m0.4 -151.1h0m0.1 27.7h0m0.3 3.2h0m0.1 -37.9h0m0 3.4h0m0 17.6h0m0.5 129.7h0m0.1 3.9h0m0.2 5.5h0m0 3.8h0m0.2 -12.2h0m0.2 -115.2h0m0.3 -21.5h0m0.3 14.7h0m0 14.8h0m0.1 -36.4h0m0 33.5h0m0.1 -22.7h0m0.5 134.1h0m0.3 3.3h0m0.6 -141.2h0m0 2.7h0m0.2 4.2h0m0.3 19.1h0m0 4.2h0m0.1 -19.1h0m0.1 11.6h0m0 1.6h0m0.1 -32.2h0m0 3.5h0m0.3 2.6h0m0 17h0m0 11.8h0m0 116.8h0m0.1 -124h0m0.1 -18.8h0m0 11h0m0.1 125h0m0 3.2h0m0.1 -132.2h0m0.2 -2.6h0m1.3 131.6h0m0.2 7.4h0m0.1 -3.5h0m0.1 -109h0m0.3 -32.7h0m0.1 11.5h0m0.2 -4h0m0 17.9h0m0.1 -3.7h0m0.1 7.7h0m0.2 108.7h0m0.3 -115.7h0m0.1 -6.6h0m0.2 125.3h0m0.1 -108.3h0m0.1 -31.4h0m0.3 3.9h0m0.1 4.3h0m0 8.7h0m0.6 118h0m0.4 4.1h0m0.1 -115.6h0m0 3.9h0m0.1 -14.1h0m0 3.5h0m0.1 14.4h0m0.1 -27.2h0m0 16.5h0m1.4 117.4h0m0.1 -149.7h0m0.1 155.2h0m0.1 -3.1h0m0.1 -148.4h0m0.1 2.9h0m0 11.3h0m0 4.5h0m0.4 -25.2h0m0 13.5h0m0.1 20.6h0m0.4 -5.8h0m0.1 2.7h0m0 120.5h0m0.2 -143.5h0m0.1 147.2h0m0.2 -136.9h0m0 2.8h0m0.1 -5.3h0m0.1 145h0m0.9 -137.4h0m0.3 -13.5h0m0.1 3.4h0m0 140.5h0m0.2 -126.2h0m0 3.8h0m0.3 119.3h0m0.3 -143h0m0.1 -7.8h0m0.1 27.1h0m0.1 -23.2h0m0 7.1h0m0 6.7h0m0 134.4h0m0.2 -159.7h0m0.3 3.2h0m0 28.2h0m1.1 130.6h0m0.1 5h0m0.1 -2.5h0m0.2 -6.6h0m0.3 -157.2h0m0 19h0m0.2 -29.8h0m0 36.7h0m0.4 -80.5h0m0 76.6h0m0.2 -71.1h0m0 33.6h0m0 12h0m0 7.7h0m0 11.7h0m0.1 -70.4h0m0 13.4h0m0 53h0m0.1 -11.5h0m0 159.8h0m0.1 -165.7h0m0 23.2h0m0.1 -55.7h0m0 52.3h0m0.1 -59.1h0m0 34.6h0m0.1 -40.9h0m0 33.4h0m0 27h0m0.1 -71.6h0m0 4.4h0m0 11.6h0m0 4.1h0m0 20h0m0.1 -8.5h0m0 7.5h0m0 0.7h0m0 26.2h0m0 10h0m0.1 -49.7h0m0 6.8h0m0 14.5h0m0 6.5h0m0 5.5h0m0 9.8h0m0 2.7h0m0 5.6h0m0.1 -75.4h0m0 25.2h0m0 0.4h0m0 14.6h0m0 11.4h0m0 12h0m0 14.1h0m0.1 -73h0m0 21.2h0m0 4.7h0m0 3.8h0m0 13h0m0 17h0m0 13.3h0m0.1 -22.8h0m0.1 -42.2h0m0 14.6h0m0 1.3h0m0 3.7h0m0 32.9h0m0.1 -52.5h0m0 33.6h0m0.1 -44.7h0m0 7.5h0m0 7.7h0m0 2.8h0m0 15.5h0m0 16.9h0m0 9.4h0m0.1 -41.7h0m0 3h0m0 18.7h0m0 175.5h0m0.1 -162.4h0m0 5.1h0m0 10.5h0m0 0.3h0m0.2 -60.8h0m0 23.6h0m0 3.6h0m0 11.6h0m0 19.2h0m0 7.5h0m0 147h0m0.1 -205.8h0m0.1 203.4h0m0.4 -123.1h0m0.4 -33.4h0m0 11.5h0m0.1 -18h0m0 2.8h0m0 7.5h0m0.1 -17.5h0m0 33h0m0.1 -30h0m0.1 -6.5h0m0 47.9h0m0.1 5.7h0m0.1 -10.1h0m0.2 131.6h0m0.3 -72h0m0 68.4h0m0.1 -64.6h0m0.4 3.8h0m0.1 2.7h0m0.2 -24.3h0m0 11.1h0m1.1 82.5h0m0.1 -61.7h0m0 50.3h0m0 6.8h0m0.1 -2.7h0m0.3 -83.4h0m0.2 2.8h0m0 9h0m0 12.7h0m0.1 -2.5h0m0.1 11.6h0m0 55.2h0m0.1 -7.5h0m0.1 4.6h0m0.8 -46.3h0m0.2 -12.4h0m0.1 9.8h0m0.1 -13.4h0m0.1 20.4h0m0.1 -26.9h0m0 16.1h0m0.1 -7.8h0m0 5h0m0.4 -2.4h0m0.2 -5.6h0m0 9.4h0m0 7.5h0m0 2.9h0m0.6 42.1h0m0.1 -3h0m0.8 2.2h0m0.4 -69.3h0m0.1 18.3h0m0 48.6h0m0.1 -54.8h0m0.1 -8h0m0.4 18h0m0.3 51.5h0m0.6 -3.8h0m0.2 -57.5h0m0 53.4h0m0.2 -68.3h0m0.6 18.3h0m0 2.4h0m0.1 -7.1h0m0.1 -27.3h0m0.1 15.3h0m0.1 2.9h0m0.1 6.2h0m0.1 -21.5h0m0.3 84.9h0m0.3 3.1h0m0.3 -9.5h0m0 3h0m1.1 -79.9h0m0 16h0m0.2 -10.1h0m0 6.7h0m0 68.5h0m0.1 3.4h0m0.1 -95.5h0m0.1 6.9h0m0 14.2h0m0.1 68.5h0m0.1 -75.2h0m0.3 77.9h0m0.1 -3.9h0m0.7 -92h0m0.1 -2.7h0m0.3 23h0m0 2.5h0m0.1 -18.3h0m0 88.6h0m0.1 -84.7h0m0.1 17.6h0m0.2 70.7h0m0.2 -101.4h0m0 24.7h0m0.1 -22.3h0m0.4 11.5h0m0 7.2h0m1.3 -12.4h0m0.2 88.4h0m0 4.5h0m0.4 -110.4h0m0 7.6h0m0 13h0m0.1 -10.3h0m0.1 -14.7h0m0 8.2h0m0.1 10.4h0m0.6 -13.5h0m0.3 -6.9h0m0.1 112.6h0m0 3h0m0.1 -120.6h0m0 16.3h0m0.1 3.7h0m1.5 -15.9h0m0 13.7h0m0.1 101.2h0m0.1 -125.3h0m0 21.7h0m0.1 -7.3h0m0.1 114.3h0m0.1 -110h0m0.4 -14.9h0m0.6 20.3h0m0.2 3.6h0m0.2 -7.3h0m0 105h0m0.2 -115.2h0m0 117.7h0m0.1 -120.1h0m0.2 5.6h0m0.8 -7.1h0m0.2 21.1h0m0.4 -16.9h0m0 114.3h0m0.5 3.4h0m0.2 3.9h0m0.4 -42.7h0m0.1 -13.7h0m0.1 56.4h0m0.1 -49.7h0m0.1 -10.9h0m0.1 14.1h0m0.1 39.4h0m0 3.5h0m1.1 -3.2h0m0.2 -29.3h0m0.2 33.7h0m0.1 -37.6h0m0.1 -7.8h0m0.1 -11.8h0m0.1 7.9h0m0.4 45h0m0.1 3.9h0m0.4 -43.9h0m0.2 6.1h0m0.6 7.7h0m0.2 -3.8h0m0.9 3.7h0m0.2 -10.3h0m0.1 -3h0m0.3 9.1h0m0.1 31h0m0.5 -29h0m0 29h0m0.1 3.2h0m0.2 -45.9h0m0.1 3h0m0.1 -6h0m0 9.5h0m1.2 42.7h0m0.3 -35.8h0m0 3.6h0m0.2 -13.7h0m0 2.4h0m0.1 3.7h0m0.1 35.3h0m1.4 -35.2h0m0.1 4.1h0m0.2 3.2h0m0.1 28.6h0m0.1 -51.2h0m0.3 7h0m0 4.4h0m0 37.1h0m0.5 -39.2h0m0 11.4h0m0.1 -4.5h0m0.4 -11.1h0m0.2 -2.9h0m0.4 49.7h0m0.5 -3.2h0m0.8 5.8h0m0.3 -3.6h0m0.1 -48.8h0m0 46.3h0m0.1 -31.7h0m0 7.2h0m0.4 -11.7h0m0.1 9.8h0m0.2 -3.8h0m0.1 34.1h0m0.1 -36.8h0m0.1 34h0m0.1 -24.9h0m0.1 -15h0m1 38.8h0m0.1 4.3h0m0.3 -43.7h0m0.1 13.4h0m0 2.6h0m0.3 3.1h0m0.1 -15.2h0m0.1 6.6h0m0.1 32.7h0m0.2 -27.4h0m0 4.4h0m0.6 19.9h0m0.3 -34.9h0m1 18.5h0m0.2 -9.6h0m0.1 -4h0m0.4 6.7h0m0.1 4.3h0m0.4 19.5h0m1.1 -26.5h0m0.1 3.2h0m0.1 -10.8h0m0.3 34h0m0.6 3h0m0.5 -4.6h0m0.4 -40.4h0m0.2 43.8h0m0.1 -40h0m0 14.8h0m0.2 -7.4h0m0.3 -3.9h0m0.1 7.9h0m0.7 -3.7h0m0 31.8h0m0.2 -34.6h0m0 5.3h0m0.2 -15h0m0 2.7h0m0 4.4h0m0.5 -5.1h0m0 39.7h0m0.1 -46.6h0m0 16.7h0m0.1 -13.7h0m0 8.2h0m0.1 8.8h0m0.4 28.4h0m0.8 -53.8h0m0.2 -2.5h0m0.3 24.1h0m0.1 -4h0m0 37.3h0m0.6 -3.1h0m1 -57h0m0 24.7h0m0.4 -17.5h0m0 2.8h0m0.3 4h0m0 6.1h0m0.1 39.6h0m0.3 -4h0m0.1 7.4h0m0 3.1h0m0.2 -54.3h0m0.1 4.3h0m0.5 -10.7h0m0 14.2h0m0.2 36.5h0m1.2 -51.6h0m0 13.5h0m0.2 -9.8h0m0.1 6.9h0m0.2 43h0m0.1 -64.5h0m0 2.8h0m0.1 -12.1h0m0 16.3h0m0.3 -10.4h0m0.1 64h0m0.7 -43.8h0m0.1 -3.5h0m0 6h0m0.1 -14.2h0m0.1 -22.8h0m0 3.6h0m0.3 23.4h0m0.1 -7.3h0m0.2 -2.7h0m0 67.2h0m0.1 -3h0m0.3 -62.4h0m0.1 -4.4h0m0 16.4h0m0.1 -8.3h0m0.3 -11.3h0m0.2 -3.4h0m0.5 70.7h0m0.1 3.1h0m0.3 2.9h0m1 -70.1h0m0.2 -9.4h0m0.2 2.7h0m0 3.9h0m0.1 11.4h0m0.1 -43.7h0m0 100.4h0m0.1 -93.5h0m0 9.2h0m0 6.4h0m0.1 -8h0m0 4.7h0m0.2 -16.2h0m0 26.2h0m0 72.5h0m0.1 -104.7h0m0 107.9h0m0.1 -82.4h0m0.1 -11.6h0m0 15.3h0m0.1 6.3h0m0.2 75.3h0m1.4 -3h0m0.1 -101.3h0m0.1 -11.6h0m0.1 116.7h0m0.2 -9.9h0m0 2.5h0m0.1 -123.1h0m0 3.1h0m0 14.4h0m0.1 -7.1h0m0.1 -3.4h0m0.2 13.8h0m0 101.4h0m0.1 6.1h0m0.2 -132.5h0m0 7.3h0m0 10.4h0m0.2 3.7h0m0 108.5h0m0.1 -125.6h0m0.2 10.1h0m2 1.3h0m0 6.4h0m0.1 106h0m0.1 3.4h0m0.3 -112.5h0m0.1 -18.9h0m0 3h0m0.5 124.2h0m0.2 -78.4h0m0 6.8h0m0.3 -26h0m0.4 12.2h0m0 3.5h0m0 6.4h0m0.8 75.5h0m0.8 -65.3h0m0.2 5.9h0m0.1 3.2h0m0.2 -18.7h0m0 32.4h0m0.2 -20.3h0m0.1 13.1h0m0.2 -2.9h0m0 13.8h0m0.2 41.4h0m0.1 -66.2h0m0 61.7h0m0.1 -39.6h0m0.3 -6.9h0m1.1 48.1h0m0 2.4h0m0.5 -62.5h0m0.3 17.1h0m0 7.9h0m0.2 -4.1h0m0.1 -12.4h0m0.2 58h0m0.2 -4.1h0m0.3 -2.6h0m0.5 -70.9h0m0.1 8.5h0m0.1 14.3h0m0 7.3h0m0.1 -11.3h0m0.3 -14.8h0m0.1 23.3h0m0.1 -36.7h0m0 8.2h0m0.1 7.4h0m0 7.1h0m0 54.6h0m0.1 -64.6h0m0 72.6h0m0.4 -66.1h0m0.1 -22.9h0m0.3 84.5h0m1 -97.3h0m0 100.1h0m0.1 -85.3h0m0.2 -11.7h0m0 89.4h0m0.1 -96.4h0m0 99.6h0m0.1 -103.4h0m0 25.9h0m0.6 72.2h0m0.3 -111.2h0m0.1 16.9h0m0 8.9h0m0.1 -45.9h0m0 26.3h0m0 26.5h0m0 85.8h0m0.1 -98.8h0m0.1 -22.6h0m0.1 -22.5h0m0 14.6h0m0.1 13.7h0m0 19.4h0m0 93h0m0.1 -137.9h0m0 6.2h0m0 45.7h0m0.1 -15.4h0m1.5 -63.9h0m0.2 -3.5h0m0 20.6h0m0.1 -7.2h0m0.3 -7.4h0m0 11.6h0m0.1 -41.7h0m0 37.6h0m0 156.4h0m0.1 -227.8h0m0 12.9h0m0 53.9h0m0 21.8h0m0 8.1h0m0.1 -123.8h0m0 251.1h0m0 7.4h0m0.1 -240.1h0m0.1 -9.3h0m0 0.1h0m0 42.6h0m0 13.8h0m0 10.1h0m0 35h0m0 8.9h0m0.1 -115h0m0 1.5h0m0 11.8h0m0 68.2h0m0 4.8h0m0 15h0m0.1 -49.3h0m0 12.4h0m0.1 -53.4h0m0 13.3h0m0 44.1h0m0.1 -80.4h0m0 43.7h0m0 8.6h0m0 35.1h0m0.1 -57.6h0m0 1h0m0 1.5h0m0 58.3h0m0 51.5h0m0.1 -121.3h0m0 18.5h0m0 17.1h0m0 54h0m0 24.1h0m0.1 -114.8h0m0 118.1h0m0 120.5h0m0.1 -265h0m0.1 28.5h0m0 38.8h0m0.1 -84.1h0m0 41.3h0m0 71.5h0m0 12.3h0m0 17.3h0m0.1 -131.4h0m0 43.3h0m0 35.4h0m0 4.4h0m0 26.6h0m0 40.6h0m0 116.5h0m0 7.5h0m0.1 -155.2h0m0 35.5h0m0.1 -84.2h0m0 35.5h0m0 17.6h0m0 3.6h0m0.1 -74.4h0m0 35.3h0m0 47.3h0m0.1 -138h0m0 69.8h0m0 80.3h0m0.1 -91.4h0m0 8.3h0m0 11.6h0m0.1 -65.2h0m0 7.6h0m0.1 -4.3h0m0 12.3h0m0 12.9h0m0 7.6h0m0 2.9h0m0 49.2h0m0.1 -144.7h0m0 68.2h0m0 69.6h0m0 3.3h0m0.1 -88.1h0m0 52.1h0m0 80.4h0m0 3.3h0m0.1 -196.8h0m0.1 -19.8h0m0 336.3h0m0 3.6h0m0.1 -414.7h0m0 12.5h0m0 11.9h0m0 25.1h0m0 11.1h0m0 103.3h0m0.1 13.3h0m0 240.6h0m0 5h0m0.2 -353.6h0m0.1 8.5h0m0 103.3h0m0.1 -40h0m0 12.9h0m0 254h0m0.2 -258.4h0m0 17.7h0m0 39.6h0m0 72.6h0m0.1 -180.4h0m0 26.5h0m0 108.5h0m0 2.7h0m0.1 -84.7h0m0 45.6h0m0 1.4h0m0 31.8h0m0 17.5h0m0 37.6h0m0.1 -195.8h0m0 77h0m0 8.3h0m0 4.3h0m0 10.9h0m0 18.3h0m0 34.9h0m0.1 -83.3h0m0 18.3h0m0 32.6h0m0 51.6h0m0 32.4h0m0.1 -167h0m0 35.3h0m0 2.5h0m0 6.9h0m0 62.2h0m0 30.9h0m0 16.1h0m0 8.3h0m0 106.2h0m0.1 -246.8h0m0 12.8h0m0 6.5h0m0 4.8h0m0 22.1h0m0 20.4h0m0 6.5h0m0 1.4h0m0 26.2h0m0 5.2h0m0 14.4h0m0 6.8h0m0 22.4h0m0.1 -135.1h0m0 17h0m0 33.3h0m0 28h0m0 1h0m0 36h0m0 10.8h0m0 8.1h0m0.1 -114h0m0 7.3h0m0 34.2h0m0 2.9h0m0.1 -68.8h0m0 28.8h0m0 0.9h0m0 28.3h0m0 33.8h0m0 6h0m0 0.8h0m0 7.4h0m0 12.8h0m0 4.4h0m0.1 -136.1h0m0 10.2h0m0 13.1h0m0 12.9h0m0 2.9h0m0 8.3h0m0 16.9h0m0 49.1h0m0 13.6h0m0 20.2h0m0 8.5h0m0.1 -118.2h0m0 13.3h0m0 22.7h0m0 17.5h0m0 1.3h0m0 6h0m0 1.3h0m0 11.7h0m0 18h0m0 9.4h0m0 7.3h0m0.1 -161.6h0m0 20.9h0m0 7.2h0m0 42.2h0m0 2.6h0m0 8.3h0m0 25.8h0m0 30.7h0m0 3.8h0m0.1 -120h0m0 3h0m0 44.7h0m0 19.2h0m0 0.7h0m0 7.5h0m0 4.2h0m0 12.4h0m0 5.6h0m0 5.1h0m0 7.4h0m0 7h0m0 33h0m0.1 -121.5h0m0 23.9h0m0 17.3h0m0 2.6h0m0 1.1h0m0 22h0m0 42.2h0m0.1 -147.7h0m0 30.2h0m0 23.8h0m0 4.5h0m0 14.6h0m0 22.5h0m0 15.6h0m0 33.7h0m0.1 -202.8h0m0 29h0m0 80.1h0m0 37.7h0m0 21.6h0m0 13.5h0m0 8h0m0 2.2h0m0 9.2h0m0 9.7h0m0 4.2h0m0 2.8h0m0.1 -110.8h0m0 16.2h0m0 22.3h0m0 4h0m0 68.3h0m0.1 -120.1h0m0 3.1h0m0 1.9h0m0 16.6h0m0 13.1h0m0 23.9h0m0 22.3h0m0 18.2h0m0.1 -97.4h0m0 37.5h0m0 58.8h0m0 4h0m0.1 -107.4h0m0 31.8h0m0 4.3h0m0 20.4h0m0 27.7h0m0 6.9h0m0.1 -54.8h0m0 3h0m0 19.3h0m0.1 -35.2h0m0 27.4h0m0.1 4.4h0m0 33.2h0m0 6.7h0m0 19.2h0m0 4.5h0m0.1 -45.2h0m0 7h0m0 41.8h0m0.2 -75.3h0m0.1 176.9h0m0.1 -6.2h0m0.1 2.6h0m0.8 1.7h0m0.2 7.5h0m0 7.4h0m0.2 -19.2h0m0.3 -103.6h0m0 118.7h0m0.1 -103.7h0m0.1 -8.2h0m0.2 -12.2h0m0.2 16.1h0m0.1 -27.4h0m0 12.3h0m0 1.8h0m0.2 -17.8h0m0.1 37.9h0m0 4.1h0m0.1 -45.9h0m0 26h0m0 23.2h0m0.1 -32.1h0m0.3 -3.7h0m0.1 -16.7h0m0 34.6h0m0 3.8h0m0.2 106.6h0m0 9.9h0m0.1 -7.4h0m0.5 11.8h0m0.1 7h0m0.6 -5.5h0m0.3 -2.9h0m0.4 -129.7h0m0 8.6h0m0 9.5h0m0.2 10.7h0m0.1 -4h0m0.5 -8.5h0m0.1 9.9h0m0 3.5h0m0 104.6h0m0 3.3h0m0.3 -104.9h0m0 3.7h0m0 94.2h0m0.1 -3.6h0m0.4 -114.5h0m0 6.9h0m1.1 108.8h0m0.1 2.7h0m0 8.3h0m0.1 -101h0m0 97.3h0m0.1 -94.8h0m0.3 -26.9h0m0.2 29.8h0" fill="none" stroke="#1f77b4" stroke-width="5.2" stroke-linecap="round"/>
<path d="M116.5 986.3L117.7 989.6L118.9 986.4L120.1 986.7L121.3 990.8L122.5 985L123.7 985.5L124.9 994.4L126 990L127.3 982.3L128.5 975.4L129.7 970.2L131 960L132.1 971.5L133.3 983.4L134.5 995.2L136 1010L136.9 1003L138.1 993.3L139.3 983.3L140 978L141.7 978.8L142.9 981.7L144.1 980.9L145.3 982L146 984L147.7 976.1L148.9 970.3L150.1 964.4L151 958L152.5 978L154 998L154.9 993.1L156.1 987.2L157.3 980.7L158.5 974.5L159.7 967.4L160.9 960.4L162.1 957.2L163.3 954.6L164 948L165.7 955.3L166.9 954.7L168.1 957.4L169.3 960L170 962L171.7 956L172.9 945.6L174.1 937.6L175.3 938.9L176.5 939.8L178 933L178.9 944.3L180.1 958.5L181.3 972.7L182 982L183.7 972.6L184.9 966.2L186.1 958.8L187.3 949.5L188.5 951.9L189.7 957.2L190.9 951.8L192.1 946.9L193.3 939.3L195 930L197 972L198.1 960.4L199.3 948.2L200 940L201.7 945.8L202.9 939.3L204.1 943.9L205.3 948.8L206.5 957.8L208 972L208.9 966L210.1 963.8L211.3 960.2L212.5 953.2L213.7 953.7L214.9 948.8L216.1 928.9L217 940L218.5 951.4L219.7 960.6L220.9 971.5L222 982L223.3 973.3L224.5 967.5L225.7 959.7L226.9 954.6L228.1 956.3L229.3 951.5L230 944L231.7 958.4L232.9 959.2L234.1 948L235.3 941.7L236.5 953.2L237.7 953.8L238.9 959.2L240.1 963.4L241.3 968.7L242.5 973.9L243.7 978.3L244.9 983.8L246.1 989.7L247.3 995.1L248 996L249.7 990L250.9 986.6L252.1 982.8L253.3 978.9L254.5 975L256 976L256.9 984.3L258.1 989.9L259.3 993.6L260 1002L261.7 969.1L262.9 946.3L263.6 932L265.3 952.3L266.5 965.7L267.7 978.3L268.9 986.1L270.1 990.1L271.3 995.8L272.5 1001.9L273.7 1006.9L274.9 1007.8L276.1 1009.9L277.3 1009L278.5 1006.3L280 1008L280.9 1003.7L282.1 996.9L283.3 988.9L284 988L285.7 999.1L287 1008L288.1 1002.6L289.3 998.3L290.5 996.9L291.7 996.9L292.9 993.4L294.1 987.8L295.3 981.8L297 978L298.9 985.8L300.1 991.8L301.3 998.4L302 1000L303.7 994.7L304.9 990.7L306.1 988.4L307 984L308.5 988.9L309.7 993.4L310.9 997.3L312.1 1000.9L313.3 1005L314 1008L315.7 1005.1L316.9 1001.4L318.1 999.1L319.3 999.4L320.5 996.6L321.7 992L322.9 988.8L324.1 986.8L325.3 984.2L326 980L327.7 984.2L328.9 984.4L330.1 986.4L331.3 988.9L332.5 993.4L333.7 994.9L334.9 995.7L336.1 998.1L337.3 1002.3L338.5 995.1L339.7 988.5L340.9 994L342.1 999.5L343.3 1000.4L344.5 997.9L345.7 998.6L346.9 994.8L348.1 995.6L349.3 996.5L350.5 998.7L351.7 1004.2L352.9 1005.6L354.1 1006.2L355.3 1008.9L356.5 1010.9L357.7 1010.9L358.9 1012L360.1 1011.6L361.3 1010.8L362.5 1010.6L363.7 1010.2L364.9 1010.8L366.1 1012.3L367.3 1013L368.5 1013.1L369.7 1012.3L370.9 1012.6L372.1 1012.3L373.3 1013.1L374.5 1014.6L375.7 1012.4L376.9 1010.8L378.1 1010.9L379.3 1011.4L380.5 1009.6L381.7 1009.1L382.9 1009.2L384.1 1009.9L385.3 1010.1L386.5 1010.8L387.7 1010.2L388.9 1009.6L390.1 1011L391.3 1010.2L392.5 1010.7L393.7 1007.6L394.9 1008.1L396.1 1010.1L397.3 1008.7L398.5 1009L399.7 1010.3L400.9 1007.3L402.1 1003.6L403.3 1001.5L404 1000L405.7 1001.9L406.9 1003.1L408.1 1002L409.3 1001.4L410.5 1004.2L411.7 1006.3L412.9 1007.4L414.1 1008.2L415.3 1006.7L416.5 1000.9L417.7 998.3L418.9 1006.1L420.1 1006.9L421.3 1004L422.5 1005.3L423.7 1005L424.9 1006.2L426 1008L427.3 1006.7L428.5 1006.7L429.7 1006.1L430.9 1001.5L432.1 1001L433.3 998.3L434.5 992.8L436 994L436.9 996.7L438.1 997.3L439.3 1002.4L440.5 1004.3L441.7 1004.5L442.9 1003.4L444.1 1002L445.3 1005.5L446.5 1008.4L447.7 1006.2L448.9 1003.8L450.1 1006.8L451.3 1010.4L452.5 1010.7L453.7 1010.7L454.9 1010.8L456.1 1009.8L457.3 1010.9L458.5 1011.3L459.7 1010L460.9 1010.4L462.1 1009.4L463.3 1010.1L464.5 1011.1L465.7 1012.7L466.9 1011.8L468.1 1010.8L469.3 1010.1L470.5 1009.3L471.7 1012L472.9 1010.6L474.1 1008.9L475.3 1007.5L476.5 1004.5L477.7 1005.2L478.9 1007.1L480.1 1006.7L481.3 1003.8L482.5 1000.9L483.7 1001.1L484.9 998.9L486.1 996.4L487.3 993.5L488 992L489.7 994.1L491 996L492.1 991.1L493.3 989.1L494 984L495.7 998.2L497 1009L498.1 1004.3L499.3 1001.4L500.5 998.9L502 994L502.9 997.6L504.1 999.5L505.3 1001.6L506.5 1003.8L507.7 1004.1L508.9 1004.5L510.1 1003.5L511.3 1002.1L512.5 1003.3L513.7 1002.9L514.9 1002.6L516.1 1003.6L517.3 1003L518.5 999.1L519.7 997.9L520.9 999.7L522.1 998.3L523.3 996.2L524.5 997.3L525.7 998.1L526.9 1000.8L528.1 1005.5L529.3 1006.2L530.5 1004L531.7 1000.9L532.9 998.5L534.1 1001.9L535.3 1004.4L536.5 1004.2L537.7 1005.9L538.9 1008.9L540.1 1011.2L541.3 1013.2L542.5 1013.4L543.7 1013.2L544.9 1014.5L546.1 1015L547.3 1014.6L548.5 1016.2L549.7 1018.7L550.9 1020.5L552.1 1022L553.3 1022.7L554.5 1023.7L555.7 1024.8L556.9 1026.3L558.1 1027L559.3 1025.8L560.5 1025.2L561.7 1026.2L562.9 1026.1L564.1 1025.3L565.3 1025L566.5 1025.5L567.7 1026.1L568.9 1025.8L570.1 1025.8L571.3 1026.4L572.5 1026.7L573.7 1026.6L574.9 1026.4L576.1 1026L577.3 1026.3L578.5 1026L579.7 1026.1L580.9 1026.1L582.1 1025.8L583.3 1025.7L584.5 1026.2L585.7 1026.4L586.9 1025.6L588.1 1025.6L589.3 1025.9L590.5 1025.6L591.7 1025.2L592.9 1025.2L594.1 1025.8L595.3 1025.8L596.5 1025.7L597.7 1026.8L598.9 1026.7L600.1 1025.7L601.3 1025.2L602.5 1025.8L603.7 1026.8L604.9 1026.4L606.1 1025.9L607.3 1025.8L608.5 1026.9L609.7 1027.1L610.9 1027.1L612.1 1027.3L613.3 1027.2L614.5 1028L615.7 1028L616.9 1027.7L618.1 1026.9L619.3 1027.1L620.5 1027.1L621.7 1027.1L622.9 1026.8L624.1 1025.4L625.3 1025.5L626.5 1026.1L627.7 1025.7L628.9 1025.5L630.1 1026.1L631.3 1026.3L632.5 1025.7L633.7 1025.9L634.9 1026.3L636.1 1025.9L637.3 1025.4L638.5 1026.2L639.7 1027.3L640.9 1026.6L642.1 1025.5L643.3 1026.7L644.5 1028.3L645.7 1028.1L646.9 1027.7L648.1 1028.3L649.3 1028.9L650.5 1029L651.7 1028.9L652.9 1028.5L654.1 1028.5L655.3 1027.7L656.5 1027.5L657.7 1028.1L658.9 1028L660.1 1027.7L661.3 1027.2L662.5 1027.1L663.7 1026.8L664.9 1026.8L666.1 1027.2L667.3 1026.6L668.5 1026.3L669.7 1026.8L670.9 1026.6L672.1 1027.6L673.3 1028.5L674.5 1029.1L675.7 1029.6L676.9 1029.9L678.1 1029.6L679.3 1030.1L680.5 1030.6L681.7 1029.8L682.9 1029.3L684.1 1030.4L685.3 1030.7L686.5 1030.6L687.7 1031.2L688.9 1030.4L690.1 1030.1L691.3 1030.9L692.5 1031L693.7 1031.3L694.9 1031.3L696.1 1030.4L697.3 1031.1L698.5 1031.5L699.7 1031.7L700.9 1031.1L702.1 1029.8L703.3 1030.2L704.5 1030.4L705.7 1030.4L706.9 1030.2L708.1 1029.9L709.3 1030.1L710.5 1030.3L711.7 1030.7L712.9 1030.6L714.1 1030.6L715.3 1031.1L716.5 1031L717.7 1031.3L718.9 1030.8L720.1 1030.8L721.3 1031.2L722.5 1031.1L723.7 1031.2L724.9 1030.9L726.1 1030.6L727.3 1030.9L728.5 1031L729.7 1031L730.9 1031.2L732.1 1031.3L733.3 1030.7L734.5 1030.1L735.7 1030.4L736.9 1030.7L738.1 1031L739.3 1030.7L740.5 1031.3L741.7 1031.9L742.9 1031.6L744.1 1031L745.3 1030.9L746.5 1030.5L747.7 1030.6L748.9 1031.2L750.1 1030.7L751.3 1031.2L752.5 1031.5L753.7 1031.2L754.9 1031.5L756.1 1031.6L757.3 1031.6L758.5 1031.3L759.7 1031L760.9 1030.1L762.1 1029.5L763.3 1029.5L764.5 1029.3L765.7 1028.7L766.9 1028.7L768.1 1028.5L769.3 1028.6L770.5 1028.9L771.7 1027.8L772.9 1025.2L774.1 1022.7L775.3 1017.1L776.5 1004.8L778 990L778.9 995L780.1 1000L781.3 1003.1L782.5 1008.7L783.7 1015.1L784.9 1021.4L786.1 1024.7L787.3 1025.5L788.5 1022.6L789.7 1020.6L790.9 1001.1L792.1 977.9L793.3 976.4L794.5 967.5L795.7 964.3L796.9 963.1L798 956L800 976L801.7 958.3L803 946L804.1 954.6L806 968L807.7 958.1L809 964L810.1 964.2L811.3 972L812.5 979.9L813.7 984.8L815 990L816.1 980L818 962L820 1020L820.9 1002.6L822.1 979.5L823 962L824.5 992L826 1022L826.9 1010.6L828.1 995.5L829 984L830.5 990.4L831.7 995.4L832.9 1000.5L834.1 1006.2L835.3 1011.6L836.5 1017.2L838 1024L838.9 1009.6L840.1 990.4L841 976L842.5 985.8L843.7 993.6L844.9 999.5L846.1 1005.2L847 1010L848.5 1007.3L850 1002L850.9 1007.1L852.1 1013L853 1018L854.5 1003.1L855.7 990.9L857 978L858.1 986.7L860 1002L861.7 998.3L862.9 993.5L864.1 986.8L865.3 981.2L866.5 973.7L867.7 966.8L868.9 960.3L870.1 953.8L872 946L873.7 974.9L874.9 999.8L876 1024L877.3 1010.1L878.5 997.6L879.7 990.5L880.9 986.2L882.1 979.5L883.3 965.7L885 946L885.7 955.5L886.9 970.8L888.1 985.3L889.3 991.5L890.5 998.1L891.7 1002.4L892.9 1004.7L894 1006L895.3 993.3L897 976L897.7 987.7L899 1010L900.1 991.2L901 976L902.5 988.6L903.7 998L904.9 1010L906 1022L907.3 1018.5L908.5 1015.4L909.7 1011.9L910.9 1009L912.1 1009.1L913.3 1008.1L914.5 1006.2L915.7 1005.7L916.9 1003L918.1 998.2L919.3 997.9L920.5 997.2L922 994L922.9 997.2L924.1 1001.2L926 1008L927.7 1002.5L928.9 1001.3L930 1000L931.3 1002L932.5 1003.7L933.7 1004.3L934.9 1008.3L936.1 1011.3L938 1016L939.7 1013.6L940.9 1013L942.1 1009.9L943.3 1002L944.5 994.7L946 984L946.9 990.1L948.1 991L950 996L951.7 979.2L952.9 967.7L954 957L955.3 966.7L956.5 976.5L957.7 982.9L958.9 987.6L960 990L961.3 981.1L962.5 968.3L964.4 937L966.1 958.9L967.3 971.7L968.5 973.6L969.7 976.5L970.9 977.4L972.1 974.8L974 970L975.7 979.4L976.9 985.3L978.1 992.4L980 1004L981.7 995.1L982.9 989.7L984.1 977.4L985.6 961L986.5 972.1L987.7 986.5L988.9 994.1L990.1 996.2L991 996L992.5 989.7L993.7 986.3L994.9 975.1L996.1 961.7L997 951L998.5 965.4L999.7 977.2L1000.9 980.9L1002.1 980.7L1003.3 982.5L1004.5 987.5L1005.7 992.3L1006.9 992.6L1008.1 993.9L1010 998L1011.7 997.4L1012.9 995.5L1014.1 993.4L1016 992L1017.7 996.2L1018.9 999.3L1020 1002L1021.3 999.2L1022.5 999.2L1023.6 1000L1024.9 1002.6L1026.1 1004.5L1027.3 1006L1028.5 1008.9L1030 1008L1030.9 1009L1032.1 1006.5L1034 1002L1035.7 1003.2L1036.9 1005.6L1038.1 1008.9L1040 1010L1041.7 1009.9L1042.9 1009.1L1044.1 1006.9L1045.3 1004.3L1046.5 1003.8L1047.7 1002L1048.9 999L1050.1 996.6L1051 994L1052.5 999.3L1053.7 1003.2L1055 1008L1056.1 1009.6L1057.3 1008.4L1058.5 1007.1L1059.7 1007.9L1060.9 1008.1L1062.1 1003.8L1063.3 1005.6L1064.5 1007.6L1065.7 1008.6L1066.9 1006.9L1068.1 1005.8L1070 1004L1071.7 1007.1L1072.9 1011.7L1074.1 1014.9L1075.3 1013.9L1076.5 1013.6L1077.7 1014.8L1078.9 1014.4L1080.1 1013.7L1081.3 1014.8L1082.5 1015.2L1083.7 1015L1084.9 1014.4L1086.1 1013.7L1087.3 1014L1088.5 1013.1L1089.7 1011.9L1090.9 1013.6L1092.1 1015.4L1093.3 1014.7L1094.5 1015.4L1095.7 1014.4L1096.9 1013.1L1098.1 1014L1099.3 1015L1100.5 1015.7L1101.7 1015.7L1102.9 1015.4L1104.1 1016.8L1105.3 1016.2L1106.5 1015.5L1107.7 1015.3L1108.9 1014.4L1110.1 1012.6L1111.3 1009.3L1112.5 1005.6L1113.7 1000.9L1115 996L1116.1 1001.3L1117.3 1004.2L1118.5 1007.9L1119.7 1010.9L1120.9 1013.1L1122 1016L1123.3 1015.2L1124.5 1015.2L1125.7 1016.2L1126.9 1016.1L1128.1 1014.1L1129.3 1012.7L1130.5 1013.6L1131.7 1014.7L1132.9 1014.8L1134.1 1014.9L1135.3 1015.7L1136.5 1014.3L1137.7 1015.8L1138.9 1017.5L1140.1 1016.8L1141.3 1016.9L1142.5 1016.7L1143.7 1017.3L1144.9 1018.3L1146.1 1017.4L1147.3 1016.9L1148.5 1017.1L1149.7 1016L1150.9 1014.1L1152.1 1014.4L1153.3 1014.3L1154.5 1014.2L1155.7 1014.7L1156.9 1015.8L1158.1 1016.1L1159.3 1013.3L1160.5 1012.8L1161.7 1015.2L1162.9 1014.9L1164.1 1014.7L1165.3 1016.3L1166.5 1015.7L1167.7 1015.8L1168.9 1017.1L1170.1 1017.2L1171.3 1016.9L1172.5 1017.6L1173.7 1017.8L1174.9 1017.1L1176.1 1018L1177.3 1017.9L1178.5 1017.8L1179.7 1018.5L1180.9 1017.6L1182.1 1017.3L1183.3 1016.6L1184.5 1015.5L1185.7 1015.6L1186.9 1015.4L1188.1 1016.3L1189.3 1015.5L1190.5 1015.3L1191.7 1015.8L1192.9 1014.4L1194.1 1013.5L1195.3 1015.5L1196.5 1014.5L1197.7 1014.4L1198.9 1016L1200.1 1016.1L1201.3 1016.6L1202.5 1017.2L1203.7 1017.5L1204.9 1018.5L1206.1 1018.6L1207.3 1018.1L1208.5 1017.7L1209.7 1017.7L1210.9 1016.6L1212.1 1015.8L1213.3 1015.9L1214.5 1015.5L1215.7 1015.9L1216.9 1015.7L1218.1 1014L1219.3 1013.2L1220.5 1013.1L1221.7 1011.7L1222.9 1011.3L1224.1 1011L1225.3 1009.4L1226.5 1009L1227.7 1009L1228.9 1008.6L1230.1 1009.5L1231.3 1008.1L1232.5 1003.4L1233.7 1003.7L1234.9 1002.7L1236.1 1002.1L1237.3 1000.4L1239 1000L1239.7 1003.4L1240.9 1007L1242 1010L1243.3 996.1L1244.5 983.6L1245.4 973L1246.9 989.7L1248.1 1002L1249.3 1006L1250.5 1011.1L1252 1015L1252.9 1009.4L1254.1 1001.5L1255.3 994.6L1256.5 993.2L1257.7 995.7L1258.9 996.7L1260.1 994L1261.3 991.8L1262.5 995.9L1263.7 997.8L1265 1000L1266.1 996.5L1267.3 993L1268.5 986.2L1269.7 978.7L1271 970L1272.1 984.1L1273 996L1274.5 986.6L1275.7 977.3L1276.9 966.1L1278.4 953L1279.3 966.3L1280.5 983L1281.7 994.4L1282.9 1002.1L1284.1 1005.3L1285 1008L1286.5 993.7L1287.7 982.8L1288.9 975L1290.1 966L1291.4 958L1292.5 966.1L1294 978L1294.9 979.6L1296.1 974L1297.3 973.1L1298.5 981.1L1299.7 986L1301 996L1302.1 985.1L1303.3 974.8L1304.5 965.4L1305.7 957.3L1307 948L1308.1 961.3L1309 972L1310.5 964L1312 962L1312.9 967.5L1314 976L1315.3 965.5L1317 952L1317.7 956.8L1318.9 969.5L1320 980L1321.3 973L1322.5 967L1323.7 960.5L1324.9 957.1L1326.1 963.1L1328 962L1329.7 950.4L1330.9 949L1332.1 933.4L1333.4 915L1334.5 939.6L1335.7 953.7L1336.9 956.3L1338.1 949.9L1339.3 957.8L1340.5 966.7L1341.7 970.4L1342.9 974.8L1344.1 980.8L1345.3 984.6L1347 984L1347.7 969.6L1349 942L1350.1 966.4L1351.3 989.1L1353 1006L1353.7 974.5L1355.6 889L1357.3 939.2L1358.5 971.5L1359.7 999L1360.9 1007L1362.1 1007.2L1363 1010L1364.5 1002L1366 996L1366.9 1000.1L1368 1004L1369.3 992.1L1371 976L1371.7 982.2L1372.9 991.3L1374 1000L1375.3 988.1L1376.5 976.3L1377.7 967.9L1378.9 959.5L1380 966L1381.3 977.1L1382.5 986.1L1383.7 995.4L1384.9 1004.8L1386.1 1007.8L1387.3 1006.9L1388.5 1006.4L1390 1004L1390.9 1007.9L1392.1 1011.2L1393 1014L1394.5 1012.2L1395.7 1010.9L1396.9 1011L1398.1 1010.4L1400 1006L1401.7 1017.6L1402.9 1020L1404.1 1020.8L1405.3 1019.8L1406.5 1016.7L1407.7 1015.8L1408.9 1010.1L1410.1 1002.2L1411 996L1412.5 996L1414 998L1414.9 996.1L1416.1 992.3L1417 990L1419 1006L1419.7 997.4L1420.9 983.4L1422.1 969.9L1423 960L1425 1010L1425.7 996.1L1426.9 971.9L1428.1 944.1L1429.4 914L1430.5 952.5L1431.7 983.3L1433 1008L1434.1 1001L1435.3 995.2L1437 992L1437.7 994.2L1438.9 1000.2L1440.1 1003.1L1441 1004L1442.5 982.4L1443.4 970L1445 1008L1446.1 948.6L1447.3 883.2L1448.5 816L1450 840L1451.5 813L1453.3 918L1454.5 990L1455.7 974.2L1457.5 947L1459.3 963.1L1460.5 977.3L1461.7 983.1L1462.6 986" fill="none" stroke="#ff7f0e" stroke-width="2.1" stroke-linejoin="round"/>
</g>
<rect x="1046.6" y="584.6" width="406" height="79.8" rx="3" ry="3" fill="#fff" fill-opacity="0.8" stroke="#ccc" stroke-opacity="0.8" stroke-width="1.1"/>
<circle cx="1073" cy="599.9" r="2.7" fill="#1f77b4"/>
<path d="M1053.6 637.9h38.8" stroke="#ff7f0e" stroke-width="2.1" fill="none"/>
<text x="1107.5" y="604.5" font-size="18.6" text-anchor="start" textLength="97.6" lengthAdjust="spacingAndGlyphs" >Raw Data</text>
<text x="1107.5" y="632.1" font-size="18.6" text-anchor="start" textLength="268.2" lengthAdjust="spacingAndGlyphs" >Butterworth Filtered Data</text>
<text x="1107.5" y="653.1" font-size="18.6" text-anchor="start" textLength="337.2" lengthAdjust="spacingAndGlyphs" >(N=6, Tc=3.3333 min, Type: low)</text>
<path d="M116.4 1054.4v4.9M284.6 1054.4v4.9M452.7 1054.4v4.9M620.9 1054.4v4.9M789 1054.4v4.9M957.1 1054.4v4.9M1125.3 1054.4v4.9M1293.5 1054.4v4.9M116.5 606.6h-4.9M116.5 659.9h-4.9M116.5 713.2h-4.9M116.5 766.5h-4.9M116.5 819.8h-4.9M116.5 873.1h-4.9M116.5 926.4h-4.9M116.5 979.7h-4.9M116.5 1033h-4.9" stroke="#000" stroke-width="1.1" fill="none"/>
<rect x="116.5" y="575.4" width="1346.1" height="479" fill="none" stroke="#000" stroke-width="1.1"/>
<text x="104.7" y="614.5" font-size="22.4" text-anchor="end" textLength="52.6" lengthAdjust="spacingAndGlyphs" >0.16</text>
<text x="104.7" y="667.8" font-size="22.4" text-anchor="end" textLength="52.6" lengthAdjust="spacingAndGlyphs" >0.14</text>
<text x="104.7" y="721.1" font-size="22.4" text-anchor="end" textLength="52.6" lengthAdjust="spacingAndGlyphs" >0.12</text>
<text x="104.7" y="774.4" font-size="22.4" text-anchor="end" textLength="52.6" lengthAdjust="spacingAndGlyphs" >0.10</text>
<text x="104.7" y="827.7" font-size="22.4" text-anchor="end" textLength="52.6" lengthAdjust="spacingAndGlyphs" >0.08</text>
<text x="104.7" y="881" font-size="22.4" text-anchor="end" textLength="52.6" lengthAdjust="spacingAndGlyphs" >0.06</text>
<text x="104.7" y="934.3" font-size="22.4" text-anchor="end" textLength="52.6" lengthAdjust="spacingAndGlyphs" >0.04</text>
<text x="104.7" y="987.6" font-size="22.4" text-anchor="end" textLength="52.6" lengthAdjust="spacingAndGlyphs" >0.02</text>
<text x="104.7" y="1040.9" font-size="22.4" text-anchor="end" textLength="52.6" lengthAdjust="spacingAndGlyphs" >0.00</text>
<text x="116.4" y="29.6" font-size="26.8" text-anchor="start" textLength="39.4" lengthAdjust="spacingAndGlyphs" >(a)</text>
<text x="116.4" y="566.6" font-size="26.8" text-anchor="start" textLength="41" lengthAdjust="spacingAndGlyphs" >(b)</text>
<text x="784.6" y="29.6" font-size="26.8" text-anchor="middle" textLength="299.4" lengthAdjust="spacingAndGlyphs" >10.0 MHz N0000032</text>
<text x="789.3" y="1157.6" font-size="22.6" text-anchor="middle" textLength="48.4" lengthAdjust="spacingAndGlyphs" >UTC</text>
<text transform="translate(36.6 278.4) rotate(-90)" font-size="22.4" text-anchor="middle" textLength="222.4" lengthAdjust="spacingAndGlyphs">Doppler Shift [Hz]</text>
<text transform="translate(36.6 815) rotate(-90)" font-size="22.4" text-anchor="middle" textLength="205.8" lengthAdjust="spacingAndGlyphs">Peak Voltage [V]</text>
<text transform="translate(112.6 1077.7) rotate(-30)" font-size="22.4" text-anchor="end" textLength="109.6" lengthAdjust="spacingAndGlyphs">08-09 00</text>
<text transform="translate(280.8 1077.7) rotate(-30)" font-size="22.4" text-anchor="end" textLength="109.6" lengthAdjust="spacingAndGlyphs">08-09 03</text>
<text transform="translate(448.9 1077.7) rotate(-30)" font-size="22.4" text-anchor="end" textLength="109.6" lengthAdjust="spacingAndGlyphs">08-09 06</text>
<text transform="translate(617.1 1077.7) rotate(-30)" font-size="22.4" text-anchor="end" textLength="109.6" lengthAdjust="spacingAndGlyphs">08-09 09</text>
<text transform="translate(785.2 1077.7) rotate(-30)" font-size="22.4" text-anchor="end" textLength="109.6" lengthAdjust="spacingAndGlyphs">08-09 12</text>
<text transform="translate(953.4 1077.7) rotate(-30)" font-size="22.4" text-anchor="end" textLength="109.6" lengthAdjust="spacingAndGlyphs">08-09 15</text>
<text transform="translate(1121.5 1077.7) rotate(-30)" font-size="22.4" text-anchor="end" textLength="109.6" lengthAdjust="spacingAndGlyphs">08-09 18</text>
<text transform="translate(1289.7 1077.7) rotate(-30)" font-size="22.4" text-anchor="end" textLength="109.6" lengthAdjust="spacingAndGlyphs">08-09 21</text>
</svg></body></html>
